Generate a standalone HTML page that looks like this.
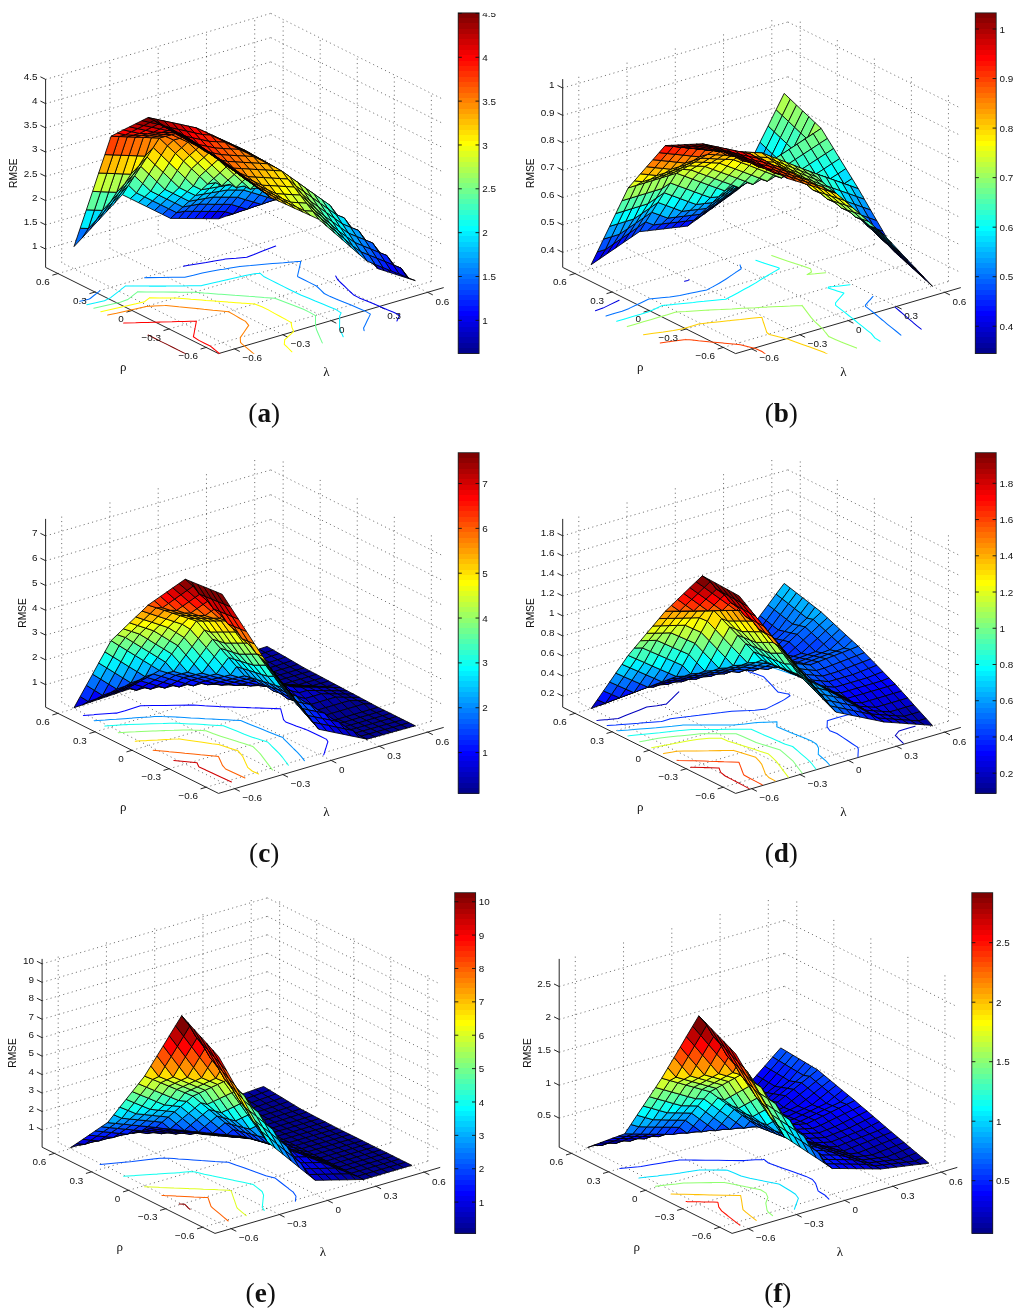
<!DOCTYPE html>
<html><head><meta charset="utf-8"><title>RMSE surfaces</title>
<style>html,body{margin:0;padding:0;background:#fff}body{width:1024px;height:1315px;overflow:hidden;font-family:"Liberation Sans",sans-serif}svg{display:block;will-change:transform;opacity:.999}</style>
</head><body>
<svg width="1024" height="1315" viewBox="0 0 1024 1315">
<rect width="1024" height="1315" fill="#fff"/>
<g><g stroke="#000" stroke-opacity="0.62" stroke-width="0.9" stroke-dasharray="1.1 3.3" fill="none"><line x1="234.59" y1="348.89" x2="61.69" y2="262.69"/><line x1="206.15" y1="347.44" x2="431.35" y2="281.44"/><line x1="61.69" y1="262.69" x2="61.69" y2="74.39"/><line x1="431.35" y1="281.44" x2="431.35" y2="93.14"/><line x1="282.84" y1="334.74" x2="109.94" y2="248.54"/><line x1="169.1" y1="328.97" x2="394.3" y2="262.97"/><line x1="109.94" y1="248.54" x2="109.94" y2="60.24"/><line x1="394.3" y1="262.97" x2="394.3" y2="74.67"/><line x1="331.1" y1="320.6" x2="158.2" y2="234.4"/><line x1="132.05" y1="310.5" x2="357.25" y2="244.5"/><line x1="158.2" y1="234.4" x2="158.2" y2="46.1"/><line x1="357.25" y1="244.5" x2="357.25" y2="56.2"/><line x1="379.36" y1="306.46" x2="206.46" y2="220.26"/><line x1="95" y1="292.03" x2="320.2" y2="226.03"/><line x1="206.46" y1="220.26" x2="206.46" y2="31.96"/><line x1="320.2" y1="226.03" x2="320.2" y2="37.73"/><line x1="427.61" y1="292.31" x2="254.71" y2="206.11"/><line x1="57.95" y1="273.56" x2="283.15" y2="207.56"/><line x1="254.71" y1="206.11" x2="254.71" y2="17.81"/><line x1="283.15" y1="207.56" x2="283.15" y2="19.26"/><line x1="45.6" y1="249.07" x2="270.8" y2="183.07"/><line x1="270.8" y1="183.07" x2="443.7" y2="269.27"/><line x1="45.6" y1="224.83" x2="270.8" y2="158.83"/><line x1="270.8" y1="158.83" x2="443.7" y2="245.03"/><line x1="45.6" y1="200.59" x2="270.8" y2="134.59"/><line x1="270.8" y1="134.59" x2="443.7" y2="220.79"/><line x1="45.6" y1="176.35" x2="270.8" y2="110.35"/><line x1="270.8" y1="110.35" x2="443.7" y2="196.55"/><line x1="45.6" y1="152.11" x2="270.8" y2="86.11"/><line x1="270.8" y1="86.11" x2="443.7" y2="172.31"/><line x1="45.6" y1="127.87" x2="270.8" y2="61.87"/><line x1="270.8" y1="61.87" x2="443.7" y2="148.07"/><line x1="45.6" y1="103.63" x2="270.8" y2="37.63"/><line x1="270.8" y1="37.63" x2="443.7" y2="123.83"/><line x1="45.6" y1="79.39" x2="270.8" y2="13.39"/><line x1="270.8" y1="13.39" x2="443.7" y2="99.59"/></g>
<g stroke="#1a1a1a" stroke-width="0.95" fill="none"><polyline points="45.6,79.1 45.6,267.4 218.5,353.6 443.7,287.6"/><line x1="206.15" y1="347.44" x2="200.58" y2="349.07"/><line x1="234.59" y1="348.89" x2="239.78" y2="351.47"/><line x1="169.1" y1="328.97" x2="163.53" y2="330.6"/><line x1="282.84" y1="334.74" x2="288.03" y2="337.33"/><line x1="132.05" y1="310.5" x2="126.48" y2="312.13"/><line x1="331.1" y1="320.6" x2="336.29" y2="323.19"/><line x1="95" y1="292.03" x2="89.43" y2="293.66"/><line x1="379.36" y1="306.46" x2="384.55" y2="309.04"/><line x1="57.95" y1="273.56" x2="52.38" y2="275.19"/><line x1="427.61" y1="292.31" x2="432.8" y2="294.9"/><line x1="45.6" y1="249.07" x2="40.41" y2="246.49"/><line x1="45.6" y1="224.83" x2="40.41" y2="222.25"/><line x1="45.6" y1="200.59" x2="40.41" y2="198.01"/><line x1="45.6" y1="176.35" x2="40.41" y2="173.76"/><line x1="45.6" y1="152.11" x2="40.41" y2="149.52"/><line x1="45.6" y1="127.87" x2="40.41" y2="125.28"/><line x1="45.6" y1="103.63" x2="40.41" y2="101.04"/><line x1="45.6" y1="79.39" x2="40.41" y2="76.8"/></g>
<clipPath id="clipa"><rect x="45.6" y="12.9" width="398.1" height="340.9"/></clipPath><g clip-path="url(#clipa)" fill="none" stroke-width="1.05" stroke-linecap="round"><path d="M183.4 266.3L187.2 265.6M196.7 264L187.2 265.6M206.2 262.4L196.7 264M215.7 260.7L206.2 262.4M223.6 259.4L215.7 260.7M223.6 259.4L225.2 259.1M236.1 258.2L225.2 259.1M246.8 257.2L236.1 258.2M254.1 254.4L246.8 257.2M261.3 251.6L254.1 254.4M268.5 248.8L261.3 251.6M275.7 246.1L268.5 248.8M335.7 276L337.7 279.7M337.7 279.7L341.6 283.5M341.6 283.5L345.5 287.2M345.7 287.3L349.4 291M345.5 287.2L345.7 287.3M349.4 291L353.3 294.7M353.3 294.7L359.2 297.9M359.2 297.9L366.2 300.7M366.2 300.7L373 303.6M373 303.6L379.9 306.5M379.9 306.5L386.7 309.4M386.7 309.4L393.6 312.2M393.6 312.2L399.7 315.3M397.6 319.6L396.9 321M399.7 315.3L397.6 319.6" stroke="#0000ef"/><path d="M83.6 300.4L79.9 301.3M93.9 295.5L90.2 298.5M98.9 291.6L93.9 295.5M100 290.7L98.9 291.6M144.6 277.7L147.4 277.6M159.9 277.5L147.4 277.6M162 277.5L159.9 277.5M83.6 300.4L88.7 299.3M90.2 298.5L88.7 299.3M162 277.5L172.4 277.3M179.4 277.2L172.4 277.3M179.4 277.2L184.8 277.2M193.5 275.2L184.8 277.2M202.3 273.1L193.5 275.2M211.3 271.3L202.3 273.1M220.8 269.6L211.3 271.3M223.7 269.2L220.8 269.6M223.7 269.2L230.3 268M239.8 266.4L230.3 268M250.7 265.5L239.8 266.4M253.9 265.2L250.7 265.5M253.9 265.2L261.6 264.5M272.5 263.6L261.6 264.5M277.4 263.2L272.5 263.6M277.4 263.2L283.5 262.7M294.4 261.8L283.5 262.7M300.8 261.2L294.4 261.8M300.1 264.6L299.7 266.4M300.8 261.2L300.1 264.6M298.8 270.3L298.5 271.7M299.7 266.4L298.8 270.3M297.5 276L297.9 276.7M298.5 271.7L297.5 276M297.9 276.7L304 279.8M304 279.8L310.2 282.9M310.2 282.9L316.4 286M316.4 286L320.3 289.7M320.3 289.7L324.2 293.5M324.2 293.5L330.3 296.6M330.3 296.6L337.2 299.4M337.2 299.4L344.1 302.3M344.1 302.3L351.1 305.1M351.1 305.1L357.9 308M357.9 308L364.8 310.9M364.8 310.9L370.4 314.1M368.6 317.9L367.6 319.8M370.4 314.1L368.6 317.9M366.1 323L364.9 325.5M367.6 319.8L366.1 323M363.6 328.1L364.1 330.7M364.9 325.5L363.6 328.1" stroke="#0070ff"/><path d="M125.6 285.9L121.1 289.4M133.1 285.9L125.6 285.9M115.8 293.7L111.3 297.2M120.7 289.8L115.8 293.7M121.1 289.4L120.7 289.8M133.1 285.9L138.6 286M149.3 286.1L138.6 286M95.7 302.8L86.8 304.7M104.5 300.8L95.7 302.8M110.8 297.6L104.5 300.8M111.3 297.2L110.8 297.6M149.3 286.1L151.6 286.1M164.4 286.1L151.6 286.1M165.9 286.1L164.4 286.1M165.9 286.1L176.9 286M183.3 285.9L176.9 286M183.3 285.9L189.4 285.8M200.7 285.7L189.4 285.8M200.7 285.7L201.8 285.6M210.5 283.6L201.8 285.6M219.3 281.6L210.5 283.6M228 279.6L219.3 281.6M236.7 277.6L228 279.6M245.4 275.6L236.7 277.6M254.4 273.7L245.4 275.6M259.9 273.2L254.4 273.7M259.9 273.2L264.2 276.8M264.2 276.8L270.3 279.9M270.3 279.9L276.5 283M276.5 283L282.7 286.1M282.7 286.1L288.9 289.2M288.9 289.2L295 292.2M295 292.2L301.3 295.3M301.3 295.3L308.3 298.1M308.3 298.1L315.2 301M315.2 301L322.1 303.8M322.1 303.8L329.1 306.7M329.1 306.7L336 309.6M336 309.6L341.1 312.9M339.6 316.1L339.6 318.3M341.1 312.9L339.6 316.1M339.6 322.5L339.6 323.2M339.6 318.3L339.6 322.5M339.6 323.2L339.5 328.1M339.8 329L341.3 332.4M339.5 328.1L339.8 329M341.3 332.4L343.2 336.8" stroke="#00efff"/><path d="M132.7 295.7L132.5 295.9M137.6 291.8L132.7 295.7M146.1 291.9L137.6 291.8M102.6 306.2L93.8 308.2M111.4 304.3L102.6 306.2M120.2 302.3L111.4 304.3M127.7 299.6L120.2 302.3M132.5 295.9L127.7 299.6M146.1 291.9L150.6 291.9M162.3 292L150.6 291.9M162.3 292L163.6 292M176.5 292.1L163.6 292M178.5 292.2L176.5 292.1M178.5 292.2L189.5 292.2M194.8 292.3L189.5 292.2M194.8 292.3L203.8 293M207.9 293.3L203.8 293M207.9 293.3L218.9 294.2M221.2 294.3L218.9 294.2M221.2 294.3L233.8 295.2M234.6 295.3L233.8 295.2M234.6 295.3L248 296.2M248 296.2L248.7 296.3M261.4 297.2L248.7 296.3M261.4 297.2L263.6 297.4M274.8 298.2L263.6 297.4M274.8 298.2L282 300.9M282 300.9L289.2 303.7M289.2 303.7L289.2 303.7M289.2 303.7L296.4 306.5M296.4 306.5L303.5 309.3M303.5 309.3L309.7 312.4M309.7 312.4L315.5 315.6M315.5 316.8L315.5 320.5M315.5 315.6L315.5 316.8M315.5 323.2L315.4 325.4M315.5 320.5L315.5 323.2M315.4 325.4L316.6 329.9M316.8 330.2L318.5 334.2M316.6 329.9L316.8 330.2M320.3 338.4L320.4 338.6M318.5 334.2L320.3 338.4M320.4 338.6L322.3 342.9" stroke="#70ff8f"/><path d="M109.6 309.7L100.8 311.7M118.4 307.7L109.6 309.7M127.2 305.7L118.4 307.7M136 303.8L127.2 305.7M144.6 301.7L136 303.8M149.5 297.8L144.6 301.7M159.1 297.9L149.5 297.8M159.1 297.9L162.5 297.9M175.3 298L162.5 297.9M175.3 298L175.5 298M188.5 299L175.5 298M188.5 299L190.7 299.2M201.7 300L190.7 299.2M201.7 300L205.8 300.4M214.8 301.1L205.8 300.4M214.8 301.1L220.9 301.5M228 302.1L220.9 301.5M228 302.1L236.1 302.7M241.3 303.1L236.1 302.7M241.3 303.1L251 303.8M254.7 304.1L251 303.8M254.7 304.1L261.9 306.8M261.9 306.8L268.3 309.9M268.3 309.9L274 313.1M274 313.1L279.8 316.2M279.8 316.2L285.6 319.4M285.6 319.4L291.4 322.6M291.3 323.9L291.9 327.4M291.4 322.6L291.3 323.9M293.7 331.5L293.4 331.8M291.9 327.4L293.7 331.5M289.2 335.6L285.4 339.1M293.4 331.8L289.2 335.6M284.7 339.7L284.3 344.3M285.4 339.1L284.7 339.7M287.5 347.4L288.1 348M284.3 344.3L287.5 347.4M288.1 348L291.9 351.8" stroke="#ffff00"/><path d="M116.6 313.2L107.7 315.1M125.4 311.2L116.6 313.2M134.2 309.2L125.4 311.2M143 307.2L134.2 309.2M146.2 306.5L143 307.2M146.2 306.5L153.5 306.1M165 305.5L153.5 306.1M166.1 305.6L165 305.5M166.1 305.6L178.6 306.8M178.6 306.8L180.9 307M191.1 308L180.9 307M191.1 308L196.8 308.6M203.6 309.3L196.8 308.6M203.6 309.3L212.7 310.2M216.1 310.5L212.7 310.2M216.1 310.5L228.6 311.7M228.6 311.7L228.6 311.7M228.6 311.7L234.2 314.9M228.6 311.7L228.6 311.7M234.2 314.9L239.8 318.2M239.8 318.2L245.5 321.4M245.5 321.4L248.7 325.4M247.3 327.4L244.5 331.5M248.7 325.4L247.3 327.4M240.8 336.9L240.3 337.6M244 332.2L240.8 336.9M244.5 331.5L244 332.2M240.3 337.6L240.5 342.4M241.9 343.8L244.6 346.1M240.5 342.4L241.9 343.8M244.6 346.1L248.9 349.7M248.9 349.7L253.3 353.4M253.3 353.4L257.6 357M257.6 357L262.5 360.4" stroke="#ff8000"/><path d="M135.8 322.8L123.7 323.1M141.3 322.6L135.8 322.8M141.3 322.6L147.9 322.4M159.7 322.1L147.9 322.4M159.7 322.1L160 322.1M172.2 321.8L160 322.1M178 321.6L172.2 321.8M178 321.6L184.3 321.5M196.4 321.1L184.3 321.5M196.4 321.1L196.4 321.1M196.4 321.1L195.4 326.3M196.4 321.1L196.4 321.1M195.3 327L194.4 331.5M195.4 326.3L195.3 327M194.2 332.8L193.4 336.7M194.4 331.5L194.2 332.8M193.4 336.7L198.4 340.1M198.4 340.1L204.5 343.2M204.5 343.2L210.7 346.3M213.9 349L215 349.9M210.7 346.3L213.9 349M215 349.9L219.3 353.5M219.3 353.5L224 357.1M224 357.1L229 360.5M229 360.5L234.1 363.9M234.1 363.9L239.1 367.3" stroke="#ff0000"/><path d="M148.6 335.1L147.9 335.2M148.6 335.1L154.6 338.3M154.6 338.3L160.7 341.4M160.7 341.4L166.9 344.4M166.9 344.4L173.1 347.5M173.1 347.5L179.3 350.6M179.3 350.6L185.4 353.7M185.4 353.7L186.5 354.4" stroke="#800000"/></g>
<g stroke="#000" stroke-width="0.85" stroke-linejoin="round"><polygon points="259,203.7 267.1,200.7 273.2,199 265.2,202" fill="#0000df"/><polygon points="251,206.7 259,203.7 265.2,202 257.2,205" fill="#0000df"/><polygon points="242.9,209.7 251,206.7 257.2,205 249.1,208" fill="#0000cf"/><polygon points="265.2,202 273.2,199 279.4,197.2 271.4,200.2" fill="#0000ef"/><polygon points="234.9,212.7 242.9,209.7 249.1,208 241.1,211" fill="#0000cf"/><polygon points="257.2,205 265.2,202 271.4,200.2 263.3,203.2" fill="#0000ef"/><polygon points="226.9,215.8 234.9,212.7 241.1,211 233,214" fill="#0000cf"/><polygon points="249.1,208 257.2,205 263.3,203.2 255.3,206.2" fill="#0000ef"/><polygon points="271.4,200.2 279.4,197.2 285.6,195.4 277.5,198.4" fill="#0010ff"/><polygon points="241.1,211 249.1,208 255.3,206.2 247.2,209.2" fill="#0000ef"/><polygon points="218.8,218.8 226.9,215.8 233,214 225,211.6" fill="#0000ef"/><polygon points="263.3,203.2 271.4,200.2 277.5,198.4 269.5,201.4" fill="#0010ff"/><polygon points="255.3,206.2 263.3,203.2 269.5,201.4 261.5,204.4" fill="#0010ff"/><polygon points="233,214 241.1,211 247.2,209.2 239.2,206.8" fill="#0000ff"/><polygon points="277.5,198.4 285.6,195.4 291.8,193.7 283.7,196.7" fill="#0030ff"/><polygon points="210.8,218.7 218.8,218.8 225,211.6 216.9,211.5" fill="#0000ef"/><polygon points="269.5,201.4 277.5,198.4 283.7,196.7 275.7,199.7" fill="#0030ff"/><polygon points="247.2,209.2 255.3,206.2 261.5,204.4 253.4,202" fill="#0020ff"/><polygon points="225,211.6 233,214 239.2,206.8 231.2,204.4" fill="#0020ff"/><polygon points="202.7,218.6 210.8,218.7 216.9,211.5 208.9,211.4" fill="#0000ff"/><polygon points="283.7,196.7 291.8,193.7 297.9,191.9 289.9,194.9" fill="#0040ff"/><polygon points="261.5,204.4 269.5,201.4 275.7,199.7 267.6,197.3" fill="#0040ff"/><polygon points="239.2,206.8 247.2,209.2 253.4,202 245.4,199.6" fill="#0040ff"/><polygon points="194.7,218.6 202.7,218.6 208.9,211.4 200.9,211.4" fill="#0010ff"/><polygon points="216.9,211.5 225,211.6 231.2,204.4 223.1,204.3" fill="#0030ff"/><polygon points="275.7,199.7 283.7,196.7 289.9,194.9 281.9,192.5" fill="#0060ff"/><polygon points="253.4,202 261.5,204.4 267.6,197.3 259.6,194.8" fill="#0060ff"/><polygon points="231.2,204.4 239.2,206.8 245.4,199.6 237.3,197.2" fill="#0060ff"/><polygon points="186.6,218.5 194.7,218.6 200.9,211.4 192.8,211.3" fill="#0020ff"/><polygon points="289.9,194.9 297.9,191.9 304.1,190.1 296.1,187.7" fill="#0080ff"/><polygon points="208.9,211.4 216.9,211.5 223.1,204.3 215.1,204.3" fill="#0040ff"/><polygon points="267.6,197.3 275.7,199.7 281.9,192.5 273.8,190.1" fill="#0080ff"/><polygon points="245.4,199.6 253.4,202 259.6,194.8 251.6,192.4" fill="#0070ff"/><polygon points="178.6,218.4 186.6,218.5 192.8,211.3 184.8,211.2" fill="#0030ff"/><polygon points="200.9,211.4 208.9,211.4 215.1,204.3 207,204.2" fill="#0050ff"/><polygon points="223.1,204.3 231.2,204.4 237.3,197.2 229.3,197.1" fill="#0060ff"/><polygon points="281.9,192.5 289.9,194.9 296.1,187.7 288,185.3" fill="#009fff"/><polygon points="296.1,187.7 304.1,190.1 310.3,197.6 302.2,195.1" fill="#0060ff"/><polygon points="259.6,194.8 267.6,197.3 273.8,190.1 265.8,187.7" fill="#008fff"/><polygon points="302.2,195.1 310.3,197.6 316.5,205 308.4,202.6" fill="#0050ff"/><polygon points="170.6,218.4 178.6,218.4 184.8,211.2 176.7,212.6" fill="#0030ff"/><polygon points="237.3,197.2 245.4,199.6 251.6,192.4 243.5,190" fill="#008fff"/><polygon points="192.8,211.3 200.9,211.4 207,204.2 199,204.1" fill="#0050ff"/><polygon points="215.1,204.3 223.1,204.3 229.3,197.1 221.2,197.1" fill="#0070ff"/><polygon points="308.4,202.6 316.5,205 322.6,212.4 314.6,210" fill="#0030ff"/><polygon points="273.8,190.1 281.9,192.5 288,185.3 280,182.9" fill="#00afff"/><polygon points="288,185.3 296.1,187.7 302.2,195.1 294.2,192.7" fill="#0080ff"/><polygon points="314.6,210 322.6,212.4 328.8,219.9 320.8,217.5" fill="#0020ff"/><polygon points="251.6,192.4 259.6,194.8 265.8,187.7 257.7,185.2" fill="#00afff"/><polygon points="294.2,192.7 302.2,195.1 308.4,202.6 300.4,200.2" fill="#0070ff"/><polygon points="184.8,211.2 192.8,211.3 199,204.1 190.9,205.5" fill="#0060ff"/><polygon points="207,204.2 215.1,204.3 221.2,197.1 213.2,197" fill="#0080ff"/><polygon points="162.5,214.4 170.6,218.4 176.7,212.6 168.7,208.7" fill="#0050ff"/><polygon points="229.3,197.1 237.3,197.2 243.5,190 235.5,190" fill="#009fff"/><polygon points="320.8,217.5 328.8,219.9 335,227.3 326.9,224.9" fill="#0010ff"/><polygon points="300.4,200.2 308.4,202.6 314.6,210 306.6,207.6" fill="#0050ff"/><polygon points="265.8,187.7 273.8,190.1 280,182.9 271.9,180.5" fill="#00cfff"/><polygon points="280,182.9 288,185.3 294.2,192.7 286.2,190.3" fill="#009fff"/><polygon points="326.9,224.9 335,227.3 341.2,234.8 333.1,228" fill="#0010ff"/><polygon points="176.7,212.6 184.8,211.2 190.9,205.5 182.9,206.9" fill="#0060ff"/><polygon points="306.6,207.6 314.6,210 320.8,217.5 312.7,215.1" fill="#0040ff"/><polygon points="199,204.1 207,204.2 213.2,197 205.2,198.4" fill="#0080ff"/><polygon points="243.5,190 251.6,192.4 257.7,185.2 249.7,182.8" fill="#00cfff"/><polygon points="221.2,197.1 229.3,197.1 235.5,190 227.4,189.9" fill="#00afff"/><polygon points="286.2,190.3 294.2,192.7 300.4,200.2 292.3,197.8" fill="#0080ff"/><polygon points="154.5,210.5 162.5,214.4 168.7,208.7 160.6,204.7" fill="#0070ff"/><polygon points="333.1,228 341.2,234.8 347.3,240.4 339.3,233.7" fill="#0000ff"/><polygon points="312.7,215.1 320.8,217.5 326.9,224.9 318.9,218.1" fill="#0040ff"/><polygon points="292.3,197.8 300.4,200.2 306.6,207.6 298.5,205.2" fill="#0070ff"/><polygon points="257.7,185.2 265.8,187.7 271.9,180.5 263.9,178.1" fill="#00dfff"/><polygon points="271.9,180.5 280,182.9 286.2,190.3 278.1,187.9" fill="#00afff"/><polygon points="190.9,205.5 199,204.1 205.2,198.4 197.1,199.8" fill="#008fff"/><polygon points="168.7,208.7 176.7,212.6 182.9,206.9 174.9,202.9" fill="#0080ff"/><polygon points="213.2,197 221.2,197.1 227.4,189.9 219.4,191.3" fill="#00afff"/><polygon points="235.5,190 243.5,190 249.7,182.8 241.6,182.8" fill="#00cfff"/><polygon points="339.3,233.7 347.3,240.4 353.5,246.1 345.5,239.3" fill="#0000ef"/><polygon points="298.5,205.2 306.6,207.6 312.7,215.1 304.7,208.3" fill="#0070ff"/><polygon points="278.1,187.9 286.2,190.3 292.3,197.8 284.3,195.4" fill="#009fff"/><polygon points="318.9,218.1 326.9,224.9 333.1,228 325.1,221.2" fill="#0040ff"/><polygon points="182.9,206.9 190.9,205.5 197.1,199.8 189.1,201.2" fill="#008fff"/><polygon points="146.4,206.5 154.5,210.5 160.6,204.7 152.6,200.8" fill="#008fff"/><polygon points="345.5,239.3 353.5,246.1 359.7,251.8 351.6,245" fill="#0000df"/><polygon points="205.2,198.4 213.2,197 219.4,191.3 211.3,192.7" fill="#00afff"/><polygon points="284.3,195.4 292.3,197.8 298.5,205.2 290.5,198.4" fill="#009fff"/><polygon points="249.7,182.8 257.7,185.2 263.9,178.1 255.9,175.7" fill="#00ffff"/><polygon points="263.9,178.1 271.9,180.5 278.1,187.9 270.1,185.5" fill="#00cfff"/><polygon points="227.4,189.9 235.5,190 241.6,182.8 233.6,184.2" fill="#00dfff"/><polygon points="304.7,208.3 312.7,215.1 318.9,218.1 310.9,211.4" fill="#0070ff"/><polygon points="325.1,221.2 333.1,228 339.3,233.7 331.3,226.9" fill="#0030ff"/><polygon points="160.6,204.7 168.7,208.7 174.9,202.9 166.8,199" fill="#009fff"/><polygon points="351.6,245 359.7,251.8 365.9,257.4 357.8,250.7" fill="#0000cf"/><polygon points="270.1,185.5 278.1,187.9 284.3,195.4 276.3,188.6" fill="#00cfff"/><polygon points="197.1,199.8 205.2,198.4 211.3,192.7 203.3,194.1" fill="#00bfff"/><polygon points="290.5,198.4 298.5,205.2 304.7,208.3 296.6,201.5" fill="#009fff"/><polygon points="174.9,202.9 182.9,206.9 189.1,201.2 181,197.2" fill="#00afff"/><polygon points="331.3,226.9 339.3,233.7 345.5,239.3 337.4,232.5" fill="#0020ff"/><polygon points="219.4,191.3 227.4,189.9 233.6,184.2 225.6,185.5" fill="#00dfff"/><polygon points="310.9,211.4 318.9,218.1 325.1,221.2 317,214.4" fill="#0070ff"/><polygon points="241.6,182.8 249.7,182.8 255.9,175.7 247.8,177" fill="#00ffff"/><polygon points="138.4,202.6 146.4,206.5 152.6,200.8 144.6,196.8" fill="#00bfff"/><polygon points="357.8,250.7 365.9,257.4 372,263.1 364,256.3" fill="#0000bf"/><polygon points="255.9,175.7 263.9,178.1 270.1,185.5 262,178.7" fill="#00ffff"/><polygon points="276.3,188.6 284.3,195.4 290.5,198.4 282.4,191.7" fill="#00cfff"/><polygon points="337.4,232.5 345.5,239.3 351.6,245 343.6,238.2" fill="#0010ff"/><polygon points="189.1,201.2 197.1,199.8 203.3,194.1 195.3,195.4" fill="#00bfff"/><polygon points="152.6,200.8 160.6,204.7 166.8,199 158.8,195.1" fill="#00bfff"/><polygon points="296.6,201.5 304.7,208.3 310.9,211.4 302.8,204.6" fill="#009fff"/><polygon points="211.3,192.7 219.4,191.3 225.6,185.5 217.5,186.9" fill="#00dfff"/><polygon points="317,214.4 325.1,221.2 331.3,226.9 323.2,220.1" fill="#0060ff"/><polygon points="233.6,184.2 241.6,182.8 247.8,177 239.8,178.4" fill="#10ffef"/><polygon points="364,256.3 372,263.1 378.2,268.8 370.2,258.2" fill="#0000cf"/><polygon points="166.8,199 174.9,202.9 181,197.2 173,193.3" fill="#00cfff"/><polygon points="262,178.7 270.1,185.5 276.3,188.6 268.2,181.8" fill="#00ffff"/><polygon points="343.6,238.2 351.6,245 357.8,250.7 349.8,243.9" fill="#0000ff"/><polygon points="282.4,191.7 290.5,198.4 296.6,201.5 288.6,194.7" fill="#00cfff"/><polygon points="247.8,177 255.9,175.7 262,178.7 254,180.1" fill="#00ffff"/><polygon points="323.2,220.1 331.3,226.9 337.4,232.5 329.4,225.8" fill="#0050ff"/><polygon points="203.3,194.1 211.3,192.7 217.5,186.9 209.5,188.3" fill="#00efff"/><polygon points="130.3,198.6 138.4,202.6 144.6,196.8 136.5,192.9" fill="#00dfff"/><polygon points="181,197.2 189.1,201.2 195.3,195.4 187.2,191.5" fill="#00dfff"/><polygon points="302.8,204.6 310.9,211.4 317,214.4 309,207.7" fill="#009fff"/><polygon points="225.6,185.5 233.6,184.2 239.8,178.4 231.7,179.8" fill="#10ffef"/><polygon points="370.2,258.2 378.2,268.8 384.4,270.7 376.3,260.2" fill="#0000cf"/><polygon points="349.8,243.9 357.8,250.7 364,256.3 356,245.7" fill="#0010ff"/><polygon points="144.6,196.8 152.6,200.8 158.8,195.1 150.7,191.1" fill="#00efff"/><polygon points="268.2,181.8 276.3,188.6 282.4,191.7 274.4,184.9" fill="#00ffff"/><polygon points="329.4,225.8 337.4,232.5 343.6,238.2 335.6,231.4" fill="#0040ff"/><polygon points="239.8,178.4 247.8,177 254,180.1 245.9,181.5" fill="#10ffef"/><polygon points="195.3,195.4 203.3,194.1 209.5,188.3 201.4,189.7" fill="#00efff"/><polygon points="288.6,194.7 296.6,201.5 302.8,204.6 294.8,197.8" fill="#00cfff"/><polygon points="254,180.1 262,178.7 268.2,181.8 260.2,183.2" fill="#00ffff"/><polygon points="309,207.7 317,214.4 323.2,220.1 315.2,213.3" fill="#008fff"/><polygon points="158.8,195.1 166.8,199 173,193.3 164.9,189.3" fill="#00efff"/><polygon points="217.5,186.9 225.6,185.5 231.7,179.8 223.7,181.2" fill="#10ffef"/><polygon points="356,245.7 364,256.3 370.2,258.2 362.1,247.6" fill="#0010ff"/><polygon points="335.6,231.4 343.6,238.2 349.8,243.9 341.7,233.3" fill="#0040ff"/><polygon points="173,193.3 181,197.2 187.2,191.5 179.2,187.5" fill="#00ffff"/><polygon points="122.3,194.7 130.3,198.6 136.5,192.9 128.5,185.2" fill="#10ffef"/><polygon points="376.3,260.2 384.4,270.7 390.6,272.7 382.5,262.1" fill="#0000cf"/><polygon points="274.4,184.9 282.4,191.7 288.6,194.7 280.6,188" fill="#00ffff"/><polygon points="231.7,179.8 239.8,178.4 245.9,181.5 237.9,182.9" fill="#10ffef"/><polygon points="315.2,213.3 323.2,220.1 329.4,225.8 321.3,219" fill="#0080ff"/><polygon points="245.9,181.5 254,180.1 260.2,183.2 252.1,184.6" fill="#10ffef"/><polygon points="294.8,197.8 302.8,204.6 309,207.7 301,200.9" fill="#00cfff"/><polygon points="260.2,183.2 268.2,181.8 274.4,184.9 266.3,186.3" fill="#00ffff"/><polygon points="209.5,188.3 217.5,186.9 223.7,181.2 215.6,182.6" fill="#20ffdf"/><polygon points="187.2,191.5 195.3,195.4 201.4,189.7 193.4,185.8" fill="#10ffef"/><polygon points="136.5,192.9 144.6,196.8 150.7,191.1 142.7,183.5" fill="#20ffdf"/><polygon points="114.3,203.3 122.3,194.7 128.5,185.2 120.4,193.9" fill="#00efff"/><polygon points="106.2,212 114.3,203.3 120.4,193.9 112.4,202.6" fill="#00cfff"/><polygon points="341.7,233.3 349.8,243.9 356,245.7 347.9,235.2" fill="#0050ff"/><polygon points="321.3,219 329.4,225.8 335.6,231.4 327.5,220.9" fill="#0080ff"/><polygon points="223.7,181.2 231.7,179.8 237.9,182.9 229.9,184.3" fill="#10ffef"/><polygon points="150.7,191.1 158.8,195.1 164.9,189.3 156.9,181.7" fill="#30ffcf"/><polygon points="98.2,220.7 106.2,212 112.4,202.6 104.3,211.2" fill="#00afff"/><polygon points="362.1,247.6 370.2,258.2 376.3,260.2 368.3,249.6" fill="#0010ff"/><polygon points="280.6,188 288.6,194.7 294.8,197.8 286.7,191" fill="#00ffff"/><polygon points="237.9,182.9 245.9,181.5 252.1,184.6 244.1,186" fill="#10ffef"/><polygon points="382.5,262.1 390.6,272.7 396.7,274.7 388.7,264.1" fill="#0000df"/><polygon points="90.1,229.3 98.2,220.7 104.3,211.2 96.3,219.9" fill="#008fff"/><polygon points="301,200.9 309,207.7 315.2,213.3 307.1,206.6" fill="#00bfff"/><polygon points="82.1,238 90.1,229.3 96.3,219.9 88.3,228.5" fill="#0060ff"/><polygon points="252.1,184.6 260.2,183.2 266.3,186.3 258.3,187.7" fill="#10ffef"/><polygon points="201.4,189.7 209.5,188.3 215.6,182.6 207.6,184" fill="#20ffdf"/><polygon points="266.3,186.3 274.4,184.9 280.6,188 272.5,189.4" fill="#00ffff"/><polygon points="164.9,189.3 173,193.3 179.2,187.5 171.1,179.9" fill="#40ffbf"/><polygon points="74,246.6 82.1,238 88.3,228.5 80.2,228.2" fill="#0070ff"/><polygon points="215.6,182.6 223.7,181.2 229.9,184.3 221.8,185.7" fill="#20ffdf"/><polygon points="327.5,220.9 335.6,231.4 341.7,233.3 333.7,222.7" fill="#008fff"/><polygon points="229.9,184.3 237.9,182.9 244.1,186 236,187.4" fill="#10ffef"/><polygon points="307.1,206.6 315.2,213.3 321.3,219 313.3,208.4" fill="#00bfff"/><polygon points="179.2,187.5 187.2,191.5 193.4,185.8 185.3,178.1" fill="#50ffaf"/><polygon points="286.7,191 294.8,197.8 301,200.9 292.9,194.1" fill="#00ffff"/><polygon points="347.9,235.2 356,245.7 362.1,247.6 354.1,237" fill="#0050ff"/><polygon points="244.1,186 252.1,184.6 258.3,187.7 250.3,189.1" fill="#10ffef"/><polygon points="368.3,249.6 376.3,260.2 382.5,262.1 374.5,251.6" fill="#0020ff"/><polygon points="388.7,264.1 396.7,274.7 402.9,276.7 394.9,266.1" fill="#0000df"/><polygon points="258.3,187.7 266.3,186.3 272.5,189.4 264.5,190.7" fill="#10ffef"/><polygon points="128.5,185.2 136.5,192.9 142.7,183.5 134.6,175.8" fill="#50ffaf"/><polygon points="272.5,189.4 280.6,188 286.7,191 278.7,192.4" fill="#00ffff"/><polygon points="193.4,185.8 201.4,189.7 207.6,184 199.6,176.3" fill="#50ffaf"/><polygon points="142.7,183.5 150.7,191.1 156.9,181.7 148.9,174" fill="#60ff9f"/><polygon points="207.6,184 215.6,182.6 221.8,185.7 213.8,178.3" fill="#50ffaf"/><polygon points="313.3,208.4 321.3,219 327.5,220.9 319.5,210.3" fill="#00cfff"/><polygon points="292.9,194.1 301,200.9 307.1,206.6 299.1,196" fill="#00ffff"/><polygon points="221.8,185.7 229.9,184.3 236,187.4 228,180" fill="#50ffaf"/><polygon points="333.7,222.7 341.7,233.3 347.9,235.2 339.9,224.6" fill="#008fff"/><polygon points="354.1,237 362.1,247.6 368.3,249.6 360.3,239" fill="#0060ff"/><polygon points="120.4,193.9 128.5,185.2 134.6,175.8 126.6,184.4" fill="#30ffcf"/><polygon points="236,187.4 244.1,186 250.3,189.1 242.2,181.7" fill="#40ffbf"/><polygon points="156.9,181.7 164.9,189.3 171.1,179.9 163.1,172.2" fill="#70ff8f"/><polygon points="374.5,251.6 382.5,262.1 388.7,264.1 380.7,253.5" fill="#0020ff"/><polygon points="112.4,202.6 120.4,193.9 126.6,184.4 118.6,193.1" fill="#10ffef"/><polygon points="250.3,189.1 258.3,187.7 264.5,190.7 256.4,183.4" fill="#40ffbf"/><polygon points="394.9,266.1 402.9,276.7 409.1,278.7 401,268.1" fill="#0000df"/><polygon points="104.3,211.2 112.4,202.6 118.6,193.1 110.5,201.8" fill="#00efff"/><polygon points="96.3,219.9 104.3,211.2 110.5,201.8 102.5,210.4" fill="#00cfff"/><polygon points="264.5,190.7 272.5,189.4 278.7,192.4 270.6,185.1" fill="#40ffbf"/><polygon points="278.7,192.4 286.7,191 292.9,194.1 284.9,186.8" fill="#30ffcf"/><polygon points="171.1,179.9 179.2,187.5 185.3,178.1 177.3,170.4" fill="#80ff80"/><polygon points="88.3,228.5 96.3,219.9 102.5,210.4 94.4,210.1" fill="#00dfff"/><polygon points="299.1,196 307.1,206.6 313.3,208.4 305.3,197.9" fill="#10ffef"/><polygon points="319.5,210.3 327.5,220.9 333.7,222.7 325.7,212.2" fill="#00cfff"/><polygon points="339.9,224.6 347.9,235.2 354.1,237 346,226.5" fill="#009fff"/><polygon points="185.3,178.1 193.4,185.8 199.6,176.3 191.5,168.7" fill="#8fff70"/><polygon points="401,268.1 409.1,278.7 415.3,280.6 407.2,277.4" fill="#0000bf"/><polygon points="360.3,239 368.3,249.6 374.5,251.6 366.4,241" fill="#0060ff"/><polygon points="380.7,253.5 388.7,264.1 394.9,266.1 386.8,255.5" fill="#0020ff"/><polygon points="199.6,176.3 207.6,184 213.8,178.3 205.7,170.7" fill="#80ff80"/><polygon points="134.6,175.8 142.7,183.5 148.9,174 140.8,166.3" fill="#9fff60"/><polygon points="80.2,228.2 88.3,228.5 94.4,210.1 86.4,209.8" fill="#00efff"/><polygon points="213.8,178.3 221.8,185.7 228,180 220,172.7" fill="#80ff80"/><polygon points="228,180 236,187.4 242.2,181.7 234.2,174.4" fill="#80ff80"/><polygon points="284.9,186.8 292.9,194.1 299.1,196 291,188.7" fill="#40ffbf"/><polygon points="242.2,181.7 250.3,189.1 256.4,183.4 248.4,176.1" fill="#70ff8f"/><polygon points="256.4,183.4 264.5,190.7 270.6,185.1 262.6,177.8" fill="#70ff8f"/><polygon points="148.9,174 156.9,181.7 163.1,172.2 155,164.6" fill="#afff50"/><polygon points="305.3,197.9 313.3,208.4 319.5,210.3 311.4,199.7" fill="#10ffef"/><polygon points="270.6,185.1 278.7,192.4 284.9,186.8 276.8,179.4" fill="#70ff8f"/><polygon points="325.7,212.2 333.7,222.7 339.9,224.6 331.8,214" fill="#00dfff"/><polygon points="386.8,255.5 394.9,266.1 401,268.1 393,264.8" fill="#0000ff"/><polygon points="346,226.5 354.1,237 360.3,239 352.2,228.4" fill="#009fff"/><polygon points="366.4,241 374.5,251.6 380.7,253.5 372.6,243" fill="#0060ff"/><polygon points="126.6,184.4 134.6,175.8 140.8,166.3 132.8,175" fill="#80ff80"/><polygon points="163.1,172.2 171.1,179.9 177.3,170.4 169.3,162.8" fill="#afff50"/><polygon points="118.6,193.1 126.6,184.4 132.8,175 124.7,183.7" fill="#50ffaf"/><polygon points="110.5,201.8 118.6,193.1 124.7,183.7 116.7,192.3" fill="#30ffcf"/><polygon points="393,264.8 401,268.1 407.2,277.4 399.2,274.1" fill="#0000df"/><polygon points="291,188.7 299.1,196 305.3,197.9 297.2,190.5" fill="#40ffbf"/><polygon points="102.5,210.4 110.5,201.8 116.7,192.3 108.6,192" fill="#40ffbf"/><polygon points="177.3,170.4 185.3,178.1 191.5,168.7 183.5,161" fill="#bfff40"/><polygon points="311.4,199.7 319.5,210.3 325.7,212.2 317.6,201.6" fill="#20ffdf"/><polygon points="372.6,243 380.7,253.5 386.8,255.5 378.8,252.3" fill="#0040ff"/><polygon points="331.8,214 339.9,224.6 346,226.5 338,215.9" fill="#00dfff"/><polygon points="191.5,168.7 199.6,176.3 205.7,170.7 197.7,163" fill="#bfff40"/><polygon points="352.2,228.4 360.3,239 366.4,241 358.4,230.4" fill="#009fff"/><polygon points="205.7,170.7 213.8,178.3 220,172.7 211.9,165" fill="#afff50"/><polygon points="220,172.7 228,180 234.2,174.4 226.1,167" fill="#afff50"/><polygon points="276.8,179.4 284.9,186.8 291,188.7 283,181.3" fill="#70ff8f"/><polygon points="234.2,174.4 242.2,181.7 248.4,176.1 240.3,168.7" fill="#afff50"/><polygon points="248.4,176.1 256.4,183.4 262.6,177.8 254.6,170.4" fill="#9fff60"/><polygon points="94.4,210.1 102.5,210.4 108.6,192 100.6,191.7" fill="#50ffaf"/><polygon points="378.8,252.3 386.8,255.5 393,264.8 385,261.6" fill="#0020ff"/><polygon points="140.8,166.3 148.9,174 155,164.6 147,156.9" fill="#dfff20"/><polygon points="262.6,177.8 270.6,185.1 276.8,179.4 268.8,172.1" fill="#9fff60"/><polygon points="297.2,190.5 305.3,197.9 311.4,199.7 303.4,192.4" fill="#50ffaf"/><polygon points="385,261.6 393,264.8 399.2,274.1 391.1,270.9" fill="#0000ff"/><polygon points="358.4,230.4 366.4,241 372.6,243 364.6,239.7" fill="#0080ff"/><polygon points="317.6,201.6 325.7,212.2 331.8,214 323.8,203.5" fill="#20ffdf"/><polygon points="155,164.6 163.1,172.2 169.3,162.8 161.2,155.1" fill="#efff10"/><polygon points="338,215.9 346,226.5 352.2,228.4 344.2,217.9" fill="#00dfff"/><polygon points="283,181.3 291,188.7 297.2,190.5 289.2,183.2" fill="#70ff8f"/><polygon points="132.8,175 140.8,166.3 147,156.9 139,165.6" fill="#bfff40"/><polygon points="364.6,239.7 372.6,243 378.8,252.3 370.7,249" fill="#0060ff"/><polygon points="86.4,209.8 94.4,210.1 100.6,191.7 92.6,191.4" fill="#60ff9f"/><polygon points="169.3,162.8 177.3,170.4 183.5,161 175.4,153.3" fill="#ffff00"/><polygon points="124.7,183.7 132.8,175 139,165.6 130.9,174.2" fill="#9fff60"/><polygon points="183.5,161 191.5,168.7 197.7,163 189.6,155.3" fill="#efff10"/><polygon points="370.7,249 378.8,252.3 385,261.6 376.9,258.3" fill="#0040ff"/><polygon points="303.4,192.4 311.4,199.7 317.6,201.6 309.6,194.3" fill="#50ffaf"/><polygon points="116.7,192.3 124.7,183.7 130.9,174.2 122.9,173.9" fill="#afff50"/><polygon points="197.7,163 205.7,170.7 211.9,165 203.9,157.4" fill="#efff10"/><polygon points="211.9,165 220,172.7 226.1,167 218.1,159.4" fill="#dfff20"/><polygon points="344.2,217.9 352.2,228.4 358.4,230.4 350.4,227.2" fill="#00bfff"/><polygon points="268.8,172.1 276.8,179.4 283,181.3 275,174" fill="#9fff60"/><polygon points="226.1,167 234.2,174.4 240.3,168.7 232.3,161.4" fill="#dfff20"/><polygon points="323.8,203.5 331.8,214 338,215.9 330,205.3" fill="#30ffcf"/><polygon points="376.9,258.3 385,261.6 391.1,270.9 383.1,267.6" fill="#0020ff"/><polygon points="240.3,168.7 248.4,176.1 254.6,170.4 246.5,163.1" fill="#dfff20"/><polygon points="254.6,170.4 262.6,177.8 268.8,172.1 260.7,164.8" fill="#cfff30"/><polygon points="350.4,227.2 358.4,230.4 364.6,239.7 356.5,236.5" fill="#009fff"/><polygon points="289.2,183.2 297.2,190.5 303.4,192.4 295.3,185" fill="#80ff80"/><polygon points="108.6,192 116.7,192.3 122.9,173.9 114.8,173.6" fill="#afff50"/><polygon points="147,156.9 155,164.6 161.2,155.1 153.2,147.5" fill="#ffdf00"/><polygon points="356.5,236.5 364.6,239.7 370.7,249 362.7,245.8" fill="#0080ff"/><polygon points="309.6,194.3 317.6,201.6 323.8,203.5 315.7,196.1" fill="#50ffaf"/><polygon points="330,205.3 338,215.9 344.2,217.9 336.1,214.6" fill="#00ffff"/><polygon points="362.7,245.8 370.7,249 376.9,258.3 368.9,255.1" fill="#0060ff"/><polygon points="275,174 283,181.3 289.2,183.2 281.1,175.8" fill="#afff50"/><polygon points="161.2,155.1 169.3,162.8 175.4,153.3 167.4,145.7" fill="#ffcf00"/><polygon points="368.9,255.1 376.9,258.3 383.1,267.6 375.1,264.4" fill="#0040ff"/><polygon points="336.1,214.6 344.2,217.9 350.4,227.2 342.3,223.9" fill="#00dfff"/><polygon points="175.4,153.3 183.5,161 189.6,155.3 181.6,147.7" fill="#ffcf00"/><polygon points="295.3,185 303.4,192.4 309.6,194.3 301.5,186.9" fill="#80ff80"/><polygon points="189.6,155.3 197.7,163 203.9,157.4 195.8,149.7" fill="#ffdf00"/><polygon points="100.6,191.7 108.6,192 114.8,173.6 106.8,173.3" fill="#bfff40"/><polygon points="139,165.6 147,156.9 153.2,147.5 145.1,156.1" fill="#ffff00"/><polygon points="203.9,157.4 211.9,165 218.1,159.4 210,151.7" fill="#ffdf00"/><polygon points="260.7,164.8 268.8,172.1 275,174 266.9,166.6" fill="#dfff20"/><polygon points="342.3,223.9 350.4,227.2 356.5,236.5 348.5,233.2" fill="#00bfff"/><polygon points="218.1,159.4 226.1,167 232.3,161.4 224.3,153.7" fill="#ffef00"/><polygon points="232.3,161.4 240.3,168.7 246.5,163.1 238.5,155.7" fill="#ffef00"/><polygon points="315.7,196.1 323.8,203.5 330,205.3 321.9,199.6" fill="#50ffaf"/><polygon points="130.9,174.2 139,165.6 145.1,156.1 137.1,155.8" fill="#ffef00"/><polygon points="246.5,163.1 254.6,170.4 260.7,164.8 252.7,157.4" fill="#ffef00"/><polygon points="348.5,233.2 356.5,236.5 362.7,245.8 354.7,242.5" fill="#009fff"/><polygon points="281.1,175.8 289.2,183.2 295.3,185 287.3,177.7" fill="#afff50"/><polygon points="354.7,242.5 362.7,245.8 368.9,255.1 360.8,251.8" fill="#0080ff"/><polygon points="301.5,186.9 309.6,194.3 315.7,196.1 307.7,190.4" fill="#80ff80"/><polygon points="321.9,199.6 330,205.3 336.1,214.6 328.1,208.9" fill="#30ffcf"/><polygon points="92.6,191.4 100.6,191.7 106.8,173.3 98.7,173" fill="#cfff30"/><polygon points="360.8,251.8 368.9,255.1 375.1,264.4 367,261.1" fill="#0060ff"/><polygon points="122.9,173.9 130.9,174.2 137.1,155.8 129,155.5" fill="#ffdf00"/><polygon points="266.9,166.6 275,174 281.1,175.8 273.1,168.5" fill="#dfff20"/><polygon points="328.1,208.9 336.1,214.6 342.3,223.9 334.3,218.2" fill="#10ffef"/><polygon points="153.2,147.5 161.2,155.1 167.4,145.7 159.3,138" fill="#ff9f00"/><polygon points="334.3,218.2 342.3,223.9 348.5,233.2 340.4,227.5" fill="#00efff"/><polygon points="287.3,177.7 295.3,185 301.5,186.9 293.5,181.2" fill="#afff50"/><polygon points="167.4,145.7 175.4,153.3 181.6,147.7 173.6,140" fill="#ff9f00"/><polygon points="181.6,147.7 189.6,155.3 195.8,149.7 187.8,142" fill="#ff9f00"/><polygon points="195.8,149.7 203.9,157.4 210,151.7 202,144" fill="#ffaf00"/><polygon points="252.7,157.4 260.7,164.8 266.9,166.6 258.9,159.3" fill="#ffef00"/><polygon points="340.4,227.5 348.5,233.2 354.7,242.5 346.6,236.8" fill="#00cfff"/><polygon points="307.7,190.4 315.7,196.1 321.9,199.6 313.9,193.9" fill="#80ff80"/><polygon points="210,151.7 218.1,159.4 224.3,153.7 216.2,146.1" fill="#ffaf00"/><polygon points="224.3,153.7 232.3,161.4 238.5,155.7 230.4,148.1" fill="#ffbf00"/><polygon points="238.5,155.7 246.5,163.1 252.7,157.4 244.7,150.1" fill="#ffbf00"/><polygon points="114.8,173.6 122.9,173.9 129,155.5 121,155.2" fill="#ffcf00"/><polygon points="346.6,236.8 354.7,242.5 360.8,251.8 352.8,246.1" fill="#00afff"/><polygon points="273.1,168.5 281.1,175.8 287.3,177.7 279.3,172" fill="#dfff20"/><polygon points="313.9,193.9 321.9,199.6 328.1,208.9 320,203.2" fill="#60ff9f"/><polygon points="145.1,156.1 153.2,147.5 159.3,138 151.3,137.7" fill="#ff8f00"/><polygon points="352.8,246.1 360.8,251.8 367,261.1 359,254.2" fill="#008fff"/><polygon points="293.5,181.2 301.5,186.9 307.7,190.4 299.7,184.7" fill="#afff50"/><polygon points="320,203.2 328.1,208.9 334.3,218.2 326.2,212.5" fill="#40ffbf"/><polygon points="258.9,159.3 266.9,166.6 273.1,168.5 265,162.8" fill="#ffef00"/><polygon points="326.2,212.5 334.3,218.2 340.4,227.5 332.4,221.8" fill="#20ffdf"/><polygon points="106.8,173.3 114.8,173.6 121,155.2 113,154.9" fill="#ffbf00"/><polygon points="279.3,172 287.3,177.7 293.5,181.2 285.4,175.5" fill="#dfff20"/><polygon points="137.1,155.8 145.1,156.1 151.3,137.7 143.3,137.4" fill="#ff8000"/><polygon points="159.3,138 167.4,145.7 173.6,140 165.5,136.3" fill="#ff8000"/><polygon points="173.6,140 181.6,147.7 187.8,142 179.7,138.3" fill="#ff8000"/><polygon points="332.4,221.8 340.4,227.5 346.6,236.8 338.6,231.1" fill="#00ffff"/><polygon points="299.7,184.7 307.7,190.4 313.9,193.9 305.8,188.2" fill="#afff50"/><polygon points="187.8,142 195.8,149.7 202,144 194,140.3" fill="#ff8f00"/><polygon points="244.7,150.1 252.7,157.4 258.9,159.3 250.8,153.6" fill="#ffbf00"/><polygon points="202,144 210,151.7 216.2,146.1 208.2,142.4" fill="#ff8f00"/><polygon points="216.2,146.1 224.3,153.7 230.4,148.1 222.4,144.4" fill="#ff9f00"/><polygon points="230.4,148.1 238.5,155.7 244.7,150.1 236.6,146.4" fill="#ff9f00"/><polygon points="338.6,231.1 346.6,236.8 352.8,246.1 344.7,239.1" fill="#00dfff"/><polygon points="265,162.8 273.1,168.5 279.3,172 271.2,166.3" fill="#ffef00"/><polygon points="305.8,188.2 313.9,193.9 320,203.2 312,197.5" fill="#8fff70"/><polygon points="285.4,175.5 293.5,181.2 299.7,184.7 291.6,179" fill="#dfff20"/><polygon points="98.7,173 106.8,173.3 113,154.9 104.9,154.6" fill="#ffaf00"/><polygon points="344.7,239.1 352.8,246.1 359,254.2 350.9,247.2" fill="#00bfff"/><polygon points="129,155.5 137.1,155.8 143.3,137.4 135.2,137.1" fill="#ff7000"/><polygon points="312,197.5 320,203.2 326.2,212.5 318.2,206.8" fill="#70ff8f"/><polygon points="250.8,153.6 258.9,159.3 265,162.8 257,157.1" fill="#ffbf00"/><polygon points="151.3,137.7 159.3,138 165.5,136.3 157.5,136" fill="#ff7000"/><polygon points="318.2,206.8 326.2,212.5 332.4,221.8 324.4,216.1" fill="#40ffbf"/><polygon points="271.2,166.3 279.3,172 285.4,175.5 277.4,169.7" fill="#ffef00"/><polygon points="165.5,136.3 173.6,140 179.7,138.3 171.7,134.6" fill="#ff6000"/><polygon points="179.7,138.3 187.8,142 194,140.3 185.9,136.6" fill="#ff7000"/><polygon points="291.6,179 299.7,184.7 305.8,188.2 297.8,182.4" fill="#cfff30"/><polygon points="324.4,216.1 332.4,221.8 338.6,231.1 330.5,224.1" fill="#30ffcf"/><polygon points="194,140.3 202,144 208.2,142.4 200.1,138.7" fill="#ff7000"/><polygon points="236.6,146.4 244.7,150.1 250.8,153.6 242.8,149.9" fill="#ff9f00"/><polygon points="208.2,142.4 216.2,146.1 222.4,144.4 214.3,140.7" fill="#ff8000"/><polygon points="222.4,144.4 230.4,148.1 236.6,146.4 228.6,142.7" fill="#ff8000"/><polygon points="121,155.2 129,155.5 135.2,137.1 127.2,136.8" fill="#ff6000"/><polygon points="257,157.1 265,162.8 271.2,166.3 263.2,160.5" fill="#ffcf00"/><polygon points="330.5,224.1 338.6,231.1 344.7,239.1 336.7,232.2" fill="#10ffef"/><polygon points="143.3,137.4 151.3,137.7 157.5,136 149.4,135.7" fill="#ff6000"/><polygon points="297.8,182.4 305.8,188.2 312,197.5 304,191.7" fill="#afff50"/><polygon points="277.4,169.7 285.4,175.5 291.6,179 283.6,173.2" fill="#ffff00"/><polygon points="336.7,232.2 344.7,239.1 350.9,247.2 342.9,240.2" fill="#00efff"/><polygon points="304,191.7 312,197.5 318.2,206.8 310.1,201" fill="#8fff70"/><polygon points="242.8,149.9 250.8,153.6 257,157.1 249,153.4" fill="#ff9f00"/><polygon points="157.5,136 165.5,136.3 171.7,134.6 163.7,134.3" fill="#ff5000"/><polygon points="310.1,201 318.2,206.8 324.4,216.1 316.3,209.1" fill="#80ff80"/><polygon points="171.7,134.6 179.7,138.3 185.9,136.6 177.9,132.9" fill="#ff5000"/><polygon points="263.2,160.5 271.2,166.3 277.4,169.7 269.4,164" fill="#ffcf00"/><polygon points="113,154.9 121,155.2 127.2,136.8 119.1,136.5" fill="#ff5000"/><polygon points="185.9,136.6 194,140.3 200.1,138.7 192.1,135" fill="#ff5000"/><polygon points="228.6,142.7 236.6,146.4 242.8,149.9 234.7,146.2" fill="#ff8000"/><polygon points="200.1,138.7 208.2,142.4 214.3,140.7 206.3,137" fill="#ff6000"/><polygon points="214.3,140.7 222.4,144.4 228.6,142.7 220.5,139" fill="#ff6000"/><polygon points="283.6,173.2 291.6,179 297.8,182.4 289.7,176.7" fill="#ffff00"/><polygon points="135.2,137.1 143.3,137.4 149.4,135.7 141.4,135.4" fill="#ff5000"/><polygon points="316.3,209.1 324.4,216.1 330.5,224.1 322.5,217.1" fill="#60ff9f"/><polygon points="249,153.4 257,157.1 263.2,160.5 255.1,156.8" fill="#ffaf00"/><polygon points="149.4,135.7 157.5,136 163.7,134.3 155.6,134" fill="#ff5000"/><polygon points="322.5,217.1 330.5,224.1 336.7,232.2 328.7,225.2" fill="#40ffbf"/><polygon points="289.7,176.7 297.8,182.4 304,191.7 295.9,186" fill="#dfff20"/><polygon points="269.4,164 277.4,169.7 283.6,173.2 275.5,167.5" fill="#ffcf00"/><polygon points="234.7,146.2 242.8,149.9 249,153.4 240.9,149.7" fill="#ff8000"/><polygon points="104.9,154.6 113,154.9 119.1,136.5 111.1,136.2" fill="#ff4000"/><polygon points="163.7,134.3 171.7,134.6 177.9,132.9 169.8,132.6" fill="#ff4000"/><polygon points="295.9,186 304,191.7 310.1,201 302.1,194.1" fill="#bfff40"/><polygon points="328.7,225.2 336.7,232.2 342.9,240.2 334.8,233.2" fill="#30ffcf"/><polygon points="127.2,136.8 135.2,137.1 141.4,135.4 133.3,135.1" fill="#ff4000"/><polygon points="177.9,132.9 185.9,136.6 192.1,135 184,131.3" fill="#ff3000"/><polygon points="220.5,139 228.6,142.7 234.7,146.2 226.7,142.5" fill="#ff6000"/><polygon points="255.1,156.8 263.2,160.5 269.4,164 261.3,160.3" fill="#ffaf00"/><polygon points="192.1,135 200.1,138.7 206.3,137 198.3,133.3" fill="#ff4000"/><polygon points="206.3,137 214.3,140.7 220.5,139 212.5,135.3" fill="#ff4000"/><polygon points="302.1,194.1 310.1,201 316.3,209.1 308.3,202.1" fill="#afff50"/><polygon points="141.4,135.4 149.4,135.7 155.6,134 147.6,133.7" fill="#ff4000"/><polygon points="275.5,167.5 283.6,173.2 289.7,176.7 281.7,171" fill="#ffcf00"/><polygon points="240.9,149.7 249,153.4 255.1,156.8 247.1,153.1" fill="#ff8000"/><polygon points="308.3,202.1 316.3,209.1 322.5,217.1 314.4,210.2" fill="#8fff70"/><polygon points="155.6,134 163.7,134.3 169.8,132.6 161.8,132.3" fill="#ff3000"/><polygon points="119.1,136.5 127.2,136.8 133.3,135.1 125.3,134.8" fill="#ff3000"/><polygon points="226.7,142.5 234.7,146.2 240.9,149.7 232.9,145.9" fill="#ff6000"/><polygon points="261.3,160.3 269.4,164 275.5,167.5 267.5,163.8" fill="#ffaf00"/><polygon points="281.7,171 289.7,176.7 295.9,186 287.9,179" fill="#ffef00"/><polygon points="314.4,210.2 322.5,217.1 328.7,225.2 320.6,218.2" fill="#70ff8f"/><polygon points="169.8,132.6 177.9,132.9 184,131.3 176,130.9" fill="#ff2000"/><polygon points="133.3,135.1 141.4,135.4 147.6,133.7 139.5,133.4" fill="#ff3000"/><polygon points="212.5,135.3 220.5,139 226.7,142.5 218.7,138.8" fill="#ff4000"/><polygon points="247.1,153.1 255.1,156.8 261.3,160.3 253.3,156.6" fill="#ff8f00"/><polygon points="287.9,179 295.9,186 302.1,194.1 294.1,187.1" fill="#ffff00"/><polygon points="184,131.3 192.1,135 198.3,133.3 190.2,129.6" fill="#ff1000"/><polygon points="320.6,218.2 328.7,225.2 334.8,233.2 326.8,226.3" fill="#60ff9f"/><polygon points="198.3,133.3 206.3,137 212.5,135.3 204.4,131.6" fill="#ff2000"/><polygon points="147.6,133.7 155.6,134 161.8,132.3 153.7,132" fill="#ff2000"/><polygon points="267.5,163.8 275.5,167.5 281.7,171 273.7,170.5" fill="#ffbf00"/><polygon points="232.9,145.9 240.9,149.7 247.1,153.1 239,149.4" fill="#ff6000"/><polygon points="294.1,187.1 302.1,194.1 308.3,202.1 300.2,195.1" fill="#dfff20"/><polygon points="111.1,136.2 119.1,136.5 125.3,134.8 117.3,133" fill="#ff2000"/><polygon points="161.8,132.3 169.8,132.6 176,130.9 168,130.6" fill="#ff1000"/><polygon points="253.3,156.6 261.3,160.3 267.5,163.8 259.4,163.3" fill="#ff9f00"/><polygon points="218.7,138.8 226.7,142.5 232.9,145.9 224.8,142.2" fill="#ff4000"/><polygon points="300.2,195.1 308.3,202.1 314.4,210.2 306.4,203.2" fill="#bfff40"/><polygon points="125.3,134.8 133.3,135.1 139.5,133.4 131.5,131.7" fill="#ff1000"/><polygon points="273.7,170.5 281.7,171 287.9,179 279.8,178.6" fill="#ffdf00"/><polygon points="176,130.9 184,131.3 190.2,129.6 182.2,129.3" fill="#ff1000"/><polygon points="239,149.4 247.1,153.1 253.3,156.6 245.2,156.1" fill="#ff8000"/><polygon points="204.4,131.6 212.5,135.3 218.7,138.8 210.6,135.1" fill="#ff2000"/><polygon points="306.4,203.2 314.4,210.2 320.6,218.2 312.6,211.2" fill="#afff50"/><polygon points="139.5,133.4 147.6,133.7 153.7,132 145.7,130.3" fill="#ff1000"/><polygon points="279.8,178.6 287.9,179 294.1,187.1 286,186.6" fill="#ffef00"/><polygon points="259.4,163.3 267.5,163.8 273.7,170.5 265.6,170" fill="#ffaf00"/><polygon points="190.2,129.6 198.3,133.3 204.4,131.6 196.4,127.9" fill="#ff0000"/><polygon points="224.8,142.2 232.9,145.9 239,149.4 231,149" fill="#ff5000"/><polygon points="312.6,211.2 320.6,218.2 326.8,226.3 318.8,219.3" fill="#8fff70"/><polygon points="153.7,132 161.8,132.3 168,130.6 159.9,128.9" fill="#ff0000"/><polygon points="286,186.6 294.1,187.1 300.2,195.1 292.2,194.7" fill="#efff10"/><polygon points="245.2,156.1 253.3,156.6 259.4,163.3 251.4,162.9" fill="#ff8f00"/><polygon points="265.6,170 273.7,170.5 279.8,178.6 271.8,178.1" fill="#ffcf00"/><polygon points="117.3,133 125.3,134.8 131.5,131.7 123.4,129.9" fill="#ff0000"/><polygon points="210.6,135.1 218.7,138.8 224.8,142.2 216.8,141.8" fill="#ff3000"/><polygon points="168,130.6 176,130.9 182.2,129.3 174.1,127.5" fill="#ef0000"/><polygon points="292.2,194.7 300.2,195.1 306.4,203.2 298.4,202.7" fill="#cfff30"/><polygon points="231,149 239,149.4 245.2,156.1 237.2,155.7" fill="#ff7000"/><polygon points="271.8,178.1 279.8,178.6 286,186.6 278,186.1" fill="#ffdf00"/><polygon points="251.4,162.9 259.4,163.3 265.6,170 257.6,169.6" fill="#ff9f00"/><polygon points="131.5,131.7 139.5,133.4 145.7,130.3 137.7,128.6" fill="#ef0000"/><polygon points="196.4,127.9 204.4,131.6 210.6,135.1 202.6,134.6" fill="#ff1000"/><polygon points="182.2,129.3 190.2,129.6 196.4,127.9 188.4,126.2" fill="#df0000"/><polygon points="298.4,202.7 306.4,203.2 312.6,211.2 304.5,210.8" fill="#afff50"/><polygon points="216.8,141.8 224.8,142.2 231,149 223,148.5" fill="#ff5000"/><polygon points="278,186.1 286,186.6 292.2,194.7 284.1,194.2" fill="#ffff00"/><polygon points="237.2,155.7 245.2,156.1 251.4,162.9 243.4,162.4" fill="#ff8000"/><polygon points="145.7,130.3 153.7,132 159.9,128.9 151.9,127.2" fill="#df0000"/><polygon points="257.6,169.6 265.6,170 271.8,178.1 263.7,177.6" fill="#ffbf00"/><polygon points="202.6,134.6 210.6,135.1 216.8,141.8 208.7,141.3" fill="#ff2000"/><polygon points="304.5,210.8 312.6,211.2 318.8,219.3 310.7,215.6" fill="#afff50"/><polygon points="284.1,194.2 292.2,194.7 298.4,202.7 290.3,202.2" fill="#dfff20"/><polygon points="223,148.5 231,149 237.2,155.7 229.1,155.2" fill="#ff6000"/><polygon points="159.9,128.9 168,130.6 174.1,127.5 166.1,125.8" fill="#df0000"/><polygon points="263.7,177.6 271.8,178.1 278,186.1 269.9,185.7" fill="#ffdf00"/><polygon points="243.4,162.4 251.4,162.9 257.6,169.6 249.5,169.1" fill="#ff8f00"/><polygon points="123.4,129.9 131.5,131.7 137.7,128.6 129.6,126.8" fill="#df0000"/><polygon points="188.4,126.2 196.4,127.9 202.6,134.6 194.5,132.9" fill="#ff0000"/><polygon points="174.1,127.5 182.2,129.3 188.4,126.2 180.3,124.4" fill="#cf0000"/><polygon points="208.7,141.3 216.8,141.8 223,148.5 214.9,148" fill="#ff4000"/><polygon points="290.3,202.2 298.4,202.7 304.5,210.8 296.5,207.1" fill="#dfff20"/><polygon points="269.9,185.7 278,186.1 284.1,194.2 276.1,193.7" fill="#ffef00"/><polygon points="229.1,155.2 237.2,155.7 243.4,162.4 235.3,161.9" fill="#ff7000"/><polygon points="249.5,169.1 257.6,169.6 263.7,177.6 255.7,177.2" fill="#ffaf00"/><polygon points="137.7,128.6 145.7,130.3 151.9,127.2 143.8,125.5" fill="#cf0000"/><polygon points="194.5,132.9 202.6,134.6 208.7,141.3 200.7,139.6" fill="#ff1000"/><polygon points="214.9,148 223,148.5 229.1,155.2 221.1,154.7" fill="#ff5000"/><polygon points="276.1,193.7 284.1,194.2 290.3,202.2 282.3,198.6" fill="#ffff00"/><polygon points="255.7,177.2 263.7,177.6 269.9,185.7 261.9,185.2" fill="#ffcf00"/><polygon points="296.5,207.1 304.5,210.8 310.7,215.6 302.7,211.9" fill="#cfff30"/><polygon points="151.9,127.2 159.9,128.9 166.1,125.8 158,124.1" fill="#bf0000"/><polygon points="235.3,161.9 243.4,162.4 249.5,169.1 241.5,168.6" fill="#ff8000"/><polygon points="180.3,124.4 188.4,126.2 194.5,132.9 186.5,131.1" fill="#df0000"/><polygon points="200.7,139.6 208.7,141.3 214.9,148 206.9,146.3" fill="#ff2000"/><polygon points="166.1,125.8 174.1,127.5 180.3,124.4 172.3,122.7" fill="#bf0000"/><polygon points="221.1,154.7 229.1,155.2 235.3,161.9 227.3,161.4" fill="#ff6000"/><polygon points="261.9,185.2 269.9,185.7 276.1,193.7 268.1,190.1" fill="#ffcf00"/><polygon points="241.5,168.6 249.5,169.1 255.7,177.2 247.7,176.7" fill="#ff9f00"/><polygon points="282.3,198.6 290.3,202.2 296.5,207.1 288.4,203.4" fill="#ffff00"/><polygon points="129.6,126.8 137.7,128.6 143.8,125.5 135.8,123.7" fill="#bf0000"/><polygon points="186.5,131.1 194.5,132.9 200.7,139.6 192.7,137.9" fill="#ff0000"/><polygon points="206.9,146.3 214.9,148 221.1,154.7 213.1,153" fill="#ff3000"/><polygon points="227.3,161.4 235.3,161.9 241.5,168.6 233.4,168.2" fill="#ff7000"/><polygon points="247.7,176.7 255.7,177.2 261.9,185.2 253.8,181.5" fill="#ffaf00"/><polygon points="268.1,190.1 276.1,193.7 282.3,198.6 274.2,194.9" fill="#ffdf00"/><polygon points="143.8,125.5 151.9,127.2 158,124.1 150,122.4" fill="#af0000"/><polygon points="288.4,203.4 296.5,207.1 302.7,211.9 294.6,208.3" fill="#efff10"/><polygon points="172.3,122.7 180.3,124.4 186.5,131.1 178.4,129.4" fill="#cf0000"/><polygon points="192.7,137.9 200.7,139.6 206.9,146.3 198.8,144.6" fill="#ff1000"/><polygon points="213.1,153 221.1,154.7 227.3,161.4 219.2,159.7" fill="#ff5000"/><polygon points="158,124.1 166.1,125.8 172.3,122.7 164.2,121" fill="#9f0000"/><polygon points="233.4,168.2 241.5,168.6 247.7,176.7 239.6,173" fill="#ff8000"/><polygon points="253.8,181.5 261.9,185.2 268.1,190.1 260,186.4" fill="#ffaf00"/><polygon points="274.2,194.9 282.3,198.6 288.4,203.4 280.4,199.8" fill="#ffdf00"/><polygon points="178.4,129.4 186.5,131.1 192.7,137.9 184.6,136.1" fill="#df0000"/><polygon points="198.8,144.6 206.9,146.3 213.1,153 205,151.3" fill="#ff2000"/><polygon points="219.2,159.7 227.3,161.4 233.4,168.2 225.4,162.8" fill="#ff5000"/><polygon points="135.8,123.7 143.8,125.5 150,122.4 142,120.6" fill="#9f0000"/><polygon points="239.6,173 247.7,176.7 253.8,181.5 245.8,177.9" fill="#ff8000"/><polygon points="260,186.4 268.1,190.1 274.2,194.9 266.2,191.2" fill="#ffbf00"/><polygon points="164.2,121 172.3,122.7 178.4,129.4 170.4,127.7" fill="#bf0000"/><polygon points="184.6,136.1 192.7,137.9 198.8,144.6 190.8,142.8" fill="#ef0000"/><polygon points="280.4,199.8 288.4,203.4 294.6,208.3 286.6,204.6" fill="#ffef00"/><polygon points="150,122.4 158,124.1 164.2,121 156.2,119.3" fill="#8f0000"/><polygon points="205,151.3 213.1,153 219.2,159.7 211.2,154.4" fill="#ff2000"/><polygon points="225.4,162.8 233.4,168.2 239.6,173 231.6,167.7" fill="#ff5000"/><polygon points="245.8,177.9 253.8,181.5 260,186.4 252,182.7" fill="#ff8f00"/><polygon points="170.4,127.7 178.4,129.4 184.6,136.1 176.6,134.4" fill="#cf0000"/><polygon points="266.2,191.2 274.2,194.9 280.4,199.8 272.4,196.1" fill="#ffbf00"/><polygon points="190.8,142.8 198.8,144.6 205,151.3 197,145.9" fill="#ef0000"/><polygon points="211.2,154.4 219.2,159.7 225.4,162.8 217.4,157.4" fill="#ff2000"/><polygon points="231.6,167.7 239.6,173 245.8,177.9 237.8,172.5" fill="#ff6000"/><polygon points="156.2,119.3 164.2,121 170.4,127.7 162.4,126" fill="#9f0000"/><polygon points="252,182.7 260,186.4 266.2,191.2 258.1,187.6" fill="#ff9f00"/><polygon points="142,120.6 150,122.4 156.2,119.3 148.1,117.5" fill="#800000"/><polygon points="176.6,134.4 184.6,136.1 190.8,142.8 182.7,137.5" fill="#cf0000"/><polygon points="272.4,196.1 280.4,199.8 286.6,204.6 278.5,201" fill="#ffcf00"/><polygon points="197,145.9 205,151.3 211.2,154.4 203.1,149" fill="#ef0000"/><polygon points="162.4,126 170.4,127.7 176.6,134.4 168.5,129.1" fill="#9f0000"/><polygon points="217.4,157.4 225.4,162.8 231.6,167.7 223.5,162.3" fill="#ff3000"/><polygon points="237.8,172.5 245.8,177.9 252,182.7 243.9,177.4" fill="#ff6000"/><polygon points="258.1,187.6 266.2,191.2 272.4,196.1 264.3,192.4" fill="#ff9f00"/><polygon points="182.7,137.5 190.8,142.8 197,145.9 188.9,140.6" fill="#cf0000"/><polygon points="148.1,117.5 156.2,119.3 162.4,126 154.3,120.6" fill="#800000"/><polygon points="203.1,149 211.2,154.4 217.4,157.4 209.3,152.1" fill="#ef0000"/><polygon points="223.5,162.3 231.6,167.7 237.8,172.5 229.7,167.2" fill="#ff3000"/><polygon points="243.9,177.4 252,182.7 258.1,187.6 250.1,182.2" fill="#ff7000"/><polygon points="168.5,129.1 176.6,134.4 182.7,137.5 174.7,132.1" fill="#9f0000"/><polygon points="264.3,192.4 272.4,196.1 278.5,201 270.5,197.3" fill="#ffaf00"/><polygon points="188.9,140.6 197,145.9 203.1,149 195.1,143.6" fill="#cf0000"/><polygon points="154.3,120.6 162.4,126 168.5,129.1 160.5,123.7" fill="#800000"/><polygon points="209.3,152.1 217.4,157.4 223.5,162.3 215.5,156.9" fill="#ff0000"/><polygon points="229.7,167.2 237.8,172.5 243.9,177.4 235.9,172" fill="#ff4000"/><polygon points="250.1,182.2 258.1,187.6 264.3,192.4 256.3,187.1" fill="#ff8000"/><polygon points="174.7,132.1 182.7,137.5 188.9,140.6 180.9,135.2" fill="#9f0000"/><polygon points="195.1,143.6 203.1,149 209.3,152.1 201.3,146.7" fill="#cf0000"/><polygon points="215.5,156.9 223.5,162.3 229.7,167.2 221.7,161.8" fill="#ff1000"/><polygon points="235.9,172 243.9,177.4 250.1,182.2 242.1,176.9" fill="#ff4000"/><polygon points="256.3,187.1 264.3,192.4 270.5,197.3 262.5,191.3" fill="#ff8000"/><polygon points="160.5,123.7 168.5,129.1 174.7,132.1 166.7,126.8" fill="#800000"/><polygon points="180.9,135.2 188.9,140.6 195.1,143.6 187.1,138.3" fill="#9f0000"/><polygon points="201.3,146.7 209.3,152.1 215.5,156.9 207.4,151.6" fill="#cf0000"/><polygon points="221.7,161.8 229.7,167.2 235.9,172 227.8,166.7" fill="#ff1000"/><polygon points="242.1,176.9 250.1,182.2 256.3,187.1 248.2,181.1" fill="#ff5000"/><polygon points="166.7,126.8 174.7,132.1 180.9,135.2 172.8,129.8" fill="#800000"/><polygon points="187.1,138.3 195.1,143.6 201.3,146.7 193.2,141.4" fill="#9f0000"/><polygon points="207.4,151.6 215.5,156.9 221.7,161.8 213.6,156.4" fill="#df0000"/><polygon points="227.8,166.7 235.9,172 242.1,176.9 234,170.9" fill="#ff2000"/><polygon points="248.2,181.1 256.3,187.1 262.5,191.3 254.4,185.4" fill="#ff5000"/><polygon points="172.8,129.8 180.9,135.2 187.1,138.3 179,132.9" fill="#800000"/><polygon points="193.2,141.4 201.3,146.7 207.4,151.6 199.4,146.2" fill="#af0000"/><polygon points="213.6,156.4 221.7,161.8 227.8,166.7 219.8,160.7" fill="#df0000"/><polygon points="234,170.9 242.1,176.9 248.2,181.1 240.2,175.2" fill="#ff2000"/><polygon points="179,132.9 187.1,138.3 193.2,141.4 185.2,136" fill="#800000"/><polygon points="199.4,146.2 207.4,151.6 213.6,156.4 205.6,150.5" fill="#af0000"/><polygon points="219.8,160.7 227.8,166.7 234,170.9 226,164.9" fill="#ef0000"/><polygon points="240.2,175.2 248.2,181.1 254.4,185.4 246.4,179.4" fill="#ff2000"/><polygon points="185.2,136 193.2,141.4 199.4,146.2 191.4,140.3" fill="#800000"/><polygon points="205.6,150.5 213.6,156.4 219.8,160.7 211.8,154.7" fill="#bf0000"/><polygon points="226,164.9 234,170.9 240.2,175.2 232.1,169.2" fill="#ef0000"/><polygon points="191.4,140.3 199.4,146.2 205.6,150.5 197.5,144.5" fill="#800000"/><polygon points="211.8,154.7 219.8,160.7 226,164.9 217.9,159" fill="#bf0000"/><polygon points="232.1,169.2 240.2,175.2 246.4,179.4 238.3,173.4" fill="#ff0000"/><polygon points="197.5,144.5 205.6,150.5 211.8,154.7 203.7,148.8" fill="#8f0000"/><polygon points="217.9,159 226,164.9 232.1,169.2 224.1,163.2" fill="#bf0000"/><polygon points="203.7,148.8 211.8,154.7 217.9,159 209.9,153" fill="#8f0000"/><polygon points="224.1,163.2 232.1,169.2 238.3,173.4 230.3,167.5" fill="#cf0000"/><polygon points="209.9,153 217.9,159 224.1,163.2 216.1,157.3" fill="#9f0000"/><polygon points="216.1,157.3 224.1,163.2 230.3,167.5 222.2,161.5" fill="#9f0000"/></g>
<g font-family='"Liberation Sans", sans-serif' font-size="9.9" fill="#111"><text x="197.95" y="359.14" text-anchor="end">−0.6</text><text x="242.49" y="361.39">−0.6</text><text x="160.9" y="340.67" text-anchor="end">−0.3</text><text x="290.74" y="347.24">−0.3</text><text x="123.85" y="322.2" text-anchor="end">0</text><text x="339" y="333.1">0</text><text x="86.8" y="303.73" text-anchor="end">0.3</text><text x="387.26" y="318.96">0.3</text><text x="49.75" y="285.26" text-anchor="end">0.6</text><text x="435.51" y="304.81">0.6</text><text x="37.4" y="249.37" text-anchor="end">1</text><text x="37.4" y="225.13" text-anchor="end">1.5</text><text x="37.4" y="200.89" text-anchor="end">2</text><text x="37.4" y="176.65" text-anchor="end">2.5</text><text x="37.4" y="152.41" text-anchor="end">3</text><text x="37.4" y="128.17" text-anchor="end">3.5</text><text x="37.4" y="103.93" text-anchor="end">4</text><text x="37.4" y="79.69" text-anchor="end">4.5</text></g>
<text transform="translate(17,173.2) rotate(-90)" text-anchor="middle" font-family='"Liberation Sans", sans-serif' font-size="10.2" fill="#111">RMSE</text>
<text x="123.2" y="371.3" text-anchor="middle" font-family='"Liberation Serif", serif' font-size="13" fill="#111">ρ</text>
<text x="326.4" y="376" text-anchor="middle" font-family='"Liberation Serif", serif' font-size="13" fill="#111">λ</text>
<g shape-rendering="crispEdges"><rect x="458.2" y="12.85" width="20.9" height="5.62" fill="#800000"/><rect x="458.2" y="18.17" width="20.9" height="5.62" fill="#8f0000"/><rect x="458.2" y="23.49" width="20.9" height="5.62" fill="#9f0000"/><rect x="458.2" y="28.82" width="20.9" height="5.62" fill="#af0000"/><rect x="458.2" y="34.14" width="20.9" height="5.62" fill="#bf0000"/><rect x="458.2" y="39.46" width="20.9" height="5.62" fill="#cf0000"/><rect x="458.2" y="44.78" width="20.9" height="5.62" fill="#df0000"/><rect x="458.2" y="50.1" width="20.9" height="5.62" fill="#ef0000"/><rect x="458.2" y="55.43" width="20.9" height="5.62" fill="#ff0000"/><rect x="458.2" y="60.75" width="20.9" height="5.62" fill="#ff1000"/><rect x="458.2" y="66.07" width="20.9" height="5.62" fill="#ff2000"/><rect x="458.2" y="71.39" width="20.9" height="5.62" fill="#ff3000"/><rect x="458.2" y="76.71" width="20.9" height="5.62" fill="#ff4000"/><rect x="458.2" y="82.03" width="20.9" height="5.62" fill="#ff5000"/><rect x="458.2" y="87.36" width="20.9" height="5.62" fill="#ff6000"/><rect x="458.2" y="92.68" width="20.9" height="5.62" fill="#ff7000"/><rect x="458.2" y="98" width="20.9" height="5.62" fill="#ff8000"/><rect x="458.2" y="103.32" width="20.9" height="5.62" fill="#ff8f00"/><rect x="458.2" y="108.64" width="20.9" height="5.62" fill="#ff9f00"/><rect x="458.2" y="113.97" width="20.9" height="5.62" fill="#ffaf00"/><rect x="458.2" y="119.29" width="20.9" height="5.62" fill="#ffbf00"/><rect x="458.2" y="124.61" width="20.9" height="5.62" fill="#ffcf00"/><rect x="458.2" y="129.93" width="20.9" height="5.62" fill="#ffdf00"/><rect x="458.2" y="135.25" width="20.9" height="5.62" fill="#ffef00"/><rect x="458.2" y="140.57" width="20.9" height="5.62" fill="#ffff00"/><rect x="458.2" y="145.9" width="20.9" height="5.62" fill="#efff10"/><rect x="458.2" y="151.22" width="20.9" height="5.62" fill="#dfff20"/><rect x="458.2" y="156.54" width="20.9" height="5.62" fill="#cfff30"/><rect x="458.2" y="161.86" width="20.9" height="5.62" fill="#bfff40"/><rect x="458.2" y="167.18" width="20.9" height="5.62" fill="#afff50"/><rect x="458.2" y="172.51" width="20.9" height="5.62" fill="#9fff60"/><rect x="458.2" y="177.83" width="20.9" height="5.62" fill="#8fff70"/><rect x="458.2" y="183.15" width="20.9" height="5.62" fill="#80ff80"/><rect x="458.2" y="188.47" width="20.9" height="5.62" fill="#70ff8f"/><rect x="458.2" y="193.79" width="20.9" height="5.62" fill="#60ff9f"/><rect x="458.2" y="199.12" width="20.9" height="5.62" fill="#50ffaf"/><rect x="458.2" y="204.44" width="20.9" height="5.62" fill="#40ffbf"/><rect x="458.2" y="209.76" width="20.9" height="5.62" fill="#30ffcf"/><rect x="458.2" y="215.08" width="20.9" height="5.62" fill="#20ffdf"/><rect x="458.2" y="220.4" width="20.9" height="5.62" fill="#10ffef"/><rect x="458.2" y="225.72" width="20.9" height="5.62" fill="#00ffff"/><rect x="458.2" y="231.05" width="20.9" height="5.62" fill="#00efff"/><rect x="458.2" y="236.37" width="20.9" height="5.62" fill="#00dfff"/><rect x="458.2" y="241.69" width="20.9" height="5.62" fill="#00cfff"/><rect x="458.2" y="247.01" width="20.9" height="5.62" fill="#00bfff"/><rect x="458.2" y="252.33" width="20.9" height="5.62" fill="#00afff"/><rect x="458.2" y="257.66" width="20.9" height="5.62" fill="#009fff"/><rect x="458.2" y="262.98" width="20.9" height="5.62" fill="#008fff"/><rect x="458.2" y="268.3" width="20.9" height="5.62" fill="#0080ff"/><rect x="458.2" y="273.62" width="20.9" height="5.62" fill="#0070ff"/><rect x="458.2" y="278.94" width="20.9" height="5.62" fill="#0060ff"/><rect x="458.2" y="284.27" width="20.9" height="5.62" fill="#0050ff"/><rect x="458.2" y="289.59" width="20.9" height="5.62" fill="#0040ff"/><rect x="458.2" y="294.91" width="20.9" height="5.62" fill="#0030ff"/><rect x="458.2" y="300.23" width="20.9" height="5.62" fill="#0020ff"/><rect x="458.2" y="305.55" width="20.9" height="5.62" fill="#0010ff"/><rect x="458.2" y="310.88" width="20.9" height="5.62" fill="#0000ff"/><rect x="458.2" y="316.2" width="20.9" height="5.62" fill="#0000ef"/><rect x="458.2" y="321.52" width="20.9" height="5.62" fill="#0000df"/><rect x="458.2" y="326.84" width="20.9" height="5.62" fill="#0000cf"/><rect x="458.2" y="332.16" width="20.9" height="5.62" fill="#0000bf"/><rect x="458.2" y="337.48" width="20.9" height="5.62" fill="#0000af"/><rect x="458.2" y="342.81" width="20.9" height="5.62" fill="#00009f"/><rect x="458.2" y="348.13" width="20.9" height="5.62" fill="#00008f"/></g>
<rect x="458.2" y="12.9" width="20.9" height="340.6" fill="none" stroke="#222" stroke-width="0.9"/>
<g stroke="#111" stroke-width="0.9"><line x1="458.2" y1="320.35" x2="461.8" y2="320.35"/><line x1="475.5" y1="320.35" x2="479.1" y2="320.35"/><line x1="458.2" y1="276.51" x2="461.8" y2="276.51"/><line x1="475.5" y1="276.51" x2="479.1" y2="276.51"/><line x1="458.2" y1="232.66" x2="461.8" y2="232.66"/><line x1="475.5" y1="232.66" x2="479.1" y2="232.66"/><line x1="458.2" y1="188.81" x2="461.8" y2="188.81"/><line x1="475.5" y1="188.81" x2="479.1" y2="188.81"/><line x1="458.2" y1="144.97" x2="461.8" y2="144.97"/><line x1="475.5" y1="144.97" x2="479.1" y2="144.97"/><line x1="458.2" y1="101.12" x2="461.8" y2="101.12"/><line x1="475.5" y1="101.12" x2="479.1" y2="101.12"/><line x1="458.2" y1="57.27" x2="461.8" y2="57.27"/><line x1="475.5" y1="57.27" x2="479.1" y2="57.27"/><line x1="458.2" y1="13.43" x2="461.8" y2="13.43"/><line x1="475.5" y1="13.43" x2="479.1" y2="13.43"/></g>
<clipPath id="cbta"><rect x="479.1" y="13.1" width="60" height="360"/></clipPath>
<g clip-path="url(#cbta)" font-family='"Liberation Sans", sans-serif' font-size="9.9" fill="#111"><text x="482.3" y="323.95">1</text><text x="482.3" y="280.11">1.5</text><text x="482.3" y="236.26">2</text><text x="482.3" y="192.41">2.5</text><text x="482.3" y="148.57">3</text><text x="482.3" y="104.72">3.5</text><text x="482.3" y="60.87">4</text><text x="482.3" y="17.03">4.5</text></g>
<text x="264.2" y="422.2" text-anchor="middle" font-family='"Liberation Serif", serif' font-size="27.2" fill="#111">(<tspan font-weight="bold">a</tspan>)</text></g>
<g><g stroke="#000" stroke-opacity="0.62" stroke-width="0.9" stroke-dasharray="1.1 3.3" fill="none"><line x1="751.69" y1="348.89" x2="578.79" y2="262.69"/><line x1="723.25" y1="347.44" x2="948.45" y2="281.44"/><line x1="578.79" y1="262.69" x2="578.79" y2="74.39"/><line x1="948.45" y1="281.44" x2="948.45" y2="93.14"/><line x1="799.94" y1="334.74" x2="627.04" y2="248.54"/><line x1="686.2" y1="328.97" x2="911.4" y2="262.97"/><line x1="627.04" y1="248.54" x2="627.04" y2="60.24"/><line x1="911.4" y1="262.97" x2="911.4" y2="74.67"/><line x1="848.2" y1="320.6" x2="675.3" y2="234.4"/><line x1="649.15" y1="310.5" x2="874.35" y2="244.5"/><line x1="675.3" y1="234.4" x2="675.3" y2="46.1"/><line x1="874.35" y1="244.5" x2="874.35" y2="56.2"/><line x1="896.46" y1="306.46" x2="723.56" y2="220.26"/><line x1="612.1" y1="292.03" x2="837.3" y2="226.03"/><line x1="723.56" y1="220.26" x2="723.56" y2="31.96"/><line x1="837.3" y1="226.03" x2="837.3" y2="37.73"/><line x1="944.71" y1="292.31" x2="771.81" y2="206.11"/><line x1="575.05" y1="273.56" x2="800.25" y2="207.56"/><line x1="771.81" y1="206.11" x2="771.81" y2="17.81"/><line x1="800.25" y1="207.56" x2="800.25" y2="19.26"/><line x1="562.7" y1="252.34" x2="787.9" y2="186.34"/><line x1="787.9" y1="186.34" x2="960.8" y2="272.54"/><line x1="562.7" y1="224.95" x2="787.9" y2="158.95"/><line x1="787.9" y1="158.95" x2="960.8" y2="245.15"/><line x1="562.7" y1="197.56" x2="787.9" y2="131.56"/><line x1="787.9" y1="131.56" x2="960.8" y2="217.76"/><line x1="562.7" y1="170.17" x2="787.9" y2="104.17"/><line x1="787.9" y1="104.17" x2="960.8" y2="190.37"/><line x1="562.7" y1="142.78" x2="787.9" y2="76.78"/><line x1="787.9" y1="76.78" x2="960.8" y2="162.98"/><line x1="562.7" y1="115.39" x2="787.9" y2="49.39"/><line x1="787.9" y1="49.39" x2="960.8" y2="135.59"/><line x1="562.7" y1="88" x2="787.9" y2="22"/><line x1="787.9" y1="22" x2="960.8" y2="108.2"/></g>
<g stroke="#1a1a1a" stroke-width="0.95" fill="none"><polyline points="562.7,79.1 562.7,267.4 735.6,353.6 960.8,287.6"/><line x1="723.25" y1="347.44" x2="717.68" y2="349.07"/><line x1="751.69" y1="348.89" x2="756.88" y2="351.47"/><line x1="686.2" y1="328.97" x2="680.63" y2="330.6"/><line x1="799.94" y1="334.74" x2="805.13" y2="337.33"/><line x1="649.15" y1="310.5" x2="643.58" y2="312.13"/><line x1="848.2" y1="320.6" x2="853.39" y2="323.19"/><line x1="612.1" y1="292.03" x2="606.53" y2="293.66"/><line x1="896.46" y1="306.46" x2="901.65" y2="309.04"/><line x1="575.05" y1="273.56" x2="569.48" y2="275.19"/><line x1="944.71" y1="292.31" x2="949.9" y2="294.9"/><line x1="562.7" y1="252.34" x2="557.51" y2="249.75"/><line x1="562.7" y1="224.95" x2="557.51" y2="222.36"/><line x1="562.7" y1="197.56" x2="557.51" y2="194.97"/><line x1="562.7" y1="170.17" x2="557.51" y2="167.58"/><line x1="562.7" y1="142.78" x2="557.51" y2="140.19"/><line x1="562.7" y1="115.39" x2="557.51" y2="112.8"/><line x1="562.7" y1="88" x2="557.51" y2="85.41"/></g>
<clipPath id="clipb"><rect x="562.7" y="12.9" width="398.1" height="340.9"/></clipPath><g clip-path="url(#clipb)" fill="none" stroke-width="1.05" stroke-linecap="round"><path d="M602.9 308.1L595.4 310.7M609.5 304.9L602.9 308.1M616 301.8L609.5 304.9M619.1 300.3L616 301.8M684.5 281.2L688 280.4M688.9 279.9L688 280.4M895.3 307.4L899.6 311M899.6 311L903.9 314.7M903.9 314.7L908.1 318.3M908.1 318.3L912.4 321.9M913.4 322.8L916.7 325.6M912.4 321.9L913.4 322.8M916.7 325.6L921.2 329.1" stroke="#0000df"/><path d="M741.2 268.8L739.4 270M740 264.9L741.2 268.8M642.2 302.2L635.9 305.2M648.8 299.1L642.2 302.2M659.3 298L648.8 299.1M661.2 297.8L659.3 298M730.3 276.1L726.5 278.7M735.8 272.4L730.3 276.1M739.4 270L735.8 272.4M614 313.6L606 316M622.1 311.2L614 313.6M629.2 308.4L622.1 311.2M635.7 305.3L629.2 308.4M635.9 305.2L635.7 305.3M661.2 297.8L669.9 296.9M679.9 295.5L669.9 296.9M688.9 293.6L679.9 295.5M697.9 291.7L688.9 293.6M699.9 291.3L697.9 291.7M713.1 286.6L709.3 288.6M719.2 283.2L713.1 286.6M724.9 279.7L719.2 283.2M726.5 278.7L724.9 279.7M699.9 291.3L706.9 289.9M709.3 288.6L706.9 289.9M873 296.3L869.6 300.3M865.4 305.2L865.5 306.3M869.2 300.7L865.4 305.2M869.6 300.3L869.2 300.7M865.5 306.3L870.1 309.9M870.1 309.9L874.6 313.5M874.6 313.5L878.9 317.1M882.3 320L883.2 320.7M878.9 317.1L882.3 320M883.2 320.7L887.5 324.3M887.5 324.3L892 327.9M892 327.9L896.5 331.5M896.5 331.5L900.9 335.1" stroke="#0070ff"/><path d="M755.8 260.3L763.6 262.9M763.6 262.9L771.4 265.5M771.4 265.5L776.3 267.1M779.1 268.1L776.3 267.1M655.4 308.8L652.7 310.1M661.9 305.6L655.4 308.8M670.9 304.7L661.9 305.6M767.6 275.5L764.7 277.2M773.4 272.1L767.6 275.5M779.3 268.7L773.4 272.1M779.1 268.1L779.3 268.7M624.7 318.9L616.7 321.3M632.7 316.5L624.7 318.9M640.7 314.2L632.7 316.5M648.7 311.8L640.7 314.2M652.7 310.1L648.7 311.8M670.9 304.7L672.5 304.6M683.1 303.5L672.5 304.6M693.7 302.4L683.1 303.5M696.5 302.1L693.7 302.4M750.3 286L749.1 286.7M756.2 282.6L750.3 286M761.7 279L756.2 282.6M764.7 277.2L761.7 279M696.5 302.1L704.3 301.3M714.9 300.2L704.3 301.3M722.2 299.5L714.9 300.2M732 296L729.4 297.3M738.1 292.7L732 296M744.2 289.3L738.1 292.7M749.1 286.7L744.2 289.3M722.2 299.5L725.8 299.3M729.4 297.3L725.8 299.3M828.8 286.9L828 288M833.1 286.5L828.8 286.9M828 288L835.9 290.6M833.1 286.5L839.4 285.9M850 284.8L839.4 285.9M835.9 290.6L836.3 290.7M843.9 293.1L836.3 290.7M839.3 298.5L838.3 299.6M843.1 294.1L839.3 298.5M843.9 293.1L843.1 294.1M835.5 303L835.7 305.3M838.3 299.6L835.5 303M835.7 305.3L840.2 308.9M840.2 308.9L844.8 312.4M844.8 312.4L849.3 316M850.5 316.9L853.9 319.5M849.3 316L850.5 316.9M853.9 319.5L858.2 323.1M858.2 323.1L862.7 326.7M862.7 326.7L867.2 330.3M871.5 333.7L871.6 333.9M867.2 330.3L871.5 333.7M871.6 333.9L874.8 337.9M874.8 337.9L880.1 341.2" stroke="#00ffff"/><path d="M771.7 255.6L779.4 258.2M779.4 258.2L787.2 260.9M787.2 260.9L793.4 262.9M795 263.5L793.4 262.9M795 263.5L802.7 266.1M802.7 266.1L810.5 268.7M635.3 324.2L627.3 326.6M643.3 321.8L635.3 324.2M651.4 319.5L643.3 321.8M659.4 317.1L651.4 319.5M667.4 314.7L659.4 317.1M675.1 312.2L667.4 314.7M680.6 311.7L675.1 312.2M811.5 272L807.1 274.6M810.5 268.7L811.5 272M680.6 311.7L686.2 311.4M697.7 310.7L686.2 311.4M701.1 310.5L697.7 310.7M807.1 274.6L815.1 273.8M825.7 272.7L815.1 273.8M701.1 310.5L709.2 310.1M720.7 309.5L709.2 310.1M721.5 309.4L720.7 309.5M721.5 309.4L732.2 308.9M742 308.3L732.2 308.9M742 308.3L743.8 308.2M755.4 307.7L743.8 308.2M762 307.3L755.4 307.7M762 307.3L767 307.1M778.7 306.5L767 307.1M782 306.4L778.7 306.5M782 306.4L790.3 306M802 305.4L790.3 306M802 305.4L802 305.4M802 305.4L805 309.4M802 305.4L802 305.4M805 309.4L808 313.4M809.7 315.6L811 317.4M808 313.4L809.7 315.6M811 317.4L814.5 321.3M814.5 321.3L818.5 325M821.9 328.1L822.6 328.7M818.5 325L821.9 328.1M822.6 328.7L825.7 332.7M825.7 332.7L828.8 336.6M828.8 336.6L835.3 339.6M835.3 339.6L842.4 342.4M842.4 342.4L849.5 345.3M849.5 345.3L856.6 348.1" stroke="#9fff60"/><path d="M653.5 333.3L643.5 334.7M659.8 332.4L653.5 333.3M659.8 332.4L663.5 331.9M673.5 330.5L663.5 331.9M682.8 328.8L673.5 330.5M690.7 326.4L682.8 328.8M698.7 324L690.7 326.4M709.2 322.8L698.7 324M709.2 322.8L709.2 322.8M719.7 321.7L709.2 322.8M730.2 320.6L719.7 321.7M735.5 320L730.2 320.6M735.5 320L740.7 319.5M751.2 318.3L740.7 319.5M761.8 317.2L751.2 318.3M761.8 317.2L761.8 317.2M761.8 317.2L763.2 321.7M761.8 317.2L761.8 317.2M764.3 324.8L764.7 326.1M763.2 321.7L764.3 324.8M764.7 326.1L766.2 330.6M766.8 332.5L769.3 334.5M766.2 330.6L766.8 332.5M769.3 334.5L772.6 335.3M778.4 336.8L772.6 335.3M778.4 336.8L787.5 339M787.5 339L794.9 341.7M794.9 341.7L802.4 344.4M802.4 344.4L806.9 346.1M809.8 347.1L806.9 346.1M809.8 347.1L817.2 349.8M817.2 349.8L824.6 352.6M824.6 352.6L830.3 355.8" stroke="#ffcf00"/><path d="M670.2 341.6L660.2 343M680.2 340.2L670.2 341.6M685.9 339.4L680.2 340.2M685.9 339.4L692.7 340.1M698.4 340.7L692.7 340.1M698.4 340.7L708.6 341.7M710.9 341.9L708.6 341.7M710.9 341.9L723.4 343.1M723.4 343.1L724.5 343.2M735.9 344.3L724.5 343.2M735.9 344.3L740.4 344.8M746.2 346.2L740.4 344.8M746.2 346.2L755.4 348.4M755.4 348.4L761.9 351.4M761.9 351.4L766.4 354.9M766.4 354.9L770.9 358.5M770.9 358.5L775.4 362.1M775.8 362.4L779.6 365.7M775.4 362.1L775.8 362.4M779.6 365.7L785.2 369" stroke="#ff4000"/><path d="M704.5 363.3L700.3 363M704.5 363.3L711.5 366.1M711.5 366.1L719.3 368.7M719.3 368.7L727.1 371.3M727.1 371.3L734.9 373.9M734.9 373.9L735.4 374.1M742.8 376.5L735.4 374.1M742.8 376.5L750.6 379.1" stroke="#af0000"/></g>
<g stroke="#000" stroke-width="0.85" stroke-linejoin="round"><polygon points="735.9,191.1 744,174.8 750.1,180.6 742.1,185.9" fill="#0070ff"/><polygon points="727.9,196.9 735.9,191.1 742.1,185.9 734,191.7" fill="#0060ff"/><polygon points="744,174.8 752,158.5 758.2,164.4 750.1,180.6" fill="#0080ff"/><polygon points="719.8,202.7 727.9,196.9 734,191.7 726,197.6" fill="#0050ff"/><polygon points="711.8,208.6 719.8,202.7 726,197.6 718,203.4" fill="#0040ff"/><polygon points="752,158.5 760,142.2 766.2,148.1 758.2,164.4" fill="#00cfff"/><polygon points="703.7,214.4 711.8,208.6 718,203.4 709.9,209.2" fill="#0030ff"/><polygon points="750.1,180.6 758.2,164.4 764.3,170.2 756.3,175.5" fill="#00afff"/><polygon points="742.1,185.9 750.1,180.6 756.3,175.5 748.3,180.7" fill="#009fff"/><polygon points="695.7,220.2 703.7,214.4 709.9,209.2 701.9,215" fill="#0010ff"/><polygon points="758.2,164.4 766.2,148.1 772.4,153.9 764.3,170.2" fill="#00bfff"/><polygon points="760,142.2 768.1,126 774.3,131.8 766.2,148.1" fill="#20ffdf"/><polygon points="734,191.7 742.1,185.9 748.3,180.7 740.2,186.5" fill="#008fff"/><polygon points="687.7,226 695.7,220.2 701.9,215 693.8,220.2" fill="#0000ff"/><polygon points="726,197.6 734,191.7 740.2,186.5 732.2,192.4" fill="#0080ff"/><polygon points="766.2,148.1 774.3,131.8 780.4,137.6 772.4,153.9" fill="#10ffef"/><polygon points="768.1,126 776.1,109.7 782.3,115.5 774.3,131.8" fill="#70ff8f"/><polygon points="679.6,227 687.7,226 693.8,220.2 685.8,221.1" fill="#0010ff"/><polygon points="718,203.4 726,197.6 732.2,192.4 724.1,198.2" fill="#0070ff"/><polygon points="764.3,170.2 772.4,153.9 778.6,159.7 770.5,165" fill="#00efff"/><polygon points="756.3,175.5 764.3,170.2 770.5,165 762.5,170.3" fill="#00dfff"/><polygon points="709.9,209.2 718,203.4 724.1,198.2 716.1,204" fill="#0050ff"/><polygon points="772.4,153.9 780.4,137.6 786.6,143.5 778.6,159.7" fill="#00ffff"/><polygon points="774.3,131.8 782.3,115.5 788.5,121.4 780.4,137.6" fill="#60ff9f"/><polygon points="776.1,109.7 784.2,93.4 790.3,99.2 782.3,115.5" fill="#afff50"/><polygon points="748.3,180.7 756.3,175.5 762.5,170.3 754.4,175.5" fill="#00cfff"/><polygon points="701.9,215 709.9,209.2 716.1,204 708,209.2" fill="#0040ff"/><polygon points="671.6,227.9 679.6,227 685.8,221.1 677.7,222.1" fill="#0010ff"/><polygon points="740.2,186.5 748.3,180.7 754.4,175.5 746.4,181.4" fill="#00bfff"/><polygon points="780.4,137.6 788.5,121.4 794.6,127.2 786.6,143.5" fill="#50ffaf"/><polygon points="693.8,220.2 701.9,215 708,209.2 700,214.3" fill="#0040ff"/><polygon points="782.3,115.5 790.3,99.2 796.5,105.1 788.5,121.4" fill="#9fff60"/><polygon points="732.2,192.4 740.2,186.5 746.4,181.4 738.3,187.2" fill="#00afff"/><polygon points="778.6,159.7 786.6,143.5 792.8,149.3 784.7,154.6" fill="#30ffcf"/><polygon points="770.5,165 778.6,159.7 784.7,154.6 776.7,159.8" fill="#20ffdf"/><polygon points="663.5,228.9 671.6,227.9 677.7,222.1 669.7,223" fill="#0020ff"/><polygon points="724.1,198.2 732.2,192.4 738.3,187.2 730.3,193" fill="#008fff"/><polygon points="685.8,221.1 693.8,220.2 700,214.3 692,215.2" fill="#0040ff"/><polygon points="786.6,143.5 794.6,127.2 800.8,133 792.8,149.3" fill="#40ffbf"/><polygon points="788.5,121.4 796.5,105.1 802.7,110.9 794.6,127.2" fill="#8fff70"/><polygon points="762.5,170.3 770.5,165 776.7,159.8 768.7,165.1" fill="#10ffef"/><polygon points="716.1,204 724.1,198.2 730.3,193 722.3,198.2" fill="#0080ff"/><polygon points="754.4,175.5 762.5,170.3 768.7,165.1 760.6,170.3" fill="#00ffff"/><polygon points="794.6,127.2 802.7,110.9 808.9,116.7 800.8,133" fill="#80ff80"/><polygon points="655.5,229.8 663.5,228.9 669.7,223 661.7,223.9" fill="#0020ff"/><polygon points="708,209.2 716.1,204 722.3,198.2 714.2,203.3" fill="#0080ff"/><polygon points="677.7,222.1 685.8,221.1 692,215.2 683.9,216.2" fill="#0040ff"/><polygon points="792.8,149.3 800.8,133 807,138.9 799,144.1" fill="#60ff9f"/><polygon points="746.4,181.4 754.4,175.5 760.6,170.3 752.6,176.2" fill="#00efff"/><polygon points="784.7,154.6 792.8,149.3 799,144.1 790.9,149.4" fill="#60ff9f"/><polygon points="700,214.3 708,209.2 714.2,203.3 706.2,208.4" fill="#0070ff"/><polygon points="800.8,133 808.9,116.7 815,122.6 807,138.9" fill="#70ff8f"/><polygon points="738.3,187.2 746.4,181.4 752.6,176.2 744.5,182" fill="#00cfff"/><polygon points="776.7,159.8 784.7,154.6 790.9,149.4 782.9,154.6" fill="#50ffaf"/><polygon points="647.4,230.8 655.5,229.8 661.7,223.9 653.6,224.9" fill="#0030ff"/><polygon points="669.7,223 677.7,222.1 683.9,216.2 675.9,217.1" fill="#0050ff"/><polygon points="730.3,193 738.3,187.2 744.5,182 736.5,187.1" fill="#00bfff"/><polygon points="692,215.2 700,214.3 706.2,208.4 698.1,209.4" fill="#0070ff"/><polygon points="768.7,165.1 776.7,159.8 782.9,154.6 774.8,159.9" fill="#40ffbf"/><polygon points="722.3,198.2 730.3,193 736.5,187.1 728.4,192.3" fill="#00afff"/><polygon points="807,138.9 815,122.6 821.2,128.4 813.2,133.7" fill="#9fff60"/><polygon points="760.6,170.3 768.7,165.1 774.8,159.9 766.8,165.2" fill="#30ffcf"/><polygon points="799,144.1 807,138.9 813.2,133.7 805.1,138.9" fill="#8fff70"/><polygon points="639.4,231.7 647.4,230.8 653.6,224.9 645.6,221.9" fill="#0050ff"/><polygon points="661.7,223.9 669.7,223 675.9,217.1 667.8,218.1" fill="#0050ff"/><polygon points="714.2,203.3 722.3,198.2 728.4,192.3 720.4,197.4" fill="#00afff"/><polygon points="683.9,216.2 692,215.2 698.1,209.4 690.1,210.3" fill="#0080ff"/><polygon points="752.6,176.2 760.6,170.3 766.8,165.2 758.7,171" fill="#10ffef"/><polygon points="790.9,149.4 799,144.1 805.1,138.9 797.1,144.2" fill="#80ff80"/><polygon points="813.2,133.7 821.2,128.4 827.4,138.5 819.3,143.7" fill="#80ff80"/><polygon points="706.2,208.4 714.2,203.3 720.4,197.4 712.4,202.6" fill="#009fff"/><polygon points="744.5,182 752.6,176.2 758.7,171 750.7,176.1" fill="#00ffff"/><polygon points="819.3,143.7 827.4,138.5 833.6,148.5 825.5,153.8" fill="#60ff9f"/><polygon points="782.9,154.6 790.9,149.4 797.1,144.2 789,149.5" fill="#70ff8f"/><polygon points="631.4,237.2 639.4,231.7 645.6,221.9 637.5,227.5" fill="#0040ff"/><polygon points="805.1,138.9 813.2,133.7 819.3,143.7 811.3,149" fill="#70ff8f"/><polygon points="825.5,153.8 833.6,148.5 839.7,158.6 831.7,163.8" fill="#30ffcf"/><polygon points="653.6,224.9 661.7,223.9 667.8,218.1 659.8,215.1" fill="#0070ff"/><polygon points="675.9,217.1 683.9,216.2 690.1,210.3 682,211.3" fill="#0080ff"/><polygon points="736.5,187.1 744.5,182 750.7,176.1 742.7,181.3" fill="#00efff"/><polygon points="811.3,149 819.3,143.7 825.5,153.8 817.5,159" fill="#50ffaf"/><polygon points="698.1,209.4 706.2,208.4 712.4,202.6 704.3,203.5" fill="#009fff"/><polygon points="623.3,242.7 631.4,237.2 637.5,227.5 629.5,233" fill="#0030ff"/><polygon points="831.7,163.8 839.7,158.6 845.9,168.6 837.9,173.9" fill="#10ffef"/><polygon points="774.8,159.9 782.9,154.6 789,149.5 781,154.7" fill="#60ff9f"/><polygon points="797.1,144.2 805.1,138.9 811.3,149 803.3,154.2" fill="#60ff9f"/><polygon points="817.5,159 825.5,153.8 831.7,163.8 823.7,169.1" fill="#20ffdf"/><polygon points="837.9,173.9 845.9,168.6 852.1,178.6 844,183.9" fill="#00dfff"/><polygon points="728.4,192.3 736.5,187.1 742.7,181.3 734.6,186.4" fill="#00efff"/><polygon points="615.3,248.2 623.3,242.7 629.5,233 621.4,238.5" fill="#0010ff"/><polygon points="803.3,154.2 811.3,149 817.5,159 809.4,164.3" fill="#40ffbf"/><polygon points="823.7,169.1 831.7,163.8 837.9,173.9 829.8,179.1" fill="#00ffff"/><polygon points="766.8,165.2 774.8,159.9 781,154.7 773,160" fill="#50ffaf"/><polygon points="789,149.5 797.1,144.2 803.3,154.2 795.2,159.5" fill="#50ffaf"/><polygon points="809.4,164.3 817.5,159 823.7,169.1 815.6,174.3" fill="#10ffef"/><polygon points="844,183.9 852.1,178.6 858.3,188.7 850.2,185.8" fill="#00efff"/><polygon points="720.4,197.4 728.4,192.3 734.6,186.4 726.6,191.6" fill="#00dfff"/><polygon points="607.2,253.7 615.3,248.2 621.4,238.5 613.4,244" fill="#0000ff"/><polygon points="795.2,159.5 803.3,154.2 809.4,164.3 801.4,169.5" fill="#30ffcf"/><polygon points="667.8,218.1 675.9,217.1 682,211.3 674,208.3" fill="#009fff"/><polygon points="690.1,210.3 698.1,209.4 704.3,203.5 696.3,204.5" fill="#00afff"/><polygon points="758.7,171 766.8,165.2 773,160 764.9,165.1" fill="#40ffbf"/><polygon points="829.8,179.1 837.9,173.9 844,183.9 836,181.1" fill="#00ffff"/><polygon points="645.6,221.9 653.6,224.9 659.8,215.1 651.7,212.2" fill="#008fff"/><polygon points="781,154.7 789,149.5 795.2,159.5 787.2,164.8" fill="#40ffbf"/><polygon points="815.6,174.3 823.7,169.1 829.8,179.1 821.8,176.3" fill="#20ffdf"/><polygon points="850.2,185.8 858.3,188.7 864.4,199.3 856.4,196.5" fill="#00bfff"/><polygon points="712.4,202.6 720.4,197.4 726.6,191.6 718.5,196.7" fill="#00cfff"/><polygon points="599.2,259.2 607.2,253.7 613.4,244 605.4,249.5" fill="#0000ef"/><polygon points="856.4,196.5 864.4,199.3 870.6,210 862.6,207.2" fill="#009fff"/><polygon points="801.4,169.5 809.4,164.3 815.6,174.3 807.6,171.5" fill="#30ffcf"/><polygon points="750.7,176.1 758.7,171 764.9,165.1 756.9,170.3" fill="#30ffcf"/><polygon points="862.6,207.2 870.6,210 876.8,220.7 868.7,217.8" fill="#0070ff"/><polygon points="787.2,164.8 795.2,159.5 801.4,169.5 793.4,166.7" fill="#40ffbf"/><polygon points="868.7,217.8 876.8,220.7 883,231.3 874.9,228.5" fill="#0050ff"/><polygon points="773,160 781,154.7 787.2,164.8 779.1,161.9" fill="#60ff9f"/><polygon points="591.1,264.7 599.2,259.2 605.4,249.5 597.3,251.9" fill="#0000ef"/><polygon points="742.7,181.3 750.7,176.1 756.9,170.3 748.8,175.4" fill="#30ffcf"/><polygon points="836,181.1 844,183.9 850.2,185.8 842.2,183" fill="#10ffef"/><polygon points="874.9,228.5 883,231.3 889.1,242 881.1,239.1" fill="#0020ff"/><polygon points="682,211.3 690.1,210.3 696.3,204.5 688.2,201.5" fill="#00bfff"/><polygon points="704.3,203.5 712.4,202.6 718.5,196.7 710.5,197.6" fill="#00cfff"/><polygon points="637.5,227.5 645.6,221.9 651.7,212.2 643.7,217.7" fill="#0080ff"/><polygon points="821.8,176.3 829.8,179.1 836,181.1 828,178.2" fill="#20ffdf"/><polygon points="659.8,215.1 667.8,218.1 674,208.3 666,205.4" fill="#00bfff"/><polygon points="881.1,239.1 889.1,242 895.3,252.6 887.3,244.3" fill="#0010ff"/><polygon points="807.6,171.5 815.6,174.3 821.8,176.3 813.7,173.4" fill="#30ffcf"/><polygon points="734.6,186.4 742.7,181.3 748.8,175.4 740.8,180.5" fill="#20ffdf"/><polygon points="629.5,233 637.5,227.5 643.7,217.7 635.7,223.2" fill="#0070ff"/><polygon points="764.9,165.1 773,160 779.1,161.9 771.1,167.1" fill="#50ffaf"/><polygon points="793.4,166.7 801.4,169.5 807.6,171.5 799.5,168.6" fill="#50ffaf"/><polygon points="842.2,183 850.2,185.8 856.4,196.5 848.4,193.6" fill="#00dfff"/><polygon points="779.1,161.9 787.2,164.8 793.4,166.7 785.3,163.9" fill="#60ff9f"/><polygon points="848.4,193.6 856.4,196.5 862.6,207.2 854.5,204.3" fill="#00afff"/><polygon points="726.6,191.6 734.6,186.4 740.8,180.5 732.7,185.7" fill="#10ffef"/><polygon points="621.4,238.5 629.5,233 635.7,223.2 627.6,228.7" fill="#0060ff"/><polygon points="887.3,244.3 895.3,252.6 901.5,258.2 893.4,249.9" fill="#0000ff"/><polygon points="854.5,204.3 862.6,207.2 868.7,217.8 860.7,215" fill="#008fff"/><polygon points="756.9,170.3 764.9,165.1 771.1,167.1 763,172.2" fill="#40ffbf"/><polygon points="696.3,204.5 704.3,203.5 710.5,197.6 702.4,194.7" fill="#00efff"/><polygon points="860.7,215 868.7,217.8 874.9,228.5 866.9,225.6" fill="#0060ff"/><polygon points="674,208.3 682,211.3 688.2,201.5 680.2,198.6" fill="#00dfff"/><polygon points="828,178.2 836,181.1 842.2,183 834.1,180.1" fill="#20ffdf"/><polygon points="718.5,196.7 726.6,191.6 732.7,185.7 724.7,190.8" fill="#00ffff"/><polygon points="613.4,244 621.4,238.5 627.6,228.7 619.6,234.2" fill="#0050ff"/><polygon points="866.9,225.6 874.9,228.5 881.1,239.1 873.1,230.8" fill="#0060ff"/><polygon points="748.8,175.4 756.9,170.3 763,172.2 755,177.3" fill="#30ffcf"/><polygon points="813.7,173.4 821.8,176.3 828,178.2 819.9,175.4" fill="#40ffbf"/><polygon points="651.7,212.2 659.8,215.1 666,205.4 657.9,202.4" fill="#00cfff"/><polygon points="893.4,249.9 901.5,258.2 907.7,263.8 899.6,255.5" fill="#0000ff"/><polygon points="771.1,167.1 779.1,161.9 785.3,163.9 777.3,169" fill="#50ffaf"/><polygon points="799.5,168.6 807.6,171.5 813.7,173.4 805.7,170.6" fill="#50ffaf"/><polygon points="605.4,249.5 613.4,244 619.6,234.2 611.5,236.7" fill="#0050ff"/><polygon points="785.3,163.9 793.4,166.7 799.5,168.6 791.5,165.8" fill="#70ff8f"/><polygon points="834.1,180.1 842.2,183 848.4,193.6 840.3,190.8" fill="#00ffff"/><polygon points="740.8,180.5 748.8,175.4 755,177.3 747,182.5" fill="#20ffdf"/><polygon points="873.1,230.8 881.1,239.1 887.3,244.3 879.2,236.1" fill="#0050ff"/><polygon points="840.3,190.8 848.4,193.6 854.5,204.3 846.5,201.5" fill="#00cfff"/><polygon points="710.5,197.6 718.5,196.7 724.7,190.8 716.7,187.9" fill="#10ffef"/><polygon points="763,172.2 771.1,167.1 777.3,169 769.2,174.1" fill="#40ffbf"/><polygon points="846.5,201.5 854.5,204.3 860.7,215 852.7,212.1" fill="#00afff"/><polygon points="688.2,201.5 696.3,204.5 702.4,194.7 694.4,191.8" fill="#10ffef"/><polygon points="899.6,255.5 907.7,263.8 913.8,269.4 905.8,261.1" fill="#0000ef"/><polygon points="732.7,185.7 740.8,180.5 747,182.5 738.9,187.6" fill="#10ffef"/><polygon points="643.7,217.7 651.7,212.2 657.9,202.4 649.9,208" fill="#00bfff"/><polygon points="597.3,251.9 605.4,249.5 611.5,236.7 603.5,239.1" fill="#0050ff"/><polygon points="755,177.3 763,172.2 769.2,174.1 761.2,179.3" fill="#30ffcf"/><polygon points="819.9,175.4 828,178.2 834.1,180.1 826.1,177.3" fill="#40ffbf"/><polygon points="666,205.4 674,208.3 680.2,198.6 672.1,195.6" fill="#00ffff"/><polygon points="852.7,212.1 860.7,215 866.9,225.6 858.8,217.3" fill="#009fff"/><polygon points="777.3,169 785.3,163.9 791.5,165.8 783.4,170.9" fill="#60ff9f"/><polygon points="805.7,170.6 813.7,173.4 819.9,175.4 811.9,172.5" fill="#60ff9f"/><polygon points="879.2,236.1 887.3,244.3 893.4,249.9 885.4,241.7" fill="#0040ff"/><polygon points="635.7,223.2 643.7,217.7 649.9,208 641.8,213.5" fill="#00afff"/><polygon points="791.5,165.8 799.5,168.6 805.7,170.6 797.7,167.7" fill="#70ff8f"/><polygon points="747,182.5 755,177.3 761.2,179.3 753.1,184.4" fill="#20ffdf"/><polygon points="724.7,190.8 732.7,185.7 738.9,187.6 730.9,184.5" fill="#30ffcf"/><polygon points="905.8,261.1 913.8,269.4 920,275 912,266.7" fill="#0000df"/><polygon points="858.8,217.3 866.9,225.6 873.1,230.8 865,222.6" fill="#008fff"/><polygon points="826.1,177.3 834.1,180.1 840.3,190.8 832.3,188" fill="#20ffdf"/><polygon points="769.2,174.1 777.3,169 783.4,170.9 775.4,176.1" fill="#50ffaf"/><polygon points="627.6,228.7 635.7,223.2 641.8,213.5 633.8,219" fill="#009fff"/><polygon points="702.4,194.7 710.5,197.6 716.7,187.9 708.6,185" fill="#30ffcf"/><polygon points="832.3,188 840.3,190.8 846.5,201.5 838.4,198.6" fill="#00efff"/><polygon points="885.4,241.7 893.4,249.9 899.6,255.5 891.6,247.2" fill="#0030ff"/><polygon points="680.2,198.6 688.2,201.5 694.4,191.8 686.4,188.8" fill="#30ffcf"/><polygon points="761.2,179.3 769.2,174.1 775.4,176.1 767.4,181.2" fill="#40ffbf"/><polygon points="738.9,187.6 747,182.5 753.1,184.4 745.1,181.3" fill="#40ffbf"/><polygon points="838.4,198.6 846.5,201.5 852.7,212.1 844.6,203.8" fill="#00dfff"/><polygon points="619.6,234.2 627.6,228.7 633.8,219 625.7,221.4" fill="#009fff"/><polygon points="912,266.7 920,275 926.2,280.6 918.1,272.3" fill="#0000cf"/><polygon points="783.4,170.9 791.5,165.8 797.7,167.7 789.6,172.9" fill="#60ff9f"/><polygon points="811.9,172.5 819.9,175.4 826.1,177.3 818.1,174.5" fill="#60ff9f"/><polygon points="657.9,202.4 666,205.4 672.1,195.6 664.1,192.7" fill="#20ffdf"/><polygon points="865,222.6 873.1,230.8 879.2,236.1 871.2,227.8" fill="#0080ff"/><polygon points="797.7,167.7 805.7,170.6 811.9,172.5 803.8,169.7" fill="#70ff8f"/><polygon points="716.7,187.9 724.7,190.8 730.9,184.5 722.8,181.6" fill="#50ffaf"/><polygon points="891.6,247.2 899.6,255.5 905.8,261.1 897.8,252.8" fill="#0020ff"/><polygon points="775.4,176.1 783.4,170.9 789.6,172.9 781.6,178" fill="#50ffaf"/><polygon points="844.6,203.8 852.7,212.1 858.8,217.3 850.8,209.1" fill="#00dfff"/><polygon points="753.1,184.4 761.2,179.3 767.4,181.2 759.3,178.1" fill="#60ff9f"/><polygon points="611.5,236.7 619.6,234.2 625.7,221.4 617.7,223.9" fill="#009fff"/><polygon points="918.1,272.3 926.2,280.6 932.4,286.2 924.3,277.6" fill="#0000bf"/><polygon points="818.1,174.5 826.1,177.3 832.3,188 824.2,185.1" fill="#30ffcf"/><polygon points="694.4,191.8 702.4,194.7 708.6,185 700.6,182" fill="#50ffaf"/><polygon points="871.2,227.8 879.2,236.1 885.4,241.7 877.4,233.4" fill="#0080ff"/><polygon points="649.9,208 657.9,202.4 664.1,192.7 656.1,198.2" fill="#10ffef"/><polygon points="730.9,184.5 738.9,187.6 745.1,181.3 737.1,178.2" fill="#60ff9f"/><polygon points="824.2,185.1 832.3,188 838.4,198.6 830.4,190.3" fill="#30ffcf"/><polygon points="672.1,195.6 680.2,198.6 686.4,188.8 678.3,185.9" fill="#40ffbf"/><polygon points="897.8,252.8 905.8,261.1 912,266.7 903.9,258.4" fill="#0010ff"/><polygon points="789.6,172.9 797.7,167.7 803.8,169.7 795.8,174.8" fill="#60ff9f"/><polygon points="767.4,181.2 775.4,176.1 781.6,178 773.5,174.9" fill="#70ff8f"/><polygon points="850.8,209.1 858.8,217.3 865,222.6 857,214.3" fill="#00cfff"/><polygon points="603.5,239.1 611.5,236.7 617.7,223.9 609.7,226.3" fill="#009fff"/><polygon points="641.8,213.5 649.9,208 656.1,198.2 648,203.7" fill="#00ffff"/><polygon points="803.8,169.7 811.9,172.5 818.1,174.5 810,171.6" fill="#80ff80"/><polygon points="877.4,233.4 885.4,241.7 891.6,247.2 883.5,239" fill="#0070ff"/><polygon points="830.4,190.3 838.4,198.6 844.6,203.8 836.6,195.6" fill="#20ffdf"/><polygon points="745.1,181.3 753.1,184.4 759.3,178.1 751.3,175" fill="#70ff8f"/><polygon points="708.6,185 716.7,187.9 722.8,181.6 714.8,178.6" fill="#60ff9f"/><polygon points="781.6,178 789.6,172.9 795.8,174.8 787.7,171.7" fill="#80ff80"/><polygon points="903.9,258.4 912,266.7 918.1,272.3 910.1,263.8" fill="#0010ff"/><polygon points="633.8,219 641.8,213.5 648,203.7 640,206.2" fill="#00ffff"/><polygon points="857,214.3 865,222.6 871.2,227.8 863.1,219.5" fill="#00bfff"/><polygon points="686.4,188.8 694.4,191.8 700.6,182 692.5,179.1" fill="#70ff8f"/><polygon points="810,171.6 818.1,174.5 824.2,185.1 816.2,176.8" fill="#70ff8f"/><polygon points="759.3,178.1 767.4,181.2 773.5,174.9 765.5,171.8" fill="#8fff70"/><polygon points="883.5,239 891.6,247.2 897.8,252.8 889.7,244.6" fill="#0060ff"/><polygon points="722.8,181.6 730.9,184.5 737.1,178.2 729,175.2" fill="#80ff80"/><polygon points="836.6,195.6 844.6,203.8 850.8,209.1 842.8,200.8" fill="#10ffef"/><polygon points="664.1,192.7 672.1,195.6 678.3,185.9 670.3,182.9" fill="#60ff9f"/><polygon points="795.8,174.8 803.8,169.7 810,171.6 802,168.5" fill="#9fff60"/><polygon points="625.7,221.4 633.8,219 640,206.2 631.9,208.6" fill="#00ffff"/><polygon points="910.1,263.8 918.1,272.3 924.3,277.6 916.3,269.1" fill="#0000ff"/><polygon points="863.1,219.5 871.2,227.8 877.4,233.4 869.3,225.1" fill="#00afff"/><polygon points="816.2,176.8 824.2,185.1 830.4,190.3 822.4,182.1" fill="#60ff9f"/><polygon points="773.5,174.9 781.6,178 787.7,171.7 779.7,168.6" fill="#9fff60"/><polygon points="700.6,182 708.6,185 714.8,178.6 706.7,175.7" fill="#80ff80"/><polygon points="737.1,178.2 745.1,181.3 751.3,175 743.2,171.9" fill="#8fff70"/><polygon points="889.7,244.6 897.8,252.8 903.9,258.4 895.9,249.9" fill="#0050ff"/><polygon points="842.8,200.8 850.8,209.1 857,214.3 848.9,206" fill="#00ffff"/><polygon points="617.7,223.9 625.7,221.4 631.9,208.6 623.9,211.1" fill="#00ffff"/><polygon points="656.1,198.2 664.1,192.7 670.3,182.9 662.2,188.5" fill="#50ffaf"/><polygon points="678.3,185.9 686.4,188.8 692.5,179.1 684.5,176.1" fill="#8fff70"/><polygon points="869.3,225.1 877.4,233.4 883.5,239 875.5,230.7" fill="#009fff"/><polygon points="822.4,182.1 830.4,190.3 836.6,195.6 828.5,187.3" fill="#50ffaf"/><polygon points="787.7,171.7 795.8,174.8 802,168.5 793.9,165.4" fill="#afff50"/><polygon points="802,168.5 810,171.6 816.2,176.8 808.1,173.7" fill="#8fff70"/><polygon points="751.3,175 759.3,178.1 765.5,171.8 757.4,168.7" fill="#afff50"/><polygon points="714.8,178.6 722.8,181.6 729,175.2 721,172.3" fill="#9fff60"/><polygon points="895.9,249.9 903.9,258.4 910.1,263.8 902.1,255.3" fill="#0040ff"/><polygon points="648,203.7 656.1,198.2 662.2,188.5 654.2,190.9" fill="#50ffaf"/><polygon points="848.9,206 857,214.3 863.1,219.5 855.1,211.2" fill="#00ffff"/><polygon points="609.7,226.3 617.7,223.9 623.9,211.1 615.8,213.5" fill="#00efff"/><polygon points="875.5,230.7 883.5,239 889.7,244.6 881.7,236" fill="#009fff"/><polygon points="828.5,187.3 836.6,195.6 842.8,200.8 834.7,192.5" fill="#50ffaf"/><polygon points="765.5,171.8 773.5,174.9 779.7,168.6 771.7,165.4" fill="#bfff40"/><polygon points="692.5,179.1 700.6,182 706.7,175.7 698.7,172.8" fill="#9fff60"/><polygon points="729,175.2 737.1,178.2 743.2,171.9 735.2,168.9" fill="#afff50"/><polygon points="808.1,173.7 816.2,176.8 822.4,182.1 814.3,178.9" fill="#80ff80"/><polygon points="640,206.2 648,203.7 654.2,190.9 646.1,193.4" fill="#50ffaf"/><polygon points="902.1,255.3 910.1,263.8 916.3,269.1 908.2,260.6" fill="#0040ff"/><polygon points="855.1,211.2 863.1,219.5 869.3,225.1 861.3,216.8" fill="#00efff"/><polygon points="670.3,182.9 678.3,185.9 684.5,176.1 676.4,173.2" fill="#9fff60"/><polygon points="779.7,168.6 787.7,171.7 793.9,165.4 785.9,162.2" fill="#cfff30"/><polygon points="881.7,236 889.7,244.6 895.9,249.9 887.8,241.4" fill="#008fff"/><polygon points="793.9,165.4 802,168.5 808.1,173.7 800.1,170.6" fill="#afff50"/><polygon points="706.7,175.7 714.8,178.6 721,172.3 712.9,169.4" fill="#afff50"/><polygon points="743.2,171.9 751.3,175 757.4,168.7 749.4,165.5" fill="#bfff40"/><polygon points="834.7,192.5 842.8,200.8 848.9,206 840.9,197.7" fill="#40ffbf"/><polygon points="814.3,178.9 822.4,182.1 828.5,187.3 820.5,184.2" fill="#70ff8f"/><polygon points="631.9,208.6 640,206.2 646.1,193.4 638.1,195.8" fill="#50ffaf"/><polygon points="861.3,216.8 869.3,225.1 875.5,230.7 867.5,222.2" fill="#00dfff"/><polygon points="757.4,168.7 765.5,171.8 771.7,165.4 763.6,162.3" fill="#dfff20"/><polygon points="684.5,176.1 692.5,179.1 698.7,172.8 690.7,169.8" fill="#bfff40"/><polygon points="721,172.3 729,175.2 735.2,168.9 727.1,166" fill="#cfff30"/><polygon points="887.8,241.4 895.9,249.9 902.1,255.3 894,246.8" fill="#0080ff"/><polygon points="800.1,170.6 808.1,173.7 814.3,178.9 806.3,175.8" fill="#9fff60"/><polygon points="662.2,188.5 670.3,182.9 676.4,173.2 668.4,175.6" fill="#9fff60"/><polygon points="840.9,197.7 848.9,206 855.1,211.2 847.1,202.9" fill="#30ffcf"/><polygon points="820.5,184.2 828.5,187.3 834.7,192.5 826.7,189.4" fill="#70ff8f"/><polygon points="623.9,211.1 631.9,208.6 638.1,195.8 630.1,198.3" fill="#50ffaf"/><polygon points="867.5,222.2 875.5,230.7 881.7,236 873.6,227.5" fill="#00cfff"/><polygon points="771.7,165.4 779.7,168.6 785.9,162.2 777.8,159.1" fill="#efff10"/><polygon points="698.7,172.8 706.7,175.7 712.9,169.4 704.9,166.4" fill="#cfff30"/><polygon points="785.9,162.2 793.9,165.4 800.1,170.6 792.1,167.5" fill="#cfff30"/><polygon points="735.2,168.9 743.2,171.9 749.4,165.5 741.4,162.6" fill="#dfff20"/><polygon points="654.2,190.9 662.2,188.5 668.4,175.6 660.4,178.1" fill="#9fff60"/><polygon points="894,246.8 902.1,255.3 908.2,260.6 900.2,252.1" fill="#0070ff"/><polygon points="806.3,175.8 814.3,178.9 820.5,184.2 812.4,181" fill="#8fff70"/><polygon points="847.1,202.9 855.1,211.2 861.3,216.8 853.2,208.3" fill="#30ffcf"/><polygon points="826.7,189.4 834.7,192.5 840.9,197.7 832.8,194.6" fill="#60ff9f"/><polygon points="615.8,213.5 623.9,211.1 630.1,198.3 622,200.7" fill="#50ffaf"/><polygon points="873.6,227.5 881.7,236 887.8,241.4 879.8,232.9" fill="#00cfff"/><polygon points="676.4,173.2 684.5,176.1 690.7,169.8 682.6,169.4" fill="#cfff30"/><polygon points="712.9,169.4 721,172.3 727.1,166 719.1,163" fill="#efff10"/><polygon points="749.4,165.5 757.4,168.7 763.6,162.3 755.6,159.2" fill="#ffff00"/><polygon points="792.1,167.5 800.1,170.6 806.3,175.8 798.2,172.7" fill="#bfff40"/><polygon points="646.1,193.4 654.2,190.9 660.4,178.1 652.3,180.5" fill="#9fff60"/><polygon points="812.4,181 820.5,184.2 826.7,189.4 818.6,186.3" fill="#80ff80"/><polygon points="853.2,208.3 861.3,216.8 867.5,222.2 859.4,213.7" fill="#20ffdf"/><polygon points="832.8,194.6 840.9,197.7 847.1,202.9 839,199.3" fill="#50ffaf"/><polygon points="690.7,169.8 698.7,172.8 704.9,166.4 696.8,166" fill="#dfff20"/><polygon points="879.8,232.9 887.8,241.4 894,246.8 886,238.3" fill="#00bfff"/><polygon points="763.6,162.3 771.7,165.4 777.8,159.1 769.8,156" fill="#ffef00"/><polygon points="727.1,166 735.2,168.9 741.4,162.6 733.3,159.7" fill="#ffff00"/><polygon points="777.8,159.1 785.9,162.2 792.1,167.5 784,164.3" fill="#dfff20"/><polygon points="798.2,172.7 806.3,175.8 812.4,181 804.4,177.9" fill="#afff50"/><polygon points="668.4,175.6 676.4,173.2 682.6,169.4 674.6,171.9" fill="#cfff30"/><polygon points="638.1,195.8 646.1,193.4 652.3,180.5 644.3,183" fill="#9fff60"/><polygon points="818.6,186.3 826.7,189.4 832.8,194.6 824.8,190.9" fill="#80ff80"/><polygon points="859.4,213.7 867.5,222.2 873.6,227.5 865.6,219" fill="#10ffef"/><polygon points="839,199.3 847.1,202.9 853.2,208.3 845.2,204.6" fill="#50ffaf"/><polygon points="704.9,166.4 712.9,169.4 719.1,163 711.1,162.7" fill="#ffff00"/><polygon points="741.4,162.6 749.4,165.5 755.6,159.2 747.5,156.3" fill="#ffef00"/><polygon points="886,238.3 894,246.8 900.2,252.1 892.2,243.6" fill="#00afff"/><polygon points="784,164.3 792.1,167.5 798.2,172.7 790.2,169.6" fill="#dfff20"/><polygon points="660.4,178.1 668.4,175.6 674.6,171.9 666.5,174.3" fill="#cfff30"/><polygon points="804.4,177.9 812.4,181 818.6,186.3 810.6,182.6" fill="#afff50"/><polygon points="630.1,198.3 638.1,195.8 644.3,183 636.2,185.4" fill="#9fff60"/><polygon points="682.6,169.4 690.7,169.8 696.8,166 688.8,165.7" fill="#efff10"/><polygon points="865.6,219 873.6,227.5 879.8,232.9 871.8,224.4" fill="#00ffff"/><polygon points="824.8,190.9 832.8,194.6 839,199.3 831,195.6" fill="#70ff8f"/><polygon points="719.1,163 727.1,166 733.3,159.7 725.3,159.3" fill="#ffef00"/><polygon points="845.2,204.6 853.2,208.3 859.4,213.7 851.4,210" fill="#40ffbf"/><polygon points="755.6,159.2 763.6,162.3 769.8,156 761.8,152.9" fill="#ffcf00"/><polygon points="769.8,156 777.8,159.1 784,164.3 776,161.2" fill="#ffff00"/><polygon points="790.2,169.6 798.2,172.7 804.4,177.9 796.4,174.2" fill="#cfff30"/><polygon points="696.8,166 704.9,166.4 711.1,162.7 703,162.3" fill="#ffef00"/><polygon points="652.3,180.5 660.4,178.1 666.5,174.3 658.5,176.8" fill="#cfff30"/><polygon points="622,200.7 630.1,198.3 636.2,185.4 628.2,187.9" fill="#9fff60"/><polygon points="810.6,182.6 818.6,186.3 824.8,190.9 816.8,187.3" fill="#9fff60"/><polygon points="871.8,224.4 879.8,232.9 886,238.3 877.9,229.8" fill="#00efff"/><polygon points="733.3,159.7 741.4,162.6 747.5,156.3 739.5,155.9" fill="#ffdf00"/><polygon points="674.6,171.9 682.6,169.4 688.8,165.7 680.8,168.1" fill="#efff10"/><polygon points="831,195.6 839,199.3 845.2,204.6 837.1,201" fill="#70ff8f"/><polygon points="851.4,210 859.4,213.7 865.6,219 857.5,215.4" fill="#30ffcf"/><polygon points="776,161.2 784,164.3 790.2,169.6 782.1,165.9" fill="#ffff00"/><polygon points="796.4,174.2 804.4,177.9 810.6,182.6 802.5,178.9" fill="#cfff30"/><polygon points="711.1,162.7 719.1,163 725.3,159.3 717.2,158.9" fill="#ffdf00"/><polygon points="644.3,183 652.3,180.5 658.5,176.8 650.4,179.2" fill="#cfff30"/><polygon points="816.8,187.3 824.8,190.9 831,195.6 822.9,191.9" fill="#8fff70"/><polygon points="747.5,156.3 755.6,159.2 761.8,152.9 753.7,152.5" fill="#ffbf00"/><polygon points="877.9,229.8 886,238.3 892.2,243.6 884.1,235.1" fill="#00efff"/><polygon points="666.5,174.3 674.6,171.9 680.8,168.1 672.7,170.6" fill="#efff10"/><polygon points="837.1,201 845.2,204.6 851.4,210 843.3,206.3" fill="#60ff9f"/><polygon points="761.8,152.9 769.8,156 776,161.2 767.9,157.6" fill="#ffdf00"/><polygon points="688.8,165.7 696.8,166 703,162.3 695,161.9" fill="#ffef00"/><polygon points="857.5,215.4 865.6,219 871.8,224.4 863.7,220.7" fill="#20ffdf"/><polygon points="782.1,165.9 790.2,169.6 796.4,174.2 788.3,170.6" fill="#efff10"/><polygon points="725.3,159.3 733.3,159.7 739.5,155.9 731.4,155.5" fill="#ffcf00"/><polygon points="802.5,178.9 810.6,182.6 816.8,187.3 808.7,183.6" fill="#bfff40"/><polygon points="636.2,185.4 644.3,183 650.4,179.2 642.4,181.7" fill="#cfff30"/><polygon points="822.9,191.9 831,195.6 837.1,201 829.1,197.3" fill="#8fff70"/><polygon points="703,162.3 711.1,162.7 717.2,158.9 709.2,158.5" fill="#ffcf00"/><polygon points="658.5,176.8 666.5,174.3 672.7,170.6 664.7,173" fill="#efff10"/><polygon points="843.3,206.3 851.4,210 857.5,215.4 849.5,211.7" fill="#50ffaf"/><polygon points="767.9,157.6 776,161.2 782.1,165.9 774.1,162.2" fill="#ffdf00"/><polygon points="863.7,220.7 871.8,224.4 877.9,229.8 869.9,226.1" fill="#10ffef"/><polygon points="680.8,168.1 688.8,165.7 695,161.9 686.9,164.3" fill="#ffef00"/><polygon points="739.5,155.9 747.5,156.3 753.7,152.5 745.7,152.1" fill="#ffaf00"/><polygon points="788.3,170.6 796.4,174.2 802.5,178.9 794.5,175.3" fill="#efff10"/><polygon points="753.7,152.5 761.8,152.9 767.9,157.6 759.9,157.2" fill="#ffcf00"/><polygon points="808.7,183.6 816.8,187.3 822.9,191.9 814.9,188.3" fill="#bfff40"/><polygon points="628.2,187.9 636.2,185.4 642.4,181.7 634.4,180.8" fill="#dfff20"/><polygon points="717.2,158.9 725.3,159.3 731.4,155.5 723.4,155.1" fill="#ffbf00"/><polygon points="829.1,197.3 837.1,201 843.3,206.3 835.3,202.7" fill="#80ff80"/><polygon points="650.4,179.2 658.5,176.8 664.7,173 656.6,175.5" fill="#efff10"/><polygon points="849.5,211.7 857.5,215.4 863.7,220.7 855.7,217.1" fill="#40ffbf"/><polygon points="774.1,162.2 782.1,165.9 788.3,170.6 780.3,166.9" fill="#ffef00"/><polygon points="869.9,226.1 877.9,229.8 884.1,235.1 876.1,228.1" fill="#20ffdf"/><polygon points="672.7,170.6 680.8,168.1 686.9,164.3 678.9,166.8" fill="#ffef00"/><polygon points="695,161.9 703,162.3 709.2,158.5 701.1,158.1" fill="#ffbf00"/><polygon points="794.5,175.3 802.5,178.9 808.7,183.6 800.7,179.9" fill="#dfff20"/><polygon points="759.9,157.2 767.9,157.6 774.1,162.2 766.1,161.9" fill="#ffcf00"/><polygon points="731.4,155.5 739.5,155.9 745.7,152.1 737.6,151.7" fill="#ff9f00"/><polygon points="814.9,188.3 822.9,191.9 829.1,197.3 821.1,193.6" fill="#afff50"/><polygon points="835.3,202.7 843.3,206.3 849.5,211.7 841.5,208" fill="#70ff8f"/><polygon points="745.7,152.1 753.7,152.5 759.9,157.2 751.8,156.8" fill="#ffbf00"/><polygon points="642.4,181.7 650.4,179.2 656.6,175.5 648.6,174.6" fill="#ffff00"/><polygon points="855.7,217.1 863.7,220.7 869.9,226.1 861.8,219.1" fill="#50ffaf"/><polygon points="709.2,158.5 717.2,158.9 723.4,155.1 715.4,154.7" fill="#ffaf00"/><polygon points="664.7,173 672.7,170.6 678.9,166.8 670.8,169.2" fill="#ffef00"/><polygon points="780.3,166.9 788.3,170.6 794.5,175.3 786.5,171.6" fill="#ffef00"/><polygon points="686.9,164.3 695,161.9 701.1,158.1 693.1,160.6" fill="#ffbf00"/><polygon points="800.7,179.9 808.7,183.6 814.9,188.3 806.8,184.6" fill="#dfff20"/><polygon points="821.1,193.6 829.1,197.3 835.3,202.7 827.2,199" fill="#9fff60"/><polygon points="766.1,161.9 774.1,162.2 780.3,166.9 772.2,166.5" fill="#ffdf00"/><polygon points="841.5,208 849.5,211.7 855.7,217.1 847.6,210.1" fill="#70ff8f"/><polygon points="751.8,156.8 759.9,157.2 766.1,161.9 758,161.5" fill="#ffbf00"/><polygon points="723.4,155.1 731.4,155.5 737.6,151.7 729.6,151.4" fill="#ff8f00"/><polygon points="786.5,171.6 794.5,175.3 800.7,179.9 792.6,176.3" fill="#ffff00"/><polygon points="656.6,175.5 664.7,173 670.8,169.2 662.8,168.4" fill="#ffdf00"/><polygon points="634.4,180.8 642.4,181.7 648.6,174.6 640.5,173.8" fill="#ffef00"/><polygon points="737.6,151.7 745.7,152.1 751.8,156.8 743.8,156.4" fill="#ffaf00"/><polygon points="861.8,219.1 869.9,226.1 876.1,228.1 868,221.1" fill="#50ffaf"/><polygon points="678.9,166.8 686.9,164.3 693.1,160.6 685.1,163" fill="#ffbf00"/><polygon points="806.8,184.6 814.9,188.3 821.1,193.6 813,190" fill="#cfff30"/><polygon points="701.1,158.1 709.2,158.5 715.4,154.7 707.3,154.4" fill="#ff9f00"/><polygon points="827.2,199 835.3,202.7 841.5,208 833.4,201" fill="#9fff60"/><polygon points="772.2,166.5 780.3,166.9 786.5,171.6 778.4,171.2" fill="#ffdf00"/><polygon points="758,161.5 766.1,161.9 772.2,166.5 764.2,166.1" fill="#ffcf00"/><polygon points="847.6,210.1 855.7,217.1 861.8,219.1 853.8,212.1" fill="#80ff80"/><polygon points="792.6,176.3 800.7,179.9 806.8,184.6 798.8,180.9" fill="#ffff00"/><polygon points="743.8,156.4 751.8,156.8 758,161.5 750,161.1" fill="#ffaf00"/><polygon points="715.4,154.7 723.4,155.1 729.6,151.4 721.5,151" fill="#ff8000"/><polygon points="670.8,169.2 678.9,166.8 685.1,163 677,162.2" fill="#ffaf00"/><polygon points="648.6,174.6 656.6,175.5 662.8,168.4 654.8,167.6" fill="#ffbf00"/><polygon points="813,190 821.1,193.6 827.2,199 819.2,192" fill="#cfff30"/><polygon points="729.6,151.4 737.6,151.7 743.8,156.4 735.8,156" fill="#ff9f00"/><polygon points="693.1,160.6 701.1,158.1 707.3,154.4 699.3,156.8" fill="#ff9f00"/><polygon points="778.4,171.2 786.5,171.6 792.6,176.3 784.6,175.9" fill="#ffef00"/><polygon points="833.4,201 841.5,208 847.6,210.1 839.6,203.1" fill="#afff50"/><polygon points="764.2,166.1 772.2,166.5 778.4,171.2 770.4,170.8" fill="#ffcf00"/><polygon points="798.8,180.9 806.8,184.6 813,190 805,183" fill="#ffff00"/><polygon points="750,161.1 758,161.5 764.2,166.1 756.1,165.8" fill="#ffbf00"/><polygon points="853.8,212.1 861.8,219.1 868,221.1 860,214.1" fill="#80ff80"/><polygon points="735.8,156 743.8,156.4 750,161.1 741.9,160.7" fill="#ffaf00"/><polygon points="707.3,154.4 715.4,154.7 721.5,151 713.5,150.6" fill="#ff8000"/><polygon points="685.1,163 693.1,160.6 699.3,156.8 691.2,156" fill="#ff8f00"/><polygon points="662.8,168.4 670.8,169.2 677,162.2 669,161.3" fill="#ff9f00"/><polygon points="819.2,192 827.2,199 833.4,201 825.4,194" fill="#cfff30"/><polygon points="640.5,173.8 648.6,174.6 654.8,167.6 646.7,166.7" fill="#ffaf00"/><polygon points="784.6,175.9 792.6,176.3 798.8,180.9 790.8,176.4" fill="#ffdf00"/><polygon points="721.5,151 729.6,151.4 735.8,156 727.7,155.6" fill="#ff8f00"/><polygon points="770.4,170.8 778.4,171.2 784.6,175.9 776.5,171.4" fill="#ffcf00"/><polygon points="839.6,203.1 847.6,210.1 853.8,212.1 845.8,205.1" fill="#afff50"/><polygon points="756.1,165.8 764.2,166.1 770.4,170.8 762.3,166.3" fill="#ffaf00"/><polygon points="805,183 813,190 819.2,192 811.2,185" fill="#ffff00"/><polygon points="741.9,160.7 750,161.1 756.1,165.8 748.1,161.3" fill="#ff9f00"/><polygon points="699.3,156.8 707.3,154.4 713.5,150.6 705.5,149.8" fill="#ff6000"/><polygon points="677,162.2 685.1,163 691.2,156 683.2,155.1" fill="#ff8000"/><polygon points="727.7,155.6 735.8,156 741.9,160.7 733.9,156.2" fill="#ff8000"/><polygon points="654.8,167.6 662.8,168.4 669,161.3 660.9,160.5" fill="#ff8f00"/><polygon points="825.4,194 833.4,201 839.6,203.1 831.5,196.1" fill="#dfff20"/><polygon points="790.8,176.4 798.8,180.9 805,183 796.9,178.5" fill="#ffdf00"/><polygon points="713.5,150.6 721.5,151 727.7,155.6 719.7,151.2" fill="#ff7000"/><polygon points="776.5,171.4 784.6,175.9 790.8,176.4 782.7,172" fill="#ffbf00"/><polygon points="845.8,205.1 853.8,212.1 860,214.1 851.9,207.1" fill="#afff50"/><polygon points="762.3,166.3 770.4,170.8 776.5,171.4 768.5,166.9" fill="#ff9f00"/><polygon points="811.2,185 819.2,192 825.4,194 817.3,187" fill="#ffef00"/><polygon points="691.2,156 699.3,156.8 705.5,149.8 697.4,148.9" fill="#ff5000"/><polygon points="748.1,161.3 756.1,165.8 762.3,166.3 754.3,161.8" fill="#ff8f00"/><polygon points="669,161.3 677,162.2 683.2,155.1 675.1,154.3" fill="#ff7000"/><polygon points="646.7,166.7 654.8,167.6 660.9,160.5 652.9,159.7" fill="#ff8000"/><polygon points="733.9,156.2 741.9,160.7 748.1,161.3 740.1,156.8" fill="#ff7000"/><polygon points="831.5,196.1 839.6,203.1 845.8,205.1 837.7,198.1" fill="#dfff20"/><polygon points="796.9,178.5 805,183 811.2,185 803.1,180.5" fill="#ffcf00"/><polygon points="719.7,151.2 727.7,155.6 733.9,156.2 725.8,151.7" fill="#ff6000"/><polygon points="705.5,149.8 713.5,150.6 719.7,151.2 711.6,150.3" fill="#ff6000"/><polygon points="782.7,172 790.8,176.4 796.9,178.5 788.9,174" fill="#ffaf00"/><polygon points="817.3,187 825.4,194 831.5,196.1 823.5,189.1" fill="#ffef00"/><polygon points="768.5,166.9 776.5,171.4 782.7,172 774.7,167.5" fill="#ff8f00"/><polygon points="683.2,155.1 691.2,156 697.4,148.9 689.4,148.1" fill="#ff4000"/><polygon points="660.9,160.5 669,161.3 675.1,154.3 667.1,153.5" fill="#ff6000"/><polygon points="754.3,161.8 762.3,166.3 768.5,166.9 760.5,162.4" fill="#ff8000"/><polygon points="837.7,198.1 845.8,205.1 851.9,207.1 843.9,200.1" fill="#efff10"/><polygon points="803.1,180.5 811.2,185 817.3,187 809.3,182.5" fill="#ffcf00"/><polygon points="740.1,156.8 748.1,161.3 754.3,161.8 746.2,157.4" fill="#ff6000"/><polygon points="697.4,148.9 705.5,149.8 711.6,150.3 703.6,149.5" fill="#ff5000"/><polygon points="725.8,151.7 733.9,156.2 740.1,156.8 732,152.3" fill="#ff5000"/><polygon points="711.6,150.3 719.7,151.2 725.8,151.7 717.8,150.9" fill="#ff5000"/><polygon points="788.9,174 796.9,178.5 803.1,180.5 795.1,176" fill="#ffaf00"/><polygon points="823.5,189.1 831.5,196.1 837.7,198.1 829.7,191.1" fill="#ffef00"/><polygon points="675.1,154.3 683.2,155.1 689.4,148.1 681.3,147.2" fill="#ff3000"/><polygon points="774.7,167.5 782.7,172 788.9,174 780.8,169.5" fill="#ff8f00"/><polygon points="652.9,159.7 660.9,160.5 667.1,153.5 659.1,152.6" fill="#ff4000"/><polygon points="760.5,162.4 768.5,166.9 774.7,167.5 766.6,163" fill="#ff7000"/><polygon points="809.3,182.5 817.3,187 823.5,189.1 815.5,184.6" fill="#ffcf00"/><polygon points="689.4,148.1 697.4,148.9 703.6,149.5 695.5,148.6" fill="#ff3000"/><polygon points="746.2,157.4 754.3,161.8 760.5,162.4 752.4,157.9" fill="#ff6000"/><polygon points="703.6,149.5 711.6,150.3 717.8,150.9 709.8,150" fill="#ff4000"/><polygon points="795.1,176 803.1,180.5 809.3,182.5 801.2,178" fill="#ffaf00"/><polygon points="732,152.3 740.1,156.8 746.2,157.4 738.2,152.9" fill="#ff4000"/><polygon points="717.8,150.9 725.8,151.7 732,152.3 724,151.5" fill="#ff4000"/><polygon points="829.7,191.1 837.7,198.1 843.9,200.1 835.9,193.1" fill="#ffdf00"/><polygon points="667.1,153.5 675.1,154.3 681.3,147.2 673.3,146.4" fill="#ff2000"/><polygon points="780.8,169.5 788.9,174 795.1,176 787,171.5" fill="#ff8f00"/><polygon points="815.5,184.6 823.5,189.1 829.7,191.1 821.6,186.6" fill="#ffbf00"/><polygon points="766.6,163 774.7,167.5 780.8,169.5 772.8,165" fill="#ff7000"/><polygon points="681.3,147.2 689.4,148.1 695.5,148.6 687.5,147.8" fill="#ff2000"/><polygon points="695.5,148.6 703.6,149.5 709.8,150 701.7,149.2" fill="#ff3000"/><polygon points="752.4,157.9 760.5,162.4 766.6,163 758.6,158.5" fill="#ff5000"/><polygon points="801.2,178 809.3,182.5 815.5,184.6 807.4,180.1" fill="#ff9f00"/><polygon points="709.8,150 717.8,150.9 724,151.5 715.9,150.6" fill="#ff3000"/><polygon points="738.2,152.9 746.2,157.4 752.4,157.9 744.4,153.4" fill="#ff3000"/><polygon points="724,151.5 732,152.3 738.2,152.9 730.2,152" fill="#ff3000"/><polygon points="659.1,152.6 667.1,153.5 673.3,146.4 665.2,145.6" fill="#ff1000"/><polygon points="787,171.5 795.1,176 801.2,178 793.2,173.6" fill="#ff8000"/><polygon points="821.6,186.6 829.7,191.1 835.9,193.1 827.8,190.7" fill="#ffcf00"/><polygon points="772.8,165 780.8,169.5 787,171.5 779,167" fill="#ff6000"/><polygon points="673.3,146.4 681.3,147.2 687.5,147.8 679.5,147" fill="#ff1000"/><polygon points="687.5,147.8 695.5,148.6 701.7,149.2 693.7,148.4" fill="#ff2000"/><polygon points="807.4,180.1 815.5,184.6 821.6,186.6 813.6,184.2" fill="#ffaf00"/><polygon points="758.6,158.5 766.6,163 772.8,165 764.8,160.5" fill="#ff4000"/><polygon points="701.7,149.2 709.8,150 715.9,150.6 707.9,149.8" fill="#ff2000"/><polygon points="715.9,150.6 724,151.5 730.2,152 722.1,151.2" fill="#ff2000"/><polygon points="793.2,173.6 801.2,178 807.4,180.1 799.4,177.6" fill="#ff8f00"/><polygon points="744.4,153.4 752.4,157.9 758.6,158.5 750.5,154" fill="#ff2000"/><polygon points="730.2,152 738.2,152.9 744.4,153.4 736.3,152.6" fill="#ff2000"/><polygon points="779,167 787,171.5 793.2,173.6 785.2,171.1" fill="#ff7000"/><polygon points="813.6,184.2 821.6,186.6 827.8,190.7 819.8,188.2" fill="#ffaf00"/><polygon points="665.2,145.6 673.3,146.4 679.5,147 671.4,145.3" fill="#ff0000"/><polygon points="679.5,147 687.5,147.8 693.7,148.4 685.6,146.7" fill="#ff0000"/><polygon points="764.8,160.5 772.8,165 779,167 770.9,164.6" fill="#ff5000"/><polygon points="693.7,148.4 701.7,149.2 707.9,149.8 699.8,148.1" fill="#ff0000"/><polygon points="799.4,177.6 807.4,180.1 813.6,184.2 805.5,181.7" fill="#ff8f00"/><polygon points="707.9,149.8 715.9,150.6 722.1,151.2 714.1,149.5" fill="#ff1000"/><polygon points="750.5,154 758.6,158.5 764.8,160.5 756.7,158.1" fill="#ff3000"/><polygon points="722.1,151.2 730.2,152 736.3,152.6 728.3,150.9" fill="#ff1000"/><polygon points="785.2,171.1 793.2,173.6 799.4,177.6 791.3,175.2" fill="#ff7000"/><polygon points="736.3,152.6 744.4,153.4 750.5,154 742.5,152.3" fill="#ff1000"/><polygon points="770.9,164.6 779,167 785.2,171.1 777.1,168.7" fill="#ff5000"/><polygon points="805.5,181.7 813.6,184.2 819.8,188.2 811.7,185.8" fill="#ff8f00"/><polygon points="671.4,145.3 679.5,147 685.6,146.7 677.6,145" fill="#ef0000"/><polygon points="685.6,146.7 693.7,148.4 699.8,148.1 691.8,146.4" fill="#ef0000"/><polygon points="756.7,158.1 764.8,160.5 770.9,164.6 762.9,162.2" fill="#ff3000"/><polygon points="791.3,175.2 799.4,177.6 805.5,181.7 797.5,179.3" fill="#ff7000"/><polygon points="699.8,148.1 707.9,149.8 714.1,149.5 706,147.8" fill="#ef0000"/><polygon points="714.1,149.5 722.1,151.2 728.3,150.9 720.2,149.2" fill="#ef0000"/><polygon points="742.5,152.3 750.5,154 756.7,158.1 748.7,156.4" fill="#ff1000"/><polygon points="728.3,150.9 736.3,152.6 742.5,152.3 734.5,150.6" fill="#ff0000"/><polygon points="777.1,168.7 785.2,171.1 791.3,175.2 783.3,172.8" fill="#ff5000"/><polygon points="762.9,162.2 770.9,164.6 777.1,168.7 769.1,166.2" fill="#ff3000"/><polygon points="797.5,179.3 805.5,181.7 811.7,185.8 803.7,183.4" fill="#ff8000"/><polygon points="677.6,145 685.6,146.7 691.8,146.4 683.8,144.7" fill="#df0000"/><polygon points="748.7,156.4 756.7,158.1 762.9,162.2 754.9,160.5" fill="#ff2000"/><polygon points="691.8,146.4 699.8,148.1 706,147.8 698,146.1" fill="#df0000"/><polygon points="783.3,172.8 791.3,175.2 797.5,179.3 789.5,176.8" fill="#ff6000"/><polygon points="706,147.8 714.1,149.5 720.2,149.2 712.2,147.5" fill="#df0000"/><polygon points="734.5,150.6 742.5,152.3 748.7,156.4 740.6,154.7" fill="#ff0000"/><polygon points="720.2,149.2 728.3,150.9 734.5,150.6 726.4,148.9" fill="#df0000"/><polygon points="769.1,166.2 777.1,168.7 783.3,172.8 775.2,170.3" fill="#ff4000"/><polygon points="754.9,160.5 762.9,162.2 769.1,166.2 761,164.5" fill="#ff2000"/><polygon points="789.5,176.8 797.5,179.3 803.7,183.4 795.6,180.9" fill="#ff6000"/><polygon points="740.6,154.7 748.7,156.4 754.9,160.5 746.8,158.8" fill="#ff0000"/><polygon points="683.8,144.7 691.8,146.4 698,146.1 689.9,144.4" fill="#bf0000"/><polygon points="775.2,170.3 783.3,172.8 789.5,176.8 781.4,174.4" fill="#ff4000"/><polygon points="698,146.1 706,147.8 712.2,147.5 704.2,145.8" fill="#cf0000"/><polygon points="726.4,148.9 734.5,150.6 740.6,154.7 732.6,153" fill="#ef0000"/><polygon points="712.2,147.5 720.2,149.2 726.4,148.9 718.4,147.2" fill="#cf0000"/><polygon points="761,164.5 769.1,166.2 775.2,170.3 767.2,168.6" fill="#ff2000"/><polygon points="746.8,158.8 754.9,160.5 761,164.5 753,162.8" fill="#ff1000"/><polygon points="781.4,174.4 789.5,176.8 795.6,180.9 787.6,178.5" fill="#ff4000"/><polygon points="732.6,153 740.6,154.7 746.8,158.8 738.8,157" fill="#ef0000"/><polygon points="689.9,144.4 698,146.1 704.2,145.8 696.1,144.1" fill="#af0000"/><polygon points="767.2,168.6 775.2,170.3 781.4,174.4 773.4,172.7" fill="#ff3000"/><polygon points="718.4,147.2 726.4,148.9 732.6,153 724.5,151.3" fill="#cf0000"/><polygon points="704.2,145.8 712.2,147.5 718.4,147.2 710.3,145.5" fill="#bf0000"/><polygon points="753,162.8 761,164.5 767.2,168.6 759.2,166.9" fill="#ff1000"/><polygon points="738.8,157 746.8,158.8 753,162.8 744.9,161.1" fill="#ef0000"/><polygon points="724.5,151.3 732.6,153 738.8,157 730.7,155.3" fill="#df0000"/><polygon points="773.4,172.7 781.4,174.4 787.6,178.5 779.6,174.5" fill="#ff2000"/><polygon points="710.3,145.5 718.4,147.2 724.5,151.3 716.5,149.6" fill="#bf0000"/><polygon points="759.2,166.9 767.2,168.6 773.4,172.7 765.3,168.7" fill="#ff1000"/><polygon points="696.1,144.1 704.2,145.8 710.3,145.5 702.3,143.8" fill="#9f0000"/><polygon points="744.9,161.1 753,162.8 759.2,166.9 751.1,162.9" fill="#ef0000"/><polygon points="730.7,155.3 738.8,157 744.9,161.1 736.9,157.1" fill="#cf0000"/><polygon points="716.5,149.6 724.5,151.3 730.7,155.3 722.7,151.3" fill="#af0000"/><polygon points="765.3,168.7 773.4,172.7 779.6,174.5 771.5,170.5" fill="#ff0000"/><polygon points="702.3,143.8 710.3,145.5 716.5,149.6 708.5,145.5" fill="#9f0000"/><polygon points="751.1,162.9 759.2,166.9 765.3,168.7 757.3,164.7" fill="#df0000"/><polygon points="736.9,157.1 744.9,161.1 751.1,162.9 743.1,158.9" fill="#cf0000"/><polygon points="722.7,151.3 730.7,155.3 736.9,157.1 728.9,153.1" fill="#af0000"/><polygon points="708.5,145.5 716.5,149.6 722.7,151.3 714.6,147.3" fill="#8f0000"/><polygon points="757.3,164.7 765.3,168.7 771.5,170.5 763.5,166.5" fill="#df0000"/><polygon points="743.1,158.9 751.1,162.9 757.3,164.7 749.2,160.7" fill="#bf0000"/><polygon points="728.9,153.1 736.9,157.1 743.1,158.9 735,154.9" fill="#af0000"/><polygon points="714.6,147.3 722.7,151.3 728.9,153.1 720.8,149.1" fill="#8f0000"/><polygon points="749.2,160.7 757.3,164.7 763.5,166.5 755.4,162.5" fill="#bf0000"/><polygon points="735,154.9 743.1,158.9 749.2,160.7 741.2,156.7" fill="#9f0000"/><polygon points="720.8,149.1 728.9,153.1 735,154.9 727,150.9" fill="#800000"/><polygon points="741.2,156.7 749.2,160.7 755.4,162.5 747.4,158.4" fill="#9f0000"/><polygon points="727,150.9 735,154.9 741.2,156.7 733.2,152.7" fill="#800000"/><polygon points="733.2,152.7 741.2,156.7 747.4,158.4 739.3,154.4" fill="#800000"/></g>
<g font-family='"Liberation Sans", sans-serif' font-size="9.9" fill="#111"><text x="715.05" y="359.14" text-anchor="end">−0.6</text><text x="759.59" y="361.39">−0.6</text><text x="678" y="340.67" text-anchor="end">−0.3</text><text x="807.84" y="347.24">−0.3</text><text x="640.95" y="322.2" text-anchor="end">0</text><text x="856.1" y="333.1">0</text><text x="603.9" y="303.73" text-anchor="end">0.3</text><text x="904.36" y="318.96">0.3</text><text x="566.85" y="285.26" text-anchor="end">0.6</text><text x="952.61" y="304.81">0.6</text><text x="554.5" y="252.64" text-anchor="end">0.4</text><text x="554.5" y="225.25" text-anchor="end">0.5</text><text x="554.5" y="197.86" text-anchor="end">0.6</text><text x="554.5" y="170.47" text-anchor="end">0.7</text><text x="554.5" y="143.08" text-anchor="end">0.8</text><text x="554.5" y="115.69" text-anchor="end">0.9</text><text x="554.5" y="88.3" text-anchor="end">1</text></g>
<text transform="translate(534.1,173.2) rotate(-90)" text-anchor="middle" font-family='"Liberation Sans", sans-serif' font-size="10.2" fill="#111">RMSE</text>
<text x="640.3" y="371.3" text-anchor="middle" font-family='"Liberation Serif", serif' font-size="13" fill="#111">ρ</text>
<text x="843.5" y="376" text-anchor="middle" font-family='"Liberation Serif", serif' font-size="13" fill="#111">λ</text>
<g shape-rendering="crispEdges"><rect x="975.3" y="12.85" width="20.9" height="5.62" fill="#800000"/><rect x="975.3" y="18.17" width="20.9" height="5.62" fill="#8f0000"/><rect x="975.3" y="23.49" width="20.9" height="5.62" fill="#9f0000"/><rect x="975.3" y="28.82" width="20.9" height="5.62" fill="#af0000"/><rect x="975.3" y="34.14" width="20.9" height="5.62" fill="#bf0000"/><rect x="975.3" y="39.46" width="20.9" height="5.62" fill="#cf0000"/><rect x="975.3" y="44.78" width="20.9" height="5.62" fill="#df0000"/><rect x="975.3" y="50.1" width="20.9" height="5.62" fill="#ef0000"/><rect x="975.3" y="55.43" width="20.9" height="5.62" fill="#ff0000"/><rect x="975.3" y="60.75" width="20.9" height="5.62" fill="#ff1000"/><rect x="975.3" y="66.07" width="20.9" height="5.62" fill="#ff2000"/><rect x="975.3" y="71.39" width="20.9" height="5.62" fill="#ff3000"/><rect x="975.3" y="76.71" width="20.9" height="5.62" fill="#ff4000"/><rect x="975.3" y="82.03" width="20.9" height="5.62" fill="#ff5000"/><rect x="975.3" y="87.36" width="20.9" height="5.62" fill="#ff6000"/><rect x="975.3" y="92.68" width="20.9" height="5.62" fill="#ff7000"/><rect x="975.3" y="98" width="20.9" height="5.62" fill="#ff8000"/><rect x="975.3" y="103.32" width="20.9" height="5.62" fill="#ff8f00"/><rect x="975.3" y="108.64" width="20.9" height="5.62" fill="#ff9f00"/><rect x="975.3" y="113.97" width="20.9" height="5.62" fill="#ffaf00"/><rect x="975.3" y="119.29" width="20.9" height="5.62" fill="#ffbf00"/><rect x="975.3" y="124.61" width="20.9" height="5.62" fill="#ffcf00"/><rect x="975.3" y="129.93" width="20.9" height="5.62" fill="#ffdf00"/><rect x="975.3" y="135.25" width="20.9" height="5.62" fill="#ffef00"/><rect x="975.3" y="140.57" width="20.9" height="5.62" fill="#ffff00"/><rect x="975.3" y="145.9" width="20.9" height="5.62" fill="#efff10"/><rect x="975.3" y="151.22" width="20.9" height="5.62" fill="#dfff20"/><rect x="975.3" y="156.54" width="20.9" height="5.62" fill="#cfff30"/><rect x="975.3" y="161.86" width="20.9" height="5.62" fill="#bfff40"/><rect x="975.3" y="167.18" width="20.9" height="5.62" fill="#afff50"/><rect x="975.3" y="172.51" width="20.9" height="5.62" fill="#9fff60"/><rect x="975.3" y="177.83" width="20.9" height="5.62" fill="#8fff70"/><rect x="975.3" y="183.15" width="20.9" height="5.62" fill="#80ff80"/><rect x="975.3" y="188.47" width="20.9" height="5.62" fill="#70ff8f"/><rect x="975.3" y="193.79" width="20.9" height="5.62" fill="#60ff9f"/><rect x="975.3" y="199.12" width="20.9" height="5.62" fill="#50ffaf"/><rect x="975.3" y="204.44" width="20.9" height="5.62" fill="#40ffbf"/><rect x="975.3" y="209.76" width="20.9" height="5.62" fill="#30ffcf"/><rect x="975.3" y="215.08" width="20.9" height="5.62" fill="#20ffdf"/><rect x="975.3" y="220.4" width="20.9" height="5.62" fill="#10ffef"/><rect x="975.3" y="225.72" width="20.9" height="5.62" fill="#00ffff"/><rect x="975.3" y="231.05" width="20.9" height="5.62" fill="#00efff"/><rect x="975.3" y="236.37" width="20.9" height="5.62" fill="#00dfff"/><rect x="975.3" y="241.69" width="20.9" height="5.62" fill="#00cfff"/><rect x="975.3" y="247.01" width="20.9" height="5.62" fill="#00bfff"/><rect x="975.3" y="252.33" width="20.9" height="5.62" fill="#00afff"/><rect x="975.3" y="257.66" width="20.9" height="5.62" fill="#009fff"/><rect x="975.3" y="262.98" width="20.9" height="5.62" fill="#008fff"/><rect x="975.3" y="268.3" width="20.9" height="5.62" fill="#0080ff"/><rect x="975.3" y="273.62" width="20.9" height="5.62" fill="#0070ff"/><rect x="975.3" y="278.94" width="20.9" height="5.62" fill="#0060ff"/><rect x="975.3" y="284.27" width="20.9" height="5.62" fill="#0050ff"/><rect x="975.3" y="289.59" width="20.9" height="5.62" fill="#0040ff"/><rect x="975.3" y="294.91" width="20.9" height="5.62" fill="#0030ff"/><rect x="975.3" y="300.23" width="20.9" height="5.62" fill="#0020ff"/><rect x="975.3" y="305.55" width="20.9" height="5.62" fill="#0010ff"/><rect x="975.3" y="310.88" width="20.9" height="5.62" fill="#0000ff"/><rect x="975.3" y="316.2" width="20.9" height="5.62" fill="#0000ef"/><rect x="975.3" y="321.52" width="20.9" height="5.62" fill="#0000df"/><rect x="975.3" y="326.84" width="20.9" height="5.62" fill="#0000cf"/><rect x="975.3" y="332.16" width="20.9" height="5.62" fill="#0000bf"/><rect x="975.3" y="337.48" width="20.9" height="5.62" fill="#0000af"/><rect x="975.3" y="342.81" width="20.9" height="5.62" fill="#00009f"/><rect x="975.3" y="348.13" width="20.9" height="5.62" fill="#00008f"/></g>
<rect x="975.3" y="12.9" width="20.9" height="340.6" fill="none" stroke="#222" stroke-width="0.9"/>
<g stroke="#111" stroke-width="0.9"><line x1="975.3" y1="326.25" x2="978.9" y2="326.25"/><line x1="992.6" y1="326.25" x2="996.2" y2="326.25"/><line x1="975.3" y1="276.71" x2="978.9" y2="276.71"/><line x1="992.6" y1="276.71" x2="996.2" y2="276.71"/><line x1="975.3" y1="227.17" x2="978.9" y2="227.17"/><line x1="992.6" y1="227.17" x2="996.2" y2="227.17"/><line x1="975.3" y1="177.63" x2="978.9" y2="177.63"/><line x1="992.6" y1="177.63" x2="996.2" y2="177.63"/><line x1="975.3" y1="128.08" x2="978.9" y2="128.08"/><line x1="992.6" y1="128.08" x2="996.2" y2="128.08"/><line x1="975.3" y1="78.54" x2="978.9" y2="78.54"/><line x1="992.6" y1="78.54" x2="996.2" y2="78.54"/><line x1="975.3" y1="29" x2="978.9" y2="29"/><line x1="992.6" y1="29" x2="996.2" y2="29"/></g>
<clipPath id="cbtb"><rect x="996.2" y="13.1" width="60" height="360"/></clipPath>
<g clip-path="url(#cbtb)" font-family='"Liberation Sans", sans-serif' font-size="9.9" fill="#111"><text x="999.4" y="329.85">0.4</text><text x="999.4" y="280.31">0.5</text><text x="999.4" y="230.77">0.6</text><text x="999.4" y="181.23">0.7</text><text x="999.4" y="131.68">0.8</text><text x="999.4" y="82.14">0.9</text><text x="999.4" y="32.6">1</text></g>
<text x="781.3" y="422.2" text-anchor="middle" font-family='"Liberation Serif", serif' font-size="27.2" fill="#111">(<tspan font-weight="bold">b</tspan>)</text></g>
<g><g stroke="#000" stroke-opacity="0.62" stroke-width="0.9" stroke-dasharray="1.1 3.3" fill="none"><line x1="234.59" y1="788.69" x2="61.69" y2="702.49"/><line x1="206.15" y1="787.24" x2="431.35" y2="721.24"/><line x1="61.69" y1="702.49" x2="61.69" y2="514.19"/><line x1="431.35" y1="721.24" x2="431.35" y2="532.94"/><line x1="282.84" y1="774.54" x2="109.94" y2="688.34"/><line x1="169.1" y1="768.77" x2="394.3" y2="702.77"/><line x1="109.94" y1="688.34" x2="109.94" y2="500.04"/><line x1="394.3" y1="702.77" x2="394.3" y2="514.47"/><line x1="331.1" y1="760.4" x2="158.2" y2="674.2"/><line x1="132.05" y1="750.3" x2="357.25" y2="684.3"/><line x1="158.2" y1="674.2" x2="158.2" y2="485.9"/><line x1="357.25" y1="684.3" x2="357.25" y2="496"/><line x1="379.36" y1="746.26" x2="206.46" y2="660.06"/><line x1="95" y1="731.83" x2="320.2" y2="665.83"/><line x1="206.46" y1="660.06" x2="206.46" y2="471.76"/><line x1="320.2" y1="665.83" x2="320.2" y2="477.53"/><line x1="427.61" y1="732.11" x2="254.71" y2="645.91"/><line x1="57.95" y1="713.36" x2="283.15" y2="647.36"/><line x1="254.71" y1="645.91" x2="254.71" y2="457.61"/><line x1="283.15" y1="647.36" x2="283.15" y2="459.06"/><line x1="45.6" y1="684.69" x2="270.8" y2="618.69"/><line x1="270.8" y1="618.69" x2="443.7" y2="704.89"/><line x1="45.6" y1="659.9" x2="270.8" y2="593.9"/><line x1="270.8" y1="593.9" x2="443.7" y2="680.1"/><line x1="45.6" y1="635.1" x2="270.8" y2="569.1"/><line x1="270.8" y1="569.1" x2="443.7" y2="655.3"/><line x1="45.6" y1="610.31" x2="270.8" y2="544.31"/><line x1="270.8" y1="544.31" x2="443.7" y2="630.51"/><line x1="45.6" y1="585.52" x2="270.8" y2="519.52"/><line x1="270.8" y1="519.52" x2="443.7" y2="605.72"/><line x1="45.6" y1="560.73" x2="270.8" y2="494.73"/><line x1="270.8" y1="494.73" x2="443.7" y2="580.93"/><line x1="45.6" y1="535.93" x2="270.8" y2="469.93"/><line x1="270.8" y1="469.93" x2="443.7" y2="556.13"/></g>
<g stroke="#1a1a1a" stroke-width="0.95" fill="none"><polyline points="45.6,518.9 45.6,707.2 218.5,793.4 443.7,727.4"/><line x1="206.15" y1="787.24" x2="200.58" y2="788.87"/><line x1="234.59" y1="788.69" x2="239.78" y2="791.27"/><line x1="169.1" y1="768.77" x2="163.53" y2="770.4"/><line x1="282.84" y1="774.54" x2="288.03" y2="777.13"/><line x1="132.05" y1="750.3" x2="126.48" y2="751.93"/><line x1="331.1" y1="760.4" x2="336.29" y2="762.99"/><line x1="95" y1="731.83" x2="89.43" y2="733.46"/><line x1="379.36" y1="746.26" x2="384.55" y2="748.84"/><line x1="57.95" y1="713.36" x2="52.38" y2="714.99"/><line x1="427.61" y1="732.11" x2="432.8" y2="734.7"/><line x1="45.6" y1="684.69" x2="40.41" y2="682.1"/><line x1="45.6" y1="659.9" x2="40.41" y2="657.31"/><line x1="45.6" y1="635.1" x2="40.41" y2="632.52"/><line x1="45.6" y1="610.31" x2="40.41" y2="607.72"/><line x1="45.6" y1="585.52" x2="40.41" y2="582.93"/><line x1="45.6" y1="560.73" x2="40.41" y2="558.14"/><line x1="45.6" y1="535.93" x2="40.41" y2="533.34"/></g>
<clipPath id="clipc"><rect x="45.6" y="452.7" width="398.1" height="340.9"/></clipPath><g clip-path="url(#clipc)" fill="none" stroke-width="1.05" stroke-linecap="round"><path d="M94 714.7L83.4 715.4M94 714.7L94.6 714.6M105.8 713.8L94.6 714.6M115.9 713.1L105.8 713.8M132.8 708.2L132.8 708.2M140.5 705.7L132.8 708.2M141.4 705.7L140.5 705.7M115.9 713.1L117 713.1M125.1 710.7L117 713.1M132.8 708.2L125.1 710.7M141.4 705.7L153 705.5M158.7 705.5L153 705.5M158.7 705.5L165.5 705.4M176 705.3L165.5 705.4M176 705.3L178 705.3M190.5 705.1L178 705.3M193.3 705.1L190.5 705.1M193.3 705.1L204.5 705.8M207.3 705.9L204.5 705.8M207.3 705.9L218.9 706.6M221.4 706.7L218.9 706.6M221.4 706.7L232.7 707.1M236.2 707.2L232.7 707.1M236.2 707.2L246.5 707.6M251 707.8L246.5 707.6M251 707.8L260.3 708.1M265.9 708.3L260.3 708.1M265.9 708.3L274 708.6M280.7 708.8L274 708.6M281.6 712.4L281.9 713.4M280.7 708.8L281.6 712.4M281.9 713.4L283.1 717.9M283.5 719.7L285.7 722M283.1 717.9L283.5 719.7M285.7 722L293 724.8M293 724.8L295.9 725.9M300.4 727.5L295.9 725.9M300.4 727.5L307.7 730.3M307.7 730.3L314 733.3M314 733.3L320.3 736.3M320.3 736.3L326.6 739.4M327.9 741.8L327.1 744.1M326.6 739.4L327.9 741.8M326.1 747.3L325.4 749.5M327.1 744.1L326.1 747.3M324.4 752.8L323.7 754.9M325.4 749.5L324.4 752.8" stroke="#0000ff"/><path d="M105.3 720L94.1 720.8M110.5 719.6L105.3 720M110.5 719.6L116.5 719.2M127.8 718.4L116.5 719.2M132.3 718.1L127.8 718.4M132.3 718.1L139 717.6M150.2 716.9L139 717.6M154.2 716.6L150.2 716.9M154.2 716.6L161.9 716.4M170.1 716.8L161.9 716.4M170.1 716.8L176.2 717.1M184.2 717.5L176.2 717.1M184.2 717.5L190.5 717.9M198.4 718.3L190.5 717.9M198.4 718.3L204.8 718.7M212.5 719.1L204.8 718.7M212.5 719.1L219.1 719.4M226.6 719.8L219.1 719.4M226.6 719.8L233.5 720.2M240.7 720.6L233.5 720.2M240.7 720.6L247.6 723.4M247.6 723.4L254.6 726.3M254.6 726.3L261.6 729.1M261.6 729.1L268.6 731.9M268.6 731.9L275.1 734.6M275.6 734.8L275.1 734.6M275.6 734.8L282.9 737.5M283.7 738.8L286.3 741.4M282.9 737.5L283.7 738.8M286.3 741.4L290.1 745.2M290.1 745.2L293.9 749M296.7 751.7L297.7 752.7M293.9 749L296.7 751.7M297.7 752.7L301.3 756.6M301.3 756.6L304.4 760.6" stroke="#008fff"/><path d="M105 726.1L104.9 726.1M105 726.1L116.1 725.3M126.9 724.6L116.1 725.3M126.9 724.6L127.3 724.6M139.3 724.2L127.3 724.6M145.5 724L139.3 724.2M145.5 724L151.4 723.8M163.4 723.5L151.4 723.8M164.1 723.4L163.4 723.5M164.1 723.4L175.4 723.1M181 723.4L175.4 723.1M181 723.4L189.7 723.9M195.1 724.1L189.7 723.9M195.1 724.1L204 724.6M209.2 724.9L204 724.6M209.2 724.9L218.4 725.4M223.3 725.7L218.4 725.4M223.3 725.7L230.3 728.5M230.3 728.5L237.3 731.3M237.3 731.3L244.3 734.2M244.3 734.2L251.5 736.9M251.5 736.9L259 739.3M259.6 739.5L259 739.3M259.6 739.5L267.6 742M270.8 745.2L271.4 745.8M267.6 742L270.8 745.2M271.4 745.8L275.2 749.5M275.2 749.5L279.1 753.3M279.1 753.3L282.3 757.2M282.4 757.3L285.4 761.2M282.3 757.2L282.4 757.3M285.4 761.2L288.4 765.2" stroke="#10ffef"/><path d="M129.7 732.1L118.2 732.8M135.7 731.8L129.7 732.1M135.7 731.8L141.2 731.5M152.9 730.9L141.2 731.5M155.5 730.9L152.9 730.9M155.5 730.9L164.9 730.6M174.1 730.3L164.9 730.6M174.1 730.3L176.9 730.2M189 729.8L176.9 730.2M191.8 730L189 729.8M191.8 730L203.3 730.6M205.9 730.7L203.3 730.6M205.9 730.7L212.9 733.6M212.9 733.6L220.6 736.2M220.6 736.2L228.7 738.8M228.7 738.8L236.7 741.3M236.7 741.3L238.8 742M244.7 743.8L238.8 742M244.7 743.8L252.7 746.4M252.7 746.4L256.6 750.1M258 751.5L260.3 753.9M256.6 750.1L258 751.5M260.3 753.9L263.3 757.9M263.3 757.9L266.3 761.9M266.5 762.1L269.4 765.9M266.3 761.9L266.5 762.1M269.4 765.9L272.4 769.9" stroke="#8fff70"/><path d="M137.1 741.1L135.2 741.2M137.1 741.1L146.7 740.6M157.8 740L146.7 740.6M157.8 740L158.2 739.9M169.6 739.3L158.2 739.9M178.4 738.8L169.6 739.3M178.4 738.8L182.6 739.4M189.6 740.4L182.6 739.4M189.6 740.4L200.6 742M200.8 742L200.6 742M200.8 742L211.9 743.7M211.9 743.7L218.6 744.6M221.8 745.6L218.6 744.6M221.8 745.6L229.9 748.2M229.9 748.2L237.9 750.7M237.9 750.7L241.3 754.6M242.9 756.7L243.8 758.8M241.3 754.6L242.9 756.7M243.8 758.8L245.7 763.1M246.6 764.9L247.7 767.4M245.7 763.1L246.6 764.9M247.7 767.4L252.1 771M252.1 771L258.6 774" stroke="#ffdf00"/><path d="M155.6 750.4L153.1 750.2M155.6 750.4L168.1 751.6M168.1 751.6L168.9 751.7M180.7 752.8L168.9 751.7M180.7 752.8L184.7 753.2M193.3 754L184.7 753.2M193.3 754L200.5 754.7M205.9 755.2L200.5 754.7M205.9 755.2L216.3 756.2M218.4 756.4L216.3 756.2M218.9 757.5L220.4 760.7M218.4 756.4L218.9 757.5M220.4 760.7L222.3 765M222.7 765.7L225.6 769M222.3 765L222.7 765.7M225.6 769L232.1 772M232.1 772L238.6 775M238.6 775L245 777.9" stroke="#ff6000"/><path d="M184.4 761.5L173.8 760.5M184.4 761.5L189.6 762M197 762.7L189.6 762M198.7 766.5L199.1 767M197 762.7L198.7 766.5M199.1 767L205.3 769.8M205.6 770L205.3 769.8M205.6 770L212.1 772.9M212.1 772.9L218.5 775.9M218.5 775.9L225 778.9M225 778.9L231.5 781.9" stroke="#cf0000"/></g>
<g stroke="#000" stroke-width="0.85" stroke-linejoin="round"><polygon points="259,649.1 267.1,646.4 273.2,650 265.2,652.6" fill="#00009f"/><polygon points="251,651.7 259,649.1 265.2,652.6 257.2,655.3" fill="#00009f"/><polygon points="265.2,652.6 273.2,650 279.4,653.6 271.4,656.2" fill="#00009f"/><polygon points="242.9,654.4 251,651.7 257.2,655.3 249.1,657.9" fill="#00009f"/><polygon points="257.2,655.3 265.2,652.6 271.4,656.2 263.3,658.9" fill="#00009f"/><polygon points="271.4,656.2 279.4,653.6 285.6,657.1 277.5,659.8" fill="#00009f"/><polygon points="234.9,657 242.9,654.4 249.1,657.9 241.1,660.6" fill="#00009f"/><polygon points="249.1,657.9 257.2,655.3 263.3,658.9 255.3,661.5" fill="#00009f"/><polygon points="263.3,658.9 271.4,656.2 277.5,659.8 269.5,662.4" fill="#00009f"/><polygon points="277.5,659.8 285.6,657.1 291.8,660.7 283.7,663.4" fill="#00009f"/><polygon points="226.9,659.7 234.9,657 241.1,660.6 233,663.2" fill="#00009f"/><polygon points="241.1,660.6 249.1,657.9 255.3,661.5 247.2,664.2" fill="#00009f"/><polygon points="255.3,661.5 263.3,658.9 269.5,662.4 261.5,665.1" fill="#00009f"/><polygon points="269.5,662.4 277.5,659.8 283.7,663.4 275.7,666" fill="#00009f"/><polygon points="218.8,662.3 226.9,659.7 233,663.2 225,665.6" fill="#00009f"/><polygon points="283.7,663.4 291.8,660.7 297.9,664.3 289.9,666.9" fill="#00008f"/><polygon points="233,663.2 241.1,660.6 247.2,664.2 239.2,666.5" fill="#00009f"/><polygon points="247.2,664.2 255.3,661.5 261.5,665.1 253.4,667.4" fill="#00009f"/><polygon points="261.5,665.1 269.5,662.4 275.7,666 267.6,668.4" fill="#00009f"/><polygon points="210.8,664.7 218.8,662.3 225,665.6 216.9,667.9" fill="#00009f"/><polygon points="275.7,666 283.7,663.4 289.9,666.9 281.9,669.3" fill="#00008f"/><polygon points="225,665.6 233,663.2 239.2,666.5 231.2,668.9" fill="#00009f"/><polygon points="289.9,666.9 297.9,664.3 304.1,667.9 296.1,670.2" fill="#00008f"/><polygon points="239.2,666.5 247.2,664.2 253.4,667.4 245.4,669.8" fill="#00009f"/><polygon points="253.4,667.4 261.5,665.1 267.6,668.4 259.6,670.7" fill="#00009f"/><polygon points="202.7,667 210.8,664.7 216.9,667.9 208.9,670.3" fill="#00009f"/><polygon points="267.6,668.4 275.7,666 281.9,669.3 273.8,671.7" fill="#00008f"/><polygon points="216.9,667.9 225,665.6 231.2,668.9 223.1,671.2" fill="#00009f"/><polygon points="281.9,669.3 289.9,666.9 296.1,670.2 288,672.6" fill="#00008f"/><polygon points="231.2,668.9 239.2,666.5 245.4,669.8 237.3,672.2" fill="#00009f"/><polygon points="296.1,670.2 304.1,667.9 310.3,671.2 302.2,673.5" fill="#00008f"/><polygon points="245.4,669.8 253.4,667.4 259.6,670.7 251.6,673.1" fill="#00009f"/><polygon points="194.7,669.4 202.7,667 208.9,670.3 200.9,672.7" fill="#00009f"/><polygon points="259.6,670.7 267.6,668.4 273.8,671.7 265.8,674" fill="#00008f"/><polygon points="208.9,670.3 216.9,667.9 223.1,671.2 215.1,673.6" fill="#00009f"/><polygon points="273.8,671.7 281.9,669.3 288,672.6 280,674.9" fill="#00008f"/><polygon points="223.1,671.2 231.2,668.9 237.3,672.2 229.3,674.5" fill="#00009f"/><polygon points="288,672.6 296.1,670.2 302.2,673.5 294.2,675.9" fill="#00008f"/><polygon points="237.3,672.2 245.4,669.8 251.6,673.1 243.5,675.4" fill="#00009f"/><polygon points="302.2,673.5 310.3,671.2 316.5,674.4 308.4,676.8" fill="#00008f"/><polygon points="186.6,671.7 194.7,669.4 200.9,672.7 192.8,675" fill="#00009f"/><polygon points="251.6,673.1 259.6,670.7 265.8,674 257.7,676.4" fill="#00008f"/><polygon points="200.9,672.7 208.9,670.3 215.1,673.6 207,675.9" fill="#00009f"/><polygon points="265.8,674 273.8,671.7 280,674.9 271.9,677.3" fill="#00008f"/><polygon points="215.1,673.6 223.1,671.2 229.3,674.5 221.2,676.9" fill="#00009f"/><polygon points="280,674.9 288,672.6 294.2,675.9 286.2,678.2" fill="#00008f"/><polygon points="229.3,674.5 237.3,672.2 243.5,675.4 235.5,677.8" fill="#00009f"/><polygon points="294.2,675.9 302.2,673.5 308.4,676.8 300.4,679.1" fill="#00008f"/><polygon points="178.6,674.1 186.6,671.7 192.8,675 184.8,677.4" fill="#00009f"/><polygon points="243.5,675.4 251.6,673.1 257.7,676.4 249.7,678.7" fill="#00008f"/><polygon points="308.4,676.8 316.5,674.4 322.6,677.7 314.6,680.1" fill="#00008f"/><polygon points="192.8,675 200.9,672.7 207,675.9 199,678.3" fill="#00009f"/><polygon points="257.7,676.4 265.8,674 271.9,677.3 263.9,679.7" fill="#00008f"/><polygon points="207,675.9 215.1,673.6 221.2,676.9 213.2,679.2" fill="#00009f"/><polygon points="271.9,677.3 280,674.9 286.2,678.2 278.1,680.6" fill="#00008f"/><polygon points="221.2,676.9 229.3,674.5 235.5,677.8 227.4,680.2" fill="#00009f"/><polygon points="286.2,678.2 294.2,675.9 300.4,679.1 292.3,681.5" fill="#00008f"/><polygon points="170.6,676.4 178.6,674.1 184.8,677.4 176.7,677.8" fill="#00009f"/><polygon points="235.5,677.8 243.5,675.4 249.7,678.7 241.6,681.1" fill="#00008f"/><polygon points="300.4,679.1 308.4,676.8 314.6,680.1 306.6,682.4" fill="#00008f"/><polygon points="184.8,677.4 192.8,675 199,678.3 190.9,678.8" fill="#00009f"/><polygon points="249.7,678.7 257.7,676.4 263.9,679.7 255.9,682" fill="#00008f"/><polygon points="314.6,680.1 322.6,677.7 328.8,681 320.8,683.4" fill="#00008f"/><polygon points="199,678.3 207,675.9 213.2,679.2 205.2,679.7" fill="#00009f"/><polygon points="263.9,679.7 271.9,677.3 278.1,680.6 270.1,682.9" fill="#00008f"/><polygon points="213.2,679.2 221.2,676.9 227.4,680.2 219.4,680.6" fill="#00009f"/><polygon points="278.1,680.6 286.2,678.2 292.3,681.5 284.3,683.9" fill="#00008f"/><polygon points="162.5,678.9 170.6,676.4 176.7,677.8 168.7,680.3" fill="#00009f"/><polygon points="227.4,680.2 235.5,677.8 241.6,681.1 233.6,681.5" fill="#00009f"/><polygon points="292.3,681.5 300.4,679.1 306.6,682.4 298.5,684.8" fill="#00008f"/><polygon points="241.6,681.1 249.7,678.7 255.9,682 247.8,682.5" fill="#00009f"/><polygon points="306.6,682.4 314.6,680.1 320.8,683.4 312.7,685.7" fill="#00008f"/><polygon points="176.7,677.8 184.8,677.4 190.9,678.8 182.9,679.2" fill="#0000af"/><polygon points="255.9,682 263.9,679.7 270.1,682.9 262,682.9" fill="#00009f"/><polygon points="320.8,683.4 328.8,681 335,684.3 326.9,686.6" fill="#00008f"/><polygon points="190.9,678.8 199,678.3 205.2,679.7 197.1,680.1" fill="#0000af"/><polygon points="270.1,682.9 278.1,680.6 284.3,683.9 276.3,683.8" fill="#00009f"/><polygon points="205.2,679.7 213.2,679.2 219.4,680.6 211.3,681.1" fill="#0000af"/><polygon points="154.5,681.4 162.5,678.9 168.7,680.3 160.6,682.8" fill="#00009f"/><polygon points="284.3,683.9 292.3,681.5 298.5,684.8 290.5,684.7" fill="#00009f"/><polygon points="219.4,680.6 227.4,680.2 233.6,681.5 225.6,682" fill="#0000af"/><polygon points="298.5,684.8 306.6,682.4 312.7,685.7 304.7,685.6" fill="#00009f"/><polygon points="233.6,681.5 241.6,681.1 247.8,682.5 239.8,682.9" fill="#0000af"/><polygon points="168.7,680.3 176.7,677.8 182.9,679.2 174.9,681.7" fill="#0000af"/><polygon points="312.7,685.7 320.8,683.4 326.9,686.6 318.9,686.6" fill="#00009f"/><polygon points="247.8,682.5 255.9,682 262,682.9 254,683.3" fill="#0000af"/><polygon points="182.9,679.2 190.9,678.8 197.1,680.1 189.1,680.6" fill="#0000bf"/><polygon points="146.4,683.9 154.5,681.4 160.6,682.8 152.6,685.3" fill="#00009f"/><polygon points="326.9,686.6 335,684.3 341.2,687.6 333.1,687.5" fill="#00009f"/><polygon points="262,682.9 270.1,682.9 276.3,683.8 268.2,683.7" fill="#0000af"/><polygon points="197.1,680.1 205.2,679.7 211.3,681.1 203.3,681.5" fill="#0000af"/><polygon points="276.3,683.8 284.3,683.9 290.5,684.7 282.4,684.6" fill="#0000af"/><polygon points="211.3,681.1 219.4,680.6 225.6,682 217.5,682.4" fill="#0000af"/><polygon points="160.6,682.8 168.7,680.3 174.9,681.7 166.8,684.2" fill="#0000af"/><polygon points="290.5,684.7 298.5,684.8 304.7,685.6 296.6,685.6" fill="#0000af"/><polygon points="225.6,682 233.6,681.5 239.8,682.9 231.7,683.4" fill="#0000af"/><polygon points="138.4,686.4 146.4,683.9 152.6,685.3 144.6,687.7" fill="#00009f"/><polygon points="304.7,685.6 312.7,685.7 318.9,686.6 310.9,686.5" fill="#0000af"/><polygon points="174.9,681.7 182.9,679.2 189.1,680.6 181,683.1" fill="#0000bf"/><polygon points="239.8,682.9 247.8,682.5 254,683.3 245.9,683.8" fill="#0000af"/><polygon points="318.9,686.6 326.9,686.6 333.1,687.5 325.1,687.4" fill="#0000af"/><polygon points="333.1,687.5 341.2,687.6 347.3,690.9 339.3,690.8" fill="#00009f"/><polygon points="254,683.3 262,682.9 268.2,683.7 260.2,684.2" fill="#0000bf"/><polygon points="189.1,680.6 197.1,680.1 203.3,681.5 195.3,682" fill="#0000bf"/><polygon points="152.6,685.3 160.6,682.8 166.8,684.2 158.8,686.7" fill="#0000af"/><polygon points="268.2,683.7 276.3,683.8 282.4,684.6 274.4,684.5" fill="#0000bf"/><polygon points="203.3,681.5 211.3,681.1 217.5,682.4 209.5,682.9" fill="#0000bf"/><polygon points="130.3,688.8 138.4,686.4 144.6,687.7 136.5,690.2" fill="#00009f"/><polygon points="282.4,684.6 290.5,684.7 296.6,685.6 288.6,685.5" fill="#0000bf"/><polygon points="217.5,682.4 225.6,682 231.7,683.4 223.7,683.8" fill="#0000bf"/><polygon points="166.8,684.2 174.9,681.7 181,683.1 173,685.6" fill="#0000af"/><polygon points="296.6,685.6 304.7,685.6 310.9,686.5 302.8,686.4" fill="#0000bf"/><polygon points="231.7,683.4 239.8,682.9 245.9,683.8 237.9,684.2" fill="#0000bf"/><polygon points="144.6,687.7 152.6,685.3 158.8,686.7 150.7,689.1" fill="#0000af"/><polygon points="310.9,686.5 318.9,686.6 325.1,687.4 317,687.3" fill="#0000af"/><polygon points="339.3,690.8 347.3,690.9 353.5,694.1 345.5,694.1" fill="#00009f"/><polygon points="181,683.1 189.1,680.6 195.3,682 187.2,684.5" fill="#0000bf"/><polygon points="325.1,687.4 333.1,687.5 339.3,690.8 331.3,690.7" fill="#0000af"/><polygon points="245.9,683.8 254,683.3 260.2,684.2 252.1,684.6" fill="#0000bf"/><polygon points="195.3,682 203.3,681.5 209.5,682.9 201.4,683.4" fill="#0000cf"/><polygon points="158.8,686.7 166.8,684.2 173,685.6 164.9,688" fill="#0000af"/><polygon points="260.2,684.2 268.2,683.7 274.4,684.5 266.3,685" fill="#0000bf"/><polygon points="122.3,691.3 130.3,688.8 136.5,690.2 128.5,687.8" fill="#0000bf"/><polygon points="209.5,682.9 217.5,682.4 223.7,683.8 215.6,684.3" fill="#0000cf"/><polygon points="274.4,684.5 282.4,684.6 288.6,685.5 280.6,685.4" fill="#0000bf"/><polygon points="173,685.6 181,683.1 187.2,684.5 179.2,686.9" fill="#0000bf"/><polygon points="223.7,683.8 231.7,683.4 237.9,684.2 229.9,684.7" fill="#0000cf"/><polygon points="136.5,690.2 144.6,687.7 150.7,689.1 142.7,686.7" fill="#0000bf"/><polygon points="288.6,685.5 296.6,685.6 302.8,686.4 294.8,686.3" fill="#0000bf"/><polygon points="345.5,694.1 353.5,694.1 359.7,697.4 351.6,697.4" fill="#00009f"/><polygon points="302.8,686.4 310.9,686.5 317,687.3 309,687.3" fill="#0000bf"/><polygon points="331.3,690.7 339.3,690.8 345.5,694.1 337.4,694" fill="#0000af"/><polygon points="237.9,684.2 245.9,683.8 252.1,684.6 244.1,685.1" fill="#0000cf"/><polygon points="317,687.3 325.1,687.4 331.3,690.7 323.2,690.6" fill="#0000af"/><polygon points="187.2,684.5 195.3,682 201.4,683.4 193.4,685.8" fill="#0000cf"/><polygon points="150.7,689.1 158.8,686.7 164.9,688 156.9,685.6" fill="#0000cf"/><polygon points="114.3,694.1 122.3,691.3 128.5,687.8 120.4,690.6" fill="#0000bf"/><polygon points="252.1,684.6 260.2,684.2 266.3,685 258.3,685.5" fill="#0000cf"/><polygon points="201.4,683.4 209.5,682.9 215.6,684.3 207.6,684.7" fill="#0000cf"/><polygon points="266.3,685 274.4,684.5 280.6,685.4 272.5,685.9" fill="#0000cf"/><polygon points="164.9,688 173,685.6 179.2,686.9 171.1,684.5" fill="#0000df"/><polygon points="215.6,684.3 223.7,683.8 229.9,684.7 221.8,685.1" fill="#0000cf"/><polygon points="280.6,685.4 288.6,685.5 294.8,686.3 286.7,686.2" fill="#0000cf"/><polygon points="128.5,687.8 136.5,690.2 142.7,686.7 134.6,684.3" fill="#0000df"/><polygon points="351.6,697.4 359.7,697.4 365.9,700.7 357.8,700.6" fill="#00009f"/><polygon points="106.2,696.8 114.3,694.1 120.4,690.6 112.4,693.3" fill="#0000bf"/><polygon points="337.4,694 345.5,694.1 351.6,697.4 343.6,697.3" fill="#00009f"/><polygon points="229.9,684.7 237.9,684.2 244.1,685.1 236,685.5" fill="#0000df"/><polygon points="294.8,686.3 302.8,686.4 309,687.3 301,687.2" fill="#0000cf"/><polygon points="323.2,690.6 331.3,690.7 337.4,694 329.4,693.9" fill="#0000af"/><polygon points="179.2,686.9 187.2,684.5 193.4,685.8 185.3,683.4" fill="#0000df"/><polygon points="309,687.3 317,687.3 323.2,690.6 315.2,690.5" fill="#0000bf"/><polygon points="244.1,685.1 252.1,684.6 258.3,685.5 250.3,685.9" fill="#0000df"/><polygon points="142.7,686.7 150.7,689.1 156.9,685.6 148.9,683.2" fill="#0000ef"/><polygon points="193.4,685.8 201.4,683.4 207.6,684.7 199.6,682.4" fill="#0000ef"/><polygon points="258.3,685.5 266.3,685 272.5,685.9 264.5,686.3" fill="#0000df"/><polygon points="98.2,699.5 106.2,696.8 112.4,693.3 104.3,696" fill="#0000af"/><polygon points="207.6,684.7 215.6,684.3 221.8,685.1 213.8,683.2" fill="#0000ef"/><polygon points="156.9,685.6 164.9,688 171.1,684.5 163.1,682.2" fill="#0000ef"/><polygon points="272.5,685.9 280.6,685.4 286.7,686.2 278.7,686.7" fill="#0000df"/><polygon points="357.8,700.6 365.9,700.7 372,704 364,703.9" fill="#00008f"/><polygon points="120.4,690.6 128.5,687.8 134.6,684.3 126.6,687.1" fill="#0000df"/><polygon points="343.6,697.3 351.6,697.4 357.8,700.6 349.8,700.6" fill="#00009f"/><polygon points="329.4,693.9 337.4,694 343.6,697.3 335.6,697.2" fill="#0000af"/><polygon points="221.8,685.1 229.9,684.7 236,685.5 228,683.6" fill="#0000ef"/><polygon points="286.7,686.2 294.8,686.3 301,687.2 292.9,687.1" fill="#0000df"/><polygon points="315.2,690.5 323.2,690.6 329.4,693.9 321.3,693.8" fill="#0000bf"/><polygon points="301,687.2 309,687.3 315.2,690.5 307.1,690.5" fill="#0000cf"/><polygon points="171.1,684.5 179.2,686.9 185.3,683.4 177.3,681.1" fill="#0000ff"/><polygon points="236,685.5 244.1,685.1 250.3,685.9 242.2,684" fill="#0000ef"/><polygon points="90.1,702.2 98.2,699.5 104.3,696 96.3,698.8" fill="#0000af"/><polygon points="250.3,685.9 258.3,685.5 264.5,686.3 256.4,684.4" fill="#0000ef"/><polygon points="134.6,684.3 142.7,686.7 148.9,683.2 140.8,680.9" fill="#0000ff"/><polygon points="185.3,683.4 193.4,685.8 199.6,682.4 191.5,680" fill="#0010ff"/><polygon points="112.4,693.3 120.4,690.6 126.6,687.1 118.6,689.8" fill="#0000df"/><polygon points="364,703.9 372,704 378.2,707.3 370.2,709.6" fill="#00008f"/><polygon points="264.5,686.3 272.5,685.9 278.7,686.7 270.6,684.8" fill="#0000ef"/><polygon points="349.8,700.6 357.8,700.6 364,703.9 356,706.3" fill="#00008f"/><polygon points="335.6,697.2 343.6,697.3 349.8,700.6 341.7,702.9" fill="#00009f"/><polygon points="199.6,682.4 207.6,684.7 213.8,683.2 205.7,680.8" fill="#0000ff"/><polygon points="321.3,693.8 329.4,693.9 335.6,697.2 327.5,699.5" fill="#0000af"/><polygon points="307.1,690.5 315.2,690.5 321.3,693.8 313.3,696.2" fill="#0000bf"/><polygon points="148.9,683.2 156.9,685.6 163.1,682.2 155,679.8" fill="#0010ff"/><polygon points="292.9,687.1 301,687.2 307.1,690.5 299.1,692.8" fill="#0000cf"/><polygon points="278.7,686.7 286.7,686.2 292.9,687.1 284.9,685.2" fill="#0000ef"/><polygon points="82.1,705 90.1,702.2 96.3,698.8 88.3,701.5" fill="#0000af"/><polygon points="213.8,683.2 221.8,685.1 228,683.6 220,681.7" fill="#0000ff"/><polygon points="104.3,696 112.4,693.3 118.6,689.8 110.5,692.5" fill="#0000df"/><polygon points="228,683.6 236,685.5 242.2,684 234.2,682.1" fill="#0010ff"/><polygon points="163.1,682.2 171.1,684.5 177.3,681.1 169.3,678.7" fill="#0020ff"/><polygon points="126.6,687.1 134.6,684.3 140.8,680.9 132.8,683.6" fill="#0000ff"/><polygon points="356,706.3 364,703.9 370.2,709.6 362.1,712" fill="#00008f"/><polygon points="341.7,702.9 349.8,700.6 356,706.3 347.9,708.6" fill="#00008f"/><polygon points="242.2,684 250.3,685.9 256.4,684.4 248.4,682.5" fill="#0010ff"/><polygon points="370.2,709.6 378.2,707.3 384.4,710.4 376.3,712.7" fill="#00008f"/><polygon points="327.5,699.5 335.6,697.2 341.7,702.9 333.7,705.3" fill="#00009f"/><polygon points="313.3,696.2 321.3,693.8 327.5,699.5 319.5,701.9" fill="#0000af"/><polygon points="299.1,692.8 307.1,690.5 313.3,696.2 305.3,698.5" fill="#0000bf"/><polygon points="177.3,681.1 185.3,683.4 191.5,680 183.5,677.6" fill="#0020ff"/><polygon points="256.4,684.4 264.5,686.3 270.6,684.8 262.6,682.9" fill="#0010ff"/><polygon points="74,707.7 82.1,705 88.3,701.5 80.2,696.5" fill="#0000df"/><polygon points="96.3,698.8 104.3,696 110.5,692.5 102.5,695.3" fill="#0000df"/><polygon points="284.9,685.2 292.9,687.1 299.1,692.8 291,690.9" fill="#0000ef"/><polygon points="191.5,680 199.6,682.4 205.7,680.8 197.7,678.4" fill="#0020ff"/><polygon points="270.6,684.8 278.7,686.7 284.9,685.2 276.8,683.3" fill="#0010ff"/><polygon points="140.8,680.9 148.9,683.2 155,679.8 147,677.4" fill="#0030ff"/><polygon points="118.6,689.8 126.6,687.1 132.8,683.6 124.7,686.3" fill="#0000ff"/><polygon points="347.9,708.6 356,706.3 362.1,712 354.1,714.4" fill="#00008f"/><polygon points="205.7,680.8 213.8,683.2 220,681.7 211.9,679.3" fill="#0020ff"/><polygon points="333.7,705.3 341.7,702.9 347.9,708.6 339.9,711" fill="#00008f"/><polygon points="362.1,712 370.2,709.6 376.3,712.7 368.3,715.1" fill="#00008f"/><polygon points="319.5,701.9 327.5,699.5 333.7,705.3 325.7,707.6" fill="#00009f"/><polygon points="305.3,698.5 313.3,696.2 319.5,701.9 311.4,704.3" fill="#0000af"/><polygon points="220,681.7 228,683.6 234.2,682.1 226.1,680.2" fill="#0020ff"/><polygon points="376.3,712.7 384.4,710.4 390.6,713.4 382.5,715.8" fill="#00008f"/><polygon points="155,679.8 163.1,682.2 169.3,678.7 161.2,676.3" fill="#0030ff"/><polygon points="291,690.9 299.1,692.8 305.3,698.5 297.2,696.6" fill="#0000df"/><polygon points="234.2,682.1 242.2,684 248.4,682.5 240.3,680.6" fill="#0020ff"/><polygon points="88.3,701.5 96.3,698.8 102.5,695.3 94.4,690.3" fill="#0000ff"/><polygon points="110.5,692.5 118.6,689.8 124.7,686.3 116.7,689" fill="#0000ff"/><polygon points="339.9,711 347.9,708.6 354.1,714.4 346,716.7" fill="#00008f"/><polygon points="169.3,678.7 177.3,681.1 183.5,677.6 175.4,675.2" fill="#0040ff"/><polygon points="248.4,682.5 256.4,684.4 262.6,682.9 254.6,681" fill="#0020ff"/><polygon points="325.7,707.6 333.7,705.3 339.9,711 331.8,713.3" fill="#00008f"/><polygon points="354.1,714.4 362.1,712 368.3,715.1 360.3,717.4" fill="#00008f"/><polygon points="311.4,704.3 319.5,701.9 325.7,707.6 317.6,710" fill="#00009f"/><polygon points="132.8,683.6 140.8,680.9 147,677.4 139,680.1" fill="#0020ff"/><polygon points="276.8,683.3 284.9,685.2 291,690.9 283,689" fill="#0000ff"/><polygon points="262.6,682.9 270.6,684.8 276.8,683.3 268.8,681.4" fill="#0020ff"/><polygon points="368.3,715.1 376.3,712.7 382.5,715.8 374.5,718.2" fill="#00008f"/><polygon points="183.5,677.6 191.5,680 197.7,678.4 189.6,676.1" fill="#0040ff"/><polygon points="297.2,696.6 305.3,698.5 311.4,704.3 303.4,702.4" fill="#0000cf"/><polygon points="197.7,678.4 205.7,680.8 211.9,679.3 203.9,676.9" fill="#0040ff"/><polygon points="382.5,715.8 390.6,713.4 396.7,716.5 388.7,718.9" fill="#00008f"/><polygon points="211.9,679.3 220,681.7 226.1,680.2 218.1,677.8" fill="#0040ff"/><polygon points="331.8,713.3 339.9,711 346,716.7 338,719.1" fill="#00008f"/><polygon points="317.6,710 325.7,707.6 331.8,713.3 323.8,715.7" fill="#00008f"/><polygon points="102.5,695.3 110.5,692.5 116.7,689 108.6,684.1" fill="#0020ff"/><polygon points="147,677.4 155,679.8 161.2,676.3 153.2,673.9" fill="#0050ff"/><polygon points="346,716.7 354.1,714.4 360.3,717.4 352.2,719.8" fill="#00008f"/><polygon points="124.7,686.3 132.8,683.6 139,680.1 130.9,682.8" fill="#0020ff"/><polygon points="283,689 291,690.9 297.2,696.6 289.2,694.7" fill="#0000ef"/><polygon points="226.1,680.2 234.2,682.1 240.3,680.6 232.3,678.7" fill="#0040ff"/><polygon points="360.3,717.4 368.3,715.1 374.5,718.2 366.4,720.5" fill="#00008f"/><polygon points="303.4,702.4 311.4,704.3 317.6,710 309.6,708.1" fill="#0000bf"/><polygon points="80.2,696.5 88.3,701.5 94.4,690.3 86.4,685.3" fill="#0030ff"/><polygon points="240.3,680.6 248.4,682.5 254.6,681 246.5,679.1" fill="#0040ff"/><polygon points="161.2,676.3 169.3,678.7 175.4,675.2 167.4,672.8" fill="#0050ff"/><polygon points="374.5,718.2 382.5,715.8 388.7,718.9 380.7,721.2" fill="#00008f"/><polygon points="268.8,681.4 276.8,683.3 283,689 275,687.1" fill="#0010ff"/><polygon points="323.8,715.7 331.8,713.3 338,719.1 330,721.4" fill="#00008f"/><polygon points="254.6,681 262.6,682.9 268.8,681.4 260.7,679.5" fill="#0040ff"/><polygon points="388.7,718.9 396.7,716.5 402.9,719.6 394.9,722" fill="#00008f"/><polygon points="175.4,675.2 183.5,677.6 189.6,676.1 181.6,673.7" fill="#0050ff"/><polygon points="289.2,694.7 297.2,696.6 303.4,702.4 295.3,700.5" fill="#0000df"/><polygon points="338,719.1 346,716.7 352.2,719.8 344.2,722.2" fill="#00008f"/><polygon points="116.7,689 124.7,686.3 130.9,682.8 122.9,677.9" fill="#0050ff"/><polygon points="309.6,708.1 317.6,710 323.8,715.7 315.7,713.8" fill="#0000af"/><polygon points="189.6,676.1 197.7,678.4 203.9,676.9 195.8,674.5" fill="#0050ff"/><polygon points="352.2,719.8 360.3,717.4 366.4,720.5 358.4,722.9" fill="#00008f"/><polygon points="139,680.1 147,677.4 153.2,673.9 145.1,676.6" fill="#0050ff"/><polygon points="203.9,676.9 211.9,679.3 218.1,677.8 210,675.4" fill="#0050ff"/><polygon points="366.4,720.5 374.5,718.2 380.7,721.2 372.6,723.6" fill="#00008f"/><polygon points="275,687.1 283,689 289.2,694.7 281.1,692.8" fill="#0010ff"/><polygon points="94.4,690.3 102.5,695.3 108.6,684.1 100.6,679.1" fill="#0050ff"/><polygon points="218.1,677.8 226.1,680.2 232.3,678.7 224.3,676.3" fill="#0050ff"/><polygon points="380.7,721.2 388.7,718.9 394.9,722 386.8,724.3" fill="#00008f"/><polygon points="295.3,700.5 303.4,702.4 309.6,708.1 301.5,706.2" fill="#0000cf"/><polygon points="330,721.4 338,719.1 344.2,722.2 336.1,724.4" fill="#00008f"/><polygon points="232.3,678.7 240.3,680.6 246.5,679.1 238.5,677.2" fill="#0050ff"/><polygon points="394.9,722 402.9,719.6 409.1,722.7 401,725" fill="#00008f"/><polygon points="153.2,673.9 161.2,676.3 167.4,672.8 159.3,670.4" fill="#0070ff"/><polygon points="344.2,722.2 352.2,719.8 358.4,722.9 350.4,725.1" fill="#00008f"/><polygon points="315.7,713.8 323.8,715.7 330,721.4 321.9,715.7" fill="#0000af"/><polygon points="260.7,679.5 268.8,681.4 275,687.1 266.9,685.2" fill="#0030ff"/><polygon points="246.5,679.1 254.6,681 260.7,679.5 252.7,677.6" fill="#0050ff"/><polygon points="130.9,682.8 139,680.1 145.1,676.6 137.1,671.6" fill="#0070ff"/><polygon points="281.1,692.8 289.2,694.7 295.3,700.5 287.3,698.6" fill="#0000ff"/><polygon points="358.4,722.9 366.4,720.5 372.6,723.6 364.6,725.8" fill="#00008f"/><polygon points="167.4,672.8 175.4,675.2 181.6,673.7 173.6,671.3" fill="#0070ff"/><polygon points="372.6,723.6 380.7,721.2 386.8,724.3 378.8,726.5" fill="#00008f"/><polygon points="181.6,673.7 189.6,676.1 195.8,674.5 187.8,672.2" fill="#0070ff"/><polygon points="301.5,706.2 309.6,708.1 315.7,713.8 307.7,708.1" fill="#0000df"/><polygon points="108.6,684.1 116.7,689 122.9,677.9 114.8,672.9" fill="#0070ff"/><polygon points="195.8,674.5 203.9,676.9 210,675.4 202,673" fill="#0070ff"/><polygon points="386.8,724.3 394.9,722 401,725 393,727.3" fill="#00008f"/><polygon points="266.9,685.2 275,687.1 281.1,692.8 273.1,690.9" fill="#0020ff"/><polygon points="336.1,724.4 344.2,722.2 350.4,725.1 342.3,727.3" fill="#00008f"/><polygon points="210,675.4 218.1,677.8 224.3,676.3 216.2,673.9" fill="#0070ff"/><polygon points="401,725 409.1,722.7 415.3,725.8 407.2,728" fill="#00008f"/><polygon points="321.9,715.7 330,721.4 336.1,724.4 328.1,718.7" fill="#0000af"/><polygon points="350.4,725.1 358.4,722.9 364.6,725.8 356.5,728.1" fill="#00008f"/><polygon points="287.3,698.6 295.3,700.5 301.5,706.2 293.5,700.5" fill="#0000ff"/><polygon points="86.4,685.3 94.4,690.3 100.6,679.1 92.6,674.2" fill="#0070ff"/><polygon points="224.3,676.3 232.3,678.7 238.5,677.2 230.4,674.8" fill="#0070ff"/><polygon points="145.1,676.6 153.2,673.9 159.3,670.4 151.3,665.4" fill="#008fff"/><polygon points="252.7,677.6 260.7,679.5 266.9,685.2 258.9,683.3" fill="#0040ff"/><polygon points="364.6,725.8 372.6,723.6 378.8,726.5 370.7,728.8" fill="#00008f"/><polygon points="238.5,677.2 246.5,679.1 252.7,677.6 244.7,675.7" fill="#0070ff"/><polygon points="378.8,726.5 386.8,724.3 393,727.3 385,729.5" fill="#00008f"/><polygon points="122.9,677.9 130.9,682.8 137.1,671.6 129,666.7" fill="#009fff"/><polygon points="307.7,708.1 315.7,713.8 321.9,715.7 313.9,710" fill="#0000df"/><polygon points="273.1,690.9 281.1,692.8 287.3,698.6 279.3,692.9" fill="#0020ff"/><polygon points="393,727.3 401,725 407.2,728 399.2,730.2" fill="#00008f"/><polygon points="159.3,670.4 167.4,672.8 173.6,671.3 165.5,662.1" fill="#00afff"/><polygon points="342.3,727.3 350.4,725.1 356.5,728.1 348.5,730.3" fill="#00008f"/><polygon points="173.6,671.3 181.6,673.7 187.8,672.2 179.7,663" fill="#00afff"/><polygon points="328.1,718.7 336.1,724.4 342.3,727.3 334.3,721.6" fill="#0000af"/><polygon points="356.5,728.1 364.6,725.8 370.7,728.8 362.7,731" fill="#00008f"/><polygon points="293.5,700.5 301.5,706.2 307.7,708.1 299.7,702.4" fill="#0000ff"/><polygon points="258.9,683.3 266.9,685.2 273.1,690.9 265,685.2" fill="#0050ff"/><polygon points="100.6,679.1 108.6,684.1 114.8,672.9 106.8,667.9" fill="#009fff"/><polygon points="187.8,672.2 195.8,674.5 202,673 194,663.9" fill="#00afff"/><polygon points="370.7,728.8 378.8,726.5 385,729.5 376.9,731.7" fill="#00008f"/><polygon points="202,673 210,675.4 216.2,673.9 208.2,664.8" fill="#00afff"/><polygon points="385,729.5 393,727.3 399.2,730.2 391.1,732.5" fill="#00008f"/><polygon points="137.1,671.6 145.1,676.6 151.3,665.4 143.3,660.5" fill="#00bfff"/><polygon points="279.3,692.9 287.3,698.6 293.5,700.5 285.4,694.8" fill="#0030ff"/><polygon points="244.7,675.7 252.7,677.6 258.9,683.3 250.8,677.6" fill="#0070ff"/><polygon points="216.2,673.9 224.3,676.3 230.4,674.8 222.4,665.7" fill="#00afff"/><polygon points="313.9,710 321.9,715.7 328.1,718.7 320,713" fill="#0000df"/><polygon points="230.4,674.8 238.5,677.2 244.7,675.7 236.6,666.6" fill="#00afff"/><polygon points="348.5,730.3 356.5,728.1 362.7,731 354.7,733.2" fill="#00008f"/><polygon points="334.3,721.6 342.3,727.3 348.5,730.3 340.4,724.6" fill="#0000af"/><polygon points="362.7,731 370.7,728.8 376.9,731.7 368.9,734" fill="#00008f"/><polygon points="114.8,672.9 122.9,677.9 129,666.7 121,661.7" fill="#00bfff"/><polygon points="265,685.2 273.1,690.9 279.3,692.9 271.2,687.2" fill="#0050ff"/><polygon points="299.7,702.4 307.7,708.1 313.9,710 305.8,704.3" fill="#0010ff"/><polygon points="376.9,731.7 385,729.5 391.1,732.5 383.1,734.7" fill="#00008f"/><polygon points="151.3,665.4 159.3,670.4 165.5,662.1 157.5,657.2" fill="#00cfff"/><polygon points="250.8,677.6 258.9,683.3 265,685.2 257,679.5" fill="#0070ff"/><polygon points="320,713 328.1,718.7 334.3,721.6 326.2,715.9" fill="#0000df"/><polygon points="92.6,674.2 100.6,679.1 106.8,667.9 98.7,663" fill="#00bfff"/><polygon points="285.4,694.8 293.5,700.5 299.7,702.4 291.6,696.7" fill="#0030ff"/><polygon points="165.5,662.1 173.6,671.3 179.7,663 171.7,653.9" fill="#00efff"/><polygon points="354.7,733.2 362.7,731 368.9,734 360.8,736.2" fill="#00008f"/><polygon points="179.7,663 187.8,672.2 194,663.9 185.9,654.8" fill="#00efff"/><polygon points="340.4,724.6 348.5,730.3 354.7,733.2 346.6,727.5" fill="#0000af"/><polygon points="368.9,734 376.9,731.7 383.1,734.7 375.1,736.9" fill="#00008f"/><polygon points="129,666.7 137.1,671.6 143.3,660.5 135.2,655.5" fill="#00dfff"/><polygon points="194,663.9 202,673 208.2,664.8 200.1,655.7" fill="#00efff"/><polygon points="271.2,687.2 279.3,692.9 285.4,694.8 277.4,689.1" fill="#0050ff"/><polygon points="305.8,704.3 313.9,710 320,713 312,707.3" fill="#0010ff"/><polygon points="236.6,666.6 244.7,675.7 250.8,677.6 242.8,668.5" fill="#00afff"/><polygon points="208.2,664.8 216.2,673.9 222.4,665.7 214.3,656.6" fill="#00efff"/><polygon points="222.4,665.7 230.4,674.8 236.6,666.6 228.6,657.4" fill="#00dfff"/><polygon points="106.8,667.9 114.8,672.9 121,661.7 113,656.8" fill="#00efff"/><polygon points="326.2,715.9 334.3,721.6 340.4,724.6 332.4,718.9" fill="#0000df"/><polygon points="257,679.5 265,685.2 271.2,687.2 263.2,681.5" fill="#0080ff"/><polygon points="291.6,696.7 299.7,702.4 305.8,704.3 297.8,698.6" fill="#0040ff"/><polygon points="360.8,736.2 368.9,734 375.1,736.9 367,739.2" fill="#00008f"/><polygon points="143.3,660.5 151.3,665.4 157.5,657.2 149.4,652.2" fill="#00ffff"/><polygon points="346.6,727.5 354.7,733.2 360.8,736.2 352.8,730.5" fill="#0000bf"/><polygon points="312,707.3 320,713 326.2,715.9 318.2,710.2" fill="#0010ff"/><polygon points="277.4,689.1 285.4,694.8 291.6,696.7 283.6,691" fill="#0060ff"/><polygon points="242.8,668.5 250.8,677.6 257,679.5 249,670.4" fill="#00afff"/><polygon points="157.5,657.2 165.5,662.1 171.7,653.9 163.7,648.9" fill="#10ffef"/><polygon points="121,661.7 129,666.7 135.2,655.5 127.2,650.6" fill="#10ffef"/><polygon points="332.4,718.9 340.4,724.6 346.6,727.5 338.6,721.8" fill="#0000df"/><polygon points="263.2,681.5 271.2,687.2 277.4,689.1 269.4,683.4" fill="#0080ff"/><polygon points="297.8,698.6 305.8,704.3 312,707.3 304,701.6" fill="#0040ff"/><polygon points="352.8,730.5 360.8,736.2 367,739.2 359,737.5" fill="#00009f"/><polygon points="171.7,653.9 179.7,663 185.9,654.8 177.9,645.6" fill="#30ffcf"/><polygon points="98.7,663 106.8,667.9 113,656.8 104.9,651.8" fill="#10ffef"/><polygon points="185.9,654.8 194,663.9 200.1,655.7 192.1,646.5" fill="#20ffdf"/><polygon points="318.2,710.2 326.2,715.9 332.4,718.9 324.4,713.2" fill="#0010ff"/><polygon points="228.6,657.4 236.6,666.6 242.8,668.5 234.7,659.4" fill="#00efff"/><polygon points="200.1,655.7 208.2,664.8 214.3,656.6 206.3,647.4" fill="#20ffdf"/><polygon points="135.2,655.5 143.3,660.5 149.4,652.2 141.4,647.3" fill="#20ffdf"/><polygon points="283.6,691 291.6,696.7 297.8,698.6 289.7,692.9" fill="#0060ff"/><polygon points="249,670.4 257,679.5 263.2,681.5 255.1,672.3" fill="#00bfff"/><polygon points="338.6,721.8 346.6,727.5 352.8,730.5 344.7,728.9" fill="#0000cf"/><polygon points="214.3,656.6 222.4,665.7 228.6,657.4 220.5,648.3" fill="#20ffdf"/><polygon points="304,701.6 312,707.3 318.2,710.2 310.1,704.5" fill="#0040ff"/><polygon points="269.4,683.4 277.4,689.1 283.6,691 275.5,685.3" fill="#008fff"/><polygon points="149.4,652.2 157.5,657.2 163.7,648.9 155.6,644" fill="#40ffbf"/><polygon points="113,656.8 121,661.7 127.2,650.6 119.1,645.6" fill="#30ffcf"/><polygon points="324.4,713.2 332.4,718.9 338.6,721.8 330.5,720.2" fill="#0000ff"/><polygon points="344.7,728.9 352.8,730.5 359,737.5 350.9,735.9" fill="#0000bf"/><polygon points="234.7,659.4 242.8,668.5 249,670.4 240.9,661.3" fill="#00efff"/><polygon points="289.7,692.9 297.8,698.6 304,701.6 295.9,695.9" fill="#0060ff"/><polygon points="255.1,672.3 263.2,681.5 269.4,683.4 261.3,674.3" fill="#00bfff"/><polygon points="163.7,648.9 171.7,653.9 177.9,645.6 169.8,640.7" fill="#50ffaf"/><polygon points="310.1,704.5 318.2,710.2 324.4,713.2 316.3,711.5" fill="#0020ff"/><polygon points="330.5,720.2 338.6,721.8 344.7,728.9 336.7,727.2" fill="#0000df"/><polygon points="127.2,650.6 135.2,655.5 141.4,647.3 133.3,642.3" fill="#50ffaf"/><polygon points="275.5,685.3 283.6,691 289.7,692.9 281.7,687.2" fill="#008fff"/><polygon points="177.9,645.6 185.9,654.8 192.1,646.5 184,637.4" fill="#60ff9f"/><polygon points="220.5,648.3 228.6,657.4 234.7,659.4 226.7,650.2" fill="#30ffcf"/><polygon points="192.1,646.5 200.1,655.7 206.3,647.4 198.3,638.3" fill="#60ff9f"/><polygon points="295.9,695.9 304,701.6 310.1,704.5 302.1,702.9" fill="#0050ff"/><polygon points="336.7,727.2 344.7,728.9 350.9,735.9 342.9,734.2" fill="#0000cf"/><polygon points="316.3,711.5 324.4,713.2 330.5,720.2 322.5,718.5" fill="#0010ff"/><polygon points="240.9,661.3 249,670.4 255.1,672.3 247.1,663.2" fill="#00ffff"/><polygon points="206.3,647.4 214.3,656.6 220.5,648.3 212.5,639.2" fill="#60ff9f"/><polygon points="141.4,647.3 149.4,652.2 155.6,644 147.6,639" fill="#60ff9f"/><polygon points="104.9,651.8 113,656.8 119.1,645.6 111.1,640.6" fill="#60ff9f"/><polygon points="261.3,674.3 269.4,683.4 275.5,685.3 267.5,676.2" fill="#00cfff"/><polygon points="281.7,687.2 289.7,692.9 295.9,695.9 287.9,694.2" fill="#0080ff"/><polygon points="322.5,718.5 330.5,720.2 336.7,727.2 328.7,725.5" fill="#0000ff"/><polygon points="302.1,702.9 310.1,704.5 316.3,711.5 308.3,709.9" fill="#0040ff"/><polygon points="155.6,644 163.7,648.9 169.8,640.7 161.8,635.7" fill="#70ff8f"/><polygon points="226.7,650.2 234.7,659.4 240.9,661.3 232.9,652.2" fill="#30ffcf"/><polygon points="119.1,645.6 127.2,650.6 133.3,642.3 125.3,637.4" fill="#70ff8f"/><polygon points="328.7,725.5 336.7,727.2 342.9,734.2 334.8,732.6" fill="#0000df"/><polygon points="247.1,663.2 255.1,672.3 261.3,674.3 253.3,665.1" fill="#00ffff"/><polygon points="308.3,709.9 316.3,711.5 322.5,718.5 314.4,716.9" fill="#0020ff"/><polygon points="287.9,694.2 295.9,695.9 302.1,702.9 294.1,701.2" fill="#0060ff"/><polygon points="267.5,676.2 275.5,685.3 281.7,687.2 273.7,676.2" fill="#00dfff"/><polygon points="169.8,640.7 177.9,645.6 184,637.4 176,632.4" fill="#8fff70"/><polygon points="133.3,642.3 141.4,647.3 147.6,639 139.5,634.1" fill="#8fff70"/><polygon points="314.4,716.9 322.5,718.5 328.7,725.5 320.6,723.9" fill="#0010ff"/><polygon points="212.5,639.2 220.5,648.3 226.7,650.2 218.7,641.1" fill="#70ff8f"/><polygon points="294.1,701.2 302.1,702.9 308.3,709.9 300.2,708.2" fill="#0050ff"/><polygon points="184,637.4 192.1,646.5 198.3,638.3 190.2,629.2" fill="#9fff60"/><polygon points="232.9,652.2 240.9,661.3 247.1,663.2 239,654.1" fill="#40ffbf"/><polygon points="198.3,638.3 206.3,647.4 212.5,639.2 204.4,630" fill="#9fff60"/><polygon points="320.6,723.9 328.7,725.5 334.8,732.6 326.8,730.9" fill="#0000ff"/><polygon points="253.3,665.1 261.3,674.3 267.5,676.2 259.4,665.1" fill="#10ffef"/><polygon points="273.7,676.2 281.7,687.2 287.9,694.2 279.8,683.2" fill="#00bfff"/><polygon points="147.6,639 155.6,644 161.8,635.7 153.7,630.8" fill="#9fff60"/><polygon points="300.2,708.2 308.3,709.9 314.4,716.9 306.4,715.2" fill="#0040ff"/><polygon points="111.1,640.6 119.1,645.6 125.3,637.4 117.3,634.7" fill="#8fff70"/><polygon points="218.7,641.1 226.7,650.2 232.9,652.2 224.8,643" fill="#70ff8f"/><polygon points="279.8,683.2 287.9,694.2 294.1,701.2 286,690.2" fill="#00afff"/><polygon points="306.4,715.2 314.4,716.9 320.6,723.9 312.6,722.2" fill="#0020ff"/><polygon points="161.8,635.7 169.8,640.7 176,632.4 168,627.5" fill="#afff50"/><polygon points="125.3,637.4 133.3,642.3 139.5,634.1 131.5,631.4" fill="#9fff60"/><polygon points="239,654.1 247.1,663.2 253.3,665.1 245.2,654.1" fill="#50ffaf"/><polygon points="286,690.2 294.1,701.2 300.2,708.2 292.2,697.2" fill="#009fff"/><polygon points="312.6,722.2 320.6,723.9 326.8,730.9 318.8,729.3" fill="#0010ff"/><polygon points="259.4,665.1 267.5,676.2 273.7,676.2 265.6,665.1" fill="#20ffdf"/><polygon points="176,632.4 184,637.4 190.2,629.2 182.2,624.2" fill="#cfff30"/><polygon points="204.4,630 212.5,639.2 218.7,641.1 210.6,632" fill="#afff50"/><polygon points="139.5,634.1 147.6,639 153.7,630.8 145.7,628.1" fill="#bfff40"/><polygon points="292.2,697.2 300.2,708.2 306.4,715.2 298.4,704.2" fill="#0080ff"/><polygon points="224.8,643 232.9,652.2 239,654.1 231,643" fill="#80ff80"/><polygon points="190.2,629.2 198.3,638.3 204.4,630 196.4,620.9" fill="#dfff20"/><polygon points="245.2,654.1 253.3,665.1 259.4,665.1 251.4,654" fill="#60ff9f"/><polygon points="153.7,630.8 161.8,635.7 168,627.5 159.9,624.8" fill="#cfff30"/><polygon points="117.3,634.7 125.3,637.4 131.5,631.4 123.4,628.8" fill="#bfff40"/><polygon points="265.6,665.1 273.7,676.2 279.8,683.2 271.8,672.1" fill="#10ffef"/><polygon points="298.4,704.2 306.4,715.2 312.6,722.2 304.5,711.2" fill="#0070ff"/><polygon points="210.6,632 218.7,641.1 224.8,643 216.8,631.9" fill="#bfff40"/><polygon points="271.8,672.1 279.8,683.2 286,690.2 278,679.1" fill="#00efff"/><polygon points="168,627.5 176,632.4 182.2,624.2 174.1,621.6" fill="#dfff20"/><polygon points="304.5,711.2 312.6,722.2 318.8,729.3 310.7,719.1" fill="#0050ff"/><polygon points="131.5,631.4 139.5,634.1 145.7,628.1 137.7,625.5" fill="#cfff30"/><polygon points="231,643 239,654.1 245.2,654.1 237.2,643" fill="#8fff70"/><polygon points="278,679.1 286,690.2 292.2,697.2 284.1,686.1" fill="#00dfff"/><polygon points="251.4,654 259.4,665.1 265.6,665.1 257.6,654" fill="#70ff8f"/><polygon points="182.2,624.2 190.2,629.2 196.4,620.9 188.4,618.3" fill="#ffff00"/><polygon points="196.4,620.9 204.4,630 210.6,632 202.6,620.9" fill="#efff10"/><polygon points="145.7,628.1 153.7,630.8 159.9,624.8 151.9,622.2" fill="#efff10"/><polygon points="216.8,631.9 224.8,643 231,643 223,631.9" fill="#cfff30"/><polygon points="284.1,686.1 292.2,697.2 298.4,704.2 290.3,693.1" fill="#00cfff"/><polygon points="123.4,628.8 131.5,631.4 137.7,625.5 129.6,622.8" fill="#efff10"/><polygon points="159.9,624.8 168,627.5 174.1,621.6 166.1,618.9" fill="#ffff00"/><polygon points="237.2,643 245.2,654.1 251.4,654 243.4,643" fill="#9fff60"/><polygon points="257.6,654 265.6,665.1 271.8,672.1 263.7,661" fill="#50ffaf"/><polygon points="290.3,693.1 298.4,704.2 304.5,711.2 296.5,701.1" fill="#00afff"/><polygon points="202.6,620.9 210.6,632 216.8,631.9 208.7,620.9" fill="#ffff00"/><polygon points="137.7,625.5 145.7,628.1 151.9,622.2 143.8,619.6" fill="#ffff00"/><polygon points="174.1,621.6 182.2,624.2 188.4,618.3 180.3,615.6" fill="#ffef00"/><polygon points="296.5,701.1 304.5,711.2 310.7,719.1 302.7,709" fill="#008fff"/><polygon points="263.7,661 271.8,672.1 278,679.1 269.9,668" fill="#40ffbf"/><polygon points="188.4,618.3 196.4,620.9 202.6,620.9 194.5,618.3" fill="#ffef00"/><polygon points="223,631.9 231,643 237.2,643 229.1,631.9" fill="#dfff20"/><polygon points="151.9,622.2 159.9,624.8 166.1,618.9 158,616.3" fill="#ffdf00"/><polygon points="269.9,668 278,679.1 284.1,686.1 276.1,675" fill="#30ffcf"/><polygon points="243.4,643 251.4,654 257.6,654 249.5,642.9" fill="#afff50"/><polygon points="208.7,620.9 216.8,631.9 223,631.9 214.9,620.9" fill="#ffef00"/><polygon points="276.1,675 284.1,686.1 290.3,693.1 282.3,683" fill="#10ffef"/><polygon points="129.6,622.8 137.7,625.5 143.8,619.6 135.8,616.9" fill="#ffdf00"/><polygon points="166.1,618.9 174.1,621.6 180.3,615.6 172.3,613" fill="#ffcf00"/><polygon points="180.3,615.6 188.4,618.3 194.5,618.3 186.5,615.6" fill="#ffcf00"/><polygon points="194.5,618.3 202.6,620.9 208.7,620.9 200.7,618.2" fill="#ffdf00"/><polygon points="229.1,631.9 237.2,643 243.4,643 235.3,631.9" fill="#efff10"/><polygon points="282.3,683 290.3,693.1 296.5,701.1 288.4,690.9" fill="#00efff"/><polygon points="249.5,642.9 257.6,654 263.7,661 255.7,649.9" fill="#9fff60"/><polygon points="143.8,619.6 151.9,622.2 158,616.3 150,613.6" fill="#ffbf00"/><polygon points="288.4,690.9 296.5,701.1 302.7,709 294.6,698.9" fill="#00dfff"/><polygon points="255.7,649.9 263.7,661 269.9,668 261.9,656.9" fill="#8fff70"/><polygon points="214.9,620.9 223,631.9 229.1,631.9 221.1,620.8" fill="#ffdf00"/><polygon points="158,616.3 166.1,618.9 172.3,613 164.2,610.3" fill="#ffaf00"/><polygon points="261.9,656.9 269.9,668 276.1,675 268.1,664.9" fill="#70ff8f"/><polygon points="172.3,613 180.3,615.6 186.5,615.6 178.4,613" fill="#ffbf00"/><polygon points="186.5,615.6 194.5,618.3 200.7,618.2 192.7,615.6" fill="#ffbf00"/><polygon points="200.7,618.2 208.7,620.9 214.9,620.9 206.9,618.2" fill="#ffcf00"/><polygon points="235.3,631.9 243.4,643 249.5,642.9 241.5,631.9" fill="#ffff00"/><polygon points="135.8,616.9 143.8,619.6 150,613.6 142,611" fill="#ffaf00"/><polygon points="268.1,664.9 276.1,675 282.3,683 274.2,672.9" fill="#50ffaf"/><polygon points="274.2,672.9 282.3,683 288.4,690.9 280.4,680.8" fill="#40ffbf"/><polygon points="150,613.6 158,616.3 164.2,610.3 156.2,607.7" fill="#ff8f00"/><polygon points="221.1,620.8 229.1,631.9 235.3,631.9 227.3,620.8" fill="#ffcf00"/><polygon points="241.5,631.9 249.5,642.9 255.7,649.9 247.7,638.9" fill="#dfff20"/><polygon points="164.2,610.3 172.3,613 178.4,613 170.4,610.3" fill="#ff9f00"/><polygon points="178.4,613 186.5,615.6 192.7,615.6 184.6,612.9" fill="#ffaf00"/><polygon points="192.7,615.6 200.7,618.2 206.9,618.2 198.8,615.6" fill="#ffaf00"/><polygon points="280.4,680.8 288.4,690.9 294.6,698.9 286.6,688.8" fill="#20ffdf"/><polygon points="206.9,618.2 214.9,620.9 221.1,620.8 213.1,618.2" fill="#ffbf00"/><polygon points="247.7,638.9 255.7,649.9 261.9,656.9 253.8,646.8" fill="#cfff30"/><polygon points="253.8,646.8 261.9,656.9 268.1,664.9 260,654.8" fill="#afff50"/><polygon points="142,611 150,613.6 156.2,607.7 148.1,605.1" fill="#ff8000"/><polygon points="227.3,620.8 235.3,631.9 241.5,631.9 233.4,620.8" fill="#ffbf00"/><polygon points="260,654.8 268.1,664.9 274.2,672.9 266.2,662.7" fill="#9fff60"/><polygon points="156.2,607.7 164.2,610.3 170.4,610.3 162.4,607.7" fill="#ff8000"/><polygon points="170.4,610.3 178.4,613 184.6,612.9 176.6,610.3" fill="#ff8f00"/><polygon points="184.6,612.9 192.7,615.6 198.8,615.6 190.8,612.9" fill="#ff9f00"/><polygon points="198.8,615.6 206.9,618.2 213.1,618.2 205,615.5" fill="#ff9f00"/><polygon points="213.1,618.2 221.1,620.8 227.3,620.8 219.2,618.2" fill="#ffaf00"/><polygon points="266.2,662.7 274.2,672.9 280.4,680.8 272.4,670.7" fill="#80ff80"/><polygon points="233.4,620.8 241.5,631.9 247.7,638.9 239.6,628.7" fill="#ffcf00"/><polygon points="272.4,670.7 280.4,680.8 286.6,688.8 278.5,678.6" fill="#60ff9f"/><polygon points="239.6,628.7 247.7,638.9 253.8,646.8 245.8,636.7" fill="#ffef00"/><polygon points="148.1,605.1 156.2,607.7 162.4,607.7 154.3,600.7" fill="#ff5000"/><polygon points="162.4,607.7 170.4,610.3 176.6,610.3 168.5,603.4" fill="#ff6000"/><polygon points="176.6,610.3 184.6,612.9 190.8,612.9 182.7,606" fill="#ff7000"/><polygon points="190.8,612.9 198.8,615.6 205,615.5 197,608.6" fill="#ff7000"/><polygon points="205,615.5 213.1,618.2 219.2,618.2 211.2,611.2" fill="#ff8000"/><polygon points="219.2,618.2 227.3,620.8 233.4,620.8 225.4,613.9" fill="#ff8000"/><polygon points="245.8,636.7 253.8,646.8 260,654.8 252,644.7" fill="#efff10"/><polygon points="252,644.7 260,654.8 266.2,662.7 258.1,652.6" fill="#dfff20"/><polygon points="258.1,652.6 266.2,662.7 272.4,670.7 264.3,660.6" fill="#bfff40"/><polygon points="225.4,613.9 233.4,620.8 239.6,628.7 231.6,621.8" fill="#ff9f00"/><polygon points="264.3,660.6 272.4,670.7 278.5,678.6 270.5,668.5" fill="#9fff60"/><polygon points="231.6,621.8 239.6,628.7 245.8,636.7 237.8,629.8" fill="#ffbf00"/><polygon points="154.3,600.7 162.4,607.7 168.5,603.4 160.5,596.4" fill="#ff3000"/><polygon points="168.5,603.4 176.6,610.3 182.7,606 174.7,599" fill="#ff3000"/><polygon points="182.7,606 190.8,612.9 197,608.6 188.9,601.7" fill="#ff4000"/><polygon points="197,608.6 205,615.5 211.2,611.2 203.1,604.3" fill="#ff5000"/><polygon points="211.2,611.2 219.2,618.2 225.4,613.9 217.4,606.9" fill="#ff5000"/><polygon points="237.8,629.8 245.8,636.7 252,644.7 243.9,637.7" fill="#ffcf00"/><polygon points="243.9,637.7 252,644.7 258.1,652.6 250.1,645.7" fill="#ffef00"/><polygon points="217.4,606.9 225.4,613.9 231.6,621.8 223.5,614.9" fill="#ff7000"/><polygon points="250.1,645.7 258.1,652.6 264.3,660.6 256.3,653.6" fill="#efff10"/><polygon points="223.5,614.9 231.6,621.8 237.8,629.8 229.7,622.8" fill="#ff8f00"/><polygon points="160.5,596.4 168.5,603.4 174.7,599 166.7,592.1" fill="#ff0000"/><polygon points="174.7,599 182.7,606 188.9,601.7 180.9,594.7" fill="#ff1000"/><polygon points="188.9,601.7 197,608.6 203.1,604.3 195.1,597.4" fill="#ff1000"/><polygon points="203.1,604.3 211.2,611.2 217.4,606.9 209.3,600" fill="#ff2000"/><polygon points="256.3,653.6 264.3,660.6 270.5,668.5 262.5,656.1" fill="#efff10"/><polygon points="229.7,622.8 237.8,629.8 243.9,637.7 235.9,630.8" fill="#ff9f00"/><polygon points="235.9,630.8 243.9,637.7 250.1,645.7 242.1,638.7" fill="#ffbf00"/><polygon points="209.3,600 217.4,606.9 223.5,614.9 215.5,607.9" fill="#ff4000"/><polygon points="242.1,638.7 250.1,645.7 256.3,653.6 248.2,641.3" fill="#ffbf00"/><polygon points="215.5,607.9 223.5,614.9 229.7,622.8 221.7,615.9" fill="#ff5000"/><polygon points="166.7,592.1 174.7,599 180.9,594.7 172.8,587.8" fill="#df0000"/><polygon points="180.9,594.7 188.9,601.7 195.1,597.4 187.1,590.4" fill="#df0000"/><polygon points="195.1,597.4 203.1,604.3 209.3,600 201.3,593" fill="#ef0000"/><polygon points="221.7,615.9 229.7,622.8 235.9,630.8 227.8,623.8" fill="#ff7000"/><polygon points="248.2,641.3 256.3,653.6 262.5,656.1 254.4,643.8" fill="#ffbf00"/><polygon points="227.8,623.8 235.9,630.8 242.1,638.7 234,626.4" fill="#ff7000"/><polygon points="201.3,593 209.3,600 215.5,607.9 207.4,601" fill="#ff1000"/><polygon points="207.4,601 215.5,607.9 221.7,615.9 213.6,608.9" fill="#ff2000"/><polygon points="172.8,587.8 180.9,594.7 187.1,590.4 179,583.5" fill="#af0000"/><polygon points="187.1,590.4 195.1,597.4 201.3,593 193.2,586.1" fill="#bf0000"/><polygon points="234,626.4 242.1,638.7 248.2,641.3 240.2,628.9" fill="#ff7000"/><polygon points="213.6,608.9 221.7,615.9 227.8,623.8 219.8,611.5" fill="#ff2000"/><polygon points="240.2,628.9 248.2,641.3 254.4,643.8 246.4,631.4" fill="#ff7000"/><polygon points="193.2,586.1 201.3,593 207.4,601 199.4,594" fill="#cf0000"/><polygon points="219.8,611.5 227.8,623.8 234,626.4 226,614" fill="#ff2000"/><polygon points="199.4,594 207.4,601 213.6,608.9 205.6,596.6" fill="#cf0000"/><polygon points="179,583.5 187.1,590.4 193.2,586.1 185.2,579.2" fill="#8f0000"/><polygon points="226,614 234,626.4 240.2,628.9 232.1,616.5" fill="#ff2000"/><polygon points="205.6,596.6 213.6,608.9 219.8,611.5 211.8,599.1" fill="#cf0000"/><polygon points="185.2,579.2 193.2,586.1 199.4,594 191.4,581.7" fill="#800000"/><polygon points="232.1,616.5 240.2,628.9 246.4,631.4 238.3,619" fill="#ff2000"/><polygon points="211.8,599.1 219.8,611.5 226,614 217.9,601.6" fill="#cf0000"/><polygon points="191.4,581.7 199.4,594 205.6,596.6 197.5,584.2" fill="#800000"/><polygon points="217.9,601.6 226,614 232.1,616.5 224.1,604.1" fill="#cf0000"/><polygon points="197.5,584.2 205.6,596.6 211.8,599.1 203.7,586.7" fill="#800000"/><polygon points="224.1,604.1 232.1,616.5 238.3,619 230.3,606.7" fill="#cf0000"/><polygon points="203.7,586.7 211.8,599.1 217.9,601.6 209.9,589.2" fill="#800000"/><polygon points="209.9,589.2 217.9,601.6 224.1,604.1 216.1,591.8" fill="#800000"/><polygon points="216.1,591.8 224.1,604.1 230.3,606.7 222.2,594.3" fill="#800000"/></g>
<g font-family='"Liberation Sans", sans-serif' font-size="9.9" fill="#111"><text x="197.95" y="798.94" text-anchor="end">−0.6</text><text x="242.49" y="801.19">−0.6</text><text x="160.9" y="780.47" text-anchor="end">−0.3</text><text x="290.74" y="787.04">−0.3</text><text x="123.85" y="762" text-anchor="end">0</text><text x="339" y="772.9">0</text><text x="86.8" y="743.53" text-anchor="end">0.3</text><text x="387.26" y="758.76">0.3</text><text x="49.75" y="725.06" text-anchor="end">0.6</text><text x="435.51" y="744.61">0.6</text><text x="37.4" y="684.99" text-anchor="end">1</text><text x="37.4" y="660.2" text-anchor="end">2</text><text x="37.4" y="635.4" text-anchor="end">3</text><text x="37.4" y="610.61" text-anchor="end">4</text><text x="37.4" y="585.82" text-anchor="end">5</text><text x="37.4" y="561.03" text-anchor="end">6</text><text x="37.4" y="536.23" text-anchor="end">7</text></g>
<text transform="translate(25.5,613) rotate(-90)" text-anchor="middle" font-family='"Liberation Sans", sans-serif' font-size="10.2" fill="#111">RMSE</text>
<text x="123.2" y="811.1" text-anchor="middle" font-family='"Liberation Serif", serif' font-size="13" fill="#111">ρ</text>
<text x="326.4" y="815.8" text-anchor="middle" font-family='"Liberation Serif", serif' font-size="13" fill="#111">λ</text>
<g shape-rendering="crispEdges"><rect x="458.2" y="452.65" width="20.9" height="5.62" fill="#800000"/><rect x="458.2" y="457.97" width="20.9" height="5.62" fill="#8f0000"/><rect x="458.2" y="463.29" width="20.9" height="5.62" fill="#9f0000"/><rect x="458.2" y="468.62" width="20.9" height="5.62" fill="#af0000"/><rect x="458.2" y="473.94" width="20.9" height="5.62" fill="#bf0000"/><rect x="458.2" y="479.26" width="20.9" height="5.62" fill="#cf0000"/><rect x="458.2" y="484.58" width="20.9" height="5.62" fill="#df0000"/><rect x="458.2" y="489.9" width="20.9" height="5.62" fill="#ef0000"/><rect x="458.2" y="495.22" width="20.9" height="5.62" fill="#ff0000"/><rect x="458.2" y="500.55" width="20.9" height="5.62" fill="#ff1000"/><rect x="458.2" y="505.87" width="20.9" height="5.62" fill="#ff2000"/><rect x="458.2" y="511.19" width="20.9" height="5.62" fill="#ff3000"/><rect x="458.2" y="516.51" width="20.9" height="5.62" fill="#ff4000"/><rect x="458.2" y="521.83" width="20.9" height="5.62" fill="#ff5000"/><rect x="458.2" y="527.16" width="20.9" height="5.62" fill="#ff6000"/><rect x="458.2" y="532.48" width="20.9" height="5.62" fill="#ff7000"/><rect x="458.2" y="537.8" width="20.9" height="5.62" fill="#ff8000"/><rect x="458.2" y="543.12" width="20.9" height="5.62" fill="#ff8f00"/><rect x="458.2" y="548.44" width="20.9" height="5.62" fill="#ff9f00"/><rect x="458.2" y="553.77" width="20.9" height="5.62" fill="#ffaf00"/><rect x="458.2" y="559.09" width="20.9" height="5.62" fill="#ffbf00"/><rect x="458.2" y="564.41" width="20.9" height="5.62" fill="#ffcf00"/><rect x="458.2" y="569.73" width="20.9" height="5.62" fill="#ffdf00"/><rect x="458.2" y="575.05" width="20.9" height="5.62" fill="#ffef00"/><rect x="458.2" y="580.38" width="20.9" height="5.62" fill="#ffff00"/><rect x="458.2" y="585.7" width="20.9" height="5.62" fill="#efff10"/><rect x="458.2" y="591.02" width="20.9" height="5.62" fill="#dfff20"/><rect x="458.2" y="596.34" width="20.9" height="5.62" fill="#cfff30"/><rect x="458.2" y="601.66" width="20.9" height="5.62" fill="#bfff40"/><rect x="458.2" y="606.98" width="20.9" height="5.62" fill="#afff50"/><rect x="458.2" y="612.31" width="20.9" height="5.62" fill="#9fff60"/><rect x="458.2" y="617.63" width="20.9" height="5.62" fill="#8fff70"/><rect x="458.2" y="622.95" width="20.9" height="5.62" fill="#80ff80"/><rect x="458.2" y="628.27" width="20.9" height="5.62" fill="#70ff8f"/><rect x="458.2" y="633.59" width="20.9" height="5.62" fill="#60ff9f"/><rect x="458.2" y="638.92" width="20.9" height="5.62" fill="#50ffaf"/><rect x="458.2" y="644.24" width="20.9" height="5.62" fill="#40ffbf"/><rect x="458.2" y="649.56" width="20.9" height="5.62" fill="#30ffcf"/><rect x="458.2" y="654.88" width="20.9" height="5.62" fill="#20ffdf"/><rect x="458.2" y="660.2" width="20.9" height="5.62" fill="#10ffef"/><rect x="458.2" y="665.52" width="20.9" height="5.62" fill="#00ffff"/><rect x="458.2" y="670.85" width="20.9" height="5.62" fill="#00efff"/><rect x="458.2" y="676.17" width="20.9" height="5.62" fill="#00dfff"/><rect x="458.2" y="681.49" width="20.9" height="5.62" fill="#00cfff"/><rect x="458.2" y="686.81" width="20.9" height="5.62" fill="#00bfff"/><rect x="458.2" y="692.13" width="20.9" height="5.62" fill="#00afff"/><rect x="458.2" y="697.46" width="20.9" height="5.62" fill="#009fff"/><rect x="458.2" y="702.78" width="20.9" height="5.62" fill="#008fff"/><rect x="458.2" y="708.1" width="20.9" height="5.62" fill="#0080ff"/><rect x="458.2" y="713.42" width="20.9" height="5.62" fill="#0070ff"/><rect x="458.2" y="718.74" width="20.9" height="5.62" fill="#0060ff"/><rect x="458.2" y="724.07" width="20.9" height="5.62" fill="#0050ff"/><rect x="458.2" y="729.39" width="20.9" height="5.62" fill="#0040ff"/><rect x="458.2" y="734.71" width="20.9" height="5.62" fill="#0030ff"/><rect x="458.2" y="740.03" width="20.9" height="5.62" fill="#0020ff"/><rect x="458.2" y="745.35" width="20.9" height="5.62" fill="#0010ff"/><rect x="458.2" y="750.67" width="20.9" height="5.62" fill="#0000ff"/><rect x="458.2" y="756" width="20.9" height="5.62" fill="#0000ef"/><rect x="458.2" y="761.32" width="20.9" height="5.62" fill="#0000df"/><rect x="458.2" y="766.64" width="20.9" height="5.62" fill="#0000cf"/><rect x="458.2" y="771.96" width="20.9" height="5.62" fill="#0000bf"/><rect x="458.2" y="777.28" width="20.9" height="5.62" fill="#0000af"/><rect x="458.2" y="782.61" width="20.9" height="5.62" fill="#00009f"/><rect x="458.2" y="787.93" width="20.9" height="5.62" fill="#00008f"/></g>
<rect x="458.2" y="452.7" width="20.9" height="340.6" fill="none" stroke="#222" stroke-width="0.9"/>
<g stroke="#111" stroke-width="0.9"><line x1="458.2" y1="752.58" x2="461.8" y2="752.58"/><line x1="475.5" y1="752.58" x2="479.1" y2="752.58"/><line x1="458.2" y1="707.74" x2="461.8" y2="707.74"/><line x1="475.5" y1="707.74" x2="479.1" y2="707.74"/><line x1="458.2" y1="662.89" x2="461.8" y2="662.89"/><line x1="475.5" y1="662.89" x2="479.1" y2="662.89"/><line x1="458.2" y1="618.04" x2="461.8" y2="618.04"/><line x1="475.5" y1="618.04" x2="479.1" y2="618.04"/><line x1="458.2" y1="573.2" x2="461.8" y2="573.2"/><line x1="475.5" y1="573.2" x2="479.1" y2="573.2"/><line x1="458.2" y1="528.35" x2="461.8" y2="528.35"/><line x1="475.5" y1="528.35" x2="479.1" y2="528.35"/><line x1="458.2" y1="483.51" x2="461.8" y2="483.51"/><line x1="475.5" y1="483.51" x2="479.1" y2="483.51"/></g>
<clipPath id="cbtc"><rect x="479.1" y="452.9" width="60" height="360"/></clipPath>
<g clip-path="url(#cbtc)" font-family='"Liberation Sans", sans-serif' font-size="9.9" fill="#111"><text x="482.3" y="756.18">1</text><text x="482.3" y="711.34">2</text><text x="482.3" y="666.49">3</text><text x="482.3" y="621.64">4</text><text x="482.3" y="576.8">5</text><text x="482.3" y="531.95">6</text><text x="482.3" y="487.11">7</text></g>
<text x="264.2" y="862" text-anchor="middle" font-family='"Liberation Serif", serif' font-size="27.2" fill="#111">(<tspan font-weight="bold">c</tspan>)</text></g>
<g><g stroke="#000" stroke-opacity="0.62" stroke-width="0.9" stroke-dasharray="1.1 3.3" fill="none"><line x1="751.69" y1="788.69" x2="578.79" y2="702.49"/><line x1="723.25" y1="787.24" x2="948.45" y2="721.24"/><line x1="578.79" y1="702.49" x2="578.79" y2="514.19"/><line x1="948.45" y1="721.24" x2="948.45" y2="532.94"/><line x1="799.94" y1="774.54" x2="627.04" y2="688.34"/><line x1="686.2" y1="768.77" x2="911.4" y2="702.77"/><line x1="627.04" y1="688.34" x2="627.04" y2="500.04"/><line x1="911.4" y1="702.77" x2="911.4" y2="514.47"/><line x1="848.2" y1="760.4" x2="675.3" y2="674.2"/><line x1="649.15" y1="750.3" x2="874.35" y2="684.3"/><line x1="675.3" y1="674.2" x2="675.3" y2="485.9"/><line x1="874.35" y1="684.3" x2="874.35" y2="496"/><line x1="896.46" y1="746.26" x2="723.56" y2="660.06"/><line x1="612.1" y1="731.83" x2="837.3" y2="665.83"/><line x1="723.56" y1="660.06" x2="723.56" y2="471.76"/><line x1="837.3" y1="665.83" x2="837.3" y2="477.53"/><line x1="944.71" y1="732.11" x2="771.81" y2="645.91"/><line x1="575.05" y1="713.36" x2="800.25" y2="647.36"/><line x1="771.81" y1="645.91" x2="771.81" y2="457.61"/><line x1="800.25" y1="647.36" x2="800.25" y2="459.06"/><line x1="562.7" y1="696.08" x2="787.9" y2="630.08"/><line x1="787.9" y1="630.08" x2="960.8" y2="716.28"/><line x1="562.7" y1="676.05" x2="787.9" y2="610.05"/><line x1="787.9" y1="610.05" x2="960.8" y2="696.25"/><line x1="562.7" y1="656.02" x2="787.9" y2="590.02"/><line x1="787.9" y1="590.02" x2="960.8" y2="676.22"/><line x1="562.7" y1="635.99" x2="787.9" y2="569.99"/><line x1="787.9" y1="569.99" x2="960.8" y2="656.19"/><line x1="562.7" y1="615.95" x2="787.9" y2="549.95"/><line x1="787.9" y1="549.95" x2="960.8" y2="636.15"/><line x1="562.7" y1="595.92" x2="787.9" y2="529.92"/><line x1="787.9" y1="529.92" x2="960.8" y2="616.12"/><line x1="562.7" y1="575.89" x2="787.9" y2="509.89"/><line x1="787.9" y1="509.89" x2="960.8" y2="596.09"/><line x1="562.7" y1="555.86" x2="787.9" y2="489.86"/><line x1="787.9" y1="489.86" x2="960.8" y2="576.06"/><line x1="562.7" y1="535.83" x2="787.9" y2="469.83"/><line x1="787.9" y1="469.83" x2="960.8" y2="556.03"/></g>
<g stroke="#1a1a1a" stroke-width="0.95" fill="none"><polyline points="562.7,518.9 562.7,707.2 735.6,793.4 960.8,727.4"/><line x1="723.25" y1="787.24" x2="717.68" y2="788.87"/><line x1="751.69" y1="788.69" x2="756.88" y2="791.27"/><line x1="686.2" y1="768.77" x2="680.63" y2="770.4"/><line x1="799.94" y1="774.54" x2="805.13" y2="777.13"/><line x1="649.15" y1="750.3" x2="643.58" y2="751.93"/><line x1="848.2" y1="760.4" x2="853.39" y2="762.99"/><line x1="612.1" y1="731.83" x2="606.53" y2="733.46"/><line x1="896.46" y1="746.26" x2="901.65" y2="748.84"/><line x1="575.05" y1="713.36" x2="569.48" y2="714.99"/><line x1="944.71" y1="732.11" x2="949.9" y2="734.7"/><line x1="562.7" y1="696.08" x2="557.51" y2="693.49"/><line x1="562.7" y1="676.05" x2="557.51" y2="673.46"/><line x1="562.7" y1="656.02" x2="557.51" y2="653.43"/><line x1="562.7" y1="635.99" x2="557.51" y2="633.4"/><line x1="562.7" y1="615.95" x2="557.51" y2="613.37"/><line x1="562.7" y1="595.92" x2="557.51" y2="593.33"/><line x1="562.7" y1="575.89" x2="557.51" y2="573.3"/><line x1="562.7" y1="555.86" x2="557.51" y2="553.27"/><line x1="562.7" y1="535.83" x2="557.51" y2="533.24"/></g>
<clipPath id="clipd"><rect x="562.7" y="452.7" width="398.1" height="340.9"/></clipPath><g clip-path="url(#clipd)" fill="none" stroke-width="1.05" stroke-linecap="round"><path d="M598.5 720.3L596.9 720.4M674.9 695.6L671.7 698.8M678.8 691.9L674.9 695.6M598.5 720.3L608 719.6M618.4 718.4L608 719.6M625.4 715.5L618.4 718.4M632.5 712.7L625.4 715.5M639.6 709.9L632.5 712.7M646.7 707L639.6 709.9M657 705.8L646.7 707M666.3 704.1L657 705.8M670.6 699.9L666.3 704.1M671.7 698.8L670.6 699.9M895.3 735.5L895.7 735.8M899 731L895.3 735.5M907 728.6L899 731M915.1 726.2L907 728.6M895.7 735.8L899.5 739.6M899.5 739.6L903.4 743.3" stroke="#0000bf"/><path d="M748.3 671.5L756.1 674.1M756.1 674.1L763.7 676.8M616.1 724.9L607.2 725.6M763.7 676.8L767.3 680.6M616.1 724.9L618.3 724.7M629.4 723.9L618.3 724.7M638.6 723.2L629.4 723.9M767.3 680.6L770.9 684.4M638.6 723.2L640.5 723M651.5 722.2L640.5 723M661.2 721.5L651.5 722.2M670.2 718.8L669.8 718.9M670.5 718.7L670.2 718.8M774 687.7L774.5 688.3M770.9 684.4L774 687.7M661.2 721.5L662.6 721.3M669.8 718.9L662.6 721.3M670.5 718.7L680.5 717.5M690.8 716.3L680.5 717.5M698.9 715.3L690.8 716.3M774.5 688.3L778.1 692.1M698.9 715.3L701 715M711.3 713.8L701 715M721.5 712.5L711.3 713.8M727.7 711.7L721.5 712.5M778.1 692.1L785.3 693.4M788.4 693.9L785.3 693.4M727.7 711.7L731.7 711.2M743.4 710.7L731.7 711.2M748.7 710.5L743.4 710.7M784.7 699.4L782.5 700.6M790 695.7L784.7 699.4M788.4 693.9L790 695.7M748.7 710.5L755.1 710.2M765.7 709.1L755.1 710.2M772.1 705.9L765.7 709.1M778.4 702.7L772.1 705.9M782.5 700.6L778.4 702.7M827.3 720.7L827.3 721.7M835.3 718.3L827.3 720.7M843.4 716L835.3 718.3M851.7 713.7L843.4 716M858 712.6L851.7 713.7M827.3 721.7L827.1 726.6M858 712.6L861.2 712.1M870.6 710.5L861.2 712.1M880.1 708.8L870.6 710.5M827.1 726.9L829.9 730.7M827.1 726.6L827.1 726.9M829.9 730.7L836.9 733.5M836.9 733.5L842 736.9M842 736.9L847.1 740.3M847.1 740.3L852.2 743.7M852.2 743.7L857.4 747.1M858.3 748.9L858.2 751.7M857.4 747.1L858.3 748.9M858 755.1L858 756.7M858.2 751.7L858 755.1" stroke="#0030ff"/><path d="M767.4 665.9L770.5 666.9M775.2 668.5L770.5 666.9M775.2 668.5L783 671.1M783 671.1L790.8 673.7M790.8 673.7L798.6 676.3M628.7 729.9L617.6 730.7M633.8 729.5L628.7 729.9M798.6 676.3L806.1 679M633.8 729.5L639.7 729M650.8 728.2L639.7 729M656.3 727.8L650.8 728.2M806.1 679L809.7 682.8M656.3 727.8L661.7 727.2M672.3 726.2L661.7 727.2M681.8 725.2L672.3 726.2M809.7 682.8L818.3 684.4M820 684.7L818.3 684.4M681.8 725.2L682.9 725.1M695.6 725L682.9 725.1M699 725L695.6 725M820 684.7L830.4 686.5M699 725L708.3 725M715.8 725L708.3 725M830.4 686.5L838.3 688M715.8 725L721 725M732.6 725L721 725M732.6 725L733.7 725M744.6 724L733.7 725M754.8 722.7L744.6 724M757.2 722.6L754.8 722.7M757.2 722.6L766.5 722.2M777 721.7L766.5 722.2M777 721.7L776.8 726.7M776.8 726.7L783.4 729.6M783.4 729.6L790.4 732.5M790.4 732.5L797.5 735.3M797.5 735.3L804.5 738.1M804.5 738.1L811.5 740.9M811.5 740.9L816.6 744.3M818.5 748.1L818.5 748.7M816.6 744.3L818.5 748.1M818.5 748.7L818.3 753.6M818.3 754.4L821.9 757.5M818.3 753.6L818.3 754.4M821.9 757.5L826.1 761.1M826.1 761.1L829.6 765" stroke="#009fff"/><path d="M628.9 735.8L627.9 735.9M628.9 735.8L638.6 734.8M649.2 733.7L638.6 734.8M654.4 733.2L649.2 733.7M654.4 733.2L659.8 732.7M670.4 731.6L659.8 732.7M679.9 730.6L670.4 731.6M679.9 730.6L681 730.5M691.6 729.4L681 730.5M700.7 729.4L691.6 729.4M700.7 729.4L704.3 729.4M717 729.4L704.3 729.4M717.6 729.4L717 729.4M717.6 729.4L729.7 729.3M734.4 729.3L729.7 729.3M734.4 729.3L742.5 729.3M751.2 729.3L742.5 729.3M751.2 729.3L757.9 732.2M757.9 732.2L764.5 735.2M764.5 735.2L771.2 738.1M771.2 738.1L777.9 741M777.9 741L784.6 743.9M784.6 743.9L784.6 743.9M784.6 743.9L792.6 746.5M796.7 750L796.9 750.1M792.6 746.5L796.7 750M796.9 750.1L801.1 753.8M801.1 753.8L805.3 757.4M805.3 757.4L809.5 761.1M812.1 764L812.8 765M809.5 761.1L812.1 764M812.8 765L815.9 769" stroke="#10ffef"/><path d="M645.5 740.7L639.7 741.8M645.5 740.7L649.1 740.1M658.4 738.3L649.1 740.1M668.5 737L658.4 738.3M678 736.1L668.5 737M678 736.1L679.2 736M689.8 734.9L679.2 736M700.4 733.8L689.8 734.9M702.5 733.8L700.4 733.8M702.5 733.8L713.1 733.8M719.3 733.8L713.1 733.8M719.3 733.8L725.8 733.7M736.1 733.7L725.8 733.7M736.1 733.7L742.8 736.6M742.8 736.6L749.5 739.6M749.5 739.6L756.1 742.5M756.1 742.5L756.1 742.5M756.1 742.5L764.2 745M764.2 745L772.3 747.6M772.3 747.6L780.3 750.1M780.3 750.1L784.5 753.7M784.5 753.7L788.8 757.4M792.5 760.6L793 761M788.8 757.4L792.5 760.6M793 761L796 765M796 765L799 769M800.5 771L802.1 773M799 769L800.5 771" stroke="#80ff80"/><path d="M660.9 746L651.6 747.7M660.9 746L660.9 746M660.9 746L670.3 744.3M679.6 742.5L670.3 744.3M688.9 740.8L679.6 742.5M698.5 739.2L688.9 740.8M701.7 738.9L698.5 739.2M701.7 738.9L709.1 738.2M721 738.1L709.1 738.2M721 738.1L727.7 741.1M727.7 741.1L727.7 741.1M727.7 741.1L735.8 743.6M735.8 743.6L743.8 746.1M743.8 746.1L751.9 748.6M751.9 748.6L759.9 751.2M759.9 751.2L762.2 751.9M768 753.7L762.2 751.9M770.9 756.2L772.2 757.4M768 753.7L770.9 756.2M772.2 757.4L776.1 761.1M776.1 761.1L779.2 765.1M781.2 767.7L782.2 769.1M779.2 765.1L781.2 767.7M782.2 769.1L785.2 773.1M785.2 773.1L788.3 777.1" stroke="#dfff20"/><path d="M672.8 751.9L663.5 753.6M676.4 751.2L672.8 751.9M676.4 751.2L684 751.1M693.9 751L684 751.1M693.9 751L696.5 750.9M708.9 750.8L696.5 750.9M711.4 750.7L708.9 750.8M711.4 750.7L721.3 750.6M728.9 750.5L721.3 750.6M728.9 750.5L733.7 750.4M739.5 752.3L733.7 750.4M739.5 752.3L747.6 754.8M747.6 754.8L755.7 757.3M755.7 757.3L759.3 761.1M761.8 764.4L762.1 765.2M759.3 761.1L761.8 764.4M762.1 765.2L763.8 769.6M764.8 772.3L765.4 774M763.8 769.6L764.8 772.3M765.4 774L769.2 777.8M769.2 777.8L775.2 780.9" stroke="#ffaf00"/><path d="M678.5 760.4L676.9 760.3M678.5 760.4L690.5 760.7M693.6 760.8L690.5 760.7M693.6 760.8L704.1 761.1M708.7 761.3L704.1 761.1M708.7 761.3L717.8 761.6M723.8 761.8L717.8 761.6M723.8 761.8L731.4 762M738.9 762.2L731.4 762M740.6 766.6L740.6 766.6M738.9 762.2L740.6 766.6M740.6 766.6L742.2 771M743.5 774.4L744.3 775.3M742.2 771L743.5 774.4M744.3 775.3L750.2 778.5M750.2 778.5L756.2 781.6M756.2 781.6L762.2 784.7" stroke="#ff4000"/><path d="M704 767.6L690.7 767.2M704 767.6L704.3 767.6M717.9 768L704.3 767.6M719.1 768L717.9 768M719.3 768.7L720.7 772.4M719.1 768L719.3 768.7M720.7 772.4L725.2 776M725.2 776L731.2 779.1M731.2 779.1L737.2 782.3M737.2 782.3L743.1 785.4M743.1 785.4L749.1 788.6" stroke="#cf0000"/></g>
<g stroke="#000" stroke-width="0.85" stroke-linejoin="round"><polygon points="735.9,648.1 744,637.3 750.1,642.1 742.1,649.5" fill="#0000ef"/><polygon points="744,637.3 752,626.5 758.2,631.3 750.1,642.1" fill="#0010ff"/><polygon points="752,626.5 760,615.7 766.2,620.5 758.2,631.3" fill="#0040ff"/><polygon points="760,615.7 768.1,604.9 774.3,609.7 766.2,620.5" fill="#0070ff"/><polygon points="727.9,651.4 735.9,648.1 742.1,649.5 734,652.8" fill="#0000ef"/><polygon points="768.1,604.9 776.1,594.1 782.3,598.9 774.3,609.7" fill="#009fff"/><polygon points="776.1,594.1 784.2,583.4 790.3,588.1 782.3,598.9" fill="#00bfff"/><polygon points="750.1,642.1 758.2,631.3 764.3,636.1 756.3,643.5" fill="#0020ff"/><polygon points="758.2,631.3 766.2,620.5 772.4,625.3 764.3,636.1" fill="#0030ff"/><polygon points="719.8,654.7 727.9,651.4 734,652.8 726,656.1" fill="#0000ef"/><polygon points="742.1,649.5 750.1,642.1 756.3,643.5 748.3,651" fill="#0000ff"/><polygon points="766.2,620.5 774.3,609.7 780.4,614.5 772.4,625.3" fill="#0060ff"/><polygon points="774.3,609.7 782.3,598.9 788.5,603.7 780.4,614.5" fill="#008fff"/><polygon points="782.3,598.9 790.3,588.1 796.5,592.9 788.5,603.7" fill="#00bfff"/><polygon points="734,652.8 742.1,649.5 748.3,651 740.2,654.3" fill="#0000ef"/><polygon points="711.8,658 719.8,654.7 726,656.1 718,659.4" fill="#0000df"/><polygon points="764.3,636.1 772.4,625.3 778.6,630.1 770.5,637.5" fill="#0040ff"/><polygon points="772.4,625.3 780.4,614.5 786.6,619.3 778.6,630.1" fill="#0060ff"/><polygon points="756.3,643.5 764.3,636.1 770.5,637.5 762.5,645" fill="#0020ff"/><polygon points="780.4,614.5 788.5,603.7 794.6,608.5 786.6,619.3" fill="#0080ff"/><polygon points="726,656.1 734,652.8 740.2,654.3 732.2,657.6" fill="#0000ef"/><polygon points="788.5,603.7 796.5,592.9 802.7,597.7 794.6,608.5" fill="#00afff"/><polygon points="748.3,651 756.3,643.5 762.5,645 754.4,652.4" fill="#0000ff"/><polygon points="703.7,661.3 711.8,658 718,659.4 709.9,662.7" fill="#0000df"/><polygon points="740.2,654.3 748.3,651 754.4,652.4 746.4,655.7" fill="#0000ff"/><polygon points="718,659.4 726,656.1 732.2,657.6 724.1,660.9" fill="#0000ef"/><polygon points="778.6,630.1 786.6,619.3 792.8,624.1 784.7,631.5" fill="#0060ff"/><polygon points="786.6,619.3 794.6,608.5 800.8,613.3 792.8,624.1" fill="#0080ff"/><polygon points="770.5,637.5 778.6,630.1 784.7,631.5 776.7,639" fill="#0040ff"/><polygon points="695.7,664.5 703.7,661.3 709.9,662.7 701.9,666" fill="#0000df"/><polygon points="794.6,608.5 802.7,597.7 808.9,602.5 800.8,613.3" fill="#00afff"/><polygon points="762.5,645 770.5,637.5 776.7,639 768.7,646.4" fill="#0030ff"/><polygon points="732.2,657.6 740.2,654.3 746.4,655.7 738.3,659" fill="#0000ff"/><polygon points="754.4,652.4 762.5,645 768.7,646.4 760.6,653.9" fill="#0010ff"/><polygon points="709.9,662.7 718,659.4 724.1,660.9 716.1,664.2" fill="#0000df"/><polygon points="687.7,667.8 695.7,664.5 701.9,666 693.8,668.8" fill="#0000cf"/><polygon points="792.8,624.1 800.8,613.3 807,618.1 799,625.5" fill="#0080ff"/><polygon points="746.4,655.7 754.4,652.4 760.6,653.9 752.6,657.2" fill="#0010ff"/><polygon points="800.8,613.3 808.9,602.5 815,607.3 807,618.1" fill="#009fff"/><polygon points="784.7,631.5 792.8,624.1 799,625.5 790.9,633" fill="#0070ff"/><polygon points="724.1,660.9 732.2,657.6 738.3,659 730.3,662.3" fill="#0000ef"/><polygon points="776.7,639 784.7,631.5 790.9,633 782.9,640.4" fill="#0050ff"/><polygon points="701.9,666 709.9,662.7 716.1,664.2 708,667" fill="#0000df"/><polygon points="679.6,671.5 687.7,667.8 693.8,668.8 685.8,672.5" fill="#0000cf"/><polygon points="768.7,646.4 776.7,639 782.9,640.4 774.8,647.9" fill="#0030ff"/><polygon points="738.3,659 746.4,655.7 752.6,657.2 744.5,660.5" fill="#0000ff"/><polygon points="760.6,653.9 768.7,646.4 774.8,647.9 766.8,655.3" fill="#0010ff"/><polygon points="716.1,664.2 724.1,660.9 730.3,662.3 722.3,665.1" fill="#0000ef"/><polygon points="807,618.1 815,607.3 821.2,612 813.2,619.5" fill="#00afff"/><polygon points="693.8,668.8 701.9,666 708,667 700,669.8" fill="#0000df"/><polygon points="799,625.5 807,618.1 813.2,619.5 805.1,627" fill="#008fff"/><polygon points="671.6,675.1 679.6,671.5 685.8,672.5 677.7,676.1" fill="#0000cf"/><polygon points="752.6,657.2 760.6,653.9 766.8,655.3 758.7,658.6" fill="#0010ff"/><polygon points="790.9,633 799,625.5 805.1,627 797.1,634.4" fill="#0070ff"/><polygon points="730.3,662.3 738.3,659 744.5,660.5 736.5,663.3" fill="#0000ff"/><polygon points="782.9,640.4 790.9,633 797.1,634.4 789,641.9" fill="#0050ff"/><polygon points="708,667 716.1,664.2 722.3,665.1 714.2,668" fill="#0000ef"/><polygon points="774.8,647.9 782.9,640.4 789,641.9 781,649.3" fill="#0040ff"/><polygon points="685.8,672.5 693.8,668.8 700,669.8 692,673.4" fill="#0000df"/><polygon points="663.5,678.7 671.6,675.1 677.7,676.1 669.7,679.7" fill="#0000bf"/><polygon points="813.2,619.5 821.2,612 827.4,617.8 819.3,625.2" fill="#009fff"/><polygon points="744.5,660.5 752.6,657.2 758.7,658.6 750.7,661.5" fill="#0010ff"/><polygon points="766.8,655.3 774.8,647.9 781,649.3 773,656.8" fill="#0020ff"/><polygon points="805.1,627 813.2,619.5 819.3,625.2 811.3,632.7" fill="#0080ff"/><polygon points="722.3,665.1 730.3,662.3 736.5,663.3 728.4,666.1" fill="#0000ff"/><polygon points="797.1,634.4 805.1,627 811.3,632.7 803.3,640.1" fill="#0060ff"/><polygon points="700,669.8 708,667 714.2,668 706.2,670.8" fill="#0000ef"/><polygon points="677.7,676.1 685.8,672.5 692,673.4 683.9,677.1" fill="#0000cf"/><polygon points="758.7,658.6 766.8,655.3 773,656.8 764.9,659.6" fill="#0020ff"/><polygon points="655.5,682.3 663.5,678.7 669.7,679.7 661.7,683.3" fill="#0000bf"/><polygon points="789,641.9 797.1,634.4 803.3,640.1 795.2,647.6" fill="#0050ff"/><polygon points="819.3,625.2 827.4,617.8 833.6,623.5 825.5,630.9" fill="#008fff"/><polygon points="736.5,663.3 744.5,660.5 750.7,661.5 742.7,664.3" fill="#0010ff"/><polygon points="781,649.3 789,641.9 795.2,647.6 787.2,655.1" fill="#0030ff"/><polygon points="811.3,632.7 819.3,625.2 825.5,630.9 817.5,638.4" fill="#0070ff"/><polygon points="714.2,668 722.3,665.1 728.4,666.1 720.4,669" fill="#0000ff"/><polygon points="803.3,640.1 811.3,632.7 817.5,638.4 809.4,645.9" fill="#0050ff"/><polygon points="692,673.4 700,669.8 706.2,670.8 698.1,674.4" fill="#0000df"/><polygon points="669.7,679.7 677.7,676.1 683.9,677.1 675.9,680.7" fill="#0000cf"/><polygon points="773,656.8 781,649.3 787.2,655.1 779.1,658.2" fill="#0030ff"/><polygon points="647.4,686 655.5,682.3 661.7,683.3 653.6,687" fill="#0000af"/><polygon points="750.7,661.5 758.7,658.6 764.9,659.6 756.9,662.5" fill="#0020ff"/><polygon points="795.2,647.6 803.3,640.1 809.4,645.9 801.4,653.3" fill="#0040ff"/><polygon points="825.5,630.9 833.6,623.5 839.7,629.2 831.7,636.7" fill="#0080ff"/><polygon points="728.4,666.1 736.5,663.3 742.7,664.3 734.6,667.1" fill="#0010ff"/><polygon points="817.5,638.4 825.5,630.9 831.7,636.7 823.7,644.1" fill="#0060ff"/><polygon points="787.2,655.1 795.2,647.6 801.4,653.3 793.4,656.4" fill="#0030ff"/><polygon points="706.2,670.8 714.2,668 720.4,669 712.4,671.8" fill="#0000ff"/><polygon points="764.9,659.6 773,656.8 779.1,658.2 771.1,661" fill="#0020ff"/><polygon points="683.9,677.1 692,673.4 698.1,674.4 690.1,678.1" fill="#0000df"/><polygon points="661.7,683.3 669.7,679.7 675.9,680.7 667.8,684.3" fill="#0000bf"/><polygon points="809.4,645.9 817.5,638.4 823.7,644.1 815.6,651.6" fill="#0040ff"/><polygon points="639.4,689.6 647.4,686 653.6,687 645.6,687.4" fill="#0000bf"/><polygon points="742.7,664.3 750.7,661.5 756.9,662.5 748.8,665.3" fill="#0010ff"/><polygon points="831.7,636.7 839.7,629.2 845.9,634.9 837.9,642.4" fill="#0070ff"/><polygon points="801.4,653.3 809.4,645.9 815.6,651.6 807.6,654.7" fill="#0040ff"/><polygon points="720.4,669 728.4,666.1 734.6,667.1 726.6,670" fill="#0000ff"/><polygon points="779.1,658.2 787.2,655.1 793.4,656.4 785.3,659.5" fill="#0030ff"/><polygon points="823.7,644.1 831.7,636.7 837.9,642.4 829.8,649.8" fill="#0050ff"/><polygon points="698.1,674.4 706.2,670.8 712.4,671.8 704.3,675.4" fill="#0000ef"/><polygon points="675.9,680.7 683.9,677.1 690.1,678.1 682,681.7" fill="#0000df"/><polygon points="756.9,662.5 764.9,659.6 771.1,661 763,663.8" fill="#0020ff"/><polygon points="653.6,687 661.7,683.3 667.8,684.3 659.8,684.8" fill="#0000cf"/><polygon points="631.4,692.8 639.4,689.6 645.6,687.4 637.5,690.6" fill="#0000bf"/><polygon points="815.6,651.6 823.7,644.1 829.8,649.8 821.8,652.9" fill="#0050ff"/><polygon points="734.6,667.1 742.7,664.3 748.8,665.3 740.8,668.1" fill="#0010ff"/><polygon points="793.4,656.4 801.4,653.3 807.6,654.7 799.5,657.8" fill="#0040ff"/><polygon points="837.9,642.4 845.9,634.9 852.1,640.6 844,648.1" fill="#0060ff"/><polygon points="712.4,671.8 720.4,669 726.6,670 718.5,672.8" fill="#0000ff"/><polygon points="771.1,661 779.1,658.2 785.3,659.5 777.3,662.4" fill="#0030ff"/><polygon points="690.1,678.1 698.1,674.4 704.3,675.4 696.3,679.1" fill="#0000ef"/><polygon points="667.8,684.3 675.9,680.7 682,681.7 674,682.1" fill="#0000df"/><polygon points="829.8,649.8 837.9,642.4 844,648.1 836,651.2" fill="#0060ff"/><polygon points="748.8,665.3 756.9,662.5 763,663.8 755,666.7" fill="#0020ff"/><polygon points="807.6,654.7 815.6,651.6 821.8,652.9 813.7,656" fill="#0050ff"/><polygon points="623.3,695.9 631.4,692.8 637.5,690.6 629.5,693.8" fill="#0000af"/><polygon points="645.6,687.4 653.6,687 659.8,684.8 651.7,685.2" fill="#0000df"/><polygon points="726.6,670 734.6,667.1 740.8,668.1 732.7,671" fill="#0010ff"/><polygon points="785.3,659.5 793.4,656.4 799.5,657.8 791.5,660.9" fill="#0040ff"/><polygon points="704.3,675.4 712.4,671.8 718.5,672.8 710.5,676.4" fill="#0000ff"/><polygon points="763,663.8 771.1,661 777.3,662.4 769.2,665.2" fill="#0030ff"/><polygon points="844,648.1 852.1,640.6 858.3,646.3 850.2,649.5" fill="#0070ff"/><polygon points="682,681.7 690.1,678.1 696.3,679.1 688.2,679.5" fill="#0000ef"/><polygon points="821.8,652.9 829.8,649.8 836,651.2 828,654.3" fill="#0060ff"/><polygon points="740.8,668.1 748.8,665.3 755,666.7 747,669.5" fill="#0020ff"/><polygon points="799.5,657.8 807.6,654.7 813.7,656 805.7,659.2" fill="#0050ff"/><polygon points="659.8,684.8 667.8,684.3 674,682.1 666,682.6" fill="#0000ef"/><polygon points="615.3,699.1 623.3,695.9 629.5,693.8 621.4,696.9" fill="#0000af"/><polygon points="777.3,662.4 785.3,659.5 791.5,660.9 783.4,663.7" fill="#0040ff"/><polygon points="718.5,672.8 726.6,670 732.7,671 724.7,673.8" fill="#0010ff"/><polygon points="637.5,690.6 645.6,687.4 651.7,685.2 643.7,688.4" fill="#0000cf"/><polygon points="836,651.2 844,648.1 850.2,649.5 842.2,652.6" fill="#0060ff"/><polygon points="696.3,679.1 704.3,675.4 710.5,676.4 702.4,676.9" fill="#0010ff"/><polygon points="755,666.7 763,663.8 769.2,665.2 761.2,668" fill="#0030ff"/><polygon points="813.7,656 821.8,652.9 828,654.3 819.9,657.4" fill="#0050ff"/><polygon points="850.2,649.5 858.3,646.3 864.4,652.7 856.4,655.8" fill="#0060ff"/><polygon points="674,682.1 682,681.7 688.2,679.5 680.2,680" fill="#0000ff"/><polygon points="791.5,660.9 799.5,657.8 805.7,659.2 797.7,662.3" fill="#0040ff"/><polygon points="732.7,671 740.8,668.1 747,669.5 738.9,672.3" fill="#0020ff"/><polygon points="607.2,702.3 615.3,699.1 621.4,696.9 613.4,700.1" fill="#0000af"/><polygon points="769.2,665.2 777.3,662.4 783.4,663.7 775.4,666.6" fill="#0030ff"/><polygon points="710.5,676.4 718.5,672.8 724.7,673.8 716.7,674.2" fill="#0020ff"/><polygon points="629.5,693.8 637.5,690.6 643.7,688.4 635.7,691.6" fill="#0000cf"/><polygon points="828,654.3 836,651.2 842.2,652.6 834.1,655.7" fill="#0060ff"/><polygon points="651.7,685.2 659.8,684.8 666,682.6 657.9,683.1" fill="#0000ff"/><polygon points="747,669.5 755,666.7 761.2,668 753.1,670.9" fill="#0020ff"/><polygon points="805.7,659.2 813.7,656 819.9,657.4 811.9,660.5" fill="#0050ff"/><polygon points="856.4,655.8 864.4,652.7 870.6,659 862.6,662.1" fill="#0050ff"/><polygon points="842.2,652.6 850.2,649.5 856.4,655.8 848.4,658.9" fill="#0050ff"/><polygon points="688.2,679.5 696.3,679.1 702.4,676.9 694.4,677.3" fill="#0010ff"/><polygon points="783.4,663.7 791.5,660.9 797.7,662.3 789.6,665.1" fill="#0040ff"/><polygon points="599.2,705.5 607.2,702.3 613.4,700.1 605.4,703.3" fill="#0000af"/><polygon points="724.7,673.8 732.7,671 738.9,672.3 730.9,671.5" fill="#0030ff"/><polygon points="761.2,668 769.2,665.2 775.4,666.6 767.4,669.4" fill="#0030ff"/><polygon points="666,682.6 674,682.1 680.2,680 672.1,680.4" fill="#0010ff"/><polygon points="621.4,696.9 629.5,693.8 635.7,691.6 627.6,694.8" fill="#0000cf"/><polygon points="819.9,657.4 828,654.3 834.1,655.7 826.1,658.8" fill="#0060ff"/><polygon points="862.6,662.1 870.6,659 876.8,665.3 868.7,668.5" fill="#0030ff"/><polygon points="702.4,676.9 710.5,676.4 716.7,674.2 708.6,674.7" fill="#0020ff"/><polygon points="643.7,688.4 651.7,685.2 657.9,683.1 649.9,686.2" fill="#0000ef"/><polygon points="797.7,662.3 805.7,659.2 811.9,660.5 803.8,663.6" fill="#0050ff"/><polygon points="848.4,658.9 856.4,655.8 862.6,662.1 854.5,665.2" fill="#0040ff"/><polygon points="834.1,655.7 842.2,652.6 848.4,658.9 840.3,662" fill="#0050ff"/><polygon points="738.9,672.3 747,669.5 753.1,670.9 745.1,670" fill="#0040ff"/><polygon points="775.4,666.6 783.4,663.7 789.6,665.1 781.6,667.9" fill="#0040ff"/><polygon points="680.2,680 688.2,679.5 694.4,677.3 686.4,677.8" fill="#0020ff"/><polygon points="591.1,708.6 599.2,705.5 605.4,703.3 597.3,699.8" fill="#0000cf"/><polygon points="613.4,700.1 621.4,696.9 627.6,694.8 619.6,697.9" fill="#0000cf"/><polygon points="811.9,660.5 819.9,657.4 826.1,658.8 818.1,661.9" fill="#0060ff"/><polygon points="753.1,670.9 761.2,668 767.4,669.4 759.3,668.6" fill="#0040ff"/><polygon points="716.7,674.2 724.7,673.8 730.9,671.5 722.8,672" fill="#0030ff"/><polygon points="868.7,668.5 876.8,665.3 883,671.7 874.9,674.8" fill="#0020ff"/><polygon points="854.5,665.2 862.6,662.1 868.7,668.5 860.7,671.6" fill="#0030ff"/><polygon points="635.7,691.6 643.7,688.4 649.9,686.2 641.8,689.4" fill="#0000ef"/><polygon points="840.3,662 848.4,658.9 854.5,665.2 846.5,668.3" fill="#0040ff"/><polygon points="789.6,665.1 797.7,662.3 803.8,663.6 795.8,666.5" fill="#0050ff"/><polygon points="826.1,658.8 834.1,655.7 840.3,662 832.3,665.1" fill="#0050ff"/><polygon points="657.9,683.1 666,682.6 672.1,680.4 664.1,680.9" fill="#0010ff"/><polygon points="694.4,677.3 702.4,676.9 708.6,674.7 700.6,675.2" fill="#0030ff"/><polygon points="767.4,669.4 775.4,666.6 781.6,667.9 773.5,667.1" fill="#0050ff"/><polygon points="730.9,671.5 738.9,672.3 745.1,670 737.1,669.2" fill="#0050ff"/><polygon points="803.8,663.6 811.9,660.5 818.1,661.9 810,665" fill="#0050ff"/><polygon points="874.9,674.8 883,671.7 889.1,678 881.1,681.1" fill="#0010ff"/><polygon points="860.7,671.6 868.7,668.5 874.9,674.8 866.9,677.9" fill="#0020ff"/><polygon points="605.4,703.3 613.4,700.1 619.6,697.9 611.5,694.4" fill="#0000ef"/><polygon points="672.1,680.4 680.2,680 686.4,677.8 678.3,678.2" fill="#0020ff"/><polygon points="846.5,668.3 854.5,665.2 860.7,671.6 852.7,674.7" fill="#0030ff"/><polygon points="627.6,694.8 635.7,691.6 641.8,689.4 633.8,692.6" fill="#0000ef"/><polygon points="832.3,665.1 840.3,662 846.5,668.3 838.4,671.4" fill="#0040ff"/><polygon points="818.1,661.9 826.1,658.8 832.3,665.1 824.2,668.2" fill="#0050ff"/><polygon points="781.6,667.9 789.6,665.1 795.8,666.5 787.7,665.6" fill="#0060ff"/><polygon points="708.6,674.7 716.7,674.2 722.8,672 714.8,672.4" fill="#0040ff"/><polygon points="649.9,686.2 657.9,683.1 664.1,680.9 656.1,684" fill="#0010ff"/><polygon points="745.1,670 753.1,670.9 759.3,668.6 751.3,667.8" fill="#0050ff"/><polygon points="686.4,677.8 694.4,677.3 700.6,675.2 692.5,675.6" fill="#0040ff"/><polygon points="881.1,681.1 889.1,678 895.3,684.3 887.3,686.7" fill="#0000ff"/><polygon points="866.9,677.9 874.9,674.8 881.1,681.1 873.1,683.5" fill="#0010ff"/><polygon points="795.8,666.5 803.8,663.6 810,665 802,664.2" fill="#0070ff"/><polygon points="852.7,674.7 860.7,671.6 866.9,677.9 858.8,680.3" fill="#0020ff"/><polygon points="838.4,671.4 846.5,668.3 852.7,674.7 844.6,677" fill="#0030ff"/><polygon points="759.3,668.6 767.4,669.4 773.5,667.1 765.5,666.3" fill="#0060ff"/><polygon points="824.2,668.2 832.3,665.1 838.4,671.4 830.4,673.8" fill="#0040ff"/><polygon points="810,665 818.1,661.9 824.2,668.2 816.2,670.6" fill="#0050ff"/><polygon points="722.8,672 730.9,671.5 737.1,669.2 729,669.7" fill="#0050ff"/><polygon points="619.6,697.9 627.6,694.8 633.8,692.6 625.7,689.1" fill="#0010ff"/><polygon points="641.8,689.4 649.9,686.2 656.1,684 648,687.2" fill="#0010ff"/><polygon points="664.1,680.9 672.1,680.4 678.3,678.2 670.3,678.7" fill="#0030ff"/><polygon points="773.5,667.1 781.6,667.9 787.7,665.6 779.7,664.8" fill="#0070ff"/><polygon points="700.6,675.2 708.6,674.7 714.8,672.4 706.7,672.9" fill="#0050ff"/><polygon points="597.3,699.8 605.4,703.3 611.5,694.4 603.5,690.9" fill="#0010ff"/><polygon points="887.3,686.7 895.3,684.3 901.5,691.2 893.4,693.5" fill="#0000ef"/><polygon points="873.1,683.5 881.1,681.1 887.3,686.7 879.2,689.1" fill="#0000ff"/><polygon points="737.1,669.2 745.1,670 751.3,667.8 743.2,666.9" fill="#0060ff"/><polygon points="858.8,680.3 866.9,677.9 873.1,683.5 865,685.8" fill="#0010ff"/><polygon points="844.6,677 852.7,674.7 858.8,680.3 850.8,682.6" fill="#0020ff"/><polygon points="830.4,673.8 838.4,671.4 844.6,677 836.6,679.4" fill="#0030ff"/><polygon points="816.2,670.6 824.2,668.2 830.4,673.8 822.4,676.2" fill="#0040ff"/><polygon points="678.3,678.2 686.4,677.8 692.5,675.6 684.5,676.1" fill="#0040ff"/><polygon points="787.7,665.6 795.8,666.5 802,664.2 793.9,663.4" fill="#0080ff"/><polygon points="802,664.2 810,665 816.2,670.6 808.1,669.8" fill="#0060ff"/><polygon points="633.8,692.6 641.8,689.4 648,687.2 640,683.7" fill="#0030ff"/><polygon points="656.1,684 664.1,680.9 670.3,678.7 662.2,681.9" fill="#0030ff"/><polygon points="714.8,672.4 722.8,672 729,669.7 721,670.1" fill="#0060ff"/><polygon points="751.3,667.8 759.3,668.6 765.5,666.3 757.4,665.5" fill="#0070ff"/><polygon points="893.4,693.5 901.5,691.2 907.7,698 899.6,700.4" fill="#0000df"/><polygon points="879.2,689.1 887.3,686.7 893.4,693.5 885.4,695.9" fill="#0000ef"/><polygon points="611.5,694.4 619.6,697.9 625.7,689.1 617.7,685.5" fill="#0030ff"/><polygon points="865,685.8 873.1,683.5 879.2,689.1 871.2,691.4" fill="#0000ff"/><polygon points="850.8,682.6 858.8,680.3 865,685.8 857,688.2" fill="#0010ff"/><polygon points="692.5,675.6 700.6,675.2 706.7,672.9 698.7,673.3" fill="#0050ff"/><polygon points="836.6,679.4 844.6,677 850.8,682.6 842.8,685" fill="#0020ff"/><polygon points="822.4,676.2 830.4,673.8 836.6,679.4 828.5,681.7" fill="#0030ff"/><polygon points="765.5,666.3 773.5,667.1 779.7,664.8 771.7,664" fill="#0080ff"/><polygon points="729,669.7 737.1,669.2 743.2,666.9 735.2,667.4" fill="#0070ff"/><polygon points="899.6,700.4 907.7,698 913.8,704.9 905.8,707.2" fill="#0000cf"/><polygon points="808.1,669.8 816.2,670.6 822.4,676.2 814.3,675.3" fill="#0050ff"/><polygon points="670.3,678.7 678.3,678.2 684.5,676.1 676.4,676.5" fill="#0050ff"/><polygon points="885.4,695.9 893.4,693.5 899.6,700.4 891.6,702.7" fill="#0000df"/><polygon points="648,687.2 656.1,684 662.2,681.9 654.2,678.3" fill="#0050ff"/><polygon points="779.7,664.8 787.7,665.6 793.9,663.4 785.9,662.6" fill="#008fff"/><polygon points="706.7,672.9 714.8,672.4 721,670.1 712.9,670.6" fill="#0070ff"/><polygon points="871.2,691.4 879.2,689.1 885.4,695.9 877.4,698.3" fill="#0000ef"/><polygon points="793.9,663.4 802,664.2 808.1,669.8 800.1,668.9" fill="#0070ff"/><polygon points="857,688.2 865,685.8 871.2,691.4 863.1,693.8" fill="#0000ff"/><polygon points="842.8,685 850.8,682.6 857,688.2 848.9,690.6" fill="#0010ff"/><polygon points="743.2,666.9 751.3,667.8 757.4,665.5 749.4,664.7" fill="#0080ff"/><polygon points="828.5,681.7 836.6,679.4 842.8,685 834.7,687.3" fill="#0020ff"/><polygon points="625.7,689.1 633.8,692.6 640,683.7 631.9,680.2" fill="#0050ff"/><polygon points="905.8,707.2 913.8,704.9 920,711.7 912,714" fill="#0000af"/><polygon points="684.5,676.1 692.5,675.6 698.7,673.3 690.7,673.8" fill="#0060ff"/><polygon points="814.3,675.3 822.4,676.2 828.5,681.7 820.5,680.9" fill="#0040ff"/><polygon points="891.6,702.7 899.6,700.4 905.8,707.2 897.8,709.6" fill="#0000cf"/><polygon points="877.4,698.3 885.4,695.9 891.6,702.7 883.5,705.1" fill="#0000df"/><polygon points="721,670.1 729,669.7 735.2,667.4 727.1,667.9" fill="#0080ff"/><polygon points="757.4,665.5 765.5,666.3 771.7,664 763.6,663.2" fill="#008fff"/><polygon points="603.5,690.9 611.5,694.4 617.7,685.5 609.7,682" fill="#0050ff"/><polygon points="863.1,693.8 871.2,691.4 877.4,698.3 869.3,700.6" fill="#0000ef"/><polygon points="662.2,681.9 670.3,678.7 676.4,676.5 668.4,673" fill="#0070ff"/><polygon points="800.1,668.9 808.1,669.8 814.3,675.3 806.3,674.5" fill="#0060ff"/><polygon points="912,714 920,711.7 926.2,718.5 918.1,720.9" fill="#00009f"/><polygon points="848.9,690.6 857,688.2 863.1,693.8 855.1,696.1" fill="#0000ff"/><polygon points="834.7,687.3 842.8,685 848.9,690.6 840.9,692.9" fill="#0010ff"/><polygon points="698.7,673.3 706.7,672.9 712.9,670.6 704.9,671" fill="#0070ff"/><polygon points="897.8,709.6 905.8,707.2 912,714 903.9,716.4" fill="#0000af"/><polygon points="640,683.7 648,687.2 654.2,678.3 646.1,674.8" fill="#0070ff"/><polygon points="771.7,664 779.7,664.8 785.9,662.6 777.8,661.7" fill="#009fff"/><polygon points="820.5,680.9 828.5,681.7 834.7,687.3 826.7,686.5" fill="#0030ff"/><polygon points="785.9,662.6 793.9,663.4 800.1,668.9 792.1,668.1" fill="#0080ff"/><polygon points="883.5,705.1 891.6,702.7 897.8,709.6 889.7,711.9" fill="#0000cf"/><polygon points="735.2,667.4 743.2,666.9 749.4,664.7 741.4,665.1" fill="#008fff"/><polygon points="869.3,700.6 877.4,698.3 883.5,705.1 875.5,707.4" fill="#0000df"/><polygon points="806.3,674.5 814.3,675.3 820.5,680.9 812.4,680.1" fill="#0050ff"/><polygon points="918.1,720.9 926.2,718.5 932.4,725.4 924.3,724.8" fill="#00009f"/><polygon points="855.1,696.1 863.1,693.8 869.3,700.6 861.3,703" fill="#0000ef"/><polygon points="676.4,676.5 684.5,676.1 690.7,673.8 682.6,665.5" fill="#009fff"/><polygon points="712.9,670.6 721,670.1 727.1,667.9 719.1,668.3" fill="#0080ff"/><polygon points="617.7,685.5 625.7,689.1 631.9,680.2 623.9,676.7" fill="#0070ff"/><polygon points="840.9,692.9 848.9,690.6 855.1,696.1 847.1,698.5" fill="#0000ff"/><polygon points="903.9,716.4 912,714 918.1,720.9 910.1,720.3" fill="#0000af"/><polygon points="749.4,664.7 757.4,665.5 763.6,663.2 755.6,662.4" fill="#009fff"/><polygon points="826.7,686.5 834.7,687.3 840.9,692.9 832.8,692.1" fill="#0020ff"/><polygon points="889.7,711.9 897.8,709.6 903.9,716.4 895.9,715.8" fill="#0000bf"/><polygon points="792.1,668.1 800.1,668.9 806.3,674.5 798.2,673.7" fill="#0070ff"/><polygon points="654.2,678.3 662.2,681.9 668.4,673 660.4,669.5" fill="#008fff"/><polygon points="875.5,707.4 883.5,705.1 889.7,711.9 881.7,711.4" fill="#0000df"/><polygon points="690.7,673.8 698.7,673.3 704.9,671 696.8,662.7" fill="#00afff"/><polygon points="727.1,667.9 735.2,667.4 741.4,665.1 733.3,665.6" fill="#009fff"/><polygon points="861.3,703 869.3,700.6 875.5,707.4 867.5,706.9" fill="#0000ef"/><polygon points="763.6,663.2 771.7,664 777.8,661.7 769.8,660.9" fill="#00afff"/><polygon points="812.4,680.1 820.5,680.9 826.7,686.5 818.6,685.7" fill="#0040ff"/><polygon points="777.8,661.7 785.9,662.6 792.1,668.1 784,667.3" fill="#008fff"/><polygon points="847.1,698.5 855.1,696.1 861.3,703 853.2,702.4" fill="#0000ff"/><polygon points="631.9,680.2 640,683.7 646.1,674.8 638.1,671.3" fill="#008fff"/><polygon points="910.1,720.3 918.1,720.9 924.3,724.8 916.3,724.2" fill="#0000af"/><polygon points="798.2,673.7 806.3,674.5 812.4,680.1 804.4,679.3" fill="#0060ff"/><polygon points="832.8,692.1 840.9,692.9 847.1,698.5 839,694.5" fill="#0030ff"/><polygon points="895.9,715.8 903.9,716.4 910.1,720.3 902.1,719.8" fill="#0000bf"/><polygon points="704.9,671 712.9,670.6 719.1,668.3 711.1,660" fill="#00bfff"/><polygon points="741.4,665.1 749.4,664.7 755.6,662.4 747.5,662.8" fill="#00afff"/><polygon points="881.7,711.4 889.7,711.9 895.9,715.8 887.8,715.3" fill="#0000cf"/><polygon points="784,667.3 792.1,668.1 798.2,673.7 790.2,672.9" fill="#0080ff"/><polygon points="668.4,673 676.4,676.5 682.6,665.5 674.6,661.9" fill="#00bfff"/><polygon points="609.7,682 617.7,685.5 623.9,676.7 615.8,673.1" fill="#008fff"/><polygon points="867.5,706.9 875.5,707.4 881.7,711.4 873.6,710.8" fill="#0000ef"/><polygon points="818.6,685.7 826.7,686.5 832.8,692.1 824.8,688.1" fill="#0040ff"/><polygon points="853.2,702.4 861.3,703 867.5,706.9 859.4,706.3" fill="#0000ff"/><polygon points="755.6,662.4 763.6,663.2 769.8,660.9 761.8,660.1" fill="#00bfff"/><polygon points="769.8,660.9 777.8,661.7 784,667.3 776,666.5" fill="#009fff"/><polygon points="719.1,668.3 727.1,667.9 733.3,665.6 725.3,657.3" fill="#00cfff"/><polygon points="646.1,674.8 654.2,678.3 660.4,669.5 652.3,666" fill="#00afff"/><polygon points="804.4,679.3 812.4,680.1 818.6,685.7 810.6,681.7" fill="#0060ff"/><polygon points="839,694.5 847.1,698.5 853.2,702.4 845.2,698.4" fill="#0020ff"/><polygon points="902.1,719.8 910.1,720.3 916.3,724.2 908.2,723.7" fill="#0000bf"/><polygon points="887.8,715.3 895.9,715.8 902.1,719.8 894,719.2" fill="#0000cf"/><polygon points="790.2,672.9 798.2,673.7 804.4,679.3 796.4,675.3" fill="#0080ff"/><polygon points="682.6,665.5 690.7,673.8 696.8,662.7 688.8,654.4" fill="#00efff"/><polygon points="623.9,676.7 631.9,680.2 638.1,671.3 630.1,667.8" fill="#00afff"/><polygon points="873.6,710.8 881.7,711.4 887.8,715.3 879.8,714.7" fill="#0000df"/><polygon points="733.3,665.6 741.4,665.1 747.5,662.8 739.5,654.5" fill="#00dfff"/><polygon points="824.8,688.1 832.8,692.1 839,694.5 831,690.5" fill="#0050ff"/><polygon points="859.4,706.3 867.5,706.9 873.6,710.8 865.6,710.2" fill="#0000ff"/><polygon points="776,666.5 784,667.3 790.2,672.9 782.1,668.9" fill="#009fff"/><polygon points="660.4,669.5 668.4,673 674.6,661.9 666.5,658.4" fill="#00dfff"/><polygon points="810.6,681.7 818.6,685.7 824.8,688.1 816.8,684.1" fill="#0070ff"/><polygon points="696.8,662.7 704.9,671 711.1,660 703,651.7" fill="#00ffff"/><polygon points="845.2,698.4 853.2,702.4 859.4,706.3 851.4,702.3" fill="#0020ff"/><polygon points="761.8,660.1 769.8,660.9 776,666.5 767.9,662.5" fill="#00bfff"/><polygon points="747.5,662.8 755.6,662.4 761.8,660.1 753.7,651.8" fill="#00ffff"/><polygon points="894,719.2 902.1,719.8 908.2,723.7 900.2,723.1" fill="#0000cf"/><polygon points="796.4,675.3 804.4,679.3 810.6,681.7 802.5,677.7" fill="#008fff"/><polygon points="638.1,671.3 646.1,674.8 652.3,666 644.3,662.4" fill="#00cfff"/><polygon points="879.8,714.7 887.8,715.3 894,719.2 886,718.6" fill="#0000df"/><polygon points="831,690.5 839,694.5 845.2,698.4 837.1,694.4" fill="#0040ff"/><polygon points="865.6,710.2 873.6,710.8 879.8,714.7 871.8,714.1" fill="#0000ef"/><polygon points="711.1,660 719.1,668.3 725.3,657.3 717.2,648.9" fill="#10ffef"/><polygon points="782.1,668.9 790.2,672.9 796.4,675.3 788.3,671.3" fill="#009fff"/><polygon points="615.8,673.1 623.9,676.7 630.1,667.8 622,664.3" fill="#00cfff"/><polygon points="851.4,702.3 859.4,706.3 865.6,710.2 857.5,706.2" fill="#0020ff"/><polygon points="816.8,684.1 824.8,688.1 831,690.5 822.9,686.5" fill="#0070ff"/><polygon points="674.6,661.9 682.6,665.5 688.8,654.4 680.8,650.9" fill="#10ffef"/><polygon points="767.9,662.5 776,666.5 782.1,668.9 774.1,664.9" fill="#00bfff"/><polygon points="725.3,657.3 733.3,665.6 739.5,654.5 731.4,646.2" fill="#20ffdf"/><polygon points="886,718.6 894,719.2 900.2,723.1 892.2,722.5" fill="#0000df"/><polygon points="652.3,666 660.4,669.5 666.5,658.4 658.5,654.9" fill="#00ffff"/><polygon points="802.5,677.7 810.6,681.7 816.8,684.1 808.7,680.1" fill="#008fff"/><polygon points="837.1,694.4 845.2,698.4 851.4,702.3 843.3,698.3" fill="#0040ff"/><polygon points="871.8,714.1 879.8,714.7 886,718.6 877.9,718.1" fill="#0000ef"/><polygon points="753.7,651.8 761.8,660.1 767.9,662.5 759.9,654.2" fill="#00ffff"/><polygon points="630.1,667.8 638.1,671.3 644.3,662.4 636.2,658.9" fill="#00efff"/><polygon points="788.3,671.3 796.4,675.3 802.5,677.7 794.5,673.7" fill="#00afff"/><polygon points="739.5,654.5 747.5,662.8 753.7,651.8 745.7,643.5" fill="#30ffcf"/><polygon points="857.5,706.2 865.6,710.2 871.8,714.1 863.7,710.2" fill="#0010ff"/><polygon points="688.8,654.4 696.8,662.7 703,651.7 695,643.3" fill="#30ffcf"/><polygon points="822.9,686.5 831,690.5 837.1,694.4 829.1,690.4" fill="#0070ff"/><polygon points="774.1,664.9 782.1,668.9 788.3,671.3 780.3,667.3" fill="#00cfff"/><polygon points="843.3,698.3 851.4,702.3 857.5,706.2 849.5,702.3" fill="#0040ff"/><polygon points="877.9,718.1 886,718.6 892.2,722.5 884.1,722" fill="#0000ef"/><polygon points="666.5,658.4 674.6,661.9 680.8,650.9 672.7,647.4" fill="#20ffdf"/><polygon points="808.7,680.1 816.8,684.1 822.9,686.5 814.9,682.5" fill="#008fff"/><polygon points="703,651.7 711.1,660 717.2,648.9 709.2,640.6" fill="#40ffbf"/><polygon points="644.3,662.4 652.3,666 658.5,654.9 650.4,651.4" fill="#20ffdf"/><polygon points="863.7,710.2 871.8,714.1 877.9,718.1 869.9,714.1" fill="#0010ff"/><polygon points="759.9,654.2 767.9,662.5 774.1,664.9 766.1,656.6" fill="#00ffff"/><polygon points="794.5,673.7 802.5,677.7 808.7,680.1 800.7,676.1" fill="#00afff"/><polygon points="829.1,690.4 837.1,694.4 843.3,698.3 835.3,694.4" fill="#0060ff"/><polygon points="622,664.3 630.1,667.8 636.2,658.9 628.2,655.4" fill="#10ffef"/><polygon points="717.2,648.9 725.3,657.3 731.4,646.2 723.4,637.9" fill="#60ff9f"/><polygon points="780.3,667.3 788.3,671.3 794.5,673.7 786.5,669.8" fill="#00cfff"/><polygon points="849.5,702.3 857.5,706.2 863.7,710.2 855.7,706.2" fill="#0040ff"/><polygon points="814.9,682.5 822.9,686.5 829.1,690.4 821.1,686.5" fill="#008fff"/><polygon points="680.8,650.9 688.8,654.4 695,643.3 686.9,639.8" fill="#50ffaf"/><polygon points="869.9,714.1 877.9,718.1 884.1,722 876.1,720.3" fill="#0000ff"/><polygon points="745.7,643.5 753.7,651.8 759.9,654.2 751.8,645.9" fill="#30ffcf"/><polygon points="731.4,646.2 739.5,654.5 745.7,643.5 737.6,635.1" fill="#70ff8f"/><polygon points="835.3,694.4 843.3,698.3 849.5,702.3 841.5,698.3" fill="#0060ff"/><polygon points="766.1,656.6 774.1,664.9 780.3,667.3 772.2,659" fill="#00ffff"/><polygon points="658.5,654.9 666.5,658.4 672.7,647.4 664.7,643.8" fill="#40ffbf"/><polygon points="800.7,676.1 808.7,680.1 814.9,682.5 806.8,678.6" fill="#00afff"/><polygon points="855.7,706.2 863.7,710.2 869.9,714.1 861.8,712.4" fill="#0020ff"/><polygon points="636.2,658.9 644.3,662.4 650.4,651.4 642.4,647.9" fill="#40ffbf"/><polygon points="786.5,669.8 794.5,673.7 800.7,676.1 792.6,672.2" fill="#00cfff"/><polygon points="821.1,686.5 829.1,690.4 835.3,694.4 827.2,690.4" fill="#0080ff"/><polygon points="695,643.3 703,651.7 709.2,640.6 701.1,632.3" fill="#80ff80"/><polygon points="841.5,698.3 849.5,702.3 855.7,706.2 847.6,704.5" fill="#0050ff"/><polygon points="751.8,645.9 759.9,654.2 766.1,656.6 758,648.3" fill="#40ffbf"/><polygon points="861.8,712.4 869.9,714.1 876.1,720.3 868,718.7" fill="#0010ff"/><polygon points="806.8,678.6 814.9,682.5 821.1,686.5 813,682.5" fill="#00afff"/><polygon points="772.2,659 780.3,667.3 786.5,669.8 778.4,661.4" fill="#00ffff"/><polygon points="672.7,647.4 680.8,650.9 686.9,639.8 678.9,636.3" fill="#70ff8f"/><polygon points="709.2,640.6 717.2,648.9 723.4,637.9 715.4,629.5" fill="#8fff70"/><polygon points="827.2,690.4 835.3,694.4 841.5,698.3 833.4,696.6" fill="#0070ff"/><polygon points="650.4,651.4 658.5,654.9 664.7,643.8 656.6,640.3" fill="#60ff9f"/><polygon points="792.6,672.2 800.7,676.1 806.8,678.6 798.8,674.6" fill="#00cfff"/><polygon points="847.6,704.5 855.7,706.2 861.8,712.4 853.8,710.8" fill="#0040ff"/><polygon points="628.2,655.4 636.2,658.9 642.4,647.9 634.4,648" fill="#40ffbf"/><polygon points="737.6,635.1 745.7,643.5 751.8,645.9 743.8,637.5" fill="#70ff8f"/><polygon points="723.4,637.9 731.4,646.2 737.6,635.1 729.6,626.8" fill="#9fff60"/><polygon points="813,682.5 821.1,686.5 827.2,690.4 819.2,688.7" fill="#009fff"/><polygon points="758,648.3 766.1,656.6 772.2,659 764.2,650.7" fill="#40ffbf"/><polygon points="833.4,696.6 841.5,698.3 847.6,704.5 839.6,702.9" fill="#0060ff"/><polygon points="778.4,661.4 786.5,669.8 792.6,672.2 784.6,663.8" fill="#10ffef"/><polygon points="853.8,710.8 861.8,712.4 868,718.7 860,717" fill="#0030ff"/><polygon points="686.9,639.8 695,643.3 701.1,632.3 693.1,628.8" fill="#9fff60"/><polygon points="798.8,674.6 806.8,678.6 813,682.5 805,680.8" fill="#00bfff"/><polygon points="664.7,643.8 672.7,647.4 678.9,636.3 670.8,632.8" fill="#8fff70"/><polygon points="819.2,688.7 827.2,690.4 833.4,696.6 825.4,695" fill="#008fff"/><polygon points="642.4,647.9 650.4,651.4 656.6,640.3 648.6,640.5" fill="#70ff8f"/><polygon points="839.6,702.9 847.6,704.5 853.8,710.8 845.8,709.1" fill="#0050ff"/><polygon points="743.8,637.5 751.8,645.9 758,648.3 750,640" fill="#70ff8f"/><polygon points="764.2,650.7 772.2,659 778.4,661.4 770.4,653.1" fill="#40ffbf"/><polygon points="701.1,632.3 709.2,640.6 715.4,629.5 707.3,621.2" fill="#cfff30"/><polygon points="805,680.8 813,682.5 819.2,688.7 811.2,687.1" fill="#00afff"/><polygon points="784.6,663.8 792.6,672.2 798.8,674.6 790.8,663.9" fill="#20ffdf"/><polygon points="825.4,695 833.4,696.6 839.6,702.9 831.5,701.2" fill="#0080ff"/><polygon points="845.8,709.1 853.8,710.8 860,717 851.9,715.4" fill="#0040ff"/><polygon points="729.6,626.8 737.6,635.1 743.8,637.5 735.8,629.2" fill="#afff50"/><polygon points="678.9,636.3 686.9,639.8 693.1,628.8 685.1,625.2" fill="#bfff40"/><polygon points="715.4,629.5 723.4,637.9 729.6,626.8 721.5,618.5" fill="#dfff20"/><polygon points="634.4,648 642.4,647.9 648.6,640.5 640.5,640.7" fill="#80ff80"/><polygon points="811.2,687.1 819.2,688.7 825.4,695 817.3,693.3" fill="#009fff"/><polygon points="750,640 758,648.3 764.2,650.7 756.1,642.4" fill="#80ff80"/><polygon points="656.6,640.3 664.7,643.8 670.8,632.8 662.8,633" fill="#9fff60"/><polygon points="831.5,701.2 839.6,702.9 845.8,709.1 837.7,707.5" fill="#0070ff"/><polygon points="770.4,653.1 778.4,661.4 784.6,663.8 776.5,653.1" fill="#50ffaf"/><polygon points="790.8,663.9 798.8,674.6 805,680.8 796.9,670.1" fill="#10ffef"/><polygon points="817.3,693.3 825.4,695 831.5,701.2 823.5,699.6" fill="#008fff"/><polygon points="837.7,707.5 845.8,709.1 851.9,715.4 843.9,713.7" fill="#0050ff"/><polygon points="735.8,629.2 743.8,637.5 750,640 741.9,631.6" fill="#afff50"/><polygon points="693.1,628.8 701.1,632.3 707.3,621.2 699.3,617.7" fill="#efff10"/><polygon points="796.9,670.1 805,680.8 811.2,687.1 803.1,676.4" fill="#00ffff"/><polygon points="648.6,640.5 656.6,640.3 662.8,633 654.8,633.1" fill="#afff50"/><polygon points="670.8,632.8 678.9,636.3 685.1,625.2 677,625.4" fill="#cfff30"/><polygon points="756.1,642.4 764.2,650.7 770.4,653.1 762.3,642.4" fill="#8fff70"/><polygon points="823.5,699.6 831.5,701.2 837.7,707.5 829.7,705.8" fill="#0080ff"/><polygon points="776.5,653.1 784.6,663.8 790.8,663.9 782.7,653.1" fill="#60ff9f"/><polygon points="803.1,676.4 811.2,687.1 817.3,693.3 809.3,682.6" fill="#00efff"/><polygon points="721.5,618.5 729.6,626.8 735.8,629.2 727.7,620.9" fill="#dfff20"/><polygon points="707.3,621.2 715.4,629.5 721.5,618.5 713.5,610.1" fill="#ffdf00"/><polygon points="829.7,705.8 837.7,707.5 843.9,713.7 835.9,712.1" fill="#0070ff"/><polygon points="741.9,631.6 750,640 756.1,642.4 748.1,631.6" fill="#bfff40"/><polygon points="640.5,640.7 648.6,640.5 654.8,633.1 646.7,633.3" fill="#bfff40"/><polygon points="662.8,633 670.8,632.8 677,625.4 669,625.6" fill="#dfff20"/><polygon points="685.1,625.2 693.1,628.8 699.3,617.7 691.2,617.9" fill="#ffff00"/><polygon points="809.3,682.6 817.3,693.3 823.5,699.6 815.5,688.9" fill="#00cfff"/><polygon points="762.3,642.4 770.4,653.1 776.5,653.1 768.5,642.4" fill="#9fff60"/><polygon points="782.7,653.1 790.8,663.9 796.9,670.1 788.9,659.4" fill="#50ffaf"/><polygon points="727.7,620.9 735.8,629.2 741.9,631.6 733.9,620.9" fill="#efff10"/><polygon points="815.5,688.9 823.5,699.6 829.7,705.8 821.6,695.1" fill="#00bfff"/><polygon points="788.9,659.4 796.9,670.1 803.1,676.4 795.1,665.6" fill="#40ffbf"/><polygon points="654.8,633.1 662.8,633 669,625.6 660.9,625.8" fill="#dfff20"/><polygon points="748.1,631.6 756.1,642.4 762.3,642.4 754.3,631.7" fill="#cfff30"/><polygon points="677,625.4 685.1,625.2 691.2,617.9 683.2,618.1" fill="#ffff00"/><polygon points="699.3,617.7 707.3,621.2 713.5,610.1 705.5,610.3" fill="#ffdf00"/><polygon points="821.6,695.1 829.7,705.8 835.9,712.1 827.8,702.7" fill="#00afff"/><polygon points="713.5,610.1 721.5,618.5 727.7,620.9 719.7,610.2" fill="#ffcf00"/><polygon points="768.5,642.4 776.5,653.1 782.7,653.1 774.7,642.4" fill="#afff50"/><polygon points="795.1,665.6 803.1,676.4 809.3,682.6 801.2,671.9" fill="#30ffcf"/><polygon points="733.9,620.9 741.9,631.6 748.1,631.6 740.1,620.9" fill="#ffff00"/><polygon points="646.7,633.3 654.8,633.1 660.9,625.8 652.9,626" fill="#efff10"/><polygon points="669,625.6 677,625.4 683.2,618.1 675.1,618.3" fill="#ffef00"/><polygon points="691.2,617.9 699.3,617.7 705.5,610.3 697.4,610.5" fill="#ffcf00"/><polygon points="801.2,671.9 809.3,682.6 815.5,688.9 807.4,678.1" fill="#20ffdf"/><polygon points="754.3,631.7 762.3,642.4 768.5,642.4 760.5,631.7" fill="#dfff20"/><polygon points="774.7,642.4 782.7,653.1 788.9,659.4 780.8,648.7" fill="#9fff60"/><polygon points="719.7,610.2 727.7,620.9 733.9,620.9 725.8,610.2" fill="#ffbf00"/><polygon points="807.4,678.1 815.5,688.9 821.6,695.1 813.6,685.8" fill="#00ffff"/><polygon points="705.5,610.3 713.5,610.1 719.7,610.2 711.6,610.4" fill="#ffbf00"/><polygon points="660.9,625.8 669,625.6 675.1,618.3 667.1,618.4" fill="#ffdf00"/><polygon points="780.8,648.7 788.9,659.4 795.1,665.6 787,654.9" fill="#80ff80"/><polygon points="740.1,620.9 748.1,631.6 754.3,631.7 746.2,621" fill="#ffef00"/><polygon points="683.2,618.1 691.2,617.9 697.4,610.5 689.4,610.7" fill="#ffbf00"/><polygon points="813.6,685.8 821.6,695.1 827.8,702.7 819.8,693.4" fill="#00efff"/><polygon points="760.5,631.7 768.5,642.4 774.7,642.4 766.6,631.7" fill="#efff10"/><polygon points="787,654.9 795.1,665.6 801.2,671.9 793.2,661.2" fill="#70ff8f"/><polygon points="697.4,610.5 705.5,610.3 711.6,610.4 703.6,610.5" fill="#ffbf00"/><polygon points="725.8,610.2 733.9,620.9 740.1,620.9 732,610.2" fill="#ffaf00"/><polygon points="652.9,626 660.9,625.8 667.1,618.4 659.1,618.6" fill="#ffcf00"/><polygon points="675.1,618.3 683.2,618.1 689.4,610.7 681.3,610.9" fill="#ffaf00"/><polygon points="711.6,610.4 719.7,610.2 725.8,610.2 717.8,610.4" fill="#ffaf00"/><polygon points="793.2,661.2 801.2,671.9 807.4,678.1 799.4,668.8" fill="#60ff9f"/><polygon points="746.2,621 754.3,631.7 760.5,631.7 752.4,621" fill="#ffdf00"/><polygon points="766.6,631.7 774.7,642.4 780.8,648.7 772.8,638" fill="#dfff20"/><polygon points="799.4,668.8 807.4,678.1 813.6,685.8 805.5,676.5" fill="#40ffbf"/><polygon points="689.4,610.7 697.4,610.5 703.6,610.5 695.5,610.7" fill="#ffaf00"/><polygon points="667.1,618.4 675.1,618.3 681.3,610.9 673.3,611.1" fill="#ffaf00"/><polygon points="703.6,610.5 711.6,610.4 717.8,610.4 709.8,610.6" fill="#ffaf00"/><polygon points="772.8,638 780.8,648.7 787,654.9 779,644.2" fill="#cfff30"/><polygon points="732,610.2 740.1,620.9 746.2,621 738.2,610.2" fill="#ff9f00"/><polygon points="805.5,676.5 813.6,685.8 819.8,693.4 811.7,684.1" fill="#30ffcf"/><polygon points="717.8,610.4 725.8,610.2 732,610.2 724,610.4" fill="#ff9f00"/><polygon points="752.4,621 760.5,631.7 766.6,631.7 758.6,621" fill="#ffbf00"/><polygon points="779,644.2 787,654.9 793.2,661.2 785.2,651.9" fill="#afff50"/><polygon points="681.3,610.9 689.4,610.7 695.5,610.7 687.5,610.9" fill="#ff9f00"/><polygon points="659.1,618.6 667.1,618.4 673.3,611.1 665.2,611.3" fill="#ff9f00"/><polygon points="695.5,610.7 703.6,610.5 709.8,610.6 701.7,610.8" fill="#ff9f00"/><polygon points="785.2,651.9 793.2,661.2 799.4,668.8 791.3,659.5" fill="#9fff60"/><polygon points="709.8,610.6 717.8,610.4 724,610.4 715.9,610.6" fill="#ff9f00"/><polygon points="738.2,610.2 746.2,621 752.4,621 744.4,610.3" fill="#ff8f00"/><polygon points="758.6,621 766.6,631.7 772.8,638 764.8,627.3" fill="#ffdf00"/><polygon points="724,610.4 732,610.2 738.2,610.2 730.2,610.4" fill="#ff8f00"/><polygon points="673.3,611.1 681.3,610.9 687.5,610.9 679.5,611.1" fill="#ff9f00"/><polygon points="791.3,659.5 799.4,668.8 805.5,676.5 797.5,667.1" fill="#80ff80"/><polygon points="687.5,610.9 695.5,610.7 701.7,610.8 693.7,610.9" fill="#ff8f00"/><polygon points="764.8,627.3 772.8,638 779,644.2 770.9,634.9" fill="#ffef00"/><polygon points="797.5,667.1 805.5,676.5 811.7,684.1 803.7,674.8" fill="#70ff8f"/><polygon points="701.7,610.8 709.8,610.6 715.9,610.6 707.9,610.8" fill="#ff8f00"/><polygon points="715.9,610.6 724,610.4 730.2,610.4 722.1,610.6" fill="#ff8f00"/><polygon points="770.9,634.9 779,644.2 785.2,651.9 777.1,642.5" fill="#efff10"/><polygon points="744.4,610.3 752.4,621 758.6,621 750.5,610.3" fill="#ff8000"/><polygon points="665.2,611.3 673.3,611.1 679.5,611.1 671.4,605.4" fill="#ff7000"/><polygon points="730.2,610.4 738.2,610.2 744.4,610.3 736.3,610.5" fill="#ff8000"/><polygon points="679.5,611.1 687.5,610.9 693.7,610.9 685.6,605.2" fill="#ff6000"/><polygon points="777.1,642.5 785.2,651.9 791.3,659.5 783.3,650.2" fill="#dfff20"/><polygon points="693.7,610.9 701.7,610.8 707.9,610.8 699.8,605" fill="#ff6000"/><polygon points="750.5,610.3 758.6,621 764.8,627.3 756.7,617.9" fill="#ff9f00"/><polygon points="783.3,650.2 791.3,659.5 797.5,667.1 789.5,657.8" fill="#bfff40"/><polygon points="707.9,610.8 715.9,610.6 722.1,610.6 714.1,604.9" fill="#ff6000"/><polygon points="722.1,610.6 730.2,610.4 736.3,610.5 728.3,604.7" fill="#ff6000"/><polygon points="756.7,617.9 764.8,627.3 770.9,634.9 762.9,625.6" fill="#ffaf00"/><polygon points="789.5,657.8 797.5,667.1 803.7,674.8 795.6,665.4" fill="#afff50"/><polygon points="736.3,610.5 744.4,610.3 750.5,610.3 742.5,604.5" fill="#ff5000"/><polygon points="671.4,605.4 679.5,611.1 685.6,605.2 677.6,599.4" fill="#ff4000"/><polygon points="762.9,625.6 770.9,634.9 777.1,642.5 769.1,633.2" fill="#ffcf00"/><polygon points="685.6,605.2 693.7,610.9 699.8,605 691.8,599.3" fill="#ff3000"/><polygon points="769.1,633.2 777.1,642.5 783.3,650.2 775.2,640.8" fill="#ffdf00"/><polygon points="699.8,605 707.9,610.8 714.1,604.9 706,599.1" fill="#ff3000"/><polygon points="742.5,604.5 750.5,610.3 756.7,617.9 748.7,612.2" fill="#ff7000"/><polygon points="714.1,604.9 722.1,610.6 728.3,604.7 720.2,598.9" fill="#ff3000"/><polygon points="775.2,640.8 783.3,650.2 789.5,657.8 781.4,648.5" fill="#ffff00"/><polygon points="728.3,604.7 736.3,610.5 742.5,604.5 734.5,598.8" fill="#ff3000"/><polygon points="748.7,612.2 756.7,617.9 762.9,625.6 754.9,619.8" fill="#ff8000"/><polygon points="781.4,648.5 789.5,657.8 795.6,665.4 787.6,656.1" fill="#efff10"/><polygon points="754.9,619.8 762.9,625.6 769.1,633.2 761,627.4" fill="#ff9f00"/><polygon points="677.6,599.4 685.6,605.2 691.8,599.3 683.8,593.5" fill="#ff1000"/><polygon points="691.8,599.3 699.8,605 706,599.1 698,593.4" fill="#ff0000"/><polygon points="761,627.4 769.1,633.2 775.2,640.8 767.2,635.1" fill="#ffaf00"/><polygon points="734.5,598.8 742.5,604.5 748.7,612.2 740.6,606.4" fill="#ff4000"/><polygon points="706,599.1 714.1,604.9 720.2,598.9 712.2,593.2" fill="#ff0000"/><polygon points="767.2,635.1 775.2,640.8 781.4,648.5 773.4,642.7" fill="#ffcf00"/><polygon points="720.2,598.9 728.3,604.7 734.5,598.8 726.4,593" fill="#ff0000"/><polygon points="740.6,606.4 748.7,612.2 754.9,619.8 746.8,614.1" fill="#ff6000"/><polygon points="773.4,642.7 781.4,648.5 787.6,656.1 779.6,646.1" fill="#ffcf00"/><polygon points="746.8,614.1 754.9,619.8 761,627.4 753,621.7" fill="#ff7000"/><polygon points="683.8,593.5 691.8,599.3 698,593.4 689.9,587.6" fill="#df0000"/><polygon points="753,621.7 761,627.4 767.2,635.1 759.2,629.3" fill="#ff8f00"/><polygon points="726.4,593 734.5,598.8 740.6,606.4 732.6,600.7" fill="#ff1000"/><polygon points="698,593.4 706,599.1 712.2,593.2 704.2,587.4" fill="#cf0000"/><polygon points="712.2,593.2 720.2,598.9 726.4,593 718.4,587.3" fill="#cf0000"/><polygon points="759.2,629.3 767.2,635.1 773.4,642.7 765.3,632.7" fill="#ff8f00"/><polygon points="732.6,600.7 740.6,606.4 746.8,614.1 738.8,608.3" fill="#ff3000"/><polygon points="738.8,608.3 746.8,614.1 753,621.7 744.9,615.9" fill="#ff4000"/><polygon points="765.3,632.7 773.4,642.7 779.6,646.1 771.5,636.1" fill="#ff8f00"/><polygon points="744.9,615.9 753,621.7 759.2,629.3 751.1,619.3" fill="#ff5000"/><polygon points="718.4,587.3 726.4,593 732.6,600.7 724.5,594.9" fill="#ef0000"/><polygon points="689.9,587.6 698,593.4 704.2,587.4 696.1,581.7" fill="#af0000"/><polygon points="704.2,587.4 712.2,593.2 718.4,587.3 710.3,581.5" fill="#9f0000"/><polygon points="724.5,594.9 732.6,600.7 738.8,608.3 730.7,602.5" fill="#ff0000"/><polygon points="751.1,619.3 759.2,629.3 765.3,632.7 757.3,622.7" fill="#ff5000"/><polygon points="730.7,602.5 738.8,608.3 744.9,615.9 736.9,605.9" fill="#ff0000"/><polygon points="710.3,581.5 718.4,587.3 724.5,594.9 716.5,589.1" fill="#bf0000"/><polygon points="757.3,622.7 765.3,632.7 771.5,636.1 763.5,626.1" fill="#ff5000"/><polygon points="736.9,605.9 744.9,615.9 751.1,619.3 743.1,609.3" fill="#ff0000"/><polygon points="696.1,581.7 704.2,587.4 710.3,581.5 702.3,575.8" fill="#800000"/><polygon points="716.5,589.1 724.5,594.9 730.7,602.5 722.7,592.5" fill="#bf0000"/><polygon points="743.1,609.3 751.1,619.3 757.3,622.7 749.2,612.7" fill="#ff0000"/><polygon points="722.7,592.5 730.7,602.5 736.9,605.9 728.9,595.9" fill="#bf0000"/><polygon points="702.3,575.8 710.3,581.5 716.5,589.1 708.5,579.2" fill="#800000"/><polygon points="749.2,612.7 757.3,622.7 763.5,626.1 755.4,616.1" fill="#ff1000"/><polygon points="728.9,595.9 736.9,605.9 743.1,609.3 735,599.3" fill="#bf0000"/><polygon points="708.5,579.2 716.5,589.1 722.7,592.5 714.6,582.5" fill="#800000"/><polygon points="735,599.3 743.1,609.3 749.2,612.7 741.2,602.7" fill="#bf0000"/><polygon points="714.6,582.5 722.7,592.5 728.9,595.9 720.8,585.9" fill="#800000"/><polygon points="741.2,602.7 749.2,612.7 755.4,616.1 747.4,606.1" fill="#bf0000"/><polygon points="720.8,585.9 728.9,595.9 735,599.3 727,589.3" fill="#800000"/><polygon points="727,589.3 735,599.3 741.2,602.7 733.2,592.7" fill="#800000"/><polygon points="733.2,592.7 741.2,602.7 747.4,606.1 739.3,596.1" fill="#800000"/></g>
<g font-family='"Liberation Sans", sans-serif' font-size="9.9" fill="#111"><text x="715.05" y="798.94" text-anchor="end">−0.6</text><text x="759.59" y="801.19">−0.6</text><text x="678" y="780.47" text-anchor="end">−0.3</text><text x="807.84" y="787.04">−0.3</text><text x="640.95" y="762" text-anchor="end">0</text><text x="856.1" y="772.9">0</text><text x="603.9" y="743.53" text-anchor="end">0.3</text><text x="904.36" y="758.76">0.3</text><text x="566.85" y="725.06" text-anchor="end">0.6</text><text x="952.61" y="744.61">0.6</text><text x="554.5" y="696.38" text-anchor="end">0.2</text><text x="554.5" y="676.35" text-anchor="end">0.4</text><text x="554.5" y="656.32" text-anchor="end">0.6</text><text x="554.5" y="636.29" text-anchor="end">0.8</text><text x="554.5" y="616.25" text-anchor="end">1</text><text x="554.5" y="596.22" text-anchor="end">1.2</text><text x="554.5" y="576.19" text-anchor="end">1.4</text><text x="554.5" y="556.16" text-anchor="end">1.6</text><text x="554.5" y="536.13" text-anchor="end">1.8</text></g>
<text transform="translate(534.1,613) rotate(-90)" text-anchor="middle" font-family='"Liberation Sans", sans-serif' font-size="10.2" fill="#111">RMSE</text>
<text x="640.3" y="811.1" text-anchor="middle" font-family='"Liberation Serif", serif' font-size="13" fill="#111">ρ</text>
<text x="843.5" y="815.8" text-anchor="middle" font-family='"Liberation Serif", serif' font-size="13" fill="#111">λ</text>
<g shape-rendering="crispEdges"><rect x="975.3" y="452.65" width="20.9" height="5.62" fill="#800000"/><rect x="975.3" y="457.97" width="20.9" height="5.62" fill="#8f0000"/><rect x="975.3" y="463.29" width="20.9" height="5.62" fill="#9f0000"/><rect x="975.3" y="468.62" width="20.9" height="5.62" fill="#af0000"/><rect x="975.3" y="473.94" width="20.9" height="5.62" fill="#bf0000"/><rect x="975.3" y="479.26" width="20.9" height="5.62" fill="#cf0000"/><rect x="975.3" y="484.58" width="20.9" height="5.62" fill="#df0000"/><rect x="975.3" y="489.9" width="20.9" height="5.62" fill="#ef0000"/><rect x="975.3" y="495.22" width="20.9" height="5.62" fill="#ff0000"/><rect x="975.3" y="500.55" width="20.9" height="5.62" fill="#ff1000"/><rect x="975.3" y="505.87" width="20.9" height="5.62" fill="#ff2000"/><rect x="975.3" y="511.19" width="20.9" height="5.62" fill="#ff3000"/><rect x="975.3" y="516.51" width="20.9" height="5.62" fill="#ff4000"/><rect x="975.3" y="521.83" width="20.9" height="5.62" fill="#ff5000"/><rect x="975.3" y="527.16" width="20.9" height="5.62" fill="#ff6000"/><rect x="975.3" y="532.48" width="20.9" height="5.62" fill="#ff7000"/><rect x="975.3" y="537.8" width="20.9" height="5.62" fill="#ff8000"/><rect x="975.3" y="543.12" width="20.9" height="5.62" fill="#ff8f00"/><rect x="975.3" y="548.44" width="20.9" height="5.62" fill="#ff9f00"/><rect x="975.3" y="553.77" width="20.9" height="5.62" fill="#ffaf00"/><rect x="975.3" y="559.09" width="20.9" height="5.62" fill="#ffbf00"/><rect x="975.3" y="564.41" width="20.9" height="5.62" fill="#ffcf00"/><rect x="975.3" y="569.73" width="20.9" height="5.62" fill="#ffdf00"/><rect x="975.3" y="575.05" width="20.9" height="5.62" fill="#ffef00"/><rect x="975.3" y="580.38" width="20.9" height="5.62" fill="#ffff00"/><rect x="975.3" y="585.7" width="20.9" height="5.62" fill="#efff10"/><rect x="975.3" y="591.02" width="20.9" height="5.62" fill="#dfff20"/><rect x="975.3" y="596.34" width="20.9" height="5.62" fill="#cfff30"/><rect x="975.3" y="601.66" width="20.9" height="5.62" fill="#bfff40"/><rect x="975.3" y="606.98" width="20.9" height="5.62" fill="#afff50"/><rect x="975.3" y="612.31" width="20.9" height="5.62" fill="#9fff60"/><rect x="975.3" y="617.63" width="20.9" height="5.62" fill="#8fff70"/><rect x="975.3" y="622.95" width="20.9" height="5.62" fill="#80ff80"/><rect x="975.3" y="628.27" width="20.9" height="5.62" fill="#70ff8f"/><rect x="975.3" y="633.59" width="20.9" height="5.62" fill="#60ff9f"/><rect x="975.3" y="638.92" width="20.9" height="5.62" fill="#50ffaf"/><rect x="975.3" y="644.24" width="20.9" height="5.62" fill="#40ffbf"/><rect x="975.3" y="649.56" width="20.9" height="5.62" fill="#30ffcf"/><rect x="975.3" y="654.88" width="20.9" height="5.62" fill="#20ffdf"/><rect x="975.3" y="660.2" width="20.9" height="5.62" fill="#10ffef"/><rect x="975.3" y="665.52" width="20.9" height="5.62" fill="#00ffff"/><rect x="975.3" y="670.85" width="20.9" height="5.62" fill="#00efff"/><rect x="975.3" y="676.17" width="20.9" height="5.62" fill="#00dfff"/><rect x="975.3" y="681.49" width="20.9" height="5.62" fill="#00cfff"/><rect x="975.3" y="686.81" width="20.9" height="5.62" fill="#00bfff"/><rect x="975.3" y="692.13" width="20.9" height="5.62" fill="#00afff"/><rect x="975.3" y="697.46" width="20.9" height="5.62" fill="#009fff"/><rect x="975.3" y="702.78" width="20.9" height="5.62" fill="#008fff"/><rect x="975.3" y="708.1" width="20.9" height="5.62" fill="#0080ff"/><rect x="975.3" y="713.42" width="20.9" height="5.62" fill="#0070ff"/><rect x="975.3" y="718.74" width="20.9" height="5.62" fill="#0060ff"/><rect x="975.3" y="724.07" width="20.9" height="5.62" fill="#0050ff"/><rect x="975.3" y="729.39" width="20.9" height="5.62" fill="#0040ff"/><rect x="975.3" y="734.71" width="20.9" height="5.62" fill="#0030ff"/><rect x="975.3" y="740.03" width="20.9" height="5.62" fill="#0020ff"/><rect x="975.3" y="745.35" width="20.9" height="5.62" fill="#0010ff"/><rect x="975.3" y="750.67" width="20.9" height="5.62" fill="#0000ff"/><rect x="975.3" y="756" width="20.9" height="5.62" fill="#0000ef"/><rect x="975.3" y="761.32" width="20.9" height="5.62" fill="#0000df"/><rect x="975.3" y="766.64" width="20.9" height="5.62" fill="#0000cf"/><rect x="975.3" y="771.96" width="20.9" height="5.62" fill="#0000bf"/><rect x="975.3" y="777.28" width="20.9" height="5.62" fill="#0000af"/><rect x="975.3" y="782.61" width="20.9" height="5.62" fill="#00009f"/><rect x="975.3" y="787.93" width="20.9" height="5.62" fill="#00008f"/></g>
<rect x="975.3" y="452.7" width="20.9" height="340.6" fill="none" stroke="#222" stroke-width="0.9"/>
<g stroke="#111" stroke-width="0.9"><line x1="975.3" y1="773.19" x2="978.9" y2="773.19"/><line x1="992.6" y1="773.19" x2="996.2" y2="773.19"/><line x1="975.3" y1="736.96" x2="978.9" y2="736.96"/><line x1="992.6" y1="736.96" x2="996.2" y2="736.96"/><line x1="975.3" y1="700.72" x2="978.9" y2="700.72"/><line x1="992.6" y1="700.72" x2="996.2" y2="700.72"/><line x1="975.3" y1="664.49" x2="978.9" y2="664.49"/><line x1="992.6" y1="664.49" x2="996.2" y2="664.49"/><line x1="975.3" y1="628.25" x2="978.9" y2="628.25"/><line x1="992.6" y1="628.25" x2="996.2" y2="628.25"/><line x1="975.3" y1="592.02" x2="978.9" y2="592.02"/><line x1="992.6" y1="592.02" x2="996.2" y2="592.02"/><line x1="975.3" y1="555.79" x2="978.9" y2="555.79"/><line x1="992.6" y1="555.79" x2="996.2" y2="555.79"/><line x1="975.3" y1="519.55" x2="978.9" y2="519.55"/><line x1="992.6" y1="519.55" x2="996.2" y2="519.55"/><line x1="975.3" y1="483.32" x2="978.9" y2="483.32"/><line x1="992.6" y1="483.32" x2="996.2" y2="483.32"/></g>
<clipPath id="cbtd"><rect x="996.2" y="452.9" width="60" height="360"/></clipPath>
<g clip-path="url(#cbtd)" font-family='"Liberation Sans", sans-serif' font-size="9.9" fill="#111"><text x="999.4" y="776.79">0.2</text><text x="999.4" y="740.56">0.4</text><text x="999.4" y="704.32">0.6</text><text x="999.4" y="668.09">0.8</text><text x="999.4" y="631.85">1</text><text x="999.4" y="595.62">1.2</text><text x="999.4" y="559.39">1.4</text><text x="999.4" y="523.15">1.6</text><text x="999.4" y="486.92">1.8</text></g>
<text x="781.3" y="862" text-anchor="middle" font-family='"Liberation Serif", serif' font-size="27.2" fill="#111">(<tspan font-weight="bold">d</tspan>)</text></g>
<g><g stroke="#000" stroke-opacity="0.62" stroke-width="0.9" stroke-dasharray="1.1 3.3" fill="none"><line x1="231.09" y1="1228.69" x2="58.19" y2="1142.49"/><line x1="202.65" y1="1227.24" x2="427.85" y2="1161.24"/><line x1="58.19" y1="1142.49" x2="58.19" y2="954.19"/><line x1="427.85" y1="1161.24" x2="427.85" y2="972.94"/><line x1="279.34" y1="1214.54" x2="106.44" y2="1128.34"/><line x1="165.6" y1="1208.77" x2="390.8" y2="1142.77"/><line x1="106.44" y1="1128.34" x2="106.44" y2="940.04"/><line x1="390.8" y1="1142.77" x2="390.8" y2="954.47"/><line x1="327.6" y1="1200.4" x2="154.7" y2="1114.2"/><line x1="128.55" y1="1190.3" x2="353.75" y2="1124.3"/><line x1="154.7" y1="1114.2" x2="154.7" y2="925.9"/><line x1="353.75" y1="1124.3" x2="353.75" y2="936"/><line x1="375.86" y1="1186.26" x2="202.96" y2="1100.06"/><line x1="91.5" y1="1171.83" x2="316.7" y2="1105.83"/><line x1="202.96" y1="1100.06" x2="202.96" y2="911.76"/><line x1="316.7" y1="1105.83" x2="316.7" y2="917.53"/><line x1="424.11" y1="1172.11" x2="251.21" y2="1085.91"/><line x1="54.45" y1="1153.36" x2="279.65" y2="1087.36"/><line x1="251.21" y1="1085.91" x2="251.21" y2="897.61"/><line x1="279.65" y1="1087.36" x2="279.65" y2="899.06"/><line x1="42.1" y1="1129.96" x2="267.3" y2="1063.96"/><line x1="267.3" y1="1063.96" x2="440.2" y2="1150.16"/><line x1="42.1" y1="1111.51" x2="267.3" y2="1045.51"/><line x1="267.3" y1="1045.51" x2="440.2" y2="1131.71"/><line x1="42.1" y1="1093.06" x2="267.3" y2="1027.06"/><line x1="267.3" y1="1027.06" x2="440.2" y2="1113.26"/><line x1="42.1" y1="1074.6" x2="267.3" y2="1008.6"/><line x1="267.3" y1="1008.6" x2="440.2" y2="1094.8"/><line x1="42.1" y1="1056.15" x2="267.3" y2="990.15"/><line x1="267.3" y1="990.15" x2="440.2" y2="1076.35"/><line x1="42.1" y1="1037.7" x2="267.3" y2="971.7"/><line x1="267.3" y1="971.7" x2="440.2" y2="1057.9"/><line x1="42.1" y1="1019.24" x2="267.3" y2="953.24"/><line x1="267.3" y1="953.24" x2="440.2" y2="1039.44"/><line x1="42.1" y1="1000.79" x2="267.3" y2="934.79"/><line x1="267.3" y1="934.79" x2="440.2" y2="1020.99"/><line x1="42.1" y1="982.34" x2="267.3" y2="916.34"/><line x1="267.3" y1="916.34" x2="440.2" y2="1002.54"/><line x1="42.1" y1="963.88" x2="267.3" y2="897.88"/><line x1="267.3" y1="897.88" x2="440.2" y2="984.08"/></g>
<g stroke="#1a1a1a" stroke-width="0.95" fill="none"><polyline points="42.1,958.9 42.1,1147.2 215,1233.4 440.2,1167.4"/><line x1="202.65" y1="1227.24" x2="197.08" y2="1228.87"/><line x1="231.09" y1="1228.69" x2="236.28" y2="1231.27"/><line x1="165.6" y1="1208.77" x2="160.03" y2="1210.4"/><line x1="279.34" y1="1214.54" x2="284.53" y2="1217.13"/><line x1="128.55" y1="1190.3" x2="122.98" y2="1191.93"/><line x1="327.6" y1="1200.4" x2="332.79" y2="1202.99"/><line x1="91.5" y1="1171.83" x2="85.93" y2="1173.46"/><line x1="375.86" y1="1186.26" x2="381.05" y2="1188.84"/><line x1="54.45" y1="1153.36" x2="48.88" y2="1154.99"/><line x1="424.11" y1="1172.11" x2="429.3" y2="1174.7"/><line x1="42.1" y1="1129.96" x2="36.91" y2="1127.38"/><line x1="42.1" y1="1111.51" x2="36.91" y2="1108.92"/><line x1="42.1" y1="1093.06" x2="36.91" y2="1090.47"/><line x1="42.1" y1="1074.6" x2="36.91" y2="1072.02"/><line x1="42.1" y1="1056.15" x2="36.91" y2="1053.56"/><line x1="42.1" y1="1037.7" x2="36.91" y2="1035.11"/><line x1="42.1" y1="1019.24" x2="36.91" y2="1016.66"/><line x1="42.1" y1="1000.79" x2="36.91" y2="998.2"/><line x1="42.1" y1="982.34" x2="36.91" y2="979.75"/><line x1="42.1" y1="963.88" x2="36.91" y2="961.29"/></g>
<clipPath id="clipe"><rect x="42.1" y="892.7" width="398.1" height="340.9"/></clipPath><g clip-path="url(#clipe)" fill="none" stroke-width="1.05" stroke-linecap="round"><path d="M105.5 1164L100.1 1164.6M105.5 1164L110.8 1163.5M121.5 1162.5L110.8 1163.5M130.1 1161.7L121.5 1162.5M130.1 1161.7L132.2 1161.5M142.6 1160.3L132.2 1161.5M153 1159.1L142.6 1160.3M157.3 1158.6L153 1159.1M157.3 1158.6L163.4 1157.9M174 1158.6L163.4 1157.9M174 1158.6L178.1 1158.9M187.5 1159.5L178.1 1158.9M187.5 1159.5L192.9 1159.9M201.1 1160.5L192.9 1159.9M201.1 1160.5L207.6 1160.9M214.7 1161.4L207.6 1160.9M214.7 1161.4L222.4 1161.9M228.3 1162.3L222.4 1161.9M228.3 1162.3L235.8 1165M235.8 1165L243.3 1167.6M243.3 1167.6L250.8 1170.3M250.8 1170.3L255.6 1172.1M258.3 1173L255.6 1172.1M258.3 1173L265.8 1175.7M265.8 1175.7L274.9 1177.9M274.9 1177.9L279.5 1181.5M279.5 1181.5L284 1185M288.4 1188.4L288.6 1188.6M284 1185L288.4 1188.4M288.6 1188.6L293.2 1192.1M293.2 1192.1L296 1196.2M295.7 1198.4L295.4 1201.3M296 1196.2L295.7 1198.4" stroke="#0050ff"/><path d="M132.4 1175.7L123.6 1176.3M132.4 1175.7L134.9 1175.6M146.2 1174.8L134.9 1175.6M153.8 1174.3L146.2 1174.8M153.8 1174.3L157.4 1174.1M168.7 1173.3L157.4 1174.1M175.3 1172.9L168.7 1173.3M175.3 1172.9L180 1172.6M190.8 1171.6L180 1172.6M195.4 1171.9L190.8 1171.6M195.4 1171.9L204.3 1174.2M204.3 1174.2L212 1175.8M214 1176.2L212 1175.8M214 1176.2L223.8 1178.3M223.8 1178.3L233.5 1180.3M233.5 1180.3L234 1180.4M243.2 1182.3L234 1180.4M243.2 1182.3L253 1184.4M253 1184.4L257.5 1187.9M257.5 1187.9L262.1 1191.5M263.6 1195.2L263.5 1195.9M262.1 1191.5L263.6 1195.2M263.5 1195.9L262.9 1201M262.9 1201.2L262.4 1206.1M262.9 1201L262.9 1201.2M262.2 1207.2L264.2 1210.4M262.4 1206.1L262.2 1207.2" stroke="#10ffef"/><path d="M144.6 1186.8L144.6 1186.8M144.6 1186.8L158.5 1187.3M159.3 1187.4L158.5 1187.3M159.3 1187.4L172.4 1187.9M173.9 1188L172.4 1187.9M173.9 1188L186.3 1188.5M188.6 1188.6L186.3 1188.5M188.6 1188.6L200.2 1189M203.2 1189.2L200.2 1189M203.2 1189.2L214.1 1189.6M217.9 1189.8L214.1 1189.6M217.9 1189.8L228 1190.2M231 1190.8L228 1190.2M231.5 1191.9L232.6 1195.2M231 1190.8L231.5 1191.9M234.1 1199.6L234.2 1199.7M232.6 1195.2L234.1 1199.6M234.2 1199.7L235.7 1204.1M236.8 1207.3L237.5 1208.4M235.7 1204.1L236.8 1207.3M237.5 1208.4L241.9 1212.1M241.9 1212.1L246.2 1215.7" stroke="#dfff20"/><path d="M164.8 1195.6L162 1195.4M164.8 1195.6L176 1196.1M179.2 1196.2L176 1196.1M179.2 1196.2L190.1 1196.7M193.6 1196.9L190.1 1196.7M193.6 1196.9L204.2 1197.4M208 1197.6L204.2 1197.4M208.7 1199.6L209.5 1202M208 1197.6L208.7 1199.6M209.5 1202L211 1206.4M212.5 1207.9L215.2 1210.1M211 1206.4L212.5 1207.9M215.2 1210.1L219.5 1213.7M219.5 1213.7L223.9 1217.3M223.9 1217.3L228.2 1221" stroke="#ff6000"/><path d="M184.9 1204.3L179.3 1204.1M184.9 1204.3L188.5 1208.1M188.5 1208.1L190 1209.4" stroke="#8f0000"/></g>
<g stroke="#000" stroke-width="0.85" stroke-linejoin="round"><polygon points="255.5,1089.3 263.6,1086.5 269.7,1090.2 261.7,1093.1" fill="#00009f"/><polygon points="247.5,1092.2 255.5,1089.3 261.7,1093.1 253.7,1096" fill="#00009f"/><polygon points="261.7,1093.1 269.7,1090.2 275.9,1094 267.9,1096.9" fill="#00009f"/><polygon points="239.4,1095.1 247.5,1092.2 253.7,1096 245.6,1098.9" fill="#00009f"/><polygon points="253.7,1096 261.7,1093.1 267.9,1096.9 259.8,1099.7" fill="#00009f"/><polygon points="267.9,1096.9 275.9,1094 282.1,1097.7 274,1100.6" fill="#00009f"/><polygon points="231.4,1098 239.4,1095.1 245.6,1098.9 237.6,1101.7" fill="#00008f"/><polygon points="245.6,1098.9 253.7,1096 259.8,1099.7 251.8,1102.6" fill="#00008f"/><polygon points="259.8,1099.7 267.9,1096.9 274,1100.6 266,1103.5" fill="#00008f"/><polygon points="274,1100.6 282.1,1097.7 288.3,1101.5 280.2,1104.4" fill="#00008f"/><polygon points="223.4,1100.9 231.4,1098 237.6,1101.7 229.5,1104.6" fill="#00008f"/><polygon points="237.6,1101.7 245.6,1098.9 251.8,1102.6 243.7,1105.5" fill="#00008f"/><polygon points="251.8,1102.6 259.8,1099.7 266,1103.5 258,1106.4" fill="#00008f"/><polygon points="266,1103.5 274,1100.6 280.2,1104.4 272.2,1107.2" fill="#00008f"/><polygon points="215.3,1103.7 223.4,1100.9 229.5,1104.6 221.5,1107.1" fill="#00008f"/><polygon points="280.2,1104.4 288.3,1101.5 294.4,1105.2 286.4,1108.1" fill="#00008f"/><polygon points="229.5,1104.6 237.6,1101.7 243.7,1105.5 235.7,1108" fill="#00008f"/><polygon points="243.7,1105.5 251.8,1102.6 258,1106.4 249.9,1108.9" fill="#00008f"/><polygon points="258,1106.4 266,1103.5 272.2,1107.2 264.1,1109.8" fill="#00008f"/><polygon points="207.3,1106.3 215.3,1103.7 221.5,1107.1 213.4,1109.7" fill="#00008f"/><polygon points="272.2,1107.2 280.2,1104.4 286.4,1108.1 278.4,1110.6" fill="#00008f"/><polygon points="221.5,1107.1 229.5,1104.6 235.7,1108 227.7,1110.5" fill="#00008f"/><polygon points="286.4,1108.1 294.4,1105.2 300.6,1109 292.6,1111.5" fill="#00008f"/><polygon points="235.7,1108 243.7,1105.5 249.9,1108.9 241.9,1111.4" fill="#00008f"/><polygon points="249.9,1108.9 258,1106.4 264.1,1109.8 256.1,1112.3" fill="#00008f"/><polygon points="199.2,1108.9 207.3,1106.3 213.4,1109.7 205.4,1112.3" fill="#00008f"/><polygon points="264.1,1109.8 272.2,1107.2 278.4,1110.6 270.3,1113.1" fill="#00008f"/><polygon points="213.4,1109.7 221.5,1107.1 227.7,1110.5 219.6,1113.1" fill="#00008f"/><polygon points="278.4,1110.6 286.4,1108.1 292.6,1111.5 284.5,1114" fill="#00008f"/><polygon points="227.7,1110.5 235.7,1108 241.9,1111.4 233.8,1113.9" fill="#00008f"/><polygon points="292.6,1111.5 300.6,1109 306.8,1112.2 298.7,1114.7" fill="#00008f"/><polygon points="241.9,1111.4 249.9,1108.9 256.1,1112.3 248.1,1114.8" fill="#00008f"/><polygon points="191.2,1111.6 199.2,1108.9 205.4,1112.3 197.4,1114.9" fill="#00008f"/><polygon points="256.1,1112.3 264.1,1109.8 270.3,1113.1 262.3,1115.7" fill="#00008f"/><polygon points="205.4,1112.3 213.4,1109.7 219.6,1113.1 211.6,1115.7" fill="#00008f"/><polygon points="270.3,1113.1 278.4,1110.6 284.5,1114 276.5,1116.5" fill="#00008f"/><polygon points="219.6,1113.1 227.7,1110.5 233.8,1113.9 225.8,1116.5" fill="#00008f"/><polygon points="284.5,1114 292.6,1111.5 298.7,1114.7 290.7,1117.2" fill="#00008f"/><polygon points="233.8,1113.9 241.9,1111.4 248.1,1114.8 240,1117.3" fill="#00008f"/><polygon points="183.1,1114.2 191.2,1111.6 197.4,1114.9 189.3,1117.5" fill="#00008f"/><polygon points="298.7,1114.7 306.8,1112.2 313,1115.5 304.9,1118" fill="#00008f"/><polygon points="248.1,1114.8 256.1,1112.3 262.3,1115.7 254.2,1118.2" fill="#00008f"/><polygon points="197.4,1114.9 205.4,1112.3 211.6,1115.7 203.5,1118.3" fill="#00008f"/><polygon points="262.3,1115.7 270.3,1113.1 276.5,1116.5 268.4,1119" fill="#00008f"/><polygon points="211.6,1115.7 219.6,1113.1 225.8,1116.5 217.7,1119.1" fill="#00008f"/><polygon points="276.5,1116.5 284.5,1114 290.7,1117.2 282.7,1119.8" fill="#00008f"/><polygon points="225.8,1116.5 233.8,1113.9 240,1117.3 232,1119.9" fill="#00008f"/><polygon points="175.1,1116.8 183.1,1114.2 189.3,1117.5 181.3,1120.1" fill="#00008f"/><polygon points="290.7,1117.2 298.7,1114.7 304.9,1118 296.9,1120.5" fill="#00008f"/><polygon points="240,1117.3 248.1,1114.8 254.2,1118.2 246.2,1120.7" fill="#00008f"/><polygon points="189.3,1117.5 197.4,1114.9 203.5,1118.3 195.5,1120.9" fill="#00008f"/><polygon points="304.9,1118 313,1115.5 319.1,1118.7 311.1,1121.2" fill="#00008f"/><polygon points="254.2,1118.2 262.3,1115.7 268.4,1119 260.4,1121.5" fill="#00008f"/><polygon points="203.5,1118.3 211.6,1115.7 217.7,1119.1 209.7,1121.7" fill="#00008f"/><polygon points="268.4,1119 276.5,1116.5 282.7,1119.8 274.6,1122.3" fill="#00008f"/><polygon points="217.7,1119.1 225.8,1116.5 232,1119.9 223.9,1122.5" fill="#00008f"/><polygon points="167.1,1119.4 175.1,1116.8 181.3,1120.1 173.2,1121.9" fill="#00008f"/><polygon points="282.7,1119.8 290.7,1117.2 296.9,1120.5 288.8,1123" fill="#00008f"/><polygon points="232,1119.9 240,1117.3 246.2,1120.7 238.1,1123.3" fill="#00008f"/><polygon points="181.3,1120.1 189.3,1117.5 195.5,1120.9 187.4,1122.7" fill="#00008f"/><polygon points="296.9,1120.5 304.9,1118 311.1,1121.2 303.1,1123.7" fill="#00008f"/><polygon points="246.2,1120.7 254.2,1118.2 260.4,1121.5 252.4,1124.1" fill="#00008f"/><polygon points="195.5,1120.9 203.5,1118.3 209.7,1121.7 201.7,1123.5" fill="#00008f"/><polygon points="311.1,1121.2 319.1,1118.7 325.3,1121.9 317.3,1124.4" fill="#00008f"/><polygon points="260.4,1121.5 268.4,1119 274.6,1122.3 266.6,1124.8" fill="#00008f"/><polygon points="209.7,1121.7 217.7,1119.1 223.9,1122.5 215.9,1124.2" fill="#00008f"/><polygon points="159,1121.6 167.1,1119.4 173.2,1121.9 165.2,1124.2" fill="#00008f"/><polygon points="274.6,1122.3 282.7,1119.8 288.8,1123 280.8,1125.5" fill="#00008f"/><polygon points="223.9,1122.5 232,1119.9 238.1,1123.3 230.1,1125" fill="#00008f"/><polygon points="173.2,1121.9 181.3,1120.1 187.4,1122.7 179.4,1124.4" fill="#00008f"/><polygon points="288.8,1123 296.9,1120.5 303.1,1123.7 295,1126.2" fill="#00008f"/><polygon points="238.1,1123.3 246.2,1120.7 252.4,1124.1 244.3,1125.8" fill="#00008f"/><polygon points="187.4,1122.7 195.5,1120.9 201.7,1123.5 193.6,1125.2" fill="#00008f"/><polygon points="303.1,1123.7 311.1,1121.2 317.3,1124.4 309.2,1126.9" fill="#00008f"/><polygon points="252.4,1124.1 260.4,1121.5 266.6,1124.8 258.5,1127.1" fill="#00008f"/><polygon points="201.7,1123.5 209.7,1121.7 215.9,1124.2 207.8,1126" fill="#00008f"/><polygon points="317.3,1124.4 325.3,1121.9 331.5,1125.2 323.4,1127.7" fill="#00008f"/><polygon points="151,1123.9 159,1121.6 165.2,1124.2 157.1,1126.4" fill="#00008f"/><polygon points="266.6,1124.8 274.6,1122.3 280.8,1125.5 272.8,1127.9" fill="#00008f"/><polygon points="215.9,1124.2 223.9,1122.5 230.1,1125 222.1,1126.8" fill="#00008f"/><polygon points="280.8,1125.5 288.8,1123 295,1126.2 287,1128.6" fill="#00008f"/><polygon points="165.2,1124.2 173.2,1121.9 179.4,1124.4 171.4,1126.7" fill="#00008f"/><polygon points="230.1,1125 238.1,1123.3 244.3,1125.8 236.3,1127.5" fill="#00008f"/><polygon points="295,1126.2 303.1,1123.7 309.2,1126.9 301.2,1129.3" fill="#00008f"/><polygon points="179.4,1124.4 187.4,1122.7 193.6,1125.2 185.6,1126.9" fill="#00008f"/><polygon points="244.3,1125.8 252.4,1124.1 258.5,1127.1 250.5,1128.9" fill="#00008f"/><polygon points="309.2,1126.9 317.3,1124.4 323.4,1127.7 315.4,1130" fill="#00008f"/><polygon points="193.6,1125.2 201.7,1123.5 207.8,1126 199.8,1127.7" fill="#00008f"/><polygon points="142.9,1126.2 151,1123.9 157.1,1126.4 149.1,1128.7" fill="#00008f"/><polygon points="258.5,1127.1 266.6,1124.8 272.8,1127.9 264.7,1130.2" fill="#00008f"/><polygon points="323.4,1127.7 331.5,1125.2 337.7,1128.4 329.6,1130.7" fill="#00008f"/><polygon points="207.8,1126 215.9,1124.2 222.1,1126.8 214,1128.5" fill="#00008f"/><polygon points="272.8,1127.9 280.8,1125.5 287,1128.6 278.9,1130.9" fill="#00008f"/><polygon points="157.1,1126.4 165.2,1124.2 171.4,1126.7 163.3,1128.9" fill="#00008f"/><polygon points="222.1,1126.8 230.1,1125 236.3,1127.5 228.2,1129.3" fill="#00008f"/><polygon points="287,1128.6 295,1126.2 301.2,1129.3 293.1,1131.7" fill="#00008f"/><polygon points="171.4,1126.7 179.4,1124.4 185.6,1126.9 177.5,1129.2" fill="#00008f"/><polygon points="236.3,1127.5 244.3,1125.8 250.5,1128.9 242.4,1130.6" fill="#00008f"/><polygon points="301.2,1129.3 309.2,1126.9 315.4,1130 307.4,1132.4" fill="#00008f"/><polygon points="134.9,1128.4 142.9,1126.2 149.1,1128.7 141.1,1130.9" fill="#00008f"/><polygon points="250.5,1128.9 258.5,1127.1 264.7,1130.2 256.7,1132" fill="#00008f"/><polygon points="185.6,1126.9 193.6,1125.2 199.8,1127.7 191.8,1129.5" fill="#00009f"/><polygon points="315.4,1130 323.4,1127.7 329.6,1130.7 321.6,1133.1" fill="#00008f"/><polygon points="264.7,1130.2 272.8,1127.9 278.9,1130.9 270.9,1133.3" fill="#00008f"/><polygon points="199.8,1127.7 207.8,1126 214,1128.5 206,1130.2" fill="#00009f"/><polygon points="149.1,1128.7 157.1,1126.4 163.3,1128.9 155.3,1131.2" fill="#00008f"/><polygon points="329.6,1130.7 337.7,1128.4 343.8,1131.5 335.8,1133.8" fill="#00008f"/><polygon points="278.9,1130.9 287,1128.6 293.1,1131.7 285.1,1134" fill="#00008f"/><polygon points="214,1128.5 222.1,1126.8 228.2,1129.3 220.2,1131" fill="#00009f"/><polygon points="163.3,1128.9 171.4,1126.7 177.5,1129.2 169.5,1131.5" fill="#00008f"/><polygon points="293.1,1131.7 301.2,1129.3 307.4,1132.4 299.3,1134.7" fill="#00008f"/><polygon points="228.2,1129.3 236.3,1127.5 242.4,1130.6 234.4,1132.4" fill="#00008f"/><polygon points="126.8,1130.7 134.9,1128.4 141.1,1130.9 133,1133.2" fill="#00008f"/><polygon points="177.5,1129.2 185.6,1126.9 191.8,1129.5 183.7,1131.7" fill="#00009f"/><polygon points="242.4,1130.6 250.5,1128.9 256.7,1132 248.6,1133.7" fill="#00008f"/><polygon points="307.4,1132.4 315.4,1130 321.6,1133.1 313.5,1135.5" fill="#00008f"/><polygon points="256.7,1132 264.7,1130.2 270.9,1133.3 262.8,1135" fill="#00008f"/><polygon points="141.1,1130.9 149.1,1128.7 155.3,1131.2 147.2,1133.5" fill="#00008f"/><polygon points="191.8,1129.5 199.8,1127.7 206,1130.2 197.9,1132" fill="#00009f"/><polygon points="321.6,1133.1 329.6,1130.7 335.8,1133.8 327.8,1136.2" fill="#00008f"/><polygon points="270.9,1133.3 278.9,1130.9 285.1,1134 277.1,1136.4" fill="#00008f"/><polygon points="206,1130.2 214,1128.5 220.2,1131 212.1,1132.8" fill="#00009f"/><polygon points="155.3,1131.2 163.3,1128.9 169.5,1131.5 161.4,1133.7" fill="#00008f"/><polygon points="335.8,1133.8 343.8,1131.5 350,1134.5 342,1136.9" fill="#00008f"/><polygon points="285.1,1134 293.1,1131.7 299.3,1134.7 291.3,1137.1" fill="#00008f"/><polygon points="220.2,1131 228.2,1129.3 234.4,1132.4 226.4,1134.1" fill="#00009f"/><polygon points="169.5,1131.5 177.5,1129.2 183.7,1131.7 175.7,1134" fill="#00009f"/><polygon points="118.8,1132.9 126.8,1130.7 133,1133.2 125,1132" fill="#00009f"/><polygon points="299.3,1134.7 307.4,1132.4 313.5,1135.5 305.5,1137.8" fill="#00008f"/><polygon points="234.4,1132.4 242.4,1130.6 248.6,1133.7 240.6,1135.4" fill="#00008f"/><polygon points="248.6,1133.7 256.7,1132 262.8,1135 254.8,1136.8" fill="#00008f"/><polygon points="183.7,1131.7 191.8,1129.5 197.9,1132 189.9,1134.3" fill="#00009f"/><polygon points="313.5,1135.5 321.6,1133.1 327.8,1136.2 319.7,1138.5" fill="#00008f"/><polygon points="133,1133.2 141.1,1130.9 147.2,1133.5 139.2,1132.3" fill="#0000af"/><polygon points="262.8,1135 270.9,1133.3 277.1,1136.4 269,1138.1" fill="#00008f"/><polygon points="327.8,1136.2 335.8,1133.8 342,1136.9 333.9,1139.3" fill="#00008f"/><polygon points="197.9,1132 206,1130.2 212.1,1132.8 204.1,1134.5" fill="#00009f"/><polygon points="147.2,1133.5 155.3,1131.2 161.4,1133.7 153.4,1132.6" fill="#0000af"/><polygon points="277.1,1136.4 285.1,1134 291.3,1137.1 283.2,1139.5" fill="#00008f"/><polygon points="212.1,1132.8 220.2,1131 226.4,1134.1 218.3,1135.8" fill="#00009f"/><polygon points="342,1136.9 350,1134.5 356.2,1137.6 348.1,1140" fill="#00008f"/><polygon points="291.3,1137.1 299.3,1134.7 305.5,1137.8 297.5,1140.2" fill="#00008f"/><polygon points="161.4,1133.7 169.5,1131.5 175.7,1134 167.6,1132.8" fill="#0000af"/><polygon points="110.8,1135.4 118.8,1132.9 125,1132 116.9,1134.5" fill="#00009f"/><polygon points="226.4,1134.1 234.4,1132.4 240.6,1135.4 232.5,1137.2" fill="#00009f"/><polygon points="305.5,1137.8 313.5,1135.5 319.7,1138.5 311.7,1140.9" fill="#00008f"/><polygon points="240.6,1135.4 248.6,1133.7 254.8,1136.8 246.8,1138.5" fill="#00008f"/><polygon points="175.7,1134 183.7,1131.7 189.9,1134.3 181.8,1133.1" fill="#0000af"/><polygon points="254.8,1136.8 262.8,1135 269,1138.1 261,1139.9" fill="#00008f"/><polygon points="319.7,1138.5 327.8,1136.2 333.9,1139.3 325.9,1141.6" fill="#00008f"/><polygon points="125,1132 133,1133.2 139.2,1132.3 131.1,1131.1" fill="#0000bf"/><polygon points="269,1138.1 277.1,1136.4 283.2,1139.5 275.2,1141.2" fill="#00008f"/><polygon points="189.9,1134.3 197.9,1132 204.1,1134.5 196.1,1133.3" fill="#0000af"/><polygon points="333.9,1139.3 342,1136.9 348.1,1140 340.1,1142.3" fill="#00008f"/><polygon points="283.2,1139.5 291.3,1137.1 297.5,1140.2 289.4,1142.5" fill="#00008f"/><polygon points="102.7,1137.8 110.8,1135.4 116.9,1134.5 108.9,1136.9" fill="#00009f"/><polygon points="139.2,1132.3 147.2,1133.5 153.4,1132.6 145.4,1131.4" fill="#0000bf"/><polygon points="204.1,1134.5 212.1,1132.8 218.3,1135.8 210.3,1134.8" fill="#0000af"/><polygon points="348.1,1140 356.2,1137.6 362.4,1140.7 354.3,1143.1" fill="#00008f"/><polygon points="218.3,1135.8 226.4,1134.1 232.5,1137.2 224.5,1136.1" fill="#0000af"/><polygon points="297.5,1140.2 305.5,1137.8 311.7,1140.9 303.6,1143.3" fill="#00008f"/><polygon points="153.4,1132.6 161.4,1133.7 167.6,1132.8 159.6,1131.6" fill="#0000bf"/><polygon points="232.5,1137.2 240.6,1135.4 246.8,1138.5 238.7,1137.4" fill="#0000af"/><polygon points="311.7,1140.9 319.7,1138.5 325.9,1141.6 317.8,1144" fill="#00008f"/><polygon points="246.8,1138.5 254.8,1136.8 261,1139.9 252.9,1138.8" fill="#00009f"/><polygon points="167.6,1132.8 175.7,1134 181.8,1133.1 173.8,1131.9" fill="#0000bf"/><polygon points="325.9,1141.6 333.9,1139.3 340.1,1142.3 332.1,1144.7" fill="#00008f"/><polygon points="261,1139.9 269,1138.1 275.2,1141.2 267.1,1140.1" fill="#00009f"/><polygon points="116.9,1134.5 125,1132 131.1,1131.1 123.1,1133.6" fill="#0000bf"/><polygon points="94.7,1140.3 102.7,1137.8 108.9,1136.9 100.8,1139.4" fill="#00009f"/><polygon points="275.2,1141.2 283.2,1139.5 289.4,1142.5 281.4,1141.4" fill="#00009f"/><polygon points="181.8,1133.1 189.9,1134.3 196.1,1133.3 188,1132.2" fill="#0000bf"/><polygon points="340.1,1142.3 348.1,1140 354.3,1143.1 346.3,1145.4" fill="#00008f"/><polygon points="289.4,1142.5 297.5,1140.2 303.6,1143.3 295.6,1145.6" fill="#00008f"/><polygon points="196.1,1133.3 204.1,1134.5 210.3,1134.8 202.2,1133.6" fill="#0000bf"/><polygon points="354.3,1143.1 362.4,1140.7 368.5,1143.8 360.5,1146.1" fill="#00008f"/><polygon points="131.1,1131.1 139.2,1132.3 145.4,1131.4 137.3,1130.2" fill="#0000cf"/><polygon points="303.6,1143.3 311.7,1140.9 317.8,1144 309.8,1146.3" fill="#00008f"/><polygon points="210.3,1134.8 218.3,1135.8 224.5,1136.1 216.5,1135" fill="#0000bf"/><polygon points="224.5,1136.1 232.5,1137.2 238.7,1137.4 230.7,1136.3" fill="#0000bf"/><polygon points="317.8,1144 325.9,1141.6 332.1,1144.7 324,1147.1" fill="#00008f"/><polygon points="108.9,1136.9 116.9,1134.5 123.1,1133.6 115.1,1136" fill="#0000bf"/><polygon points="145.4,1131.4 153.4,1132.6 159.6,1131.6 151.5,1130.5" fill="#0000cf"/><polygon points="86.6,1142.7 94.7,1140.3 100.8,1139.4 92.8,1141.8" fill="#00009f"/><polygon points="238.7,1137.4 246.8,1138.5 252.9,1138.8 244.9,1137.7" fill="#0000af"/><polygon points="332.1,1144.7 340.1,1142.3 346.3,1145.4 338.2,1147.8" fill="#00008f"/><polygon points="159.6,1131.6 167.6,1132.8 173.8,1131.9 165.8,1130.7" fill="#0000cf"/><polygon points="252.9,1138.8 261,1139.9 267.1,1140.1 259.1,1139" fill="#0000af"/><polygon points="346.3,1145.4 354.3,1143.1 360.5,1146.1 352.5,1148.5" fill="#00008f"/><polygon points="267.1,1140.1 275.2,1141.2 281.4,1141.4 273.3,1140.4" fill="#0000af"/><polygon points="281.4,1141.4 289.4,1142.5 295.6,1145.6 287.5,1144.5" fill="#00009f"/><polygon points="295.6,1145.6 303.6,1143.3 309.8,1146.3 301.8,1148.7" fill="#00008f"/><polygon points="173.8,1131.9 181.8,1133.1 188,1132.2 180,1131" fill="#0000df"/><polygon points="123.1,1133.6 131.1,1131.1 137.3,1130.2 129.3,1132.6" fill="#0000cf"/><polygon points="360.5,1146.1 368.5,1143.8 374.7,1146.9 366.7,1149.2" fill="#00008f"/><polygon points="100.8,1139.4 108.9,1136.9 115.1,1136 107,1138.5" fill="#0000bf"/><polygon points="309.8,1146.3 317.8,1144 324,1147.1 316,1149.4" fill="#00008f"/><polygon points="188,1132.2 196.1,1133.3 202.2,1133.6 194.2,1132.4" fill="#0000cf"/><polygon points="78.6,1145.2 86.6,1142.7 92.8,1141.8 84.8,1144.3" fill="#00009f"/><polygon points="202.2,1133.6 210.3,1134.8 216.5,1135 208.4,1133.8" fill="#0000cf"/><polygon points="324,1147.1 332.1,1144.7 338.2,1147.8 330.2,1150.1" fill="#00008f"/><polygon points="216.5,1135 224.5,1136.1 230.7,1136.3 222.6,1135.3" fill="#0000cf"/><polygon points="137.3,1130.2 145.4,1131.4 151.5,1130.5 143.5,1129.3" fill="#0000df"/><polygon points="338.2,1147.8 346.3,1145.4 352.5,1148.5 344.4,1150.9" fill="#00008f"/><polygon points="230.7,1136.3 238.7,1137.4 244.9,1137.7 236.8,1136.6" fill="#0000cf"/><polygon points="115.1,1136 123.1,1133.6 129.3,1132.6 121.2,1135.1" fill="#0000cf"/><polygon points="151.5,1130.5 159.6,1131.6 165.8,1130.7 157.7,1129.5" fill="#0000ef"/><polygon points="244.9,1137.7 252.9,1138.8 259.1,1139 251.1,1137.9" fill="#0000bf"/><polygon points="352.5,1148.5 360.5,1146.1 366.7,1149.2 358.6,1151.6" fill="#00008f"/><polygon points="287.5,1144.5 295.6,1145.6 301.8,1148.7 293.7,1147.6" fill="#00009f"/><polygon points="92.8,1141.8 100.8,1139.4 107,1138.5 99,1140.9" fill="#0000bf"/><polygon points="301.8,1148.7 309.8,1146.3 316,1149.4 307.9,1151.8" fill="#00008f"/><polygon points="259.1,1139 267.1,1140.1 273.3,1140.4 265.3,1139.3" fill="#0000bf"/><polygon points="273.3,1140.4 281.4,1141.4 287.5,1144.5 279.5,1143.4" fill="#0000af"/><polygon points="70.5,1147.6 78.6,1145.2 84.8,1144.3 76.7,1143.5" fill="#0000af"/><polygon points="366.7,1149.2 374.7,1146.9 380.9,1149.9 372.8,1152.3" fill="#00008f"/><polygon points="165.8,1130.7 173.8,1131.9 180,1131 171.9,1129.8" fill="#0000ef"/><polygon points="316,1149.4 324,1147.1 330.2,1150.1 322.2,1152.5" fill="#00008f"/><polygon points="180,1131 188,1132.2 194.2,1132.4 186.1,1131.2" fill="#0000ef"/><polygon points="330.2,1150.1 338.2,1147.8 344.4,1150.9 336.4,1153.2" fill="#00008f"/><polygon points="194.2,1132.4 202.2,1133.6 208.4,1133.8 200.4,1132.6" fill="#0000df"/><polygon points="129.3,1132.6 137.3,1130.2 143.5,1129.3 135.5,1131.7" fill="#0000df"/><polygon points="107,1138.5 115.1,1136 121.2,1135.1 113.2,1137.5" fill="#0000cf"/><polygon points="344.4,1150.9 352.5,1148.5 358.6,1151.6 350.6,1153.9" fill="#00008f"/><polygon points="208.4,1133.8 216.5,1135 222.6,1135.3 214.6,1134.1" fill="#0000df"/><polygon points="84.8,1144.3 92.8,1141.8 99,1140.9 90.9,1140.1" fill="#0000cf"/><polygon points="222.6,1135.3 230.7,1136.3 236.8,1136.6 228.8,1135.5" fill="#0000df"/><polygon points="358.6,1151.6 366.7,1149.2 372.8,1152.3 364.8,1154.7" fill="#00008f"/><polygon points="293.7,1147.6 301.8,1148.7 307.9,1151.8 299.9,1150.7" fill="#00009f"/><polygon points="307.9,1151.8 316,1149.4 322.2,1152.5 314.1,1154.8" fill="#00008f"/><polygon points="236.8,1136.6 244.9,1137.7 251.1,1137.9 243,1136.8" fill="#0000df"/><polygon points="143.5,1129.3 151.5,1130.5 157.7,1129.5 149.7,1128.4" fill="#0000ff"/><polygon points="279.5,1143.4 287.5,1144.5 293.7,1147.6 285.7,1146.5" fill="#0000af"/><polygon points="372.8,1152.3 380.9,1149.9 387.1,1153 379,1155.4" fill="#00008f"/><polygon points="251.1,1137.9 259.1,1139 265.3,1139.3 257.2,1138.2" fill="#0000cf"/><polygon points="265.3,1139.3 273.3,1140.4 279.5,1143.4 271.5,1142.3" fill="#0000bf"/><polygon points="322.2,1152.5 330.2,1150.1 336.4,1153.2 328.3,1155.6" fill="#00008f"/><polygon points="121.2,1135.1 129.3,1132.6 135.5,1131.7 127.4,1134.2" fill="#0000df"/><polygon points="157.7,1129.5 165.8,1130.7 171.9,1129.8 163.9,1128.6" fill="#0000ff"/><polygon points="336.4,1153.2 344.4,1150.9 350.6,1153.9 342.5,1156.3" fill="#00008f"/><polygon points="99,1140.9 107,1138.5 113.2,1137.5 105.1,1136.7" fill="#0000df"/><polygon points="171.9,1129.8 180,1131 186.1,1131.2 178.1,1130" fill="#0000ff"/><polygon points="350.6,1153.9 358.6,1151.6 364.8,1154.7 356.8,1157" fill="#00008f"/><polygon points="186.1,1131.2 194.2,1132.4 200.4,1132.6 192.3,1131.5" fill="#0000ef"/><polygon points="76.7,1143.5 84.8,1144.3 90.9,1140.1 82.9,1139.3" fill="#0000df"/><polygon points="200.4,1132.6 208.4,1133.8 214.6,1134.1 206.5,1132.9" fill="#0000ef"/><polygon points="364.8,1154.7 372.8,1152.3 379,1155.4 371,1157.7" fill="#00008f"/><polygon points="299.9,1150.7 307.9,1151.8 314.1,1154.8 306.1,1153.8" fill="#00009f"/><polygon points="314.1,1154.8 322.2,1152.5 328.3,1155.6 320.3,1157.9" fill="#00008f"/><polygon points="135.5,1131.7 143.5,1129.3 149.7,1128.4 141.6,1130.8" fill="#0000ff"/><polygon points="214.6,1134.1 222.6,1135.3 228.8,1135.5 220.8,1134.3" fill="#0000ef"/><polygon points="285.7,1146.5 293.7,1147.6 299.9,1150.7 291.8,1149.6" fill="#0000af"/><polygon points="379,1155.4 387.1,1153 393.2,1156.1 385.2,1158.5" fill="#00008f"/><polygon points="113.2,1137.5 121.2,1135.1 127.4,1134.2 119.4,1133.4" fill="#0000ef"/><polygon points="228.8,1135.5 236.8,1136.6 243,1136.8 235,1135.8" fill="#0000ef"/><polygon points="271.5,1142.3 279.5,1143.4 285.7,1146.5 277.6,1145.4" fill="#0000bf"/><polygon points="328.3,1155.6 336.4,1153.2 342.5,1156.3 334.5,1158.6" fill="#00008f"/><polygon points="243,1136.8 251.1,1137.9 257.2,1138.2 249.2,1137.1" fill="#0000ef"/><polygon points="257.2,1138.2 265.3,1139.3 271.5,1142.3 263.4,1141.3" fill="#0000cf"/><polygon points="342.5,1156.3 350.6,1153.9 356.8,1157 348.7,1159.4" fill="#00008f"/><polygon points="149.7,1128.4 157.7,1129.5 163.9,1128.6 155.8,1127.4" fill="#0010ff"/><polygon points="90.9,1140.1 99,1140.9 105.1,1136.7 97.1,1135.9" fill="#0000ef"/><polygon points="356.8,1157 364.8,1154.7 371,1157.7 362.9,1160.1" fill="#00008f"/><polygon points="163.9,1128.6 171.9,1129.8 178.1,1130 170.1,1128.9" fill="#0010ff"/><polygon points="127.4,1134.2 135.5,1131.7 141.6,1130.8 133.6,1130" fill="#0010ff"/><polygon points="178.1,1130 186.1,1131.2 192.3,1131.5 184.3,1130.3" fill="#0010ff"/><polygon points="371,1157.7 379,1155.4 385.2,1158.5 377.2,1160.8" fill="#00008f"/><polygon points="306.1,1153.8 314.1,1154.8 320.3,1157.9 312.2,1156.8" fill="#00009f"/><polygon points="320.3,1157.9 328.3,1155.6 334.5,1158.6 326.5,1161" fill="#00008f"/><polygon points="192.3,1131.5 200.4,1132.6 206.5,1132.9 198.5,1131.7" fill="#0000ff"/><polygon points="291.8,1149.6 299.9,1150.7 306.1,1153.8 298,1152.7" fill="#0000af"/><polygon points="385.2,1158.5 393.2,1156.1 399.4,1159.2 391.4,1161.5" fill="#00008f"/><polygon points="206.5,1132.9 214.6,1134.1 220.8,1134.3 212.7,1133.1" fill="#0000ff"/><polygon points="105.1,1136.7 113.2,1137.5 119.4,1133.4 111.3,1132.5" fill="#0010ff"/><polygon points="277.6,1145.4 285.7,1146.5 291.8,1149.6 283.8,1148.5" fill="#0000bf"/><polygon points="334.5,1158.6 342.5,1156.3 348.7,1159.4 340.7,1161.7" fill="#00008f"/><polygon points="220.8,1134.3 228.8,1135.5 235,1135.8 226.9,1134.6" fill="#0000ff"/><polygon points="263.4,1141.3 271.5,1142.3 277.6,1145.4 269.6,1144.3" fill="#0000cf"/><polygon points="348.7,1159.4 356.8,1157 362.9,1160.1 354.9,1162.4" fill="#00008f"/><polygon points="235,1135.8 243,1136.8 249.2,1137.1 241.2,1136" fill="#0000ff"/><polygon points="249.2,1137.1 257.2,1138.2 263.4,1141.3 255.4,1140.2" fill="#0000ef"/><polygon points="141.6,1130.8 149.7,1128.4 155.8,1127.4 147.8,1126.6" fill="#0020ff"/><polygon points="82.9,1139.3 90.9,1140.1 97.1,1135.9 89.1,1135.1" fill="#0000ff"/><polygon points="362.9,1160.1 371,1157.7 377.2,1160.8 369.1,1163.2" fill="#00008f"/><polygon points="119.4,1133.4 127.4,1134.2 133.6,1130 125.5,1129.2" fill="#0020ff"/><polygon points="377.2,1160.8 385.2,1158.5 391.4,1161.5 383.3,1163.9" fill="#00008f"/><polygon points="312.2,1156.8 320.3,1157.9 326.5,1161 318.4,1158.4" fill="#00009f"/><polygon points="326.5,1161 334.5,1158.6 340.7,1161.7 332.6,1164.1" fill="#00008f"/><polygon points="155.8,1127.4 163.9,1128.6 170.1,1128.9 162,1122.2" fill="#0040ff"/><polygon points="298,1152.7 306.1,1153.8 312.2,1156.8 304.2,1154.3" fill="#0000bf"/><polygon points="170.1,1128.9 178.1,1130 184.3,1130.3 176.2,1123.6" fill="#0040ff"/><polygon points="391.4,1161.5 399.4,1159.2 405.6,1162.3 397.5,1164.6" fill="#00008f"/><polygon points="340.7,1161.7 348.7,1159.4 354.9,1162.4 346.9,1164.8" fill="#00008f"/><polygon points="283.8,1148.5 291.8,1149.6 298,1152.7 290,1150.1" fill="#0000cf"/><polygon points="97.1,1135.9 105.1,1136.7 111.3,1132.5 103.3,1131.7" fill="#0020ff"/><polygon points="184.3,1130.3 192.3,1131.5 198.5,1131.7 190.5,1125.1" fill="#0040ff"/><polygon points="269.6,1144.3 277.6,1145.4 283.8,1148.5 275.8,1145.9" fill="#0000df"/><polygon points="354.9,1162.4 362.9,1160.1 369.1,1163.2 361.1,1165.5" fill="#00008f"/><polygon points="198.5,1131.7 206.5,1132.9 212.7,1133.1 204.7,1126.5" fill="#0030ff"/><polygon points="255.4,1140.2 263.4,1141.3 269.6,1144.3 261.5,1141.8" fill="#0000ef"/><polygon points="133.6,1130 141.6,1130.8 147.8,1126.6 139.8,1125.8" fill="#0030ff"/><polygon points="212.7,1133.1 220.8,1134.3 226.9,1134.6 218.9,1127.9" fill="#0030ff"/><polygon points="241.2,1136 249.2,1137.1 255.4,1140.2 247.3,1137.6" fill="#0000ff"/><polygon points="369.1,1163.2 377.2,1160.8 383.3,1163.9 375.3,1166.2" fill="#00008f"/><polygon points="226.9,1134.6 235,1135.8 241.2,1136 233.1,1129.4" fill="#0030ff"/><polygon points="383.3,1163.9 391.4,1161.5 397.5,1164.6 389.5,1167" fill="#00008f"/><polygon points="111.3,1132.5 119.4,1133.4 125.5,1129.2 117.5,1128.4" fill="#0030ff"/><polygon points="332.6,1164.1 340.7,1161.7 346.9,1164.8 338.8,1167.2" fill="#00008f"/><polygon points="318.4,1158.4 326.5,1161 332.6,1164.1 324.6,1161.5" fill="#00009f"/><polygon points="397.5,1164.6 405.6,1162.3 411.8,1165.3 403.7,1167.7" fill="#00008f"/><polygon points="346.9,1164.8 354.9,1162.4 361.1,1165.5 353,1167.9" fill="#00008f"/><polygon points="304.2,1154.3 312.2,1156.8 318.4,1158.4 310.4,1155.9" fill="#0000bf"/><polygon points="147.8,1126.6 155.8,1127.4 162,1122.2 154,1121.4" fill="#0050ff"/><polygon points="290,1150.1 298,1152.7 304.2,1154.3 296.2,1151.7" fill="#0000cf"/><polygon points="89.1,1135.1 97.1,1135.9 103.3,1131.7 95.2,1130.9" fill="#0030ff"/><polygon points="361.1,1165.5 369.1,1163.2 375.3,1166.2 367.2,1168.6" fill="#00008f"/><polygon points="275.8,1145.9 283.8,1148.5 290,1150.1 281.9,1147.5" fill="#0000df"/><polygon points="125.5,1129.2 133.6,1130 139.8,1125.8 131.7,1125" fill="#0040ff"/><polygon points="261.5,1141.8 269.6,1144.3 275.8,1145.9 267.7,1143.4" fill="#0000ff"/><polygon points="375.3,1166.2 383.3,1163.9 389.5,1167 381.5,1169.3" fill="#00008f"/><polygon points="162,1122.2 170.1,1128.9 176.2,1123.6 168.2,1117" fill="#0070ff"/><polygon points="247.3,1137.6 255.4,1140.2 261.5,1141.8 253.5,1139.2" fill="#0010ff"/><polygon points="176.2,1123.6 184.3,1130.3 190.5,1125.1 182.4,1118.4" fill="#0070ff"/><polygon points="389.5,1167 397.5,1164.6 403.7,1167.7 395.7,1170" fill="#00008f"/><polygon points="338.8,1167.2 346.9,1164.8 353,1167.9 345,1170.2" fill="#00008f"/><polygon points="324.6,1161.5 332.6,1164.1 338.8,1167.2 330.8,1164.6" fill="#00009f"/><polygon points="190.5,1125.1 198.5,1131.7 204.7,1126.5 196.6,1119.8" fill="#0060ff"/><polygon points="103.3,1131.7 111.3,1132.5 117.5,1128.4 109.5,1127.6" fill="#0040ff"/><polygon points="233.1,1129.4 241.2,1136 247.3,1137.6 239.3,1131" fill="#0030ff"/><polygon points="204.7,1126.5 212.7,1133.1 218.9,1127.9 210.8,1121.3" fill="#0060ff"/><polygon points="353,1167.9 361.1,1165.5 367.2,1168.6 359.2,1171" fill="#00008f"/><polygon points="310.4,1155.9 318.4,1158.4 324.6,1161.5 316.5,1159" fill="#0000bf"/><polygon points="218.9,1127.9 226.9,1134.6 233.1,1129.4 225.1,1122.7" fill="#0060ff"/><polygon points="139.8,1125.8 147.8,1126.6 154,1121.4 145.9,1120.6" fill="#0060ff"/><polygon points="367.2,1168.6 375.3,1166.2 381.5,1169.3 373.4,1171.7" fill="#00008f"/><polygon points="296.2,1151.7 304.2,1154.3 310.4,1155.9 302.3,1153.3" fill="#0000df"/><polygon points="281.9,1147.5 290,1150.1 296.2,1151.7 288.1,1149.1" fill="#0000ef"/><polygon points="381.5,1169.3 389.5,1167 395.7,1170 387.6,1172.4" fill="#00008f"/><polygon points="117.5,1128.4 125.5,1129.2 131.7,1125 123.7,1124.2" fill="#0050ff"/><polygon points="267.7,1143.4 275.8,1145.9 281.9,1147.5 273.9,1145" fill="#0000ff"/><polygon points="253.5,1139.2 261.5,1141.8 267.7,1143.4 259.7,1140.8" fill="#0010ff"/><polygon points="345,1170.2 353,1167.9 359.2,1171 351.2,1173.3" fill="#00008f"/><polygon points="330.8,1164.6 338.8,1167.2 345,1170.2 336.9,1167.7" fill="#00009f"/><polygon points="154,1121.4 162,1122.2 168.2,1117 160.2,1116.2" fill="#0080ff"/><polygon points="95.2,1130.9 103.3,1131.7 109.5,1127.6 101.4,1126.7" fill="#0050ff"/><polygon points="359.2,1171 367.2,1168.6 373.4,1171.7 365.4,1174" fill="#00008f"/><polygon points="239.3,1131 247.3,1137.6 253.5,1139.2 245.5,1132.6" fill="#0040ff"/><polygon points="316.5,1159 324.6,1161.5 330.8,1164.6 322.7,1162" fill="#0000bf"/><polygon points="373.4,1171.7 381.5,1169.3 387.6,1172.4 379.6,1174.8" fill="#00008f"/><polygon points="131.7,1125 139.8,1125.8 145.9,1120.6 137.9,1119.8" fill="#0070ff"/><polygon points="302.3,1153.3 310.4,1155.9 316.5,1159 308.5,1156.4" fill="#0000df"/><polygon points="168.2,1117 176.2,1123.6 182.4,1118.4 174.4,1111.8" fill="#009fff"/><polygon points="182.4,1118.4 190.5,1125.1 196.6,1119.8 188.6,1113.2" fill="#008fff"/><polygon points="288.1,1149.1 296.2,1151.7 302.3,1153.3 294.3,1150.7" fill="#0000ef"/><polygon points="109.5,1127.6 117.5,1128.4 123.7,1124.2 115.6,1123.4" fill="#0070ff"/><polygon points="225.1,1122.7 233.1,1129.4 239.3,1131 231.2,1124.3" fill="#0060ff"/><polygon points="196.6,1119.8 204.7,1126.5 210.8,1121.3 202.8,1114.6" fill="#008fff"/><polygon points="273.9,1145 281.9,1147.5 288.1,1149.1 280.1,1146.6" fill="#0010ff"/><polygon points="351.2,1173.3 359.2,1171 365.4,1174 357.3,1176.4" fill="#00008f"/><polygon points="336.9,1167.7 345,1170.2 351.2,1173.3 343.1,1170.8" fill="#00009f"/><polygon points="210.8,1121.3 218.9,1127.9 225.1,1122.7 217,1116" fill="#008fff"/><polygon points="259.7,1140.8 267.7,1143.4 273.9,1145 265.9,1142.4" fill="#0020ff"/><polygon points="365.4,1174 373.4,1171.7 379.6,1174.8 371.6,1177.1" fill="#00008f"/><polygon points="145.9,1120.6 154,1121.4 160.2,1116.2 152.1,1115.4" fill="#008fff"/><polygon points="322.7,1162 330.8,1164.6 336.9,1167.7 328.9,1165.1" fill="#0000bf"/><polygon points="245.5,1132.6 253.5,1139.2 259.7,1140.8 251.6,1134.2" fill="#0040ff"/><polygon points="123.7,1124.2 131.7,1125 137.9,1119.8 129.8,1119" fill="#0080ff"/><polygon points="308.5,1156.4 316.5,1159 322.7,1162 314.7,1159.5" fill="#0000df"/><polygon points="294.3,1150.7 302.3,1153.3 308.5,1156.4 300.5,1153.8" fill="#0000ef"/><polygon points="101.4,1126.7 109.5,1127.6 115.6,1123.4 107.6,1122.6" fill="#0080ff"/><polygon points="357.3,1176.4 365.4,1174 371.6,1177.1 363.5,1179.5" fill="#00008f"/><polygon points="343.1,1170.8 351.2,1173.3 357.3,1176.4 349.3,1173.8" fill="#00009f"/><polygon points="231.2,1124.3 239.3,1131 245.5,1132.6 237.4,1125.9" fill="#0070ff"/><polygon points="160.2,1116.2 168.2,1117 174.4,1111.8 166.3,1110.9" fill="#00afff"/><polygon points="280.1,1146.6 288.1,1149.1 294.3,1150.7 286.2,1148.2" fill="#0010ff"/><polygon points="265.9,1142.4 273.9,1145 280.1,1146.6 272,1144" fill="#0020ff"/><polygon points="328.9,1165.1 336.9,1167.7 343.1,1170.8 335.1,1168.2" fill="#0000bf"/><polygon points="137.9,1119.8 145.9,1120.6 152.1,1115.4 144.1,1114.5" fill="#009fff"/><polygon points="174.4,1111.8 182.4,1118.4 188.6,1113.2 180.5,1106.5" fill="#00bfff"/><polygon points="314.7,1159.5 322.7,1162 328.9,1165.1 320.9,1162.5" fill="#0000df"/><polygon points="251.6,1134.2 259.7,1140.8 265.9,1142.4 257.8,1135.8" fill="#0050ff"/><polygon points="217,1116 225.1,1122.7 231.2,1124.3 223.2,1117.6" fill="#008fff"/><polygon points="188.6,1113.2 196.6,1119.8 202.8,1114.6 194.8,1108" fill="#00bfff"/><polygon points="115.6,1123.4 123.7,1124.2 129.8,1119 121.8,1118.2" fill="#008fff"/><polygon points="202.8,1114.6 210.8,1121.3 217,1116 209,1109.4" fill="#00bfff"/><polygon points="300.5,1153.8 308.5,1156.4 314.7,1159.5 306.6,1156.9" fill="#0000ef"/><polygon points="349.3,1173.8 357.3,1176.4 363.5,1179.5 355.5,1179.6" fill="#00008f"/><polygon points="152.1,1115.4 160.2,1116.2 166.3,1110.9 158.3,1110.1" fill="#00bfff"/><polygon points="286.2,1148.2 294.3,1150.7 300.5,1153.8 292.4,1151.3" fill="#0010ff"/><polygon points="237.4,1125.9 245.5,1132.6 251.6,1134.2 243.6,1127.5" fill="#0070ff"/><polygon points="335.1,1168.2 343.1,1170.8 349.3,1173.8 341.2,1174" fill="#0000af"/><polygon points="272,1144 280.1,1146.6 286.2,1148.2 278.2,1145.6" fill="#0030ff"/><polygon points="129.8,1119 137.9,1119.8 144.1,1114.5 136,1113.7" fill="#00afff"/><polygon points="320.9,1162.5 328.9,1165.1 335.1,1168.2 327,1168.3" fill="#0000cf"/><polygon points="257.8,1135.8 265.9,1142.4 272,1144 264,1137.4" fill="#0050ff"/><polygon points="223.2,1117.6 231.2,1124.3 237.4,1125.9 229.4,1119.2" fill="#009fff"/><polygon points="306.6,1156.9 314.7,1159.5 320.9,1162.5 312.8,1162.7" fill="#0000df"/><polygon points="107.6,1122.6 115.6,1123.4 121.8,1118.2 113.8,1114.8" fill="#00afff"/><polygon points="166.3,1110.9 174.4,1111.8 180.5,1106.5 172.5,1105.7" fill="#00dfff"/><polygon points="341.2,1174 349.3,1173.8 355.5,1179.6 347.4,1179.8" fill="#00009f"/><polygon points="292.4,1151.3 300.5,1153.8 306.6,1156.9 298.6,1157" fill="#0000ff"/><polygon points="144.1,1114.5 152.1,1115.4 158.3,1110.1 150.2,1109.3" fill="#00cfff"/><polygon points="327,1168.3 335.1,1168.2 341.2,1174 333.2,1174.1" fill="#0000bf"/><polygon points="243.6,1127.5 251.6,1134.2 257.8,1135.8 249.8,1129.1" fill="#0080ff"/><polygon points="209,1109.4 217,1116 223.2,1117.6 215.2,1111" fill="#00bfff"/><polygon points="180.5,1106.5 188.6,1113.2 194.8,1108 186.7,1101.3" fill="#00efff"/><polygon points="278.2,1145.6 286.2,1148.2 292.4,1151.3 284.4,1151.4" fill="#0020ff"/><polygon points="194.8,1108 202.8,1114.6 209,1109.4 200.9,1102.7" fill="#00efff"/><polygon points="312.8,1162.7 320.9,1162.5 327,1168.3 319,1168.5" fill="#0000df"/><polygon points="121.8,1118.2 129.8,1119 136,1113.7 128,1110.4" fill="#00cfff"/><polygon points="298.6,1157 306.6,1156.9 312.8,1162.7 304.8,1162.8" fill="#0000ef"/><polygon points="229.4,1119.2 237.4,1125.9 243.6,1127.5 235.5,1120.8" fill="#009fff"/><polygon points="333.2,1174.1 341.2,1174 347.4,1179.8 339.4,1179.9" fill="#0000af"/><polygon points="158.3,1110.1 166.3,1110.9 172.5,1105.7 164.5,1104.9" fill="#00efff"/><polygon points="264,1137.4 272,1144 278.2,1145.6 270.2,1134.4" fill="#0070ff"/><polygon points="284.4,1151.4 292.4,1151.3 298.6,1157 290.6,1157.2" fill="#0010ff"/><polygon points="319,1168.5 327,1168.3 333.2,1174.1 325.2,1174.3" fill="#0000cf"/><polygon points="136,1113.7 144.1,1114.5 150.2,1109.3 142.2,1106" fill="#00efff"/><polygon points="215.2,1111 223.2,1117.6 229.4,1119.2 221.3,1112.6" fill="#00cfff"/><polygon points="304.8,1162.8 312.8,1162.7 319,1168.5 310.9,1168.6" fill="#0000df"/><polygon points="249.8,1129.1 257.8,1135.8 264,1137.4 255.9,1126.2" fill="#009fff"/><polygon points="172.5,1105.7 180.5,1106.5 186.7,1101.3 178.7,1100.5" fill="#00ffff"/><polygon points="290.6,1157.2 298.6,1157 304.8,1162.8 296.7,1163" fill="#0000ff"/><polygon points="113.8,1114.8 121.8,1118.2 128,1110.4 119.9,1107.1" fill="#00efff"/><polygon points="325.2,1174.3 333.2,1174.1 339.4,1179.9 331.3,1180" fill="#0000bf"/><polygon points="200.9,1102.7 209,1109.4 215.2,1111 207.1,1104.3" fill="#00ffff"/><polygon points="270.2,1134.4 278.2,1145.6 284.4,1151.4 276.3,1140.2" fill="#0060ff"/><polygon points="235.5,1120.8 243.6,1127.5 249.8,1129.1 241.7,1117.9" fill="#00bfff"/><polygon points="150.2,1109.3 158.3,1110.1 164.5,1104.9 156.4,1101.6" fill="#10ffef"/><polygon points="186.7,1101.3 194.8,1108 200.9,1102.7 192.9,1096.1" fill="#20ffdf"/><polygon points="310.9,1168.6 319,1168.5 325.2,1174.3 317.1,1174.4" fill="#0000cf"/><polygon points="296.7,1163 304.8,1162.8 310.9,1168.6 302.9,1168.8" fill="#0000ef"/><polygon points="128,1110.4 136,1113.7 142.2,1106 134.2,1102.7" fill="#10ffef"/><polygon points="221.3,1112.6 229.4,1119.2 235.5,1120.8 227.5,1109.7" fill="#00efff"/><polygon points="276.3,1140.2 284.4,1151.4 290.6,1157.2 282.5,1146" fill="#0060ff"/><polygon points="164.5,1104.9 172.5,1105.7 178.7,1100.5 170.6,1097.2" fill="#20ffdf"/><polygon points="317.1,1174.4 325.2,1174.3 331.3,1180 323.3,1180.2" fill="#0000bf"/><polygon points="255.9,1126.2 264,1137.4 270.2,1134.4 262.1,1123.3" fill="#00bfff"/><polygon points="302.9,1168.8 310.9,1168.6 317.1,1174.4 309.1,1174.5" fill="#0000df"/><polygon points="207.1,1104.3 215.2,1111 221.3,1112.6 213.3,1101.4" fill="#20ffdf"/><polygon points="282.5,1146 290.6,1157.2 296.7,1163 288.7,1151.8" fill="#0050ff"/><polygon points="142.2,1106 150.2,1109.3 156.4,1101.6 148.4,1098.2" fill="#20ffdf"/><polygon points="241.7,1117.9 249.8,1129.1 255.9,1126.2 247.9,1115" fill="#00efff"/><polygon points="178.7,1100.5 186.7,1101.3 192.9,1096.1 184.9,1092.7" fill="#40ffbf"/><polygon points="192.9,1096.1 200.9,1102.7 207.1,1104.3 199.1,1093.2" fill="#40ffbf"/><polygon points="309.1,1174.5 317.1,1174.4 323.3,1180.2 315.3,1180.3" fill="#0000cf"/><polygon points="119.9,1107.1 128,1110.4 134.2,1102.7 126.1,1099.3" fill="#30ffcf"/><polygon points="288.7,1151.8 296.7,1163 302.9,1168.8 294.9,1157.6" fill="#0040ff"/><polygon points="227.5,1109.7 235.5,1120.8 241.7,1117.9 233.7,1106.8" fill="#10ffef"/><polygon points="156.4,1101.6 164.5,1104.9 170.6,1097.2 162.6,1093.8" fill="#40ffbf"/><polygon points="262.1,1123.3 270.2,1134.4 276.3,1140.2 268.3,1129.1" fill="#00afff"/><polygon points="213.3,1101.4 221.3,1112.6 227.5,1109.7 219.5,1098.5" fill="#40ffbf"/><polygon points="134.2,1102.7 142.2,1106 148.4,1098.2 140.3,1094.9" fill="#40ffbf"/><polygon points="294.9,1157.6 302.9,1168.8 309.1,1174.5 301,1163.4" fill="#0030ff"/><polygon points="268.3,1129.1 276.3,1140.2 282.5,1146 274.5,1134.8" fill="#009fff"/><polygon points="170.6,1097.2 178.7,1100.5 184.9,1092.7 176.8,1089.4" fill="#60ff9f"/><polygon points="247.9,1115 255.9,1126.2 262.1,1123.3 254.1,1112.1" fill="#10ffef"/><polygon points="199.1,1093.2 207.1,1104.3 213.3,1101.4 205.2,1090.2" fill="#60ff9f"/><polygon points="301,1163.4 309.1,1174.5 315.3,1180.3 307.2,1173.9" fill="#0000ff"/><polygon points="184.9,1092.7 192.9,1096.1 199.1,1093.2 191,1089.8" fill="#60ff9f"/><polygon points="148.4,1098.2 156.4,1101.6 162.6,1093.8 154.5,1090.5" fill="#60ff9f"/><polygon points="274.5,1134.8 282.5,1146 288.7,1151.8 280.6,1140.6" fill="#008fff"/><polygon points="233.7,1106.8 241.7,1117.9 247.9,1115 239.9,1103.8" fill="#30ffcf"/><polygon points="126.1,1099.3 134.2,1102.7 140.3,1094.9 132.3,1091.6" fill="#60ff9f"/><polygon points="280.6,1140.6 288.7,1151.8 294.9,1157.6 286.8,1146.4" fill="#0080ff"/><polygon points="162.6,1093.8 170.6,1097.2 176.8,1089.4 168.8,1086.1" fill="#80ff80"/><polygon points="219.5,1098.5 227.5,1109.7 233.7,1106.8 225.6,1095.6" fill="#60ff9f"/><polygon points="254.1,1112.1 262.1,1123.3 268.3,1129.1 260.2,1117.9" fill="#00ffff"/><polygon points="176.8,1089.4 184.9,1092.7 191,1089.8 183,1086.5" fill="#80ff80"/><polygon points="286.8,1146.4 294.9,1157.6 301,1163.4 293,1156.9" fill="#0060ff"/><polygon points="140.3,1094.9 148.4,1098.2 154.5,1090.5 146.5,1087.2" fill="#80ff80"/><polygon points="205.2,1090.2 213.3,1101.4 219.5,1098.5 211.4,1087.3" fill="#80ff80"/><polygon points="260.2,1117.9 268.3,1129.1 274.5,1134.8 266.4,1123.7" fill="#00efff"/><polygon points="191,1089.8 199.1,1093.2 205.2,1090.2 197.2,1086.9" fill="#80ff80"/><polygon points="293,1156.9 301,1163.4 307.2,1173.9 299.2,1167.4" fill="#0030ff"/><polygon points="239.9,1103.8 247.9,1115 254.1,1112.1 246,1100.9" fill="#50ffaf"/><polygon points="154.5,1090.5 162.6,1093.8 168.8,1086.1 160.7,1082.7" fill="#9fff60"/><polygon points="266.4,1123.7 274.5,1134.8 280.6,1140.6 272.6,1129.4" fill="#00dfff"/><polygon points="225.6,1095.6 233.7,1106.8 239.9,1103.8 231.8,1092.7" fill="#80ff80"/><polygon points="168.8,1086.1 176.8,1089.4 183,1086.5 174.9,1083.2" fill="#9fff60"/><polygon points="132.3,1091.6 140.3,1094.9 146.5,1087.2 138.5,1083.8" fill="#9fff60"/><polygon points="272.6,1129.4 280.6,1140.6 286.8,1146.4 278.8,1139.9" fill="#00afff"/><polygon points="183,1086.5 191,1089.8 197.2,1086.9 189.2,1083.6" fill="#9fff60"/><polygon points="211.4,1087.3 219.5,1098.5 225.6,1095.6 217.6,1084.4" fill="#9fff60"/><polygon points="246,1100.9 254.1,1112.1 260.2,1117.9 252.2,1106.7" fill="#40ffbf"/><polygon points="278.8,1139.9 286.8,1146.4 293,1156.9 284.9,1150.4" fill="#008fff"/><polygon points="197.2,1086.9 205.2,1090.2 211.4,1087.3 203.4,1084" fill="#9fff60"/><polygon points="284.9,1150.4 293,1156.9 299.2,1167.4 291.1,1160.9" fill="#0060ff"/><polygon points="146.5,1087.2 154.5,1090.5 160.7,1082.7 152.7,1079.4" fill="#bfff40"/><polygon points="252.2,1106.7 260.2,1117.9 266.4,1123.7 258.4,1112.5" fill="#30ffcf"/><polygon points="160.7,1082.7 168.8,1086.1 174.9,1083.2 166.9,1079.8" fill="#bfff40"/><polygon points="231.8,1092.7 239.9,1103.8 246,1100.9 238,1089.7" fill="#9fff60"/><polygon points="174.9,1083.2 183,1086.5 189.2,1083.6 181.1,1080.2" fill="#bfff40"/><polygon points="258.4,1112.5 266.4,1123.7 272.6,1129.4 264.6,1123" fill="#10ffef"/><polygon points="189.2,1083.6 197.2,1086.9 203.4,1084 195.3,1080.7" fill="#bfff40"/><polygon points="264.6,1123 272.6,1129.4 278.8,1139.9 270.7,1133.5" fill="#00dfff"/><polygon points="217.6,1084.4 225.6,1095.6 231.8,1092.7 223.8,1081.5" fill="#bfff40"/><polygon points="203.4,1084 211.4,1087.3 217.6,1084.4 209.6,1081.1" fill="#bfff40"/><polygon points="270.7,1133.5 278.8,1139.9 284.9,1150.4 276.9,1144" fill="#00bfff"/><polygon points="138.5,1083.8 146.5,1087.2 152.7,1079.4 144.6,1076.1" fill="#dfff20"/><polygon points="276.9,1144 284.9,1150.4 291.1,1160.9 283.1,1154.4" fill="#008fff"/><polygon points="238,1089.7 246,1100.9 252.2,1106.7 244.2,1095.5" fill="#8fff70"/><polygon points="152.7,1079.4 160.7,1082.7 166.9,1079.8 158.9,1076.5" fill="#dfff20"/><polygon points="166.9,1079.8 174.9,1083.2 181.1,1080.2 173.1,1076.9" fill="#dfff20"/><polygon points="244.2,1095.5 252.2,1106.7 258.4,1112.5 250.3,1106" fill="#60ff9f"/><polygon points="181.1,1080.2 189.2,1083.6 195.3,1080.7 187.3,1077.3" fill="#dfff20"/><polygon points="250.3,1106 258.4,1112.5 264.6,1123 256.5,1116.5" fill="#40ffbf"/><polygon points="195.3,1080.7 203.4,1084 209.6,1081.1 201.5,1077.7" fill="#dfff20"/><polygon points="223.8,1081.5 231.8,1092.7 238,1089.7 229.9,1078.6" fill="#dfff20"/><polygon points="256.5,1116.5 264.6,1123 270.7,1133.5 262.7,1127" fill="#10ffef"/><polygon points="209.6,1081.1 217.6,1084.4 223.8,1081.5 215.7,1078.2" fill="#dfff20"/><polygon points="262.7,1127 270.7,1133.5 276.9,1144 268.9,1137.5" fill="#00efff"/><polygon points="268.9,1137.5 276.9,1144 283.1,1154.4 275,1148" fill="#00bfff"/><polygon points="144.6,1076.1 152.7,1079.4 158.9,1076.5 150.8,1066" fill="#ffdf00"/><polygon points="158.9,1076.5 166.9,1079.8 173.1,1076.9 165,1066.4" fill="#ffdf00"/><polygon points="229.9,1078.6 238,1089.7 244.2,1095.5 236.1,1089.1" fill="#bfff40"/><polygon points="173.1,1076.9 181.1,1080.2 187.3,1077.3 179.2,1066.8" fill="#ffdf00"/><polygon points="236.1,1089.1 244.2,1095.5 250.3,1106 242.3,1099.5" fill="#8fff70"/><polygon points="187.3,1077.3 195.3,1080.7 201.5,1077.7 193.5,1067.3" fill="#ffcf00"/><polygon points="242.3,1099.5 250.3,1106 256.5,1116.5 248.5,1110" fill="#70ff8f"/><polygon points="201.5,1077.7 209.6,1081.1 215.7,1078.2 207.7,1067.7" fill="#ffcf00"/><polygon points="248.5,1110 256.5,1116.5 262.7,1127 254.6,1120.5" fill="#40ffbf"/><polygon points="254.6,1120.5 262.7,1127 268.9,1137.5 260.8,1131" fill="#20ffdf"/><polygon points="215.7,1078.2 223.8,1081.5 229.9,1078.6 221.9,1068.1" fill="#ffcf00"/><polygon points="260.8,1131 268.9,1137.5 275,1148 267,1141.5" fill="#00efff"/><polygon points="150.8,1066 158.9,1076.5 165,1066.4 157,1055.9" fill="#ff8f00"/><polygon points="221.9,1068.1 229.9,1078.6 236.1,1089.1 228.1,1078.6" fill="#ffff00"/><polygon points="165,1066.4 173.1,1076.9 179.2,1066.8 171.2,1056.4" fill="#ff8f00"/><polygon points="228.1,1078.6 236.1,1089.1 242.3,1099.5 234.3,1089.1" fill="#dfff20"/><polygon points="179.2,1066.8 187.3,1077.3 193.5,1067.3 185.4,1056.8" fill="#ff8f00"/><polygon points="234.3,1089.1 242.3,1099.5 248.5,1110 240.4,1099.6" fill="#afff50"/><polygon points="193.5,1067.3 201.5,1077.7 207.7,1067.7 199.6,1057.2" fill="#ff8f00"/><polygon points="240.4,1099.6 248.5,1110 254.6,1120.5 246.6,1110" fill="#8fff70"/><polygon points="246.6,1110 254.6,1120.5 260.8,1131 252.8,1120.5" fill="#60ff9f"/><polygon points="207.7,1067.7 215.7,1078.2 221.9,1068.1 213.9,1057.6" fill="#ff8f00"/><polygon points="252.8,1120.5 260.8,1131 267,1141.5 259,1127.4" fill="#50ffaf"/><polygon points="213.9,1057.6 221.9,1068.1 228.1,1078.6 220,1068.1" fill="#ffaf00"/><polygon points="157,1055.9 165,1066.4 171.2,1056.4 163.2,1045.9" fill="#ff5000"/><polygon points="220,1068.1 228.1,1078.6 234.3,1089.1 226.2,1078.6" fill="#ffdf00"/><polygon points="171.2,1056.4 179.2,1066.8 185.4,1056.8 177.4,1046.3" fill="#ff5000"/><polygon points="226.2,1078.6 234.3,1089.1 240.4,1099.6 232.4,1089.1" fill="#ffff00"/><polygon points="185.4,1056.8 193.5,1067.3 199.6,1057.2 191.6,1046.7" fill="#ff5000"/><polygon points="232.4,1089.1 240.4,1099.6 246.6,1110 238.6,1099.6" fill="#cfff30"/><polygon points="199.6,1057.2 207.7,1067.7 213.9,1057.6 205.8,1047.1" fill="#ff5000"/><polygon points="238.6,1099.6 246.6,1110 252.8,1120.5 244.7,1106.4" fill="#bfff40"/><polygon points="244.7,1106.4 252.8,1120.5 259,1127.4 250.9,1113.3" fill="#9fff60"/><polygon points="205.8,1047.1 213.9,1057.6 220,1068.1 212,1057.6" fill="#ff7000"/><polygon points="212,1057.6 220,1068.1 226.2,1078.6 218.2,1068.1" fill="#ff9f00"/><polygon points="163.2,1045.9 171.2,1056.4 177.4,1046.3 169.3,1035.8" fill="#ff0000"/><polygon points="218.2,1068.1 226.2,1078.6 232.4,1089.1 224.3,1078.6" fill="#ffbf00"/><polygon points="177.4,1046.3 185.4,1056.8 191.6,1046.7 183.6,1036.2" fill="#ff0000"/><polygon points="224.3,1078.6 232.4,1089.1 238.6,1099.6 230.5,1085.4" fill="#ffcf00"/><polygon points="191.6,1046.7 199.6,1057.2 205.8,1047.1 197.8,1036.6" fill="#ff0000"/><polygon points="230.5,1085.4 238.6,1099.6 244.7,1106.4 236.7,1092.3" fill="#ffef00"/><polygon points="236.7,1092.3 244.7,1106.4 250.9,1113.3 242.9,1099.1" fill="#ffff00"/><polygon points="197.8,1036.6 205.8,1047.1 212,1057.6 203.9,1047.1" fill="#ff3000"/><polygon points="203.9,1047.1 212,1057.6 218.2,1068.1 210.1,1057.6" fill="#ff5000"/><polygon points="210.1,1057.6 218.2,1068.1 224.3,1078.6 216.3,1064.5" fill="#ff7000"/><polygon points="169.3,1035.8 177.4,1046.3 183.6,1036.2 175.5,1025.7" fill="#bf0000"/><polygon points="183.6,1036.2 191.6,1046.7 197.8,1036.6 189.7,1026.1" fill="#bf0000"/><polygon points="216.3,1064.5 224.3,1078.6 230.5,1085.4 222.5,1071.3" fill="#ff8000"/><polygon points="222.5,1071.3 230.5,1085.4 236.7,1092.3 228.6,1078.2" fill="#ff8f00"/><polygon points="189.7,1026.1 197.8,1036.6 203.9,1047.1 195.9,1036.6" fill="#df0000"/><polygon points="228.6,1078.2 236.7,1092.3 242.9,1099.1 234.8,1085" fill="#ff9f00"/><polygon points="195.9,1036.6 203.9,1047.1 210.1,1057.6 202.1,1043.5" fill="#ff0000"/><polygon points="202.1,1043.5 210.1,1057.6 216.3,1064.5 208.3,1050.3" fill="#ff1000"/><polygon points="175.5,1025.7 183.6,1036.2 189.7,1026.1 181.7,1015.7" fill="#800000"/><polygon points="208.3,1050.3 216.3,1064.5 222.5,1071.3 214.4,1057.2" fill="#ff2000"/><polygon points="214.4,1057.2 222.5,1071.3 228.6,1078.2 220.6,1064" fill="#ff3000"/><polygon points="181.7,1015.7 189.7,1026.1 195.9,1036.6 187.9,1022.5" fill="#8f0000"/><polygon points="220.6,1064 228.6,1078.2 234.8,1085 226.8,1070.9" fill="#ff5000"/><polygon points="187.9,1022.5 195.9,1036.6 202.1,1043.5 194,1029.4" fill="#9f0000"/><polygon points="194,1029.4 202.1,1043.5 208.3,1050.3 200.2,1036.2" fill="#af0000"/><polygon points="200.2,1036.2 208.3,1050.3 214.4,1057.2 206.4,1043" fill="#cf0000"/><polygon points="206.4,1043 214.4,1057.2 220.6,1064 212.6,1049.9" fill="#df0000"/><polygon points="212.6,1049.9 220.6,1064 226.8,1070.9 218.7,1056.7" fill="#ef0000"/></g>
<g font-family='"Liberation Sans", sans-serif' font-size="9.9" fill="#111"><text x="194.45" y="1238.94" text-anchor="end">−0.6</text><text x="238.99" y="1241.19">−0.6</text><text x="157.4" y="1220.47" text-anchor="end">−0.3</text><text x="287.24" y="1227.04">−0.3</text><text x="120.35" y="1202" text-anchor="end">0</text><text x="335.5" y="1212.9">0</text><text x="83.3" y="1183.53" text-anchor="end">0.3</text><text x="383.76" y="1198.76">0.3</text><text x="46.25" y="1165.06" text-anchor="end">0.6</text><text x="432.01" y="1184.61">0.6</text><text x="33.9" y="1130.26" text-anchor="end">1</text><text x="33.9" y="1111.81" text-anchor="end">2</text><text x="33.9" y="1093.36" text-anchor="end">3</text><text x="33.9" y="1074.9" text-anchor="end">4</text><text x="33.9" y="1056.45" text-anchor="end">5</text><text x="33.9" y="1038" text-anchor="end">6</text><text x="33.9" y="1019.54" text-anchor="end">7</text><text x="33.9" y="1001.09" text-anchor="end">8</text><text x="33.9" y="982.64" text-anchor="end">9</text><text x="33.9" y="964.18" text-anchor="end">10</text></g>
<text transform="translate(16.4,1053) rotate(-90)" text-anchor="middle" font-family='"Liberation Sans", sans-serif' font-size="10.2" fill="#111">RMSE</text>
<text x="119.7" y="1251.1" text-anchor="middle" font-family='"Liberation Serif", serif' font-size="13" fill="#111">ρ</text>
<text x="322.9" y="1255.8" text-anchor="middle" font-family='"Liberation Serif", serif' font-size="13" fill="#111">λ</text>
<g shape-rendering="crispEdges"><rect x="454.7" y="892.65" width="20.9" height="5.62" fill="#800000"/><rect x="454.7" y="897.97" width="20.9" height="5.62" fill="#8f0000"/><rect x="454.7" y="903.29" width="20.9" height="5.62" fill="#9f0000"/><rect x="454.7" y="908.62" width="20.9" height="5.62" fill="#af0000"/><rect x="454.7" y="913.94" width="20.9" height="5.62" fill="#bf0000"/><rect x="454.7" y="919.26" width="20.9" height="5.62" fill="#cf0000"/><rect x="454.7" y="924.58" width="20.9" height="5.62" fill="#df0000"/><rect x="454.7" y="929.9" width="20.9" height="5.62" fill="#ef0000"/><rect x="454.7" y="935.23" width="20.9" height="5.62" fill="#ff0000"/><rect x="454.7" y="940.55" width="20.9" height="5.62" fill="#ff1000"/><rect x="454.7" y="945.87" width="20.9" height="5.62" fill="#ff2000"/><rect x="454.7" y="951.19" width="20.9" height="5.62" fill="#ff3000"/><rect x="454.7" y="956.51" width="20.9" height="5.62" fill="#ff4000"/><rect x="454.7" y="961.83" width="20.9" height="5.62" fill="#ff5000"/><rect x="454.7" y="967.16" width="20.9" height="5.62" fill="#ff6000"/><rect x="454.7" y="972.48" width="20.9" height="5.62" fill="#ff7000"/><rect x="454.7" y="977.8" width="20.9" height="5.62" fill="#ff8000"/><rect x="454.7" y="983.12" width="20.9" height="5.62" fill="#ff8f00"/><rect x="454.7" y="988.44" width="20.9" height="5.62" fill="#ff9f00"/><rect x="454.7" y="993.77" width="20.9" height="5.62" fill="#ffaf00"/><rect x="454.7" y="999.09" width="20.9" height="5.62" fill="#ffbf00"/><rect x="454.7" y="1004.41" width="20.9" height="5.62" fill="#ffcf00"/><rect x="454.7" y="1009.73" width="20.9" height="5.62" fill="#ffdf00"/><rect x="454.7" y="1015.05" width="20.9" height="5.62" fill="#ffef00"/><rect x="454.7" y="1020.38" width="20.9" height="5.62" fill="#ffff00"/><rect x="454.7" y="1025.7" width="20.9" height="5.62" fill="#efff10"/><rect x="454.7" y="1031.02" width="20.9" height="5.62" fill="#dfff20"/><rect x="454.7" y="1036.34" width="20.9" height="5.62" fill="#cfff30"/><rect x="454.7" y="1041.66" width="20.9" height="5.62" fill="#bfff40"/><rect x="454.7" y="1046.98" width="20.9" height="5.62" fill="#afff50"/><rect x="454.7" y="1052.31" width="20.9" height="5.62" fill="#9fff60"/><rect x="454.7" y="1057.63" width="20.9" height="5.62" fill="#8fff70"/><rect x="454.7" y="1062.95" width="20.9" height="5.62" fill="#80ff80"/><rect x="454.7" y="1068.27" width="20.9" height="5.62" fill="#70ff8f"/><rect x="454.7" y="1073.59" width="20.9" height="5.62" fill="#60ff9f"/><rect x="454.7" y="1078.92" width="20.9" height="5.62" fill="#50ffaf"/><rect x="454.7" y="1084.24" width="20.9" height="5.62" fill="#40ffbf"/><rect x="454.7" y="1089.56" width="20.9" height="5.62" fill="#30ffcf"/><rect x="454.7" y="1094.88" width="20.9" height="5.62" fill="#20ffdf"/><rect x="454.7" y="1100.2" width="20.9" height="5.62" fill="#10ffef"/><rect x="454.7" y="1105.52" width="20.9" height="5.62" fill="#00ffff"/><rect x="454.7" y="1110.85" width="20.9" height="5.62" fill="#00efff"/><rect x="454.7" y="1116.17" width="20.9" height="5.62" fill="#00dfff"/><rect x="454.7" y="1121.49" width="20.9" height="5.62" fill="#00cfff"/><rect x="454.7" y="1126.81" width="20.9" height="5.62" fill="#00bfff"/><rect x="454.7" y="1132.13" width="20.9" height="5.62" fill="#00afff"/><rect x="454.7" y="1137.46" width="20.9" height="5.62" fill="#009fff"/><rect x="454.7" y="1142.78" width="20.9" height="5.62" fill="#008fff"/><rect x="454.7" y="1148.1" width="20.9" height="5.62" fill="#0080ff"/><rect x="454.7" y="1153.42" width="20.9" height="5.62" fill="#0070ff"/><rect x="454.7" y="1158.74" width="20.9" height="5.62" fill="#0060ff"/><rect x="454.7" y="1164.07" width="20.9" height="5.62" fill="#0050ff"/><rect x="454.7" y="1169.39" width="20.9" height="5.62" fill="#0040ff"/><rect x="454.7" y="1174.71" width="20.9" height="5.62" fill="#0030ff"/><rect x="454.7" y="1180.03" width="20.9" height="5.62" fill="#0020ff"/><rect x="454.7" y="1185.35" width="20.9" height="5.62" fill="#0010ff"/><rect x="454.7" y="1190.67" width="20.9" height="5.62" fill="#0000ff"/><rect x="454.7" y="1196" width="20.9" height="5.62" fill="#0000ef"/><rect x="454.7" y="1201.32" width="20.9" height="5.62" fill="#0000df"/><rect x="454.7" y="1206.64" width="20.9" height="5.62" fill="#0000cf"/><rect x="454.7" y="1211.96" width="20.9" height="5.62" fill="#0000bf"/><rect x="454.7" y="1217.28" width="20.9" height="5.62" fill="#0000af"/><rect x="454.7" y="1222.61" width="20.9" height="5.62" fill="#00009f"/><rect x="454.7" y="1227.93" width="20.9" height="5.62" fill="#00008f"/></g>
<rect x="454.7" y="892.7" width="20.9" height="340.6" fill="none" stroke="#222" stroke-width="0.9"/>
<g stroke="#111" stroke-width="0.9"><line x1="454.7" y1="1202.12" x2="458.3" y2="1202.12"/><line x1="472" y1="1202.12" x2="475.6" y2="1202.12"/><line x1="454.7" y1="1168.74" x2="458.3" y2="1168.74"/><line x1="472" y1="1168.74" x2="475.6" y2="1168.74"/><line x1="454.7" y1="1135.37" x2="458.3" y2="1135.37"/><line x1="472" y1="1135.37" x2="475.6" y2="1135.37"/><line x1="454.7" y1="1101.99" x2="458.3" y2="1101.99"/><line x1="472" y1="1101.99" x2="475.6" y2="1101.99"/><line x1="454.7" y1="1068.61" x2="458.3" y2="1068.61"/><line x1="472" y1="1068.61" x2="475.6" y2="1068.61"/><line x1="454.7" y1="1035.23" x2="458.3" y2="1035.23"/><line x1="472" y1="1035.23" x2="475.6" y2="1035.23"/><line x1="454.7" y1="1001.85" x2="458.3" y2="1001.85"/><line x1="472" y1="1001.85" x2="475.6" y2="1001.85"/><line x1="454.7" y1="968.47" x2="458.3" y2="968.47"/><line x1="472" y1="968.47" x2="475.6" y2="968.47"/><line x1="454.7" y1="935.09" x2="458.3" y2="935.09"/><line x1="472" y1="935.09" x2="475.6" y2="935.09"/><line x1="454.7" y1="901.71" x2="458.3" y2="901.71"/><line x1="472" y1="901.71" x2="475.6" y2="901.71"/></g>
<clipPath id="cbte"><rect x="475.6" y="892.9" width="60" height="360"/></clipPath>
<g clip-path="url(#cbte)" font-family='"Liberation Sans", sans-serif' font-size="9.9" fill="#111"><text x="478.8" y="1205.72">1</text><text x="478.8" y="1172.34">2</text><text x="478.8" y="1138.97">3</text><text x="478.8" y="1105.59">4</text><text x="478.8" y="1072.21">5</text><text x="478.8" y="1038.83">6</text><text x="478.8" y="1005.45">7</text><text x="478.8" y="972.07">8</text><text x="478.8" y="938.69">9</text><text x="478.8" y="905.31">10</text></g>
<text x="260.7" y="1302" text-anchor="middle" font-family='"Liberation Serif", serif' font-size="27.2" fill="#111">(<tspan font-weight="bold">e</tspan>)</text></g>
<g><g stroke="#000" stroke-opacity="0.62" stroke-width="0.9" stroke-dasharray="1.1 3.3" fill="none"><line x1="748.19" y1="1228.69" x2="575.29" y2="1142.49"/><line x1="719.75" y1="1227.24" x2="944.95" y2="1161.24"/><line x1="575.29" y1="1142.49" x2="575.29" y2="954.19"/><line x1="944.95" y1="1161.24" x2="944.95" y2="972.94"/><line x1="796.44" y1="1214.54" x2="623.54" y2="1128.34"/><line x1="682.7" y1="1208.77" x2="907.9" y2="1142.77"/><line x1="623.54" y1="1128.34" x2="623.54" y2="940.04"/><line x1="907.9" y1="1142.77" x2="907.9" y2="954.47"/><line x1="844.7" y1="1200.4" x2="671.8" y2="1114.2"/><line x1="645.65" y1="1190.3" x2="870.85" y2="1124.3"/><line x1="671.8" y1="1114.2" x2="671.8" y2="925.9"/><line x1="870.85" y1="1124.3" x2="870.85" y2="936"/><line x1="892.96" y1="1186.26" x2="720.06" y2="1100.06"/><line x1="608.6" y1="1171.83" x2="833.8" y2="1105.83"/><line x1="720.06" y1="1100.06" x2="720.06" y2="911.76"/><line x1="833.8" y1="1105.83" x2="833.8" y2="917.53"/><line x1="941.21" y1="1172.11" x2="768.31" y2="1085.91"/><line x1="571.55" y1="1153.36" x2="796.75" y2="1087.36"/><line x1="768.31" y1="1085.91" x2="768.31" y2="897.61"/><line x1="796.75" y1="1087.36" x2="796.75" y2="899.06"/><line x1="559.2" y1="1118.12" x2="784.4" y2="1052.12"/><line x1="784.4" y1="1052.12" x2="957.3" y2="1138.32"/><line x1="559.2" y1="1085.22" x2="784.4" y2="1019.22"/><line x1="784.4" y1="1019.22" x2="957.3" y2="1105.42"/><line x1="559.2" y1="1052.33" x2="784.4" y2="986.33"/><line x1="784.4" y1="986.33" x2="957.3" y2="1072.53"/><line x1="559.2" y1="1019.43" x2="784.4" y2="953.43"/><line x1="784.4" y1="953.43" x2="957.3" y2="1039.63"/><line x1="559.2" y1="986.53" x2="784.4" y2="920.53"/><line x1="784.4" y1="920.53" x2="957.3" y2="1006.73"/></g>
<g stroke="#1a1a1a" stroke-width="0.95" fill="none"><polyline points="559.2,958.9 559.2,1147.2 732.1,1233.4 957.3,1167.4"/><line x1="719.75" y1="1227.24" x2="714.18" y2="1228.87"/><line x1="748.19" y1="1228.69" x2="753.38" y2="1231.27"/><line x1="682.7" y1="1208.77" x2="677.13" y2="1210.4"/><line x1="796.44" y1="1214.54" x2="801.63" y2="1217.13"/><line x1="645.65" y1="1190.3" x2="640.08" y2="1191.93"/><line x1="844.7" y1="1200.4" x2="849.89" y2="1202.99"/><line x1="608.6" y1="1171.83" x2="603.03" y2="1173.46"/><line x1="892.96" y1="1186.26" x2="898.15" y2="1188.84"/><line x1="571.55" y1="1153.36" x2="565.98" y2="1154.99"/><line x1="941.21" y1="1172.11" x2="946.4" y2="1174.7"/><line x1="559.2" y1="1118.12" x2="554.01" y2="1115.53"/><line x1="559.2" y1="1085.22" x2="554.01" y2="1082.64"/><line x1="559.2" y1="1052.33" x2="554.01" y2="1049.74"/><line x1="559.2" y1="1019.43" x2="554.01" y2="1016.84"/><line x1="559.2" y1="986.53" x2="554.01" y2="983.95"/></g>
<clipPath id="clipf"><rect x="559.2" y="892.7" width="398.1" height="340.9"/></clipPath><g clip-path="url(#clipf)" fill="none" stroke-width="1.05" stroke-linecap="round"><path d="M762.8 1101.1L769.7 1104M769.7 1104L776.5 1106.9M776.5 1106.9L780.3 1108.4M783.4 1109.7L780.3 1108.4M783.4 1109.7L790.3 1112.6M791.9 1114.2L793.1 1116.7M790.3 1112.6L791.9 1114.2M630.6 1167.5L619.8 1168.5M638.6 1166.8L630.6 1167.5M793.1 1116.7L795.2 1120.9M638.6 1166.8L641.2 1166.4M650.7 1164.8L641.2 1166.4M660.2 1163.2L650.7 1164.8M669.8 1161.6L660.2 1163.2M678 1160.2L669.8 1161.6M795.2 1120.9L805.3 1122.9M678 1160.2L679.3 1159.9M692.3 1160.1L679.3 1159.9M694.9 1160.1L692.3 1160.1M805.3 1122.9L811.6 1124M815.5 1124.8L811.6 1124M694.9 1160.1L705.4 1160.2M711.1 1160.3L705.4 1160.2M815.5 1124.8L825.6 1126.7M711.1 1160.3L718.4 1160.3M727.2 1160.4L718.4 1160.3M825.6 1126.7L832.2 1127.9M835.8 1128.6L832.2 1127.9M727.2 1160.4L731.4 1160.5M743.4 1160.6L731.4 1160.5M835.8 1128.6L845.9 1130.5M743.4 1160.6L744.4 1160.6M755.5 1159.7L744.4 1160.6M763.9 1159.4L755.5 1159.7M845.9 1130.5L852.8 1131.8M763.9 1159.4L768.4 1163M768.4 1163L776 1165.7M776 1165.7L783.5 1168.4M783.5 1168.4L791 1171.1M791 1171.1L791 1171.1M791 1171.1L798.5 1173.7M798.5 1173.7L806 1176.4M806 1176.4L812.4 1179.5M815.6 1183.3L815.6 1183.4M812.4 1179.5L815.6 1183.3M815.6 1183.4L817.1 1187.9M818.1 1190.9L819.7 1192M817.1 1187.9L818.1 1190.9M819.7 1192L825.1 1195.3M825.1 1195.3L828.9 1199.1" stroke="#0020ff"/><path d="M649.4 1176.8L639 1178.1M657.9 1175.9L649.4 1176.8M657.9 1175.9L659.7 1175.6M670.1 1174.4L659.7 1175.6M680.2 1173.1L670.1 1174.4M689.1 1171.6L680.2 1173.1M689.1 1171.6L689.7 1171.5M699.2 1169.9L689.7 1171.5M711.2 1170L699.2 1169.9M711.2 1170L712.3 1170M725.3 1170.1L712.3 1170M727.4 1170.2L725.3 1170.1M727.4 1170.2L734.2 1173M734.2 1173L741 1175.9M741 1175.9L749.8 1178.2M749.8 1178.2L757.4 1179.8M759.7 1180.2L757.4 1179.8M759.7 1180.2L769.6 1182.2M769.6 1182.2L778.8 1184.1M779.5 1184.2L778.8 1184.1M781.1 1185.2L784.8 1187.5M779.5 1184.2L781.1 1185.2M784.8 1187.5L790.2 1190.8M790.2 1190.8L795.5 1194.2M795.5 1194.2L798.4 1198.2M797.8 1199.9L796.4 1203.7M798.4 1198.2L797.8 1199.9M795.8 1205.3L794.4 1209.2M796.4 1203.7L795.8 1205.3" stroke="#00dfff"/><path d="M655.8 1186.2L655.5 1186.3M655.8 1186.2L665.8 1185.1M676.2 1183.9L665.8 1185.1M683.6 1183L676.2 1183.9M683.6 1183L687.1 1182.9M699.6 1182.8L687.1 1182.9M701 1182.8L699.6 1182.8M701 1182.8L712 1182.6M718.5 1182.5L712 1182.6M718.5 1182.5L724.4 1182.4M731 1183.8L724.4 1182.4M731 1183.8L740.9 1185.8M740.9 1185.8L745.9 1186.8M750.7 1187.7L745.9 1186.8M750.7 1187.7L760.6 1189.7M760.6 1189.7L766 1193.1M766 1193.1L767.9 1197.4M767.8 1197.7L765.9 1202.8M767.9 1197.4L767.8 1197.7M765.8 1203.1L766.6 1207.5M765.9 1202.8L765.8 1203.1M767 1210L768.1 1212M766.6 1207.5L767 1210M768.1 1212L772.6 1215.6" stroke="#8fff70"/><path d="M678.6 1194.2L671.1 1194M678.6 1194.2L684.4 1194.3M694.1 1194.6L684.4 1194.3M694.1 1194.6L697.8 1194.6M709.7 1194.9L697.8 1194.6M709.7 1194.9L711.2 1194.9M724.5 1195.2L711.2 1194.9M725.2 1195.2L724.5 1195.2M725.2 1195.2L737.9 1195.5M740.7 1195.6L737.9 1195.5M740.9 1197L741.5 1200.2M740.7 1195.6L740.9 1197M742.1 1204L742.2 1204.9M741.5 1200.2L742.1 1204M742.2 1204.9L743 1209.6M745.8 1212.2L747.1 1213.2M743 1209.6L745.8 1212.2M747.1 1213.2L751.7 1216.8M751.7 1216.8L756.2 1220.4" stroke="#ffbf00"/><path d="M686.9 1201.6L686.1 1201.5M686.9 1201.6L699.5 1201.8M702.4 1201.9L699.5 1201.8M702.4 1201.9L712.9 1202.1M717.9 1202.3L712.9 1202.1M718.4 1204.9L718.7 1206.9M717.9 1202.3L718.4 1204.9M718.7 1206.9L721.6 1210.9M721.6 1210.9L726.2 1214.5M728.4 1216.3L730.7 1218.1M726.2 1214.5L728.4 1216.3M730.7 1218.1L735.2 1221.6M735.2 1221.6L739.8 1225.2" stroke="#ff1000"/></g>
<g stroke="#000" stroke-width="0.85" stroke-linejoin="round"><polygon points="772.6,1057 780.7,1047.9 786.8,1051.5 778.8,1060.7" fill="#0050ff"/><polygon points="764.6,1066.2 772.6,1057 778.8,1060.7 770.8,1069.9" fill="#0030ff"/><polygon points="756.5,1075.3 764.6,1066.2 770.8,1069.9 762.7,1079" fill="#0000ff"/><polygon points="748.5,1084.5 756.5,1075.3 762.7,1079 754.7,1088.2" fill="#0000df"/><polygon points="740.5,1093.6 748.5,1084.5 754.7,1088.2 746.6,1097.3" fill="#0000bf"/><polygon points="732.4,1102.8 740.5,1093.6 746.6,1097.3 738.6,1103.8" fill="#00009f"/><polygon points="724.4,1105 732.4,1102.8 738.6,1103.8 730.5,1106" fill="#00009f"/><polygon points="778.8,1060.7 786.8,1051.5 793,1055.2 785,1064.4" fill="#0050ff"/><polygon points="770.8,1069.9 778.8,1060.7 785,1064.4 776.9,1073.5" fill="#0020ff"/><polygon points="762.7,1079 770.8,1069.9 776.9,1073.5 768.9,1082.7" fill="#0000ff"/><polygon points="754.7,1088.2 762.7,1079 768.9,1082.7 760.8,1091.8" fill="#0000df"/><polygon points="746.6,1097.3 754.7,1088.2 760.8,1091.8 752.8,1098.3" fill="#0000bf"/><polygon points="738.6,1103.8 746.6,1097.3 752.8,1098.3 744.8,1104.8" fill="#0000af"/><polygon points="716.3,1107.3 724.4,1105 730.5,1106 722.5,1108.3" fill="#00009f"/><polygon points="785,1064.4 793,1055.2 799.2,1058.9 791.1,1068.1" fill="#0050ff"/><polygon points="776.9,1073.5 785,1064.4 791.1,1068.1 783.1,1077.2" fill="#0020ff"/><polygon points="768.9,1082.7 776.9,1073.5 783.1,1077.2 775.1,1086.4" fill="#0000ff"/><polygon points="730.5,1106 738.6,1103.8 744.8,1104.8 736.7,1107" fill="#0000af"/><polygon points="760.8,1091.8 768.9,1082.7 775.1,1086.4 767,1092.8" fill="#0000ef"/><polygon points="708.3,1109.5 716.3,1107.3 722.5,1108.3 714.5,1110.5" fill="#00009f"/><polygon points="752.8,1098.3 760.8,1091.8 767,1092.8 759,1099.3" fill="#0000cf"/><polygon points="744.8,1104.8 752.8,1098.3 759,1099.3 750.9,1105.8" fill="#0000bf"/><polygon points="722.5,1108.3 730.5,1106 736.7,1107 728.7,1109.3" fill="#0000af"/><polygon points="791.1,1068.1 799.2,1058.9 805.4,1062.6 797.3,1071.7" fill="#0040ff"/><polygon points="783.1,1077.2 791.1,1068.1 797.3,1071.7 789.3,1080.9" fill="#0020ff"/><polygon points="775.1,1086.4 783.1,1077.2 789.3,1080.9 781.2,1087.4" fill="#0010ff"/><polygon points="700.2,1111.8 708.3,1109.5 714.5,1110.5 706.4,1112.8" fill="#0000af"/><polygon points="736.7,1107 744.8,1104.8 750.9,1105.8 742.9,1108" fill="#0000bf"/><polygon points="767,1092.8 775.1,1086.4 781.2,1087.4 773.2,1093.8" fill="#0000ef"/><polygon points="714.5,1110.5 722.5,1108.3 728.7,1109.3 720.6,1111.5" fill="#0000af"/><polygon points="759,1099.3 767,1092.8 773.2,1093.8 765.2,1100.3" fill="#0000df"/><polygon points="797.3,1071.7 805.4,1062.6 811.5,1066.3 803.5,1075.4" fill="#0040ff"/><polygon points="692.2,1114 700.2,1111.8 706.4,1112.8 698.4,1115" fill="#0000af"/><polygon points="750.9,1105.8 759,1099.3 765.2,1100.3 757.1,1106.8" fill="#0000bf"/><polygon points="789.3,1080.9 797.3,1071.7 803.5,1075.4 795.5,1081.9" fill="#0030ff"/><polygon points="728.7,1109.3 736.7,1107 742.9,1108 734.8,1110.3" fill="#0000bf"/><polygon points="781.2,1087.4 789.3,1080.9 795.5,1081.9 787.4,1088.4" fill="#0010ff"/><polygon points="706.4,1112.8 714.5,1110.5 720.6,1111.5 712.6,1113.8" fill="#0000af"/><polygon points="742.9,1108 750.9,1105.8 757.1,1106.8 749.1,1109" fill="#0000cf"/><polygon points="773.2,1093.8 781.2,1087.4 787.4,1088.4 779.4,1094.8" fill="#0000ff"/><polygon points="684.2,1116.3 692.2,1114 698.4,1115 690.3,1117.9" fill="#00009f"/><polygon points="720.6,1111.5 728.7,1109.3 734.8,1110.3 726.8,1112.5" fill="#0000bf"/><polygon points="765.2,1100.3 773.2,1093.8 779.4,1094.8 771.3,1101.3" fill="#0000ef"/><polygon points="803.5,1075.4 811.5,1066.3 817.7,1069.9 809.7,1076.4" fill="#0050ff"/><polygon points="795.5,1081.9 803.5,1075.4 809.7,1076.4 801.6,1082.9" fill="#0040ff"/><polygon points="698.4,1115 706.4,1112.8 712.6,1113.8 704.5,1116.7" fill="#0000af"/><polygon points="757.1,1106.8 765.2,1100.3 771.3,1101.3 763.3,1107.8" fill="#0000cf"/><polygon points="734.8,1110.3 742.9,1108 749.1,1109 741,1111.3" fill="#0000cf"/><polygon points="787.4,1088.4 795.5,1081.9 801.6,1082.9 793.6,1089.4" fill="#0020ff"/><polygon points="676.1,1118.9 684.2,1116.3 690.3,1117.9 682.3,1120.5" fill="#00009f"/><polygon points="712.6,1113.8 720.6,1111.5 726.8,1112.5 718.8,1115.4" fill="#0000bf"/><polygon points="749.1,1109 757.1,1106.8 763.3,1107.8 755.2,1110" fill="#0000cf"/><polygon points="779.4,1094.8 787.4,1088.4 793.6,1089.4 785.5,1095.8" fill="#0010ff"/><polygon points="809.7,1076.4 817.7,1069.9 823.9,1075.1 815.8,1081.5" fill="#0040ff"/><polygon points="690.3,1117.9 698.4,1115 704.5,1116.7 696.5,1119.6" fill="#0000af"/><polygon points="726.8,1112.5 734.8,1110.3 741,1111.3 733,1114.2" fill="#0000bf"/><polygon points="771.3,1101.3 779.4,1094.8 785.5,1095.8 777.5,1102.3" fill="#0000ef"/><polygon points="801.6,1082.9 809.7,1076.4 815.8,1081.5 807.8,1088" fill="#0030ff"/><polygon points="668.1,1121.4 676.1,1118.9 682.3,1120.5 674.2,1123.1" fill="#00009f"/><polygon points="704.5,1116.7 712.6,1113.8 718.8,1115.4 710.7,1118.3" fill="#0000bf"/><polygon points="763.3,1107.8 771.3,1101.3 777.5,1102.3 769.5,1108.8" fill="#0000df"/><polygon points="793.6,1089.4 801.6,1082.9 807.8,1088 799.8,1094.5" fill="#0010ff"/><polygon points="741,1111.3 749.1,1109 755.2,1110 747.2,1112.9" fill="#0000cf"/><polygon points="815.8,1081.5 823.9,1075.1 830.1,1080.2 822,1086.6" fill="#0040ff"/><polygon points="682.3,1120.5 690.3,1117.9 696.5,1119.6 688.5,1122.2" fill="#0000af"/><polygon points="785.5,1095.8 793.6,1089.4 799.8,1094.5 791.7,1100.9" fill="#0000ff"/><polygon points="718.8,1115.4 726.8,1112.5 733,1114.2 724.9,1117.1" fill="#0000bf"/><polygon points="807.8,1088 815.8,1081.5 822,1086.6 814,1093.1" fill="#0020ff"/><polygon points="660,1124 668.1,1121.4 674.2,1123.1 666.2,1125.7" fill="#00009f"/><polygon points="755.2,1110 763.3,1107.8 769.5,1108.8 761.4,1111.7" fill="#0000df"/><polygon points="696.5,1119.6 704.5,1116.7 710.7,1118.3 702.7,1121.2" fill="#0000af"/><polygon points="777.5,1102.3 785.5,1095.8 791.7,1100.9 783.7,1107.4" fill="#0000ef"/><polygon points="733,1114.2 741,1111.3 747.2,1112.9 739.2,1115.8" fill="#0000cf"/><polygon points="799.8,1094.5 807.8,1088 814,1093.1 805.9,1099.6" fill="#0010ff"/><polygon points="674.2,1123.1 682.3,1120.5 688.5,1122.2 680.4,1124.7" fill="#0000af"/><polygon points="822,1086.6 830.1,1080.2 836.2,1085.3 828.2,1091.7" fill="#0030ff"/><polygon points="769.5,1108.8 777.5,1102.3 783.7,1107.4 775.6,1111.3" fill="#0000df"/><polygon points="710.7,1118.3 718.8,1115.4 724.9,1117.1 716.9,1120" fill="#0000bf"/><polygon points="791.7,1100.9 799.8,1094.5 805.9,1099.6 797.9,1106" fill="#0000ef"/><polygon points="747.2,1112.9 755.2,1110 761.4,1111.7 753.4,1114.6" fill="#0000df"/><polygon points="814,1093.1 822,1086.6 828.2,1091.7 820.2,1098.2" fill="#0010ff"/><polygon points="652,1126.6 660,1124 666.2,1125.7 658.2,1128.2" fill="#00009f"/><polygon points="688.5,1122.2 696.5,1119.6 702.7,1121.2 694.6,1123.8" fill="#0000af"/><polygon points="724.9,1117.1 733,1114.2 739.2,1115.8 731.1,1118.7" fill="#0000cf"/><polygon points="783.7,1107.4 791.7,1100.9 797.9,1106 789.9,1109.9" fill="#0000ef"/><polygon points="805.9,1099.6 814,1093.1 820.2,1098.2 812.1,1104.7" fill="#0000ff"/><polygon points="761.4,1111.7 769.5,1108.8 775.6,1111.3 767.6,1114.2" fill="#0000df"/><polygon points="666.2,1125.7 674.2,1123.1 680.4,1124.7 672.4,1127.3" fill="#0000af"/><polygon points="828.2,1091.7 836.2,1085.3 842.4,1090.4 834.4,1096.8" fill="#0020ff"/><polygon points="702.7,1121.2 710.7,1118.3 716.9,1120 708.9,1122.9" fill="#0000bf"/><polygon points="739.2,1115.8 747.2,1112.9 753.4,1114.6 745.3,1117.5" fill="#0000cf"/><polygon points="797.9,1106 805.9,1099.6 812.1,1104.7 804.1,1108.6" fill="#0000ff"/><polygon points="643.9,1129.2 652,1126.6 658.2,1128.2 650.1,1130.8" fill="#00009f"/><polygon points="820.2,1098.2 828.2,1091.7 834.4,1096.8 826.3,1103.3" fill="#0010ff"/><polygon points="775.6,1111.3 783.7,1107.4 789.9,1109.9 781.8,1113.8" fill="#0000df"/><polygon points="680.4,1124.7 688.5,1122.2 694.6,1123.8 686.6,1126.4" fill="#0000af"/><polygon points="716.9,1120 724.9,1117.1 731.1,1118.7 723.1,1121.6" fill="#0000bf"/><polygon points="753.4,1114.6 761.4,1111.7 767.6,1114.2 759.5,1117.1" fill="#0000df"/><polygon points="658.2,1128.2 666.2,1125.7 672.4,1127.3 664.3,1129.9" fill="#0000af"/><polygon points="812.1,1104.7 820.2,1098.2 826.3,1103.3 818.3,1107.2" fill="#0000ff"/><polygon points="694.6,1123.8 702.7,1121.2 708.9,1122.9 700.8,1125.5" fill="#0000bf"/><polygon points="834.4,1096.8 842.4,1090.4 848.6,1095.5 840.5,1102" fill="#0010ff"/><polygon points="789.9,1109.9 797.9,1106 804.1,1108.6 796,1112.5" fill="#0000ef"/><polygon points="731.1,1118.7 739.2,1115.8 745.3,1117.5 737.3,1120.4" fill="#0000cf"/><polygon points="767.6,1114.2 775.6,1111.3 781.8,1113.8 773.8,1116.7" fill="#0000df"/><polygon points="635.9,1131.7 643.9,1129.2 650.1,1130.8 642.1,1132.2" fill="#00009f"/><polygon points="672.4,1127.3 680.4,1124.7 686.6,1126.4 678.5,1129" fill="#0000af"/><polygon points="826.3,1103.3 834.4,1096.8 840.5,1102 832.5,1105.8" fill="#0010ff"/><polygon points="708.9,1122.9 716.9,1120 723.1,1121.6 715,1124.5" fill="#0000bf"/><polygon points="804.1,1108.6 812.1,1104.7 818.3,1107.2 810.2,1111.1" fill="#0000ff"/><polygon points="745.3,1117.5 753.4,1114.6 759.5,1117.1 751.5,1120" fill="#0000df"/><polygon points="781.8,1113.8 789.9,1109.9 796,1112.5 788,1116.4" fill="#0000df"/><polygon points="650.1,1130.8 658.2,1128.2 664.3,1129.9 656.3,1131.3" fill="#0000af"/><polygon points="686.6,1126.4 694.6,1123.8 700.8,1125.5 692.8,1128" fill="#0000bf"/><polygon points="840.5,1102 848.6,1095.5 854.8,1100.6 846.7,1104.5" fill="#0020ff"/><polygon points="723.1,1121.6 731.1,1118.7 737.3,1120.4 729.2,1123.3" fill="#0000cf"/><polygon points="759.5,1117.1 767.6,1114.2 773.8,1116.7 765.7,1119.6" fill="#0000df"/><polygon points="818.3,1107.2 826.3,1103.3 832.5,1105.8 824.5,1109.7" fill="#0000ff"/><polygon points="627.9,1134.4 635.9,1131.7 642.1,1132.2 634,1134.8" fill="#00009f"/><polygon points="796,1112.5 804.1,1108.6 810.2,1111.1 802.2,1115" fill="#0000ef"/><polygon points="664.3,1129.9 672.4,1127.3 678.5,1129 670.5,1130.3" fill="#0000af"/><polygon points="700.8,1125.5 708.9,1122.9 715,1124.5 707,1127.1" fill="#0000bf"/><polygon points="773.8,1116.7 781.8,1113.8 788,1116.4 779.9,1119.3" fill="#0000df"/><polygon points="737.3,1120.4 745.3,1117.5 751.5,1120 743.5,1122.9" fill="#0000cf"/><polygon points="832.5,1105.8 840.5,1102 846.7,1104.5 838.7,1108.4" fill="#0010ff"/><polygon points="678.5,1129 686.6,1126.4 692.8,1128 684.7,1129.4" fill="#0000bf"/><polygon points="810.2,1111.1 818.3,1107.2 824.5,1109.7 816.4,1113.6" fill="#0000ff"/><polygon points="642.1,1132.2 650.1,1130.8 656.3,1131.3 648.2,1132.6" fill="#0000af"/><polygon points="715,1124.5 723.1,1121.6 729.2,1123.3 721.2,1126.2" fill="#0000cf"/><polygon points="751.5,1120 759.5,1117.1 765.7,1119.6 757.7,1122.5" fill="#0000df"/><polygon points="788,1116.4 796,1112.5 802.2,1115 794.2,1118.9" fill="#0000ef"/><polygon points="846.7,1104.5 854.8,1100.6 860.9,1105.9 852.9,1109.8" fill="#0010ff"/><polygon points="619.8,1137 627.9,1134.4 634,1134.8 626,1137.4" fill="#00009f"/><polygon points="692.8,1128 700.8,1125.5 707,1127.1 698.9,1128.5" fill="#0000cf"/><polygon points="656.3,1131.3 664.3,1129.9 670.5,1130.3 662.5,1131.7" fill="#0000bf"/><polygon points="765.7,1119.6 773.8,1116.7 779.9,1119.3 771.9,1122.2" fill="#0000df"/><polygon points="729.2,1123.3 737.3,1120.4 743.5,1122.9 735.4,1125.8" fill="#0000cf"/><polygon points="824.5,1109.7 832.5,1105.8 838.7,1108.4 830.6,1112.3" fill="#0010ff"/><polygon points="802.2,1115 810.2,1111.1 816.4,1113.6 808.4,1117.5" fill="#0000ef"/><polygon points="838.7,1108.4 846.7,1104.5 852.9,1109.8 844.9,1113.6" fill="#0000ff"/><polygon points="779.9,1119.3 788,1116.4 794.2,1118.9 786.1,1121.8" fill="#0000df"/><polygon points="743.5,1122.9 751.5,1120 757.7,1122.5 749.6,1125.4" fill="#0000df"/><polygon points="707,1127.1 715,1124.5 721.2,1126.2 713.2,1127.6" fill="#0000cf"/><polygon points="634,1134.8 642.1,1132.2 648.2,1132.6 640.2,1135.3" fill="#0000af"/><polygon points="670.5,1130.3 678.5,1129 684.7,1129.4 676.7,1130.8" fill="#0000bf"/><polygon points="852.9,1109.8 860.9,1105.9 867.1,1111.1 859.1,1115" fill="#0000ff"/><polygon points="611.8,1139.6 619.8,1137 626,1137.4 617.9,1140.1" fill="#00009f"/><polygon points="816.4,1113.6 824.5,1109.7 830.6,1112.3 822.6,1116.2" fill="#0000ff"/><polygon points="757.7,1122.5 765.7,1119.6 771.9,1122.2 763.9,1125.1" fill="#0000df"/><polygon points="794.2,1118.9 802.2,1115 808.4,1117.5 800.3,1121.4" fill="#0000ef"/><polygon points="721.2,1126.2 729.2,1123.3 735.4,1125.8 727.4,1126.3" fill="#0000df"/><polygon points="684.7,1129.4 692.8,1128 698.9,1128.5 690.9,1129.9" fill="#0000cf"/><polygon points="648.2,1132.6 656.3,1131.3 662.5,1131.7 654.4,1133.1" fill="#0000bf"/><polygon points="830.6,1112.3 838.7,1108.4 844.9,1113.6 836.8,1117.5" fill="#0000ff"/><polygon points="771.9,1122.2 779.9,1119.3 786.1,1121.8 778.1,1124.7" fill="#0000df"/><polygon points="844.9,1113.6 852.9,1109.8 859.1,1115 851,1118.9" fill="#0000ff"/><polygon points="626,1137.4 634,1134.8 640.2,1135.3 632.2,1137.9" fill="#0000af"/><polygon points="735.4,1125.8 743.5,1122.9 749.6,1125.4 741.6,1125.9" fill="#0000df"/><polygon points="698.9,1128.5 707,1127.1 713.2,1127.6 705.1,1128.9" fill="#0000cf"/><polygon points="808.4,1117.5 816.4,1113.6 822.6,1116.2 814.6,1120.1" fill="#0000ff"/><polygon points="859.1,1115 867.1,1111.1 873.3,1116.4 865.2,1120.3" fill="#0000ef"/><polygon points="662.5,1131.7 670.5,1130.3 676.7,1130.8 668.6,1132.2" fill="#0000cf"/><polygon points="603.7,1142.3 611.8,1139.6 617.9,1140.1 609.9,1142.7" fill="#00009f"/><polygon points="786.1,1121.8 794.2,1118.9 800.3,1121.4 792.3,1124.3" fill="#0000ef"/><polygon points="749.6,1125.4 757.7,1122.5 763.9,1125.1 755.8,1125.6" fill="#0000ef"/><polygon points="822.6,1116.2 830.6,1112.3 836.8,1117.5 828.8,1121.4" fill="#0000ef"/><polygon points="713.2,1127.6 721.2,1126.2 727.4,1126.3 719.3,1127.7" fill="#0000df"/><polygon points="640.2,1135.3 648.2,1132.6 654.4,1133.1 646.4,1135.7" fill="#0000bf"/><polygon points="676.7,1130.8 684.7,1129.4 690.9,1129.9 682.9,1131.2" fill="#0000cf"/><polygon points="836.8,1117.5 844.9,1113.6 851,1118.9 843,1122.8" fill="#0000ef"/><polygon points="800.3,1121.4 808.4,1117.5 814.6,1120.1 806.5,1123.9" fill="#0000ef"/><polygon points="763.9,1125.1 771.9,1122.2 778.1,1124.7 770,1125.2" fill="#0000ef"/><polygon points="617.9,1140.1 626,1137.4 632.2,1137.9 624.1,1140.5" fill="#0000af"/><polygon points="851,1118.9 859.1,1115 865.2,1120.3 857.2,1124.2" fill="#0000ef"/><polygon points="865.2,1120.3 873.3,1116.4 879.5,1121.7 871.4,1125.6" fill="#0000ef"/><polygon points="727.4,1126.3 735.4,1125.8 741.6,1125.9 733.6,1126.4" fill="#0000ef"/><polygon points="595.7,1144.9 603.7,1142.3 609.9,1142.7 601.9,1145.3" fill="#00009f"/><polygon points="690.9,1129.9 698.9,1128.5 705.1,1128.9 697.1,1130.3" fill="#0000df"/><polygon points="814.6,1120.1 822.6,1116.2 828.8,1121.4 820.7,1125.3" fill="#0000ef"/><polygon points="654.4,1133.1 662.5,1131.7 668.6,1132.2 660.6,1133.5" fill="#0000cf"/><polygon points="778.1,1124.7 786.1,1121.8 792.3,1124.3 784.2,1124.8" fill="#0000ef"/><polygon points="828.8,1121.4 836.8,1117.5 843,1122.8 834.9,1126.7" fill="#0000ef"/><polygon points="741.6,1125.9 749.6,1125.4 755.8,1125.6 747.8,1126.1" fill="#0000ef"/><polygon points="632.2,1137.9 640.2,1135.3 646.4,1135.7 638.3,1138.3" fill="#0000bf"/><polygon points="843,1122.8 851,1118.9 857.2,1124.2 849.2,1128.1" fill="#0000df"/><polygon points="705.1,1128.9 713.2,1127.6 719.3,1127.7 711.3,1129.1" fill="#0000df"/><polygon points="792.3,1124.3 800.3,1121.4 806.5,1123.9 798.5,1124.4" fill="#0000ff"/><polygon points="668.6,1132.2 676.7,1130.8 682.9,1131.2 674.8,1132.6" fill="#0000df"/><polygon points="609.9,1142.7 617.9,1140.1 624.1,1140.5 616.1,1143.2" fill="#0000af"/><polygon points="857.2,1124.2 865.2,1120.3 871.4,1125.6 863.4,1129.5" fill="#0000df"/><polygon points="755.8,1125.6 763.9,1125.1 770,1125.2 762,1125.7" fill="#0000ff"/><polygon points="806.5,1123.9 814.6,1120.1 820.7,1125.3 812.7,1128.4" fill="#0000ef"/><polygon points="871.4,1125.6 879.5,1121.7 885.6,1127 877.6,1130.8" fill="#0000df"/><polygon points="587.6,1147.5 595.7,1144.9 601.9,1145.3 593.8,1145.2" fill="#0000af"/><polygon points="820.7,1125.3 828.8,1121.4 834.9,1126.7 826.9,1129.8" fill="#0000df"/><polygon points="646.4,1135.7 654.4,1133.1 660.6,1133.5 652.6,1136.2" fill="#0000cf"/><polygon points="682.9,1131.2 690.9,1129.9 697.1,1130.3 689,1131.7" fill="#0000df"/><polygon points="719.3,1127.7 727.4,1126.3 733.6,1126.4 725.5,1127.8" fill="#0000ef"/><polygon points="834.9,1126.7 843,1122.8 849.2,1128.1 841.1,1131.2" fill="#0000df"/><polygon points="770,1125.2 778.1,1124.7 784.2,1124.8 776.2,1125.3" fill="#0000ff"/><polygon points="624.1,1140.5 632.2,1137.9 638.3,1138.3 630.3,1141" fill="#0000bf"/><polygon points="849.2,1128.1 857.2,1124.2 863.4,1129.5 855.3,1132.6" fill="#0000df"/><polygon points="733.6,1126.4 741.6,1125.9 747.8,1126.1 739.7,1126.5" fill="#0000ff"/><polygon points="697.1,1130.3 705.1,1128.9 711.3,1129.1 703.2,1130.4" fill="#0000ef"/><polygon points="601.9,1145.3 609.9,1142.7 616.1,1143.2 608,1143" fill="#0000bf"/><polygon points="863.4,1129.5 871.4,1125.6 877.6,1130.8 869.6,1134" fill="#0000df"/><polygon points="660.6,1133.5 668.6,1132.2 674.8,1132.6 666.8,1134" fill="#0000df"/><polygon points="784.2,1124.8 792.3,1124.3 798.5,1124.4 790.4,1124.9" fill="#0000ff"/><polygon points="798.5,1124.4 806.5,1123.9 812.7,1128.4 804.6,1128.9" fill="#0000ef"/><polygon points="877.6,1130.8 885.6,1127 891.8,1132.2 883.8,1135.3" fill="#0000cf"/><polygon points="812.7,1128.4 820.7,1125.3 826.9,1129.8 818.9,1133" fill="#0000df"/><polygon points="638.3,1138.3 646.4,1135.7 652.6,1136.2 644.5,1138.8" fill="#0000cf"/><polygon points="747.8,1126.1 755.8,1125.6 762,1125.7 753.9,1126.2" fill="#0000ff"/><polygon points="826.9,1129.8 834.9,1126.7 841.1,1131.2 833.1,1134.3" fill="#0000df"/><polygon points="674.8,1132.6 682.9,1131.2 689,1131.7 681,1133" fill="#0000df"/><polygon points="711.3,1129.1 719.3,1127.7 725.5,1127.8 717.5,1129.2" fill="#0000ef"/><polygon points="841.1,1131.2 849.2,1128.1 855.3,1132.6 847.3,1135.7" fill="#0000df"/><polygon points="616.1,1143.2 624.1,1140.5 630.3,1141 622.2,1140.9" fill="#0000cf"/><polygon points="762,1125.7 770,1125.2 776.2,1125.3 768.2,1125.8" fill="#0010ff"/><polygon points="855.3,1132.6 863.4,1129.5 869.6,1134 861.5,1137.1" fill="#0000cf"/><polygon points="869.6,1134 877.6,1130.8 883.8,1135.3 875.7,1138.5" fill="#0000cf"/><polygon points="652.6,1136.2 660.6,1133.5 666.8,1134 658.7,1136.6" fill="#0000df"/><polygon points="689,1131.7 697.1,1130.3 703.2,1130.4 695.2,1131.8" fill="#0000ef"/><polygon points="725.5,1127.8 733.6,1126.4 739.7,1126.5 731.7,1127.9" fill="#0000ff"/><polygon points="883.8,1135.3 891.8,1132.2 898,1137.4 889.9,1140.5" fill="#0000cf"/><polygon points="593.8,1145.2 601.9,1145.3 608,1143 600,1142.9" fill="#0000cf"/><polygon points="804.6,1128.9 812.7,1128.4 818.9,1133 810.8,1133.4" fill="#0000ef"/><polygon points="776.2,1125.3 784.2,1124.8 790.4,1124.9 782.4,1125.4" fill="#0010ff"/><polygon points="818.9,1133 826.9,1129.8 833.1,1134.3 825,1137.5" fill="#0000df"/><polygon points="630.3,1141 638.3,1138.3 644.5,1138.8 636.5,1138.7" fill="#0000df"/><polygon points="790.4,1124.9 798.5,1124.4 804.6,1128.9 796.6,1129.4" fill="#0000ff"/><polygon points="833.1,1134.3 841.1,1131.2 847.3,1135.7 839.2,1138.8" fill="#0000cf"/><polygon points="739.7,1126.5 747.8,1126.1 753.9,1126.2 745.9,1126.7" fill="#0010ff"/><polygon points="666.8,1134 674.8,1132.6 681,1133 672.9,1134.4" fill="#0000ef"/><polygon points="703.2,1130.4 711.3,1129.1 717.5,1129.2 709.4,1130.5" fill="#0000ff"/><polygon points="847.3,1135.7 855.3,1132.6 861.5,1137.1 853.5,1140.2" fill="#0000cf"/><polygon points="608,1143 616.1,1143.2 622.2,1140.9 614.2,1140.8" fill="#0000df"/><polygon points="861.5,1137.1 869.6,1134 875.7,1138.5 867.7,1141.6" fill="#0000cf"/><polygon points="753.9,1126.2 762,1125.7 768.2,1125.8 760.1,1126.3" fill="#0010ff"/><polygon points="875.7,1138.5 883.8,1135.3 889.9,1140.5 881.9,1143.6" fill="#0000bf"/><polygon points="644.5,1138.8 652.6,1136.2 658.7,1136.6 650.7,1136.5" fill="#0000ef"/><polygon points="889.9,1140.5 898,1137.4 904.2,1142.5 896.1,1145.7" fill="#0000bf"/><polygon points="681,1133 689,1131.7 695.2,1131.8 687.2,1133.2" fill="#0000ef"/><polygon points="717.5,1129.2 725.5,1127.8 731.7,1127.9 723.6,1129.3" fill="#0000ff"/><polygon points="810.8,1133.4 818.9,1133 825,1137.5 817,1138" fill="#0000df"/><polygon points="825,1137.5 833.1,1134.3 839.2,1138.8 831.2,1142" fill="#0000cf"/><polygon points="796.6,1129.4 804.6,1128.9 810.8,1133.4 802.8,1133.9" fill="#0000ef"/><polygon points="768.2,1125.8 776.2,1125.3 782.4,1125.4 774.3,1125.9" fill="#0020ff"/><polygon points="839.2,1138.8 847.3,1135.7 853.5,1140.2 845.4,1143.3" fill="#0000cf"/><polygon points="622.2,1140.9 630.3,1141 636.5,1138.7 628.4,1138.6" fill="#0000ef"/><polygon points="782.4,1125.4 790.4,1124.9 796.6,1129.4 788.6,1129.9" fill="#0000ff"/><polygon points="695.2,1131.8 703.2,1130.4 709.4,1130.5 701.4,1131.9" fill="#0000ff"/><polygon points="658.7,1136.6 666.8,1134 672.9,1134.4 664.9,1134.3" fill="#0000ff"/><polygon points="853.5,1140.2 861.5,1137.1 867.7,1141.6 859.6,1144.7" fill="#0000cf"/><polygon points="731.7,1127.9 739.7,1126.5 745.9,1126.7 737.9,1128" fill="#0010ff"/><polygon points="867.7,1141.6 875.7,1138.5 881.9,1143.6 873.9,1146.8" fill="#0000bf"/><polygon points="881.9,1143.6 889.9,1140.5 896.1,1145.7 888.1,1148.8" fill="#0000bf"/><polygon points="896.1,1145.7 904.2,1142.5 910.3,1147.7 902.3,1150.8" fill="#0000af"/><polygon points="600,1142.9 608,1143 614.2,1140.8 606.2,1140.6" fill="#0000df"/><polygon points="745.9,1126.7 753.9,1126.2 760.1,1126.3 752.1,1126.8" fill="#0020ff"/><polygon points="636.5,1138.7 644.5,1138.8 650.7,1136.5 642.6,1136.4" fill="#0000ef"/><polygon points="709.4,1130.5 717.5,1129.2 723.6,1129.3 715.6,1130.7" fill="#0010ff"/><polygon points="817,1138 825,1137.5 831.2,1142 823.2,1142.5" fill="#0000df"/><polygon points="831.2,1142 839.2,1138.8 845.4,1143.3 837.4,1146.5" fill="#0000cf"/><polygon points="672.9,1134.4 681,1133 687.2,1133.2 679.1,1127.3" fill="#0020ff"/><polygon points="802.8,1133.9 810.8,1133.4 817,1138 808.9,1138.4" fill="#0000ef"/><polygon points="845.4,1143.3 853.5,1140.2 859.6,1144.7 851.6,1147.8" fill="#0000bf"/><polygon points="788.6,1129.9 796.6,1129.4 802.8,1133.9 794.7,1134.4" fill="#0000ff"/><polygon points="760.1,1126.3 768.2,1125.8 774.3,1125.9 766.3,1126.4" fill="#0020ff"/><polygon points="859.6,1144.7 867.7,1141.6 873.9,1146.8 865.8,1149.9" fill="#0000bf"/><polygon points="774.3,1125.9 782.4,1125.4 788.6,1129.9 780.5,1130.4" fill="#0010ff"/><polygon points="723.6,1129.3 731.7,1127.9 737.9,1128 729.8,1129.4" fill="#0010ff"/><polygon points="614.2,1140.8 622.2,1140.9 628.4,1138.6 620.4,1138.5" fill="#0000ef"/><polygon points="873.9,1146.8 881.9,1143.6 888.1,1148.8 880,1151.9" fill="#0000af"/><polygon points="650.7,1136.5 658.7,1136.6 664.9,1134.3 656.9,1134.2" fill="#0000ff"/><polygon points="888.1,1148.8 896.1,1145.7 902.3,1150.8 894.3,1154" fill="#0000af"/><polygon points="687.2,1133.2 695.2,1131.8 701.4,1131.9 693.3,1126" fill="#0030ff"/><polygon points="902.3,1150.8 910.3,1147.7 916.5,1152.9 908.5,1156" fill="#0000af"/><polygon points="737.9,1128 745.9,1126.7 752.1,1126.8 744,1128.2" fill="#0020ff"/><polygon points="823.2,1142.5 831.2,1142 837.4,1146.5 829.3,1147" fill="#0000cf"/><polygon points="837.4,1146.5 845.4,1143.3 851.6,1147.8 843.6,1151" fill="#0000bf"/><polygon points="628.4,1138.6 636.5,1138.7 642.6,1136.4 634.6,1136.3" fill="#0000ff"/><polygon points="808.9,1138.4 817,1138 823.2,1142.5 815.1,1142.9" fill="#0000df"/><polygon points="851.6,1147.8 859.6,1144.7 865.8,1149.9 857.8,1153" fill="#0000bf"/><polygon points="701.4,1131.9 709.4,1130.5 715.6,1130.7 707.6,1124.8" fill="#0040ff"/><polygon points="865.8,1149.9 873.9,1146.8 880,1151.9 872,1155" fill="#0000af"/><polygon points="794.7,1134.4 802.8,1133.9 808.9,1138.4 800.9,1138.9" fill="#0000ef"/><polygon points="880,1151.9 888.1,1148.8 894.3,1154 886.2,1157.1" fill="#0000af"/><polygon points="780.5,1130.4 788.6,1129.9 794.7,1134.4 786.7,1134.9" fill="#0010ff"/><polygon points="752.1,1126.8 760.1,1126.3 766.3,1126.4 758.2,1126.9" fill="#0030ff"/><polygon points="664.9,1134.3 672.9,1134.4 679.1,1127.3 671.1,1127.2" fill="#0030ff"/><polygon points="894.3,1154 902.3,1150.8 908.5,1156 900.4,1159.1" fill="#00009f"/><polygon points="766.3,1126.4 774.3,1125.9 780.5,1130.4 772.5,1130.9" fill="#0020ff"/><polygon points="908.5,1156 916.5,1152.9 922.7,1158 914.6,1161.2" fill="#00009f"/><polygon points="606.2,1140.6 614.2,1140.8 620.4,1138.5 612.3,1138.3" fill="#0000ff"/><polygon points="715.6,1130.7 723.6,1129.3 729.8,1129.4 721.8,1123.5" fill="#0040ff"/><polygon points="642.6,1136.4 650.7,1136.5 656.9,1134.2 648.8,1134.1" fill="#0010ff"/><polygon points="843.6,1151 851.6,1147.8 857.8,1153 849.7,1154" fill="#0000bf"/><polygon points="829.3,1147 837.4,1146.5 843.6,1151 835.5,1149.4" fill="#0000cf"/><polygon points="857.8,1153 865.8,1149.9 872,1155 864,1156" fill="#0000bf"/><polygon points="815.1,1142.9 823.2,1142.5 829.3,1147 821.3,1145.4" fill="#0000ef"/><polygon points="729.8,1129.4 737.9,1128 744,1128.2 736,1122.3" fill="#0050ff"/><polygon points="872,1155 880,1151.9 886.2,1157.1 878.2,1158" fill="#0000af"/><polygon points="620.4,1138.5 628.4,1138.6 634.6,1136.3 626.6,1136.2" fill="#0010ff"/><polygon points="800.9,1138.9 808.9,1138.4 815.1,1142.9 807.1,1141.4" fill="#0000ff"/><polygon points="886.2,1157.1 894.3,1154 900.4,1159.1 892.4,1160.1" fill="#0000af"/><polygon points="679.1,1127.3 687.2,1133.2 693.3,1126 685.3,1120.2" fill="#0060ff"/><polygon points="900.4,1159.1 908.5,1156 914.6,1161.2 906.6,1162.1" fill="#00009f"/><polygon points="786.7,1134.9 794.7,1134.4 800.9,1138.9 792.9,1137.3" fill="#0010ff"/><polygon points="914.6,1161.2 922.7,1158 928.9,1163.2 920.8,1164.2" fill="#00009f"/><polygon points="772.5,1130.9 780.5,1130.4 786.7,1134.9 778.6,1133.3" fill="#0020ff"/><polygon points="656.9,1134.2 664.9,1134.3 671.1,1127.2 663,1127.1" fill="#0040ff"/><polygon points="744,1128.2 752.1,1126.8 758.2,1126.9 750.2,1121" fill="#0060ff"/><polygon points="758.2,1126.9 766.3,1126.4 772.5,1130.9 764.4,1129.3" fill="#0030ff"/><polygon points="693.3,1126 701.4,1131.9 707.6,1124.8 699.5,1118.9" fill="#0060ff"/><polygon points="634.6,1136.3 642.6,1136.4 648.8,1134.1 640.8,1134" fill="#0020ff"/><polygon points="849.7,1154 857.8,1153 864,1156 855.9,1157" fill="#0000bf"/><polygon points="835.5,1149.4 843.6,1151 849.7,1154 841.7,1152.4" fill="#0000cf"/><polygon points="864,1156 872,1155 878.2,1158 870.1,1159" fill="#0000bf"/><polygon points="878.2,1158 886.2,1157.1 892.4,1160.1 884.3,1161" fill="#0000af"/><polygon points="821.3,1145.4 829.3,1147 835.5,1149.4 827.5,1147.8" fill="#0000ef"/><polygon points="707.6,1124.8 715.6,1130.7 721.8,1123.5 713.7,1117.7" fill="#0070ff"/><polygon points="892.4,1160.1 900.4,1159.1 906.6,1162.1 898.6,1163.1" fill="#0000af"/><polygon points="612.3,1138.3 620.4,1138.5 626.6,1136.2 618.5,1136.1" fill="#0020ff"/><polygon points="807.1,1141.4 815.1,1142.9 821.3,1145.4 813.3,1143.8" fill="#0000ff"/><polygon points="906.6,1162.1 914.6,1161.2 920.8,1164.2 912.8,1165.1" fill="#00009f"/><polygon points="792.9,1137.3 800.9,1138.9 807.1,1141.4 799,1139.8" fill="#0010ff"/><polygon points="778.6,1133.3 786.7,1134.9 792.9,1137.3 784.8,1135.8" fill="#0020ff"/><polygon points="648.8,1134.1 656.9,1134.2 663,1127.1 655,1127" fill="#0050ff"/><polygon points="721.8,1123.5 729.8,1129.4 736,1122.3 727.9,1116.4" fill="#0080ff"/><polygon points="671.1,1127.2 679.1,1127.3 685.3,1120.2 677.2,1120.1" fill="#0070ff"/><polygon points="764.4,1129.3 772.5,1130.9 778.6,1133.3 770.6,1131.7" fill="#0030ff"/><polygon points="626.6,1136.2 634.6,1136.3 640.8,1134 632.7,1133.9" fill="#0030ff"/><polygon points="855.9,1157 864,1156 870.1,1159 862.1,1160" fill="#0000bf"/><polygon points="750.2,1121 758.2,1126.9 764.4,1129.3 756.4,1123.5" fill="#0060ff"/><polygon points="841.7,1152.4 849.7,1154 855.9,1157 847.9,1155.4" fill="#0000df"/><polygon points="870.1,1159 878.2,1158 884.3,1161 876.3,1162" fill="#0000bf"/><polygon points="736,1122.3 744,1128.2 750.2,1121 742.2,1115.2" fill="#0080ff"/><polygon points="884.3,1161 892.4,1160.1 898.6,1163.1 890.5,1164.1" fill="#0000af"/><polygon points="827.5,1147.8 835.5,1149.4 841.7,1152.4 833.6,1150.8" fill="#0000ef"/><polygon points="898.6,1163.1 906.6,1162.1 912.8,1165.1 904.7,1166.1" fill="#0000af"/><polygon points="813.3,1143.8 821.3,1145.4 827.5,1147.8 819.4,1146.2" fill="#0000ff"/><polygon points="685.3,1120.2 693.3,1126 699.5,1118.9 691.5,1113.1" fill="#008fff"/><polygon points="799,1139.8 807.1,1141.4 813.3,1143.8 805.2,1142.2" fill="#0010ff"/><polygon points="784.8,1135.8 792.9,1137.3 799,1139.8 791,1138.2" fill="#0020ff"/><polygon points="640.8,1134 648.8,1134.1 655,1127 646.9,1126.9" fill="#0060ff"/><polygon points="663,1127.1 671.1,1127.2 677.2,1120.1 669.2,1120" fill="#0070ff"/><polygon points="770.6,1131.7 778.6,1133.3 784.8,1135.8 776.8,1134.2" fill="#0040ff"/><polygon points="699.5,1118.9 707.6,1124.8 713.7,1117.7 705.7,1111.8" fill="#009fff"/><polygon points="618.5,1136.1 626.6,1136.2 632.7,1133.9 624.7,1133.8" fill="#0040ff"/><polygon points="862.1,1160 870.1,1159 876.3,1162 868.3,1163" fill="#0000bf"/><polygon points="847.9,1155.4 855.9,1157 862.1,1160 854,1158.4" fill="#0000df"/><polygon points="876.3,1162 884.3,1161 890.5,1164.1 882.5,1165" fill="#0000bf"/><polygon points="756.4,1123.5 764.4,1129.3 770.6,1131.7 762.6,1125.9" fill="#0060ff"/><polygon points="890.5,1164.1 898.6,1163.1 904.7,1166.1 896.7,1167.1" fill="#0000af"/><polygon points="833.6,1150.8 841.7,1152.4 847.9,1155.4 839.8,1153.8" fill="#0000ef"/><polygon points="713.7,1117.7 721.8,1123.5 727.9,1116.4 719.9,1110.6" fill="#00afff"/><polygon points="819.4,1146.2 827.5,1147.8 833.6,1150.8 825.6,1149.2" fill="#0000ff"/><polygon points="805.2,1142.2 813.3,1143.8 819.4,1146.2 811.4,1144.6" fill="#0010ff"/><polygon points="742.2,1115.2 750.2,1121 756.4,1123.5 748.3,1117.6" fill="#008fff"/><polygon points="632.7,1133.9 640.8,1134 646.9,1126.9 638.9,1126.7" fill="#0060ff"/><polygon points="791,1138.2 799,1139.8 805.2,1142.2 797.2,1140.6" fill="#0030ff"/><polygon points="655,1127 663,1127.1 669.2,1120 661.2,1119.8" fill="#0080ff"/><polygon points="727.9,1116.4 736,1122.3 742.2,1115.2 734.1,1109.3" fill="#00afff"/><polygon points="677.2,1120.1 685.3,1120.2 691.5,1113.1 683.4,1112.9" fill="#009fff"/><polygon points="776.8,1134.2 784.8,1135.8 791,1138.2 783,1136.6" fill="#0040ff"/><polygon points="868.3,1163 876.3,1162 882.5,1165 874.4,1166" fill="#0000bf"/><polygon points="854,1158.4 862.1,1160 868.3,1163 860.2,1161.4" fill="#0000df"/><polygon points="882.5,1165 890.5,1164.1 896.7,1167.1 888.7,1168" fill="#0000bf"/><polygon points="762.6,1125.9 770.6,1131.7 776.8,1134.2 768.7,1128.3" fill="#0060ff"/><polygon points="839.8,1153.8 847.9,1155.4 854,1158.4 846,1156.8" fill="#0000ef"/><polygon points="825.6,1149.2 833.6,1150.8 839.8,1153.8 831.8,1152.2" fill="#0000ff"/><polygon points="691.5,1113.1 699.5,1118.9 705.7,1111.8 697.6,1105.9" fill="#00cfff"/><polygon points="811.4,1144.6 819.4,1146.2 825.6,1149.2 817.6,1147.6" fill="#0020ff"/><polygon points="748.3,1117.6 756.4,1123.5 762.6,1125.9 754.5,1120" fill="#008fff"/><polygon points="646.9,1126.9 655,1127 661.2,1119.8 653.1,1119.7" fill="#008fff"/><polygon points="797.2,1140.6 805.2,1142.2 811.4,1144.6 803.3,1143" fill="#0030ff"/><polygon points="624.7,1133.8 632.7,1133.9 638.9,1126.7 630.9,1124.5" fill="#0080ff"/><polygon points="669.2,1120 677.2,1120.1 683.4,1112.9 675.4,1112.8" fill="#00afff"/><polygon points="783,1136.6 791,1138.2 797.2,1140.6 789.1,1139" fill="#0040ff"/><polygon points="705.7,1111.8 713.7,1117.7 719.9,1110.6 711.9,1104.7" fill="#00cfff"/><polygon points="874.4,1166 882.5,1165 888.7,1168 880.6,1169" fill="#0000bf"/><polygon points="860.2,1161.4 868.3,1163 874.4,1166 866.4,1164.4" fill="#0000df"/><polygon points="768.7,1128.3 776.8,1134.2 783,1136.6 774.9,1130.7" fill="#0070ff"/><polygon points="846,1156.8 854,1158.4 860.2,1161.4 852.2,1159.8" fill="#0000ef"/><polygon points="734.1,1109.3 742.2,1115.2 748.3,1117.6 740.3,1111.7" fill="#00afff"/><polygon points="719.9,1110.6 727.9,1116.4 734.1,1109.3 726.1,1103.4" fill="#00dfff"/><polygon points="831.8,1152.2 839.8,1153.8 846,1156.8 838,1155.2" fill="#0000ff"/><polygon points="817.6,1147.6 825.6,1149.2 831.8,1152.2 823.7,1150.6" fill="#0020ff"/><polygon points="803.3,1143 811.4,1144.6 817.6,1147.6 809.5,1146" fill="#0030ff"/><polygon points="754.5,1120 762.6,1125.9 768.7,1128.3 760.7,1122.4" fill="#008fff"/><polygon points="661.2,1119.8 669.2,1120 675.4,1112.8 667.3,1112.7" fill="#00bfff"/><polygon points="638.9,1126.7 646.9,1126.9 653.1,1119.7 645.1,1117.5" fill="#00afff"/><polygon points="683.4,1112.9 691.5,1113.1 697.6,1105.9 689.6,1105.8" fill="#00dfff"/><polygon points="789.1,1139 797.2,1140.6 803.3,1143 795.3,1141.4" fill="#0040ff"/><polygon points="866.4,1164.4 874.4,1166 880.6,1169 872.6,1168.9" fill="#0000cf"/><polygon points="852.2,1159.8 860.2,1161.4 866.4,1164.4 858.3,1164.3" fill="#0000df"/><polygon points="774.9,1130.7 783,1136.6 789.1,1139 781.1,1133.1" fill="#0070ff"/><polygon points="838,1155.2 846,1156.8 852.2,1159.8 844.1,1159.7" fill="#0000ff"/><polygon points="740.3,1111.7 748.3,1117.6 754.5,1120 746.5,1114.1" fill="#00bfff"/><polygon points="823.7,1150.6 831.8,1152.2 838,1155.2 829.9,1155.1" fill="#0010ff"/><polygon points="697.6,1105.9 705.7,1111.8 711.9,1104.7 703.8,1098.8" fill="#00ffff"/><polygon points="809.5,1146 817.6,1147.6 823.7,1150.6 815.7,1150.5" fill="#0020ff"/><polygon points="675.4,1112.8 683.4,1112.9 689.6,1105.8 681.6,1105.7" fill="#00dfff"/><polygon points="760.7,1122.4 768.7,1128.3 774.9,1130.7 766.9,1124.9" fill="#008fff"/><polygon points="653.1,1119.7 661.2,1119.8 667.3,1112.7 659.3,1110.5" fill="#00cfff"/><polygon points="795.3,1141.4 803.3,1143 809.5,1146 801.5,1145.9" fill="#0040ff"/><polygon points="726.1,1103.4 734.1,1109.3 740.3,1111.7 732.3,1105.9" fill="#00dfff"/><polygon points="630.9,1124.5 638.9,1126.7 645.1,1117.5 637,1115.2" fill="#00bfff"/><polygon points="711.9,1104.7 719.9,1110.6 726.1,1103.4 718,1097.6" fill="#10ffef"/><polygon points="858.3,1164.3 866.4,1164.4 872.6,1168.9 864.5,1168.8" fill="#0000df"/><polygon points="844.1,1159.7 852.2,1159.8 858.3,1164.3 850.3,1164.2" fill="#0000ef"/><polygon points="829.9,1155.1 838,1155.2 844.1,1159.7 836.1,1159.6" fill="#0010ff"/><polygon points="746.5,1114.1 754.5,1120 760.7,1122.4 752.6,1116.6" fill="#00bfff"/><polygon points="781.1,1133.1 789.1,1139 795.3,1141.4 787.3,1129.7" fill="#008fff"/><polygon points="815.7,1150.5 823.7,1150.6 829.9,1155.1 821.9,1155" fill="#0020ff"/><polygon points="801.5,1145.9 809.5,1146 815.7,1150.5 807.7,1150.4" fill="#0030ff"/><polygon points="689.6,1105.8 697.6,1105.9 703.8,1098.8 695.8,1098.7" fill="#10ffef"/><polygon points="667.3,1112.7 675.4,1112.8 681.6,1105.7 673.5,1103.5" fill="#00ffff"/><polygon points="732.3,1105.9 740.3,1111.7 746.5,1114.1 738.4,1108.3" fill="#00dfff"/><polygon points="645.1,1117.5 653.1,1119.7 659.3,1110.5 651.3,1108.2" fill="#00efff"/><polygon points="766.9,1124.9 774.9,1130.7 781.1,1133.1 773,1121.5" fill="#00bfff"/><polygon points="850.3,1164.2 858.3,1164.3 864.5,1168.8 856.5,1168.7" fill="#0000ef"/><polygon points="836.1,1159.6 844.1,1159.7 850.3,1164.2 842.3,1164.1" fill="#0000ff"/><polygon points="821.9,1155 829.9,1155.1 836.1,1159.6 828,1159.5" fill="#0010ff"/><polygon points="718,1097.6 726.1,1103.4 732.3,1105.9 724.2,1100" fill="#10ffef"/><polygon points="787.3,1129.7 795.3,1141.4 801.5,1145.9 793.4,1134.3" fill="#0080ff"/><polygon points="807.7,1150.4 815.7,1150.5 821.9,1155 813.8,1154.9" fill="#0030ff"/><polygon points="752.6,1116.6 760.7,1122.4 766.9,1124.9 758.8,1113.2" fill="#00dfff"/><polygon points="703.8,1098.8 711.9,1104.7 718,1097.6 710,1091.7" fill="#40ffbf"/><polygon points="681.6,1105.7 689.6,1105.8 695.8,1098.7 687.7,1096.5" fill="#30ffcf"/><polygon points="842.3,1164.1 850.3,1164.2 856.5,1168.7 848.4,1168.6" fill="#0000ff"/><polygon points="659.3,1110.5 667.3,1112.7 673.5,1103.5 665.5,1101.2" fill="#10ffef"/><polygon points="738.4,1108.3 746.5,1114.1 752.6,1116.6 744.6,1104.9" fill="#10ffef"/><polygon points="828,1159.5 836.1,1159.6 842.3,1164.1 834.2,1164" fill="#0010ff"/><polygon points="637,1115.2 645.1,1117.5 651.3,1108.2 643.2,1106" fill="#00ffff"/><polygon points="793.4,1134.3 801.5,1145.9 807.7,1150.4 799.6,1138.8" fill="#0080ff"/><polygon points="813.8,1154.9 821.9,1155 828,1159.5 820,1159.4" fill="#0020ff"/><polygon points="773,1121.5 781.1,1133.1 787.3,1129.7 779.2,1118.1" fill="#00dfff"/><polygon points="724.2,1100 732.3,1105.9 738.4,1108.3 730.4,1096.6" fill="#30ffcf"/><polygon points="695.8,1098.7 703.8,1098.8 710,1091.7 702,1089.5" fill="#50ffaf"/><polygon points="834.2,1164 842.3,1164.1 848.4,1168.6 840.4,1168.5" fill="#0000ff"/><polygon points="758.8,1113.2 766.9,1124.9 773,1121.5 765,1109.8" fill="#00ffff"/><polygon points="673.5,1103.5 681.6,1105.7 687.7,1096.5 679.7,1094.2" fill="#40ffbf"/><polygon points="799.6,1138.8 807.7,1150.4 813.8,1154.9 805.8,1143.3" fill="#0070ff"/><polygon points="820,1159.4 828,1159.5 834.2,1164 826.2,1163.9" fill="#0020ff"/><polygon points="651.3,1108.2 659.3,1110.5 665.5,1101.2 657.4,1099" fill="#30ffcf"/><polygon points="710,1091.7 718,1097.6 724.2,1100 716.2,1088.3" fill="#60ff9f"/><polygon points="744.6,1104.9 752.6,1116.6 758.8,1113.2 750.8,1101.5" fill="#30ffcf"/><polygon points="779.2,1118.1 787.3,1129.7 793.4,1134.3 785.4,1122.6" fill="#00cfff"/><polygon points="805.8,1143.3 813.8,1154.9 820,1159.4 812,1147.8" fill="#0070ff"/><polygon points="826.2,1163.9 834.2,1164 840.4,1168.5 832.4,1168.5" fill="#0010ff"/><polygon points="687.7,1096.5 695.8,1098.7 702,1089.5 693.9,1087.2" fill="#70ff8f"/><polygon points="730.4,1096.6 738.4,1108.3 744.6,1104.9 736.6,1093.2" fill="#50ffaf"/><polygon points="665.5,1101.2 673.5,1103.5 679.7,1094.2 671.6,1092" fill="#60ff9f"/><polygon points="643.2,1106 651.3,1108.2 657.4,1099 649.4,1096.7" fill="#50ffaf"/><polygon points="785.4,1122.6 793.4,1134.3 799.6,1138.8 791.6,1127.1" fill="#00cfff"/><polygon points="765,1109.8 773,1121.5 779.2,1118.1 771.2,1106.4" fill="#20ffdf"/><polygon points="716.2,1088.3 724.2,1100 730.4,1096.6 722.3,1084.9" fill="#80ff80"/><polygon points="812,1147.8 820,1159.4 826.2,1163.9 818.1,1152.3" fill="#0070ff"/><polygon points="702,1089.5 710,1091.7 716.2,1088.3 708.1,1086.1" fill="#70ff8f"/><polygon points="750.8,1101.5 758.8,1113.2 765,1109.8 757,1098.1" fill="#50ffaf"/><polygon points="679.7,1094.2 687.7,1096.5 693.9,1087.2 685.9,1085" fill="#80ff80"/><polygon points="791.6,1127.1 799.6,1138.8 805.8,1143.3 797.7,1131.6" fill="#00bfff"/><polygon points="818.1,1152.3 826.2,1163.9 832.4,1168.5 824.3,1163.1" fill="#0040ff"/><polygon points="657.4,1099 665.5,1101.2 671.6,1092 663.6,1089.7" fill="#70ff8f"/><polygon points="736.6,1093.2 744.6,1104.9 750.8,1101.5 742.7,1089.8" fill="#80ff80"/><polygon points="771.2,1106.4 779.2,1118.1 785.4,1122.6 777.3,1110.9" fill="#20ffdf"/><polygon points="693.9,1087.2 702,1089.5 708.1,1086.1 700.1,1083.8" fill="#8fff70"/><polygon points="797.7,1131.6 805.8,1143.3 812,1147.8 803.9,1136.1" fill="#00bfff"/><polygon points="722.3,1084.9 730.4,1096.6 736.6,1093.2 728.5,1081.5" fill="#9fff60"/><polygon points="708.1,1086.1 716.2,1088.3 722.3,1084.9 714.3,1082.7" fill="#9fff60"/><polygon points="671.6,1092 679.7,1094.2 685.9,1085 677.8,1082.7" fill="#9fff60"/><polygon points="649.4,1096.7 657.4,1099 663.6,1089.7 655.6,1087.5" fill="#8fff70"/><polygon points="777.3,1110.9 785.4,1122.6 791.6,1127.1 783.5,1115.4" fill="#20ffdf"/><polygon points="803.9,1136.1 812,1147.8 818.1,1152.3 810.1,1147" fill="#008fff"/><polygon points="757,1098.1 765,1109.8 771.2,1106.4 763.1,1094.7" fill="#70ff8f"/><polygon points="810.1,1147 818.1,1152.3 824.3,1163.1 816.3,1157.8" fill="#0060ff"/><polygon points="685.9,1085 693.9,1087.2 700.1,1083.8 692,1081.6" fill="#9fff60"/><polygon points="742.7,1089.8 750.8,1101.5 757,1098.1 748.9,1086.4" fill="#9fff60"/><polygon points="783.5,1115.4 791.6,1127.1 797.7,1131.6 789.7,1119.9" fill="#10ffef"/><polygon points="700.1,1083.8 708.1,1086.1 714.3,1082.7 706.3,1080.4" fill="#afff50"/><polygon points="663.6,1089.7 671.6,1092 677.8,1082.7 669.8,1080.5" fill="#afff50"/><polygon points="728.5,1081.5 736.6,1093.2 742.7,1089.8 734.7,1078.1" fill="#bfff40"/><polygon points="714.3,1082.7 722.3,1084.9 728.5,1081.5 720.5,1079.3" fill="#bfff40"/><polygon points="763.1,1094.7 771.2,1106.4 777.3,1110.9 769.3,1099.2" fill="#70ff8f"/><polygon points="789.7,1119.9 797.7,1131.6 803.9,1136.1 795.9,1130.8" fill="#00dfff"/><polygon points="677.8,1082.7 685.9,1085 692,1081.6 684,1079.3" fill="#bfff40"/><polygon points="795.9,1130.8 803.9,1136.1 810.1,1147 802,1141.6" fill="#00bfff"/><polygon points="802,1141.6 810.1,1147 816.3,1157.8 808.2,1152.5" fill="#008fff"/><polygon points="692,1081.6 700.1,1083.8 706.3,1080.4 698.2,1078.2" fill="#cfff30"/><polygon points="769.3,1099.2 777.3,1110.9 783.5,1115.4 775.5,1103.7" fill="#60ff9f"/><polygon points="655.6,1087.5 663.6,1089.7 669.8,1080.5 661.7,1078.2" fill="#cfff30"/><polygon points="748.9,1086.4 757,1098.1 763.1,1094.7 755.1,1083" fill="#bfff40"/><polygon points="706.3,1080.4 714.3,1082.7 720.5,1079.3 712.4,1077" fill="#cfff30"/><polygon points="775.5,1103.7 783.5,1115.4 789.7,1119.9 781.7,1114.6" fill="#40ffbf"/><polygon points="734.7,1078.1 742.7,1089.8 748.9,1086.4 740.9,1074.7" fill="#efff10"/><polygon points="669.8,1080.5 677.8,1082.7 684,1079.3 676,1077.1" fill="#dfff20"/><polygon points="720.5,1079.3 728.5,1081.5 734.7,1078.1 726.7,1075.9" fill="#dfff20"/><polygon points="781.7,1114.6 789.7,1119.9 795.9,1130.8 787.8,1125.4" fill="#10ffef"/><polygon points="787.8,1125.4 795.9,1130.8 802,1141.6 794,1136.3" fill="#00dfff"/><polygon points="684,1079.3 692,1081.6 698.2,1078.2 690.2,1075.9" fill="#dfff20"/><polygon points="794,1136.3 802,1141.6 808.2,1152.5 800.2,1147.2" fill="#00bfff"/><polygon points="755.1,1083 763.1,1094.7 769.3,1099.2 761.3,1087.5" fill="#bfff40"/><polygon points="698.2,1078.2 706.3,1080.4 712.4,1077 704.4,1074.8" fill="#efff10"/><polygon points="712.4,1077 720.5,1079.3 726.7,1075.9 718.6,1073.6" fill="#ffff00"/><polygon points="761.3,1087.5 769.3,1099.2 775.5,1103.7 767.4,1098.4" fill="#8fff70"/><polygon points="661.7,1078.2 669.8,1080.5 676,1077.1 667.9,1067.8" fill="#ffdf00"/><polygon points="767.4,1098.4 775.5,1103.7 781.7,1114.6 773.6,1109.3" fill="#60ff9f"/><polygon points="740.9,1074.7 748.9,1086.4 755.1,1083 747,1071.4" fill="#ffef00"/><polygon points="726.7,1075.9 734.7,1078.1 740.9,1074.7 732.8,1072.5" fill="#ffff00"/><polygon points="773.6,1109.3 781.7,1114.6 787.8,1125.4 779.8,1120.1" fill="#40ffbf"/><polygon points="676,1077.1 684,1079.3 690.2,1075.9 682.1,1066.7" fill="#ffdf00"/><polygon points="779.8,1120.1 787.8,1125.4 794,1136.3 786,1131" fill="#10ffef"/><polygon points="786,1131 794,1136.3 800.2,1147.2 792.1,1141.9" fill="#00dfff"/><polygon points="690.2,1075.9 698.2,1078.2 704.4,1074.8 696.3,1065.5" fill="#ffcf00"/><polygon points="704.4,1074.8 712.4,1077 718.6,1073.6 710.6,1064.4" fill="#ffcf00"/><polygon points="747,1071.4 755.1,1083 761.3,1087.5 753.2,1082.2" fill="#dfff20"/><polygon points="753.2,1082.2 761.3,1087.5 767.4,1098.4 759.4,1093.1" fill="#bfff40"/><polygon points="718.6,1073.6 726.7,1075.9 732.8,1072.5 724.8,1063.2" fill="#ffbf00"/><polygon points="759.4,1093.1 767.4,1098.4 773.6,1109.3 765.6,1103.9" fill="#8fff70"/><polygon points="765.6,1103.9 773.6,1109.3 779.8,1120.1 771.7,1114.8" fill="#60ff9f"/><polygon points="771.7,1114.8 779.8,1120.1 786,1131 777.9,1125.7" fill="#40ffbf"/><polygon points="732.8,1072.5 740.9,1074.7 747,1071.4 739,1062.1" fill="#ffaf00"/><polygon points="667.9,1067.8 676,1077.1 682.1,1066.7 674.1,1057.4" fill="#ff9f00"/><polygon points="777.9,1125.7 786,1131 792.1,1141.9 784.1,1136.5" fill="#10ffef"/><polygon points="682.1,1066.7 690.2,1075.9 696.3,1065.5 688.3,1056.3" fill="#ff8f00"/><polygon points="696.3,1065.5 704.4,1074.8 710.6,1064.4 702.5,1055.1" fill="#ff8f00"/><polygon points="739,1062.1 747,1071.4 753.2,1082.2 745.2,1073" fill="#ffdf00"/><polygon points="745.2,1073 753.2,1082.2 759.4,1093.1 751.4,1083.8" fill="#efff10"/><polygon points="710.6,1064.4 718.6,1073.6 724.8,1063.2 716.7,1054" fill="#ff8000"/><polygon points="751.4,1083.8 759.4,1093.1 765.6,1103.9 757.5,1094.7" fill="#cfff30"/><polygon points="757.5,1094.7 765.6,1103.9 771.7,1114.8 763.7,1105.5" fill="#9fff60"/><polygon points="763.7,1105.5 771.7,1114.8 777.9,1125.7 769.9,1116.4" fill="#80ff80"/><polygon points="724.8,1063.2 732.8,1072.5 739,1062.1 731,1052.8" fill="#ff7000"/><polygon points="769.9,1116.4 777.9,1125.7 784.1,1136.5 776.1,1122.8" fill="#60ff9f"/><polygon points="674.1,1057.4 682.1,1066.7 688.3,1056.3 680.3,1047" fill="#ff5000"/><polygon points="688.3,1056.3 696.3,1065.5 702.5,1055.1 694.5,1045.8" fill="#ff5000"/><polygon points="731,1052.8 739,1062.1 745.2,1073 737.1,1063.7" fill="#ff9f00"/><polygon points="737.1,1063.7 745.2,1073 751.4,1083.8 743.3,1074.6" fill="#ffcf00"/><polygon points="702.5,1055.1 710.6,1064.4 716.7,1054 708.7,1044.7" fill="#ff4000"/><polygon points="743.3,1074.6 751.4,1083.8 757.5,1094.7 749.5,1085.4" fill="#ffef00"/><polygon points="749.5,1085.4 757.5,1094.7 763.7,1105.5 755.7,1096.3" fill="#dfff20"/><polygon points="716.7,1054 724.8,1063.2 731,1052.8 722.9,1043.6" fill="#ff3000"/><polygon points="755.7,1096.3 763.7,1105.5 769.9,1116.4 761.8,1102.6" fill="#cfff30"/><polygon points="761.8,1102.6 769.9,1116.4 776.1,1122.8 768,1109" fill="#bfff40"/><polygon points="680.3,1047 688.3,1056.3 694.5,1045.8 686.4,1036.6" fill="#ff1000"/><polygon points="722.9,1043.6 731,1052.8 737.1,1063.7 729.1,1054.4" fill="#ff6000"/><polygon points="729.1,1054.4 737.1,1063.7 743.3,1074.6 735.3,1065.3" fill="#ff8f00"/><polygon points="694.5,1045.8 702.5,1055.1 708.7,1044.7 700.7,1035.4" fill="#ff0000"/><polygon points="735.3,1065.3 743.3,1074.6 749.5,1085.4 741.4,1076.1" fill="#ffaf00"/><polygon points="741.4,1076.1 749.5,1085.4 755.7,1096.3 747.6,1082.5" fill="#ffbf00"/><polygon points="708.7,1044.7 716.7,1054 722.9,1043.6 714.9,1034.3" fill="#ef0000"/><polygon points="747.6,1082.5 755.7,1096.3 761.8,1102.6 753.8,1088.9" fill="#ffdf00"/><polygon points="753.8,1088.9 761.8,1102.6 768,1109 760,1095.3" fill="#ffef00"/><polygon points="714.9,1034.3 722.9,1043.6 729.1,1054.4 721,1045.2" fill="#ff2000"/><polygon points="721,1045.2 729.1,1054.4 735.3,1065.3 727.2,1056" fill="#ff5000"/><polygon points="686.4,1036.6 694.5,1045.8 700.7,1035.4 692.6,1026.2" fill="#bf0000"/><polygon points="727.2,1056 735.3,1065.3 741.4,1076.1 733.4,1062.4" fill="#ff6000"/><polygon points="700.7,1035.4 708.7,1044.7 714.9,1034.3 706.8,1025" fill="#af0000"/><polygon points="733.4,1062.4 741.4,1076.1 747.6,1082.5 739.6,1068.8" fill="#ff7000"/><polygon points="739.6,1068.8 747.6,1082.5 753.8,1088.9 745.7,1075.1" fill="#ff8000"/><polygon points="706.8,1025 714.9,1034.3 721,1045.2 713,1035.9" fill="#df0000"/><polygon points="745.7,1075.1 753.8,1088.9 760,1095.3 751.9,1081.5" fill="#ff8f00"/><polygon points="713,1035.9 721,1045.2 727.2,1056 719.2,1042.3" fill="#ef0000"/><polygon points="692.6,1026.2 700.7,1035.4 706.8,1025 698.8,1015.8" fill="#800000"/><polygon points="719.2,1042.3 727.2,1056 733.4,1062.4 725.4,1048.6" fill="#ff0000"/><polygon points="725.4,1048.6 733.4,1062.4 739.6,1068.8 731.5,1055" fill="#ff1000"/><polygon points="731.5,1055 739.6,1068.8 745.7,1075.1 737.7,1061.4" fill="#ff3000"/><polygon points="698.8,1015.8 706.8,1025 713,1035.9 705,1022.1" fill="#8f0000"/><polygon points="705,1022.1 713,1035.9 719.2,1042.3 711.1,1028.5" fill="#9f0000"/><polygon points="737.7,1061.4 745.7,1075.1 751.9,1081.5 743.9,1067.7" fill="#ff4000"/><polygon points="711.1,1028.5 719.2,1042.3 725.4,1048.6 717.3,1034.9" fill="#af0000"/><polygon points="717.3,1034.9 725.4,1048.6 731.5,1055 723.5,1041.2" fill="#bf0000"/><polygon points="723.5,1041.2 731.5,1055 737.7,1061.4 729.7,1047.6" fill="#cf0000"/><polygon points="729.7,1047.6 737.7,1061.4 743.9,1067.7 735.8,1054" fill="#df0000"/></g>
<g font-family='"Liberation Sans", sans-serif' font-size="9.9" fill="#111"><text x="711.55" y="1238.94" text-anchor="end">−0.6</text><text x="756.09" y="1241.19">−0.6</text><text x="674.5" y="1220.47" text-anchor="end">−0.3</text><text x="804.34" y="1227.04">−0.3</text><text x="637.45" y="1202" text-anchor="end">0</text><text x="852.6" y="1212.9">0</text><text x="600.4" y="1183.53" text-anchor="end">0.3</text><text x="900.86" y="1198.76">0.3</text><text x="563.35" y="1165.06" text-anchor="end">0.6</text><text x="949.11" y="1184.61">0.6</text><text x="551" y="1118.42" text-anchor="end">0.5</text><text x="551" y="1085.52" text-anchor="end">1</text><text x="551" y="1052.63" text-anchor="end">1.5</text><text x="551" y="1019.73" text-anchor="end">2</text><text x="551" y="986.83" text-anchor="end">2.5</text></g>
<text transform="translate(530.6,1053) rotate(-90)" text-anchor="middle" font-family='"Liberation Sans", sans-serif' font-size="10.2" fill="#111">RMSE</text>
<text x="636.8" y="1251.1" text-anchor="middle" font-family='"Liberation Serif", serif' font-size="13" fill="#111">ρ</text>
<text x="840" y="1255.8" text-anchor="middle" font-family='"Liberation Serif", serif' font-size="13" fill="#111">λ</text>
<g shape-rendering="crispEdges"><rect x="971.8" y="892.65" width="20.9" height="5.62" fill="#800000"/><rect x="971.8" y="897.97" width="20.9" height="5.62" fill="#8f0000"/><rect x="971.8" y="903.29" width="20.9" height="5.62" fill="#9f0000"/><rect x="971.8" y="908.62" width="20.9" height="5.62" fill="#af0000"/><rect x="971.8" y="913.94" width="20.9" height="5.62" fill="#bf0000"/><rect x="971.8" y="919.26" width="20.9" height="5.62" fill="#cf0000"/><rect x="971.8" y="924.58" width="20.9" height="5.62" fill="#df0000"/><rect x="971.8" y="929.9" width="20.9" height="5.62" fill="#ef0000"/><rect x="971.8" y="935.23" width="20.9" height="5.62" fill="#ff0000"/><rect x="971.8" y="940.55" width="20.9" height="5.62" fill="#ff1000"/><rect x="971.8" y="945.87" width="20.9" height="5.62" fill="#ff2000"/><rect x="971.8" y="951.19" width="20.9" height="5.62" fill="#ff3000"/><rect x="971.8" y="956.51" width="20.9" height="5.62" fill="#ff4000"/><rect x="971.8" y="961.83" width="20.9" height="5.62" fill="#ff5000"/><rect x="971.8" y="967.16" width="20.9" height="5.62" fill="#ff6000"/><rect x="971.8" y="972.48" width="20.9" height="5.62" fill="#ff7000"/><rect x="971.8" y="977.8" width="20.9" height="5.62" fill="#ff8000"/><rect x="971.8" y="983.12" width="20.9" height="5.62" fill="#ff8f00"/><rect x="971.8" y="988.44" width="20.9" height="5.62" fill="#ff9f00"/><rect x="971.8" y="993.77" width="20.9" height="5.62" fill="#ffaf00"/><rect x="971.8" y="999.09" width="20.9" height="5.62" fill="#ffbf00"/><rect x="971.8" y="1004.41" width="20.9" height="5.62" fill="#ffcf00"/><rect x="971.8" y="1009.73" width="20.9" height="5.62" fill="#ffdf00"/><rect x="971.8" y="1015.05" width="20.9" height="5.62" fill="#ffef00"/><rect x="971.8" y="1020.38" width="20.9" height="5.62" fill="#ffff00"/><rect x="971.8" y="1025.7" width="20.9" height="5.62" fill="#efff10"/><rect x="971.8" y="1031.02" width="20.9" height="5.62" fill="#dfff20"/><rect x="971.8" y="1036.34" width="20.9" height="5.62" fill="#cfff30"/><rect x="971.8" y="1041.66" width="20.9" height="5.62" fill="#bfff40"/><rect x="971.8" y="1046.98" width="20.9" height="5.62" fill="#afff50"/><rect x="971.8" y="1052.31" width="20.9" height="5.62" fill="#9fff60"/><rect x="971.8" y="1057.63" width="20.9" height="5.62" fill="#8fff70"/><rect x="971.8" y="1062.95" width="20.9" height="5.62" fill="#80ff80"/><rect x="971.8" y="1068.27" width="20.9" height="5.62" fill="#70ff8f"/><rect x="971.8" y="1073.59" width="20.9" height="5.62" fill="#60ff9f"/><rect x="971.8" y="1078.92" width="20.9" height="5.62" fill="#50ffaf"/><rect x="971.8" y="1084.24" width="20.9" height="5.62" fill="#40ffbf"/><rect x="971.8" y="1089.56" width="20.9" height="5.62" fill="#30ffcf"/><rect x="971.8" y="1094.88" width="20.9" height="5.62" fill="#20ffdf"/><rect x="971.8" y="1100.2" width="20.9" height="5.62" fill="#10ffef"/><rect x="971.8" y="1105.52" width="20.9" height="5.62" fill="#00ffff"/><rect x="971.8" y="1110.85" width="20.9" height="5.62" fill="#00efff"/><rect x="971.8" y="1116.17" width="20.9" height="5.62" fill="#00dfff"/><rect x="971.8" y="1121.49" width="20.9" height="5.62" fill="#00cfff"/><rect x="971.8" y="1126.81" width="20.9" height="5.62" fill="#00bfff"/><rect x="971.8" y="1132.13" width="20.9" height="5.62" fill="#00afff"/><rect x="971.8" y="1137.46" width="20.9" height="5.62" fill="#009fff"/><rect x="971.8" y="1142.78" width="20.9" height="5.62" fill="#008fff"/><rect x="971.8" y="1148.1" width="20.9" height="5.62" fill="#0080ff"/><rect x="971.8" y="1153.42" width="20.9" height="5.62" fill="#0070ff"/><rect x="971.8" y="1158.74" width="20.9" height="5.62" fill="#0060ff"/><rect x="971.8" y="1164.07" width="20.9" height="5.62" fill="#0050ff"/><rect x="971.8" y="1169.39" width="20.9" height="5.62" fill="#0040ff"/><rect x="971.8" y="1174.71" width="20.9" height="5.62" fill="#0030ff"/><rect x="971.8" y="1180.03" width="20.9" height="5.62" fill="#0020ff"/><rect x="971.8" y="1185.35" width="20.9" height="5.62" fill="#0010ff"/><rect x="971.8" y="1190.67" width="20.9" height="5.62" fill="#0000ff"/><rect x="971.8" y="1196" width="20.9" height="5.62" fill="#0000ef"/><rect x="971.8" y="1201.32" width="20.9" height="5.62" fill="#0000df"/><rect x="971.8" y="1206.64" width="20.9" height="5.62" fill="#0000cf"/><rect x="971.8" y="1211.96" width="20.9" height="5.62" fill="#0000bf"/><rect x="971.8" y="1217.28" width="20.9" height="5.62" fill="#0000af"/><rect x="971.8" y="1222.61" width="20.9" height="5.62" fill="#00009f"/><rect x="971.8" y="1227.93" width="20.9" height="5.62" fill="#00008f"/></g>
<rect x="971.8" y="892.7" width="20.9" height="340.6" fill="none" stroke="#222" stroke-width="0.9"/>
<g stroke="#111" stroke-width="0.9"><line x1="971.8" y1="1180.7" x2="975.4" y2="1180.7"/><line x1="989.1" y1="1180.7" x2="992.7" y2="1180.7"/><line x1="971.8" y1="1121.19" x2="975.4" y2="1121.19"/><line x1="989.1" y1="1121.19" x2="992.7" y2="1121.19"/><line x1="971.8" y1="1061.69" x2="975.4" y2="1061.69"/><line x1="989.1" y1="1061.69" x2="992.7" y2="1061.69"/><line x1="971.8" y1="1002.19" x2="975.4" y2="1002.19"/><line x1="989.1" y1="1002.19" x2="992.7" y2="1002.19"/><line x1="971.8" y1="942.68" x2="975.4" y2="942.68"/><line x1="989.1" y1="942.68" x2="992.7" y2="942.68"/></g>
<clipPath id="cbtf"><rect x="992.7" y="892.9" width="60" height="360"/></clipPath>
<g clip-path="url(#cbtf)" font-family='"Liberation Sans", sans-serif' font-size="9.9" fill="#111"><text x="995.9" y="1184.3">0.5</text><text x="995.9" y="1124.79">1</text><text x="995.9" y="1065.29">1.5</text><text x="995.9" y="1005.79">2</text><text x="995.9" y="946.28">2.5</text></g>
<text x="777.8" y="1302" text-anchor="middle" font-family='"Liberation Serif", serif' font-size="27.2" fill="#111">(<tspan font-weight="bold">f</tspan>)</text></g>
</svg>
</body></html>
